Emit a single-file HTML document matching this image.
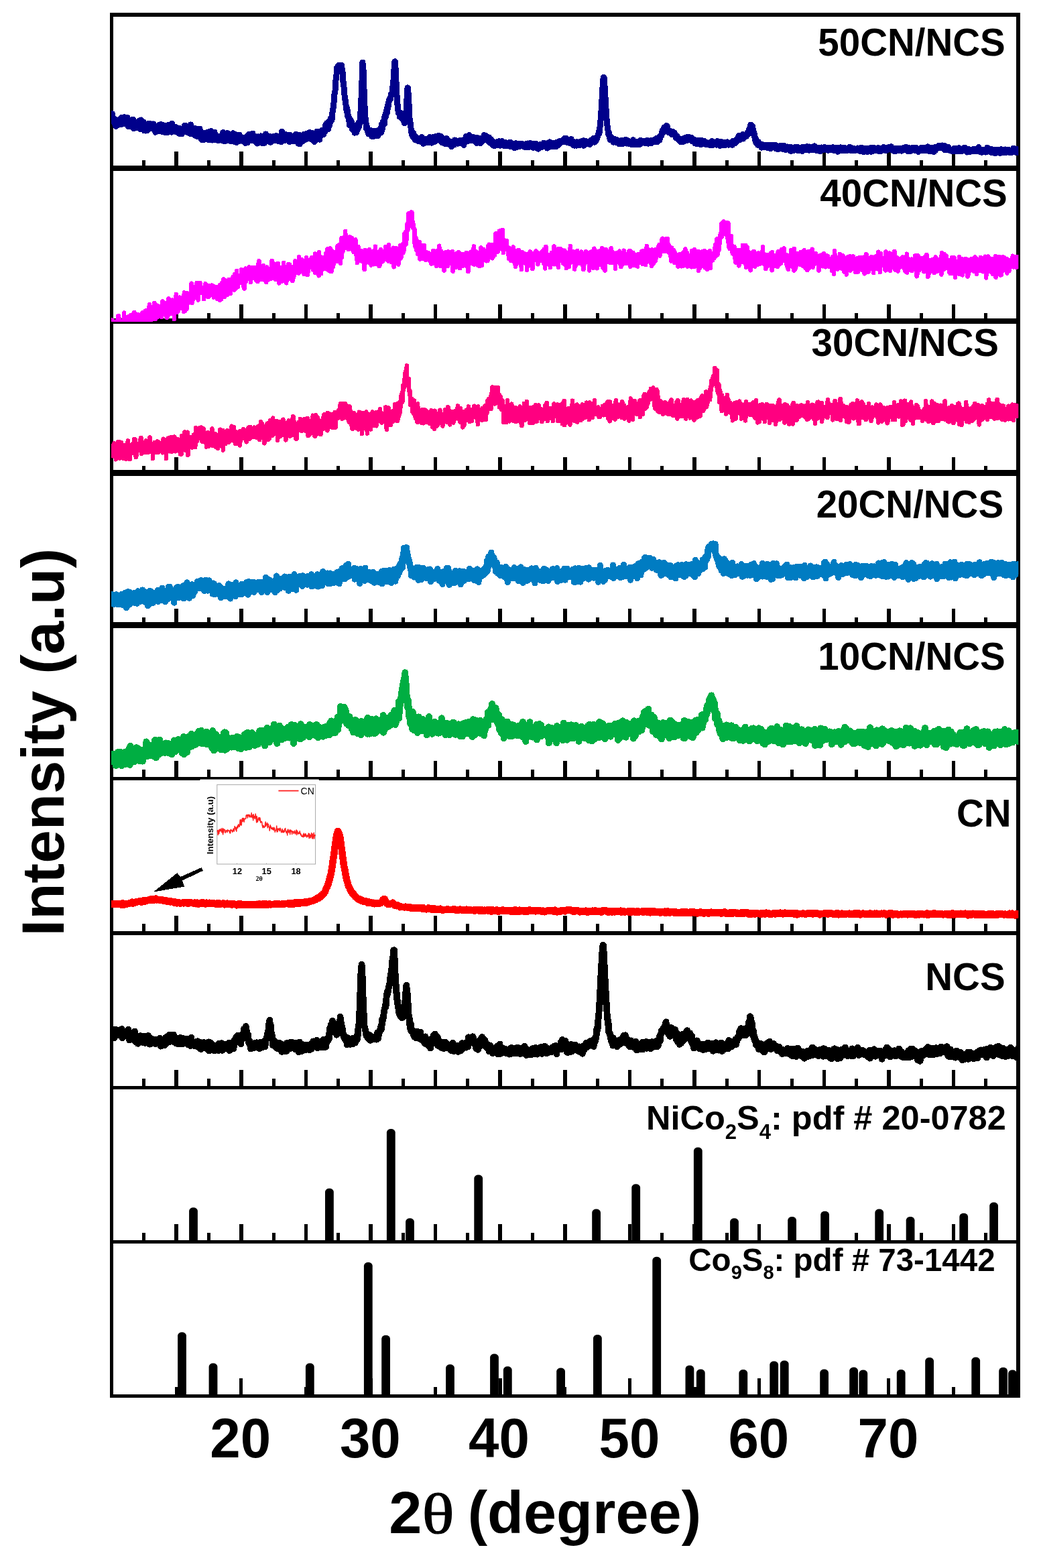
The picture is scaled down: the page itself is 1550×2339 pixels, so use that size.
<!DOCTYPE html>
<html lang="en"><head><meta charset="utf-8"><title>XRD patterns</title>
<style>
html,body{margin:0;padding:0;background:#fff;}
svg{display:block;}
text{font-family:"Liberation Sans",Arial,Helvetica,sans-serif;font-weight:bold;fill:#000;}
.c{fill:none;stroke-linejoin:round;stroke-linecap:butt;}
</style></head><body>
<svg width="1550" height="2339" viewBox="0 0 1550 2339">
<rect width="1550" height="2339" fill="#fff"/>
<defs>
<clipPath id="cp0"><rect x="166.0" y="22.0" width="1353.3" height="229.5"/></clipPath>
<clipPath id="cp1"><rect x="166.0" y="251.0" width="1353.3" height="229.0"/></clipPath>
<clipPath id="cp2"><rect x="166.0" y="479.0" width="1353.3" height="227.0"/></clipPath>
<clipPath id="cp3"><rect x="166.0" y="706.0" width="1353.3" height="227.0"/></clipPath>
<clipPath id="cp4"><rect x="166.0" y="933.0" width="1353.3" height="229.0"/></clipPath>
<clipPath id="cp5"><rect x="166.0" y="1162.0" width="1353.3" height="230.0"/></clipPath>
<clipPath id="cp6"><rect x="166.0" y="1392.0" width="1353.3" height="230.5"/></clipPath>
</defs>
<g fill="#000" shape-rendering="crispEdges">
<rect x="163.9" y="19.1" width="1357.9" height="5.7"/>
<rect x="163.9" y="247.0" width="1357.9" height="8.0"/>
<rect x="163.9" y="475.2" width="1357.9" height="7.6"/>
<rect x="163.9" y="701.2" width="1357.9" height="8.9"/>
<rect x="163.9" y="928.2" width="1357.9" height="8.9"/>
<rect x="163.9" y="1158.9" width="1357.9" height="5.1"/>
<rect x="163.9" y="1389.1" width="1357.9" height="5.7"/>
<rect x="163.9" y="1619.8" width="1357.9" height="5.1"/>
<rect x="163.9" y="1849.8" width="1357.9" height="5.2"/>
<rect x="163.9" y="2080.0" width="1357.9" height="5.2"/>
<rect x="163.9" y="19.1" width="5.2" height="2066.1"/>
<rect x="1516.1" y="19.1" width="5.7" height="2066.1"/>
<rect x="212.3" y="239.0" width="5.0" height="9.0"/>
<rect x="260.4" y="226.0" width="5.5" height="22.0"/>
<rect x="308.9" y="239.0" width="5.0" height="9.0"/>
<rect x="357.0" y="226.0" width="5.5" height="22.0"/>
<rect x="405.5" y="239.0" width="5.0" height="9.0"/>
<rect x="453.6" y="226.0" width="5.5" height="22.0"/>
<rect x="502.2" y="239.0" width="5.0" height="9.0"/>
<rect x="550.2" y="226.0" width="5.5" height="22.0"/>
<rect x="598.8" y="239.0" width="5.0" height="9.0"/>
<rect x="646.8" y="226.0" width="5.5" height="22.0"/>
<rect x="695.4" y="239.0" width="5.0" height="9.0"/>
<rect x="743.4" y="226.0" width="5.5" height="22.0"/>
<rect x="792.0" y="239.0" width="5.0" height="9.0"/>
<rect x="840.1" y="226.0" width="5.5" height="22.0"/>
<rect x="888.6" y="239.0" width="5.0" height="9.0"/>
<rect x="936.7" y="226.0" width="5.5" height="22.0"/>
<rect x="985.2" y="239.0" width="5.0" height="9.0"/>
<rect x="1033.3" y="226.0" width="5.5" height="22.0"/>
<rect x="1081.8" y="239.0" width="5.0" height="9.0"/>
<rect x="1129.9" y="226.0" width="5.5" height="22.0"/>
<rect x="1178.5" y="239.0" width="5.0" height="9.0"/>
<rect x="1226.5" y="226.0" width="5.5" height="22.0"/>
<rect x="1275.1" y="239.0" width="5.0" height="9.0"/>
<rect x="1323.1" y="226.0" width="5.5" height="22.0"/>
<rect x="1371.7" y="239.0" width="5.0" height="9.0"/>
<rect x="1419.7" y="226.0" width="5.5" height="22.0"/>
<rect x="1468.3" y="239.0" width="5.0" height="9.0"/>
<rect x="212.3" y="467.2" width="5.0" height="9.0"/>
<rect x="260.4" y="453.9" width="5.5" height="22.3"/>
<rect x="308.9" y="467.2" width="5.0" height="9.0"/>
<rect x="357.0" y="453.9" width="5.5" height="22.3"/>
<rect x="405.5" y="467.2" width="5.0" height="9.0"/>
<rect x="453.6" y="453.9" width="5.5" height="22.3"/>
<rect x="502.2" y="467.2" width="5.0" height="9.0"/>
<rect x="550.2" y="453.9" width="5.5" height="22.3"/>
<rect x="598.8" y="467.2" width="5.0" height="9.0"/>
<rect x="646.8" y="453.9" width="5.5" height="22.3"/>
<rect x="695.4" y="467.2" width="5.0" height="9.0"/>
<rect x="743.4" y="453.9" width="5.5" height="22.3"/>
<rect x="792.0" y="467.2" width="5.0" height="9.0"/>
<rect x="840.1" y="453.9" width="5.5" height="22.3"/>
<rect x="888.6" y="467.2" width="5.0" height="9.0"/>
<rect x="936.7" y="453.9" width="5.5" height="22.3"/>
<rect x="985.2" y="467.2" width="5.0" height="9.0"/>
<rect x="1033.3" y="453.9" width="5.5" height="22.3"/>
<rect x="1081.8" y="467.2" width="5.0" height="9.0"/>
<rect x="1129.9" y="453.9" width="5.5" height="22.3"/>
<rect x="1178.5" y="467.2" width="5.0" height="9.0"/>
<rect x="1226.5" y="453.9" width="5.5" height="22.3"/>
<rect x="1275.1" y="467.2" width="5.0" height="9.0"/>
<rect x="1323.1" y="453.9" width="5.5" height="22.3"/>
<rect x="1371.7" y="467.2" width="5.0" height="9.0"/>
<rect x="1419.7" y="453.9" width="5.5" height="22.3"/>
<rect x="1468.3" y="467.2" width="5.0" height="9.0"/>
<rect x="212.3" y="694.5" width="5.0" height="7.7"/>
<rect x="260.4" y="681.9" width="5.5" height="20.3"/>
<rect x="308.9" y="694.5" width="5.0" height="7.7"/>
<rect x="357.0" y="681.9" width="5.5" height="20.3"/>
<rect x="405.5" y="694.5" width="5.0" height="7.7"/>
<rect x="453.6" y="681.9" width="5.5" height="20.3"/>
<rect x="502.2" y="694.5" width="5.0" height="7.7"/>
<rect x="550.2" y="681.9" width="5.5" height="20.3"/>
<rect x="598.8" y="694.5" width="5.0" height="7.7"/>
<rect x="646.8" y="681.9" width="5.5" height="20.3"/>
<rect x="695.4" y="694.5" width="5.0" height="7.7"/>
<rect x="743.4" y="681.9" width="5.5" height="20.3"/>
<rect x="792.0" y="694.5" width="5.0" height="7.7"/>
<rect x="840.1" y="681.9" width="5.5" height="20.3"/>
<rect x="888.6" y="694.5" width="5.0" height="7.7"/>
<rect x="936.7" y="681.9" width="5.5" height="20.3"/>
<rect x="985.2" y="694.5" width="5.0" height="7.7"/>
<rect x="1033.3" y="681.9" width="5.5" height="20.3"/>
<rect x="1081.8" y="694.5" width="5.0" height="7.7"/>
<rect x="1129.9" y="681.9" width="5.5" height="20.3"/>
<rect x="1178.5" y="694.5" width="5.0" height="7.7"/>
<rect x="1226.5" y="681.9" width="5.5" height="20.3"/>
<rect x="1275.1" y="694.5" width="5.0" height="7.7"/>
<rect x="1323.1" y="681.9" width="5.5" height="20.3"/>
<rect x="1371.7" y="694.5" width="5.0" height="7.7"/>
<rect x="1419.7" y="681.9" width="5.5" height="20.3"/>
<rect x="1468.3" y="694.5" width="5.0" height="7.7"/>
<rect x="212.3" y="921.1" width="5.0" height="8.1"/>
<rect x="260.4" y="908.3" width="5.5" height="20.9"/>
<rect x="308.9" y="921.1" width="5.0" height="8.1"/>
<rect x="357.0" y="908.3" width="5.5" height="20.9"/>
<rect x="405.5" y="921.1" width="5.0" height="8.1"/>
<rect x="453.6" y="908.3" width="5.5" height="20.9"/>
<rect x="502.2" y="921.1" width="5.0" height="8.1"/>
<rect x="550.2" y="908.3" width="5.5" height="20.9"/>
<rect x="598.8" y="921.1" width="5.0" height="8.1"/>
<rect x="646.8" y="908.3" width="5.5" height="20.9"/>
<rect x="695.4" y="921.1" width="5.0" height="8.1"/>
<rect x="743.4" y="908.3" width="5.5" height="20.9"/>
<rect x="792.0" y="921.1" width="5.0" height="8.1"/>
<rect x="840.1" y="908.3" width="5.5" height="20.9"/>
<rect x="888.6" y="921.1" width="5.0" height="8.1"/>
<rect x="936.7" y="908.3" width="5.5" height="20.9"/>
<rect x="985.2" y="921.1" width="5.0" height="8.1"/>
<rect x="1033.3" y="908.3" width="5.5" height="20.9"/>
<rect x="1081.8" y="921.1" width="5.0" height="8.1"/>
<rect x="1129.9" y="908.3" width="5.5" height="20.9"/>
<rect x="1178.5" y="921.1" width="5.0" height="8.1"/>
<rect x="1226.5" y="908.3" width="5.5" height="20.9"/>
<rect x="1275.1" y="921.1" width="5.0" height="8.1"/>
<rect x="1323.1" y="908.3" width="5.5" height="20.9"/>
<rect x="1371.7" y="921.1" width="5.0" height="8.1"/>
<rect x="1419.7" y="908.3" width="5.5" height="20.9"/>
<rect x="1468.3" y="921.1" width="5.0" height="8.1"/>
<rect x="212.3" y="1148.0" width="5.0" height="11.9"/>
<rect x="260.4" y="1135.1" width="5.5" height="24.8"/>
<rect x="308.9" y="1148.0" width="5.0" height="11.9"/>
<rect x="357.0" y="1135.1" width="5.5" height="24.8"/>
<rect x="405.5" y="1148.0" width="5.0" height="11.9"/>
<rect x="453.6" y="1135.1" width="5.5" height="24.8"/>
<rect x="502.2" y="1148.0" width="5.0" height="11.9"/>
<rect x="550.2" y="1135.1" width="5.5" height="24.8"/>
<rect x="598.8" y="1148.0" width="5.0" height="11.9"/>
<rect x="646.8" y="1135.1" width="5.5" height="24.8"/>
<rect x="695.4" y="1148.0" width="5.0" height="11.9"/>
<rect x="743.4" y="1135.1" width="5.5" height="24.8"/>
<rect x="792.0" y="1148.0" width="5.0" height="11.9"/>
<rect x="840.1" y="1135.1" width="5.5" height="24.8"/>
<rect x="888.6" y="1148.0" width="5.0" height="11.9"/>
<rect x="936.7" y="1135.1" width="5.5" height="24.8"/>
<rect x="985.2" y="1148.0" width="5.0" height="11.9"/>
<rect x="1033.3" y="1135.1" width="5.5" height="24.8"/>
<rect x="1081.8" y="1148.0" width="5.0" height="11.9"/>
<rect x="1129.9" y="1135.1" width="5.5" height="24.8"/>
<rect x="1178.5" y="1148.0" width="5.0" height="11.9"/>
<rect x="1226.5" y="1135.1" width="5.5" height="24.8"/>
<rect x="1275.1" y="1148.0" width="5.0" height="11.9"/>
<rect x="1323.1" y="1135.1" width="5.5" height="24.8"/>
<rect x="1371.7" y="1148.0" width="5.0" height="11.9"/>
<rect x="1419.7" y="1135.1" width="5.5" height="24.8"/>
<rect x="1468.3" y="1148.0" width="5.0" height="11.9"/>
<rect x="212.3" y="1378.2" width="5.0" height="11.9"/>
<rect x="260.4" y="1366.0" width="5.5" height="24.1"/>
<rect x="308.9" y="1378.2" width="5.0" height="11.9"/>
<rect x="357.0" y="1366.0" width="5.5" height="24.1"/>
<rect x="405.5" y="1378.2" width="5.0" height="11.9"/>
<rect x="453.6" y="1366.0" width="5.5" height="24.1"/>
<rect x="502.2" y="1378.2" width="5.0" height="11.9"/>
<rect x="550.2" y="1366.0" width="5.5" height="24.1"/>
<rect x="598.8" y="1378.2" width="5.0" height="11.9"/>
<rect x="646.8" y="1366.0" width="5.5" height="24.1"/>
<rect x="695.4" y="1378.2" width="5.0" height="11.9"/>
<rect x="743.4" y="1366.0" width="5.5" height="24.1"/>
<rect x="792.0" y="1378.2" width="5.0" height="11.9"/>
<rect x="840.1" y="1366.0" width="5.5" height="24.1"/>
<rect x="888.6" y="1378.2" width="5.0" height="11.9"/>
<rect x="936.7" y="1366.0" width="5.5" height="24.1"/>
<rect x="985.2" y="1378.2" width="5.0" height="11.9"/>
<rect x="1033.3" y="1366.0" width="5.5" height="24.1"/>
<rect x="1081.8" y="1378.2" width="5.0" height="11.9"/>
<rect x="1129.9" y="1366.0" width="5.5" height="24.1"/>
<rect x="1178.5" y="1378.2" width="5.0" height="11.9"/>
<rect x="1226.5" y="1366.0" width="5.5" height="24.1"/>
<rect x="1275.1" y="1378.2" width="5.0" height="11.9"/>
<rect x="1323.1" y="1366.0" width="5.5" height="24.1"/>
<rect x="1371.7" y="1378.2" width="5.0" height="11.9"/>
<rect x="1419.7" y="1366.0" width="5.5" height="24.1"/>
<rect x="1468.3" y="1378.2" width="5.0" height="11.9"/>
<rect x="212.3" y="1609.2" width="5.0" height="11.6"/>
<rect x="260.4" y="1596.0" width="5.5" height="24.8"/>
<rect x="308.9" y="1609.2" width="5.0" height="11.6"/>
<rect x="357.0" y="1596.0" width="5.5" height="24.8"/>
<rect x="405.5" y="1609.2" width="5.0" height="11.6"/>
<rect x="453.6" y="1596.0" width="5.5" height="24.8"/>
<rect x="502.2" y="1609.2" width="5.0" height="11.6"/>
<rect x="550.2" y="1596.0" width="5.5" height="24.8"/>
<rect x="598.8" y="1609.2" width="5.0" height="11.6"/>
<rect x="646.8" y="1596.0" width="5.5" height="24.8"/>
<rect x="695.4" y="1609.2" width="5.0" height="11.6"/>
<rect x="743.4" y="1596.0" width="5.5" height="24.8"/>
<rect x="792.0" y="1609.2" width="5.0" height="11.6"/>
<rect x="840.1" y="1596.0" width="5.5" height="24.8"/>
<rect x="888.6" y="1609.2" width="5.0" height="11.6"/>
<rect x="936.7" y="1596.0" width="5.5" height="24.8"/>
<rect x="985.2" y="1609.2" width="5.0" height="11.6"/>
<rect x="1033.3" y="1596.0" width="5.5" height="24.8"/>
<rect x="1081.8" y="1609.2" width="5.0" height="11.6"/>
<rect x="1129.9" y="1596.0" width="5.5" height="24.8"/>
<rect x="1178.5" y="1609.2" width="5.0" height="11.6"/>
<rect x="1226.5" y="1596.0" width="5.5" height="24.8"/>
<rect x="1275.1" y="1609.2" width="5.0" height="11.6"/>
<rect x="1323.1" y="1596.0" width="5.5" height="24.8"/>
<rect x="1371.7" y="1609.2" width="5.0" height="11.6"/>
<rect x="1419.7" y="1596.0" width="5.5" height="24.8"/>
<rect x="1468.3" y="1609.2" width="5.0" height="11.6"/>
<rect x="212.3" y="1838.8" width="5.0" height="12.0"/>
<rect x="260.4" y="1826.0" width="5.5" height="24.8"/>
<rect x="308.9" y="1838.8" width="5.0" height="12.0"/>
<rect x="357.0" y="1826.0" width="5.5" height="24.8"/>
<rect x="405.5" y="1838.8" width="5.0" height="12.0"/>
<rect x="453.6" y="1826.0" width="5.5" height="24.8"/>
<rect x="502.2" y="1838.8" width="5.0" height="12.0"/>
<rect x="550.2" y="1826.0" width="5.5" height="24.8"/>
<rect x="598.8" y="1838.8" width="5.0" height="12.0"/>
<rect x="646.8" y="1826.0" width="5.5" height="24.8"/>
<rect x="695.4" y="1838.8" width="5.0" height="12.0"/>
<rect x="743.4" y="1826.0" width="5.5" height="24.8"/>
<rect x="792.0" y="1838.8" width="5.0" height="12.0"/>
<rect x="840.1" y="1826.0" width="5.5" height="24.8"/>
<rect x="888.6" y="1838.8" width="5.0" height="12.0"/>
<rect x="936.7" y="1826.0" width="5.5" height="24.8"/>
<rect x="985.2" y="1838.8" width="5.0" height="12.0"/>
<rect x="1033.3" y="1826.0" width="5.5" height="24.8"/>
<rect x="1081.8" y="1838.8" width="5.0" height="12.0"/>
<rect x="1129.9" y="1826.0" width="5.5" height="24.8"/>
<rect x="1178.5" y="1838.8" width="5.0" height="12.0"/>
<rect x="1226.5" y="1826.0" width="5.5" height="24.8"/>
<rect x="1275.1" y="1838.8" width="5.0" height="12.0"/>
<rect x="1323.1" y="1826.0" width="5.5" height="24.8"/>
<rect x="1371.7" y="1838.8" width="5.0" height="12.0"/>
<rect x="1419.7" y="1826.0" width="5.5" height="24.8"/>
<rect x="1468.3" y="1838.8" width="5.0" height="12.0"/>
<rect x="260.6" y="2068.8" width="5.0" height="12.2"/>
<rect x="357.2" y="2056.0" width="5.0" height="25.0"/>
<rect x="453.8" y="2068.8" width="5.0" height="12.2"/>
<rect x="550.5" y="2056.0" width="5.0" height="25.0"/>
<rect x="647.1" y="2068.8" width="5.0" height="12.2"/>
<rect x="743.7" y="2056.0" width="5.0" height="25.0"/>
<rect x="840.3" y="2068.8" width="5.0" height="12.2"/>
<rect x="936.9" y="2056.0" width="5.0" height="25.0"/>
<rect x="1033.5" y="2068.8" width="5.0" height="12.2"/>
<rect x="1130.2" y="2056.0" width="5.0" height="25.0"/>
<rect x="1226.8" y="2068.8" width="5.0" height="12.2"/>
<rect x="1323.4" y="2056.0" width="5.0" height="25.0"/>
<rect x="1420.0" y="2068.8" width="5.0" height="12.2"/>
</g>
<g fill="#000">
<path d="M282.1 1850.5V1806.3A6.4 5.1 0 0 1 294.9 1806.3V1850.5Z"/>
<path d="M485.0 1850.5V1777.8A6.4 5.1 0 0 1 497.8 1777.8V1850.5Z"/>
<path d="M576.9 1850.5V1689.2A6.4 5.1 0 0 1 589.7 1689.2V1850.5Z"/>
<path d="M605.1 1850.5V1822.4A6.4 5.1 0 0 1 617.9 1822.4V1850.5Z"/>
<path d="M707.3 1850.5V1757.6A6.4 5.1 0 0 1 720.1 1757.6V1850.5Z"/>
<path d="M883.2 1850.5V1808.7A6.4 5.1 0 0 1 896.0 1808.7V1850.5Z"/>
<path d="M942.3 1850.5V1771.3A6.4 5.1 0 0 1 955.1 1771.3V1850.5Z"/>
<path d="M1034.9 1850.5V1716.5A6.4 5.1 0 0 1 1047.7 1716.5V1850.5Z"/>
<path d="M1089.1 1850.5V1822.4A6.4 5.1 0 0 1 1101.9 1822.4V1850.5Z"/>
<path d="M1175.2 1850.5V1820.2A6.4 5.1 0 0 1 1188.0 1820.2V1850.5Z"/>
<path d="M1224.2 1850.5V1811.8A6.4 5.1 0 0 1 1237.0 1811.8V1850.5Z"/>
<path d="M1305.3 1850.5V1808.7A6.4 5.1 0 0 1 1318.1 1808.7V1850.5Z"/>
<path d="M1351.7 1850.5V1820.2A6.4 5.1 0 0 1 1364.5 1820.2V1850.5Z"/>
<path d="M1431.3 1850.5V1814.9A6.4 5.1 0 0 1 1444.1 1814.9V1850.5Z"/>
<path d="M1476.2 1850.5V1798.5A6.4 5.1 0 0 1 1489.0 1798.5V1850.5Z"/>
<path d="M265.1 2080.5V1992.3A6.4 5.1 0 0 1 277.9 1992.3V2080.5Z"/>
<path d="M311.6 2080.5V2038.7A6.4 5.1 0 0 1 324.4 2038.7V2080.5Z"/>
<path d="M455.9 2080.5V2038.7A6.4 5.1 0 0 1 468.7 2038.7V2080.5Z"/>
<path d="M542.9 2080.5V1888.2A6.4 5.1 0 0 1 555.7 1888.2V2080.5Z"/>
<path d="M569.2 2080.5V1996.9A6.4 5.1 0 0 1 582.0 1996.9V2080.5Z"/>
<path d="M665.1 2080.5V2040.3A6.4 5.1 0 0 1 677.9 2040.3V2080.5Z"/>
<path d="M731.1 2080.5V2024.5A6.4 5.1 0 0 1 743.9 2024.5V2080.5Z"/>
<path d="M750.9 2080.5V2043.4A6.4 5.1 0 0 1 763.7 2043.4V2080.5Z"/>
<path d="M830.2 2080.5V2045.6A6.4 5.1 0 0 1 843.0 2045.6V2080.5Z"/>
<path d="M885.0 2080.5V1996.0A6.4 5.1 0 0 1 897.8 1996.0V2080.5Z"/>
<path d="M973.3 2080.5V1879.9A6.4 5.1 0 0 1 986.1 1879.9V2080.5Z"/>
<path d="M1022.5 2080.5V2041.8A6.4 5.1 0 0 1 1035.3 2041.8V2080.5Z"/>
<path d="M1038.9 2080.5V2047.7A6.4 5.1 0 0 1 1051.7 2047.7V2080.5Z"/>
<path d="M1102.4 2080.5V2048.0A6.4 5.1 0 0 1 1115.2 2048.0V2080.5Z"/>
<path d="M1148.3 2080.5V2035.6A6.4 5.1 0 0 1 1161.1 2035.6V2080.5Z"/>
<path d="M1163.8 2080.5V2034.7A6.4 5.1 0 0 1 1176.6 2034.7V2080.5Z"/>
<path d="M1223.2 2080.5V2047.7A6.4 5.1 0 0 1 1236.0 2047.7V2080.5Z"/>
<path d="M1267.2 2080.5V2044.6A6.4 5.1 0 0 1 1280.0 2044.6V2080.5Z"/>
<path d="M1281.4 2080.5V2048.7A6.4 5.1 0 0 1 1294.2 2048.7V2080.5Z"/>
<path d="M1337.8 2080.5V2048.0A6.4 5.1 0 0 1 1350.6 2048.0V2080.5Z"/>
<path d="M1380.2 2080.5V2030.1A6.4 5.1 0 0 1 1393.0 2030.1V2080.5Z"/>
<path d="M1449.3 2080.5V2029.5A6.4 5.1 0 0 1 1462.1 2029.5V2080.5Z"/>
<path d="M1490.2 2080.5V2044.9A6.4 5.1 0 0 1 1503.0 2044.9V2080.5Z"/>
<path d="M1504.1 2080.5V2048.7A6.4 5.1 0 0 1 1516.9 2048.7V2080.5Z"/>
</g>
<g clip-path="url(#cp0)" shape-rendering="crispEdges"><path class="c" stroke="#00008B" stroke-width="9.0" d="M166 183.6L166.4 177.1L166.8 176.7L167.2 169.6L167.6 179.2L168 178.3L168.4 177.7L168.8 181.3L169.2 181.7L169.6 177L170 177.7L170.4 179L170.8 183.7L171.2 183.8L171.6 177.8L172 178.6L172.4 185.5L172.8 188.4L173.2 183L173.6 180L174 186.3L174.4 180.7L174.8 184.8L175.2 187L175.6 183.8L176 181.6L176.4 183.8L176.8 179.3L177.2 180.7L177.6 179.1L178 179.9L178.4 178.3L178.8 179.6L179.2 179.8L179.6 180.9L180 180.9L180.4 181.5L180.8 185.5L181.2 175.2L181.6 184.3L182 179L182.4 175.8L182.8 179.5L183.2 180.8L183.6 184.6L184 177.2L184.4 181.7L184.8 181.4L185.2 174.8L185.6 176.2L186 182.9L186.4 183.6L186.8 184.9L187.2 183.4L187.6 183L188 181.4L188.4 185.1L188.8 178L189.2 180.6L189.6 181.8L190 175.5L190.4 185.9L190.8 179L191.2 181.3L191.6 188.8L192 178.9L192.4 180.5L192.8 188.4L193.2 179.5L193.6 182.2L194 185.4L194.4 185.8L194.8 185.7L195.2 184.3L195.6 188.6L196 187.5L196.4 185.8L196.8 182.6L197.2 182.3L197.6 178.3L198 186.6L198.4 178.4L198.8 187.8L199.2 191.9L199.6 182.5L200 184.2L200.4 185.1L200.8 189.9L201.2 183.5L201.6 186L202 184.2L202.4 185.4L202.8 190.5L203.2 182.5L203.6 186L204 186.6L204.4 188.8L204.8 182L205.2 190.1L205.6 187.5L206 188.8L206.4 186.2L206.8 180.5L207.2 184.1L207.6 189.1L208 185.7L208.4 185L208.8 190.9L209.2 192.7L209.6 184.9L210 192.2L210.4 178.9L210.8 179.3L211.2 188.7L211.6 185.1L212 188.3L212.4 188.6L212.8 187.3L213.2 189.7L213.6 187.7L214 182.3L214.4 188.2L214.8 189.1L215.2 195L215.6 185.2L216 189L216.4 187.1L216.8 189L217.2 195.1L217.6 191.1L218 188L218.4 189.8L218.8 191.6L219.2 185.5L219.6 188L220 194.6L220.4 192.7L220.8 189.4L221.2 188.3L221.6 189.2L222 184L222.4 192L222.8 189.8L223.2 188.9L223.6 184.2L224 185.8L224.4 190.2L224.8 189L225.2 187L225.6 190.2L226 191.5L226.4 186.1L226.8 187.3L227.2 186.3L227.6 185L228 191.7L228.4 190.8L228.8 190.1L229.2 185L229.6 185.9L230 188.8L230.4 188L230.8 190L231.2 188.2L231.6 193.5L232 197.4L232.4 196.1L232.8 196.2L233.2 190.7L233.6 194.1L234 189.1L234.4 193L234.8 188.9L235.2 188.8L235.6 187.6L236 192.7L236.4 191.5L236.8 191.9L237.2 187.3L237.6 191.6L238 186.1L238.4 195.9L238.8 190.7L239.2 191.8L239.6 190.9L240 185.4L240.4 186.2L240.8 191L241.2 196.2L241.6 188.1L242 189.4L242.4 191.6L242.8 186.6L243.2 186.7L243.6 191.1L244 192.2L244.4 191.2L244.8 197.1L245.2 191.5L245.6 192.8L246 197.3L246.4 197.9L246.8 187.1L247.2 190.8L247.6 196L248 187.9L248.4 189.2L248.8 188.5L249.2 187.6L249.6 188.2L250 192.6L250.4 196L250.8 197.3L251.2 192.4L251.6 186.3L252 192.8L252.4 192.2L252.8 194.6L253.2 192.3L253.6 186.7L254 194.2L254.4 185.8L254.8 189.8L255.2 192.5L255.6 192.6L256 197.2L256.4 184.1L256.8 192.9L257.2 194.3L257.6 191.1L258 194.8L258.4 188.7L258.8 194.5L259.2 194L259.6 189.3L260 189.7L260.4 191L260.8 189.1L261.2 195L261.6 191.7L262 196.5L262.4 196.4L262.8 193.1L263.2 192.7L263.6 190.2L264 191.8L264.4 191.9L264.8 195.4L265.2 191L265.6 194.3L266 194.9L266.4 192.5L266.8 193.3L267.2 199.3L267.6 199.2L268 191.5L268.4 193.1L268.8 192.9L269.2 193.7L269.6 199.6L270 196.2L270.4 198.1L270.8 200L271.2 192.6L271.6 193.4L272 194.4L272.4 197.5L272.8 192.8L273.2 195.1L273.6 196.8L274 197.2L274.4 194.6L274.8 190.5L275.2 187.6L275.6 196.5L276 193.8L276.4 189.6L276.8 191.1L277.2 191.5L277.6 187.7L278 193.2L278.4 189.6L278.8 191.5L279.2 195.2L279.6 192.3L280 194.3L280.4 193.2L280.8 191.1L281.2 191.9L281.6 198.4L282 192L282.4 198.1L282.8 190.5L283.2 195.7L283.6 194.1L284 192L284.4 185.9L284.8 199.9L285.2 191L285.6 192.1L286 196L286.4 195.6L286.8 196.7L287.2 195.8L287.6 191.2L288 199.3L288.4 194L288.8 197.8L289.2 199.2L289.6 201.3L290 197L290.4 196.7L290.8 197.3L291.2 191.7L291.6 194.6L292 194.7L292.4 193.9L292.8 198.2L293.2 197.1L293.6 203.4L294 203.6L294.4 192.5L294.8 199.5L295.2 195.9L295.6 201.4L296 200.5L296.4 203.3L296.8 200.8L297.2 202.1L297.6 198.8L298 192.3L298.4 197.3L298.8 198.3L299.2 199.8L299.6 198L300 207.7L300.4 202.7L300.8 206.7L301.2 202.6L301.6 209L302 199.9L302.4 205.6L302.8 199.1L303.2 205.4L303.6 208.6L304 198.1L304.4 200.3L304.8 203.8L305.2 202.7L305.6 199L306 206.5L306.4 202.9L306.8 206.8L307.2 203.3L307.6 198.5L308 201.1L308.4 207.4L308.8 197.7L309.2 200.5L309.6 203.8L310 204.6L310.4 204.5L310.8 196.8L311.2 208.9L311.6 201.9L312 201.7L312.4 201.7L312.8 201.2L313.2 199.3L313.6 201.2L314 206.5L314.4 198.1L314.8 195.4L315.2 205.3L315.6 204.4L316 205.7L316.4 209.1L316.8 200.4L317.2 203.5L317.6 204.8L318 206.7L318.4 206.2L318.8 200.4L319.2 198.1L319.6 201.6L320 197.1L320.4 206.4L320.8 201.5L321.2 201.9L321.6 200.8L322 208.9L322.4 205.3L322.8 203.5L323.2 206.7L323.6 204.8L324 206.8L324.4 209.4L324.8 204.8L325.2 207.2L325.6 207.4L326 209.8L326.4 208.3L326.8 206.5L327.2 204.5L327.6 207L328 203L328.4 208.5L328.8 206.5L329.2 207.9L329.6 205.1L330 204.3L330.4 203.7L330.8 209.6L331.2 204.9L331.6 205.1L332 200.5L332.4 205.7L332.8 197.4L333.2 210.3L333.6 205.3L334 206.4L334.4 201.6L334.8 202.1L335.2 207.1L335.6 204.9L336 207.3L336.4 210.4L336.8 208.4L337.2 200.4L337.6 203.2L338 202.7L338.4 202.8L338.8 198.9L339.2 198.4L339.6 202.8L340 203.1L340.4 206.6L340.8 203.5L341.2 209.7L341.6 199.9L342 201.3L342.4 206.1L342.8 204.3L343.2 202.3L343.6 208.2L344 209.6L344.4 210.6L344.8 204.9L345.2 206L345.6 206.3L346 205.4L346.4 208.6L346.8 203.6L347.2 206.9L347.6 198.8L348 208.6L348.4 211.1L348.8 205.6L349.2 208.6L349.6 200.6L350 204.3L350.4 200.4L350.8 205.6L351.2 206.5L351.6 200.8L352 202.6L352.4 203.3L352.8 212.7L353.2 204.8L353.6 205.5L354 206.3L354.4 206.6L354.8 205.1L355.2 201.7L355.6 203.8L356 210.9L356.4 206.4L356.8 204.5L357.2 201.2L357.6 206.1L358 206.3L358.4 203.9L358.8 209.2L359.2 204.4L359.6 205.9L360 208.9L360.4 207L360.8 210.1L361.2 206L361.6 205.3L362 208.5L362.4 207.8L362.8 210.5L363.2 208.4L363.6 207.8L364 209.4L364.4 210.9L364.8 205.8L365.2 209L365.6 208.5L366 213.5L366.4 208L366.8 212.8L367.2 205.5L367.6 208.6L368 212.1L368.4 208.6L368.8 212.9L369.2 202.2L369.6 208.1L370 208.2L370.4 207.2L370.8 202.1L371.2 208.6L371.6 200.1L372 209.8L372.4 207.5L372.8 209.4L373.2 204.6L373.6 202L374 203.7L374.4 203.7L374.8 207L375.2 203.7L375.6 206.2L376 206.4L376.4 209.7L376.8 199.1L377.2 204.3L377.6 207.4L378 208.3L378.4 205.1L378.8 205.9L379.2 206.6L379.6 207.8L380 205.7L380.4 205.4L380.8 203.5L381.2 205.9L381.6 211.4L382 204.2L382.4 209.6L382.8 212.8L383.2 207.3L383.6 214.1L384 206.6L384.4 212.4L384.8 207.4L385.2 203.8L385.6 208.7L386 213.1L386.4 206.2L386.8 209.1L387.2 204.2L387.6 204.5L388 208.2L388.4 205.8L388.8 208.3L389.2 209.7L389.6 202.8L390 203.9L390.4 206.2L390.8 213.3L391.2 205.3L391.6 205.1L392 208.4L392.4 213.3L392.8 205.4L393.2 205.9L393.6 207.3L394 209.1L394.4 213.2L394.8 202.5L395.2 201.2L395.6 206.8L396 208.2L396.4 199.9L396.8 205.5L397.2 210.5L397.6 205.8L398 209.3L398.4 208.1L398.8 209.7L399.2 208.9L399.6 208L400 210.6L400.4 204.6L400.8 206.2L401.2 209.2L401.6 204.3L402 204.7L402.4 203.3L402.8 203.3L403.2 212.3L403.6 207.7L404 211.6L404.4 207.8L404.8 205.7L405.2 204.8L405.6 207L406 206.4L406.4 209.1L406.8 203.9L407.2 206.6L407.6 207.5L408 204.9L408.4 205.5L408.8 208.4L409.2 209.1L409.6 207.4L410 207.9L410.4 205.9L410.8 209.8L411.2 207.4L411.6 202.6L412 206.6L412.4 208.8L412.8 207.3L413.2 204L413.6 208.6L414 207.8L414.4 207.7L414.8 210.2L415.2 205.1L415.6 207.7L416 205.5L416.4 209.3L416.8 210L417.2 207.8L417.6 208.4L418 203.4L418.4 207.3L418.8 201.7L419.2 211.7L419.6 208L420 199.8L420.4 196.5L420.8 208.4L421.2 202.3L421.6 207.1L422 201.5L422.4 206.4L422.8 204.3L423.2 207.3L423.6 204.6L424 210L424.4 203L424.8 209.6L425.2 205.3L425.6 207.4L426 200.9L426.4 200.6L426.8 209L427.2 202.4L427.6 205.4L428 205.3L428.4 203.8L428.8 207.6L429.2 202.7L429.6 203.4L430 209.6L430.4 204.3L430.8 208.7L431.2 208.2L431.6 211.5L432 208.7L432.4 201.3L432.8 205.1L433.2 205.5L433.6 210.2L434 208L434.4 205.6L434.8 208.4L435.2 206L435.6 209L436 207.6L436.4 210.7L436.8 208.5L437.2 210.6L437.6 207.8L438 209.9L438.4 207.4L438.8 209.9L439.2 208.4L439.6 208L440 206.9L440.4 206.4L440.8 208.3L441.2 200.2L441.6 210.8L442 200.5L442.4 207L442.8 206.4L443.2 209.9L443.6 208.3L444 207.5L444.4 207.5L444.8 210.4L445.2 214.3L445.6 208.6L446 201.3L446.4 205.7L446.8 208.4L447.2 215L447.6 205.2L448 206.8L448.4 209.5L448.8 208.1L449.2 203.5L449.6 210.5L450 203.9L450.4 206.7L450.8 210.9L451.2 202.4L451.6 205.4L452 210.5L452.4 204.8L452.8 202.6L453.2 203.8L453.6 207.5L454 200L454.4 202.3L454.8 200.2L455.2 200.8L455.6 208.2L456 203.9L456.4 202.2L456.8 204.4L457.2 200.6L457.6 199.3L458 206L458.4 205.2L458.8 199.7L459.2 203.7L459.6 206.4L460 204L460.4 204.2L460.8 200.1L461.2 202.9L461.6 197.5L462 206.7L462.4 202.5L462.8 207.2L463.2 201.1L463.6 205.3L464 198.6L464.4 202L464.8 204.5L465.2 204.2L465.6 202.6L466 198.6L466.4 207.3L466.8 205.5L467.2 206.5L467.6 206.8L468 203L468.4 205.1L468.8 211.5L469.2 201.3L469.6 204.3L470 202.3L470.4 209.4L470.8 203.9L471.2 200.7L471.6 201.9L472 199.5L472.4 197.5L472.8 196.1L473.2 201.4L473.6 200L474 203.3L474.4 200.2L474.8 202.6L475.2 207.4L475.6 198.9L476 198.8L476.4 204.7L476.8 208.2L477.2 198.9L477.6 196.2L478 200.1L478.4 199.7L478.8 201.9L479.2 196.1L479.6 198.7L480 198.4L480.4 194.3L480.8 194.1L481.2 198.9L481.6 198.9L482 194.2L482.4 201L482.8 198.7L483.2 197.5L483.6 197.5L484 196.6L484.4 196.5L484.8 196.1L485.2 193.2L485.6 186.7L486 190.9L486.4 188.1L486.8 186.3L487.2 190.6L487.6 183.6L488 190.4L488.4 185.9L488.8 183.7L489.2 184.1L489.6 192.4L490 189.7L490.4 183.9L490.8 187.6L491.2 188.4L491.6 180.1L492 180.6L492.4 182.9L492.8 179.7L493.2 176.2L493.6 180.7L494 176.5L494.4 175.6L494.8 179L495.2 172.2L495.6 176.2L496 167.4L496.4 163.6L496.8 162.2L497.2 161.2L497.6 157.2L498 152.9L498.4 144L498.8 141.4L499.2 139.8L499.6 137.9L500 135.8L500.4 120.7L500.8 122.8L501.2 117.5L501.6 114.3L502 111.3L502.4 104.8L502.8 100.5L503.2 105.4L503.6 103.4L504 99.2L504.4 100.2L504.8 99L505.2 97.4L505.6 103.1L506 99.9L506.4 98.8L506.8 100.4L507.2 106.6L507.6 102.8L508 101.6L508.4 101L508.8 102.9L509.2 102.7L509.6 97.5L510 101.7L510.4 102.8L510.8 108.4L511.2 111.3L511.6 109.6L512 122.9L512.4 124.4L512.8 123.5L513.2 135.4L513.6 136.6L514 141.9L514.4 145.1L514.8 148.9L515.2 150.8L515.6 150.4L516 156.2L516.4 160.8L516.8 162.6L517.2 166.3L517.6 166.4L518 162.4L518.4 172.8L518.8 170.6L519.2 171L519.6 175.2L520 173.5L520.4 179.9L520.8 177.4L521.2 186.4L521.6 181.3L522 181.7L522.4 182.6L522.8 179L523.2 183.1L523.6 183.8L524 185.8L524.4 181.8L524.8 188.2L525.2 192.6L525.6 189.1L526 191L526.4 193L526.8 189.7L527.2 190.5L527.6 194.8L528 192.6L528.4 189L528.8 187.8L529.2 198.2L529.6 193L530 187.9L530.4 192.5L530.8 194.2L531.2 192.4L531.6 187.6L532 197.3L532.4 194.6L532.8 191.8L533.2 193.3L533.6 190.4L534 189.4L534.4 191.4L534.8 183L535.2 189.4L535.6 186.9L536 186.4L536.4 184.4L536.8 183.8L537.2 180L537.6 174.3L538 166.3L538.4 162.8L538.8 151.4L539.2 140.7L539.6 132.9L540 120.7L540.4 111L540.8 93.1L541.2 95.5L541.6 97L542 103.3L542.4 118.4L542.8 124.8L543.2 139.8L543.6 148.1L544 157.9L544.4 162.9L544.8 171.1L545.2 177.9L545.6 180.3L546 184.5L546.4 184.6L546.8 192.5L547.2 188.3L547.6 191.7L548 194.4L548.4 193.4L548.8 196.4L549.2 195.4L549.6 199.7L550 197L550.4 197.4L550.8 194.4L551.2 198L551.6 198.9L552 197.8L552.4 194.7L552.8 196.9L553.2 197.7L553.6 198.3L554 194.9L554.4 203.2L554.8 198.3L555.2 198.5L555.6 197.6L556 198.7L556.4 203.8L556.8 196.6L557.2 197.9L557.6 196.6L558 197.8L558.4 202.9L558.8 197.6L559.2 198.1L559.6 195.3L560 198.6L560.4 200.7L560.8 198.9L561.2 199.1L561.6 202.1L562 201L562.4 199.1L562.8 197.5L563.2 195.3L563.6 202.7L564 194.7L564.4 199.6L564.8 196.5L565.2 195.3L565.6 198.8L566 194L566.4 198.8L566.8 192.9L567.2 195.9L567.6 197.5L568 190.9L568.4 197.7L568.8 194L569.2 185.6L569.6 193.8L570 193.8L570.4 186.9L570.8 186.6L571.2 187.5L571.6 180.9L572 185.1L572.4 186L572.8 180.6L573.2 183.3L573.6 185L574 173.2L574.4 171.7L574.8 173.3L575.2 174.8L575.6 172.7L576 167.5L576.4 165.2L576.8 164.5L577.2 168.8L577.6 160.5L578 159.8L578.4 161.9L578.8 157.2L579.2 153.8L579.6 157.6L580 153.3L580.4 149.4L580.8 148.5L581.2 150.3L581.6 146.5L582 147.3L582.4 147.8L582.8 147.2L583.2 140.2L583.6 142.3L584 141.6L584.4 141.3L584.8 141.8L585.2 140.5L585.6 133.9L586 128.6L586.4 127.3L586.8 119.9L587.2 119.4L587.6 109.9L588 102.9L588.4 99.6L588.8 91.9L589.2 91.7L589.6 94.6L590 101.4L590.4 110.3L590.8 117.5L591.2 126.6L591.6 133L592 141.9L592.4 147L592.8 155.8L593.2 156.4L593.6 161.5L594 165.3L594.4 168.8L594.8 167.1L595.2 169.7L595.6 169.2L596 168.5L596.4 174.4L596.8 173.2L597.2 168.4L597.6 169.9L598 173.8L598.4 170.9L598.8 170.6L599.2 176.5L599.6 173.1L600 174.1L600.4 176.6L600.8 174.7L601.2 177.3L601.6 178.9L602 180.6L602.4 177.7L602.8 182.4L603.2 181.2L603.6 183.9L604 179.9L604.4 177.1L604.8 175.1L605.2 171.2L605.6 169.8L606 165.2L606.4 161L606.8 151.5L607.2 142L607.6 139L608 131L608.4 130.9L608.8 135.4L609.2 141.3L609.6 144.6L610 154.7L610.4 166.2L610.8 173.1L611.2 178.5L611.6 184.2L612 181.5L612.4 189.2L612.8 189.1L613.2 192.9L613.6 195.3L614 198.2L614.4 201.2L614.8 200.9L615.2 200.6L615.6 200.4L616 204.6L616.4 203L616.8 198.5L617.2 202.8L617.6 205.2L618 201.9L618.4 205.2L618.8 208.3L619.2 204.9L619.6 205.7L620 206L620.4 204.3L620.8 205.9L621.2 204.8L621.6 206.8L622 206.1L622.4 209.9L622.8 208L623.2 210.2L623.6 206.1L624 208.9L624.4 209.9L624.8 210.2L625.2 207L625.6 207.9L626 208.8L626.4 207.9L626.8 208.3L627.2 210.3L627.6 206.9L628 205.7L628.4 208.5L628.8 210.3L629.2 204.6L629.6 212.4L630 210.3L630.4 211.4L630.8 208.4L631.2 210.4L631.6 214.4L632 214.3L632.4 211.3L632.8 209.3L633.2 209.7L633.6 213.1L634 208.7L634.4 208.7L634.8 209.9L635.2 212L635.6 207.6L636 210.9L636.4 210.7L636.8 209.9L637.2 209.4L637.6 211.5L638 211.2L638.4 206.7L638.8 213L639.2 210.5L639.6 210L640 208.4L640.4 208.8L640.8 204.5L641.2 209.3L641.6 211.3L642 211.2L642.4 208.6L642.8 205.4L643.2 207.9L643.6 209.7L644 213.2L644.4 206.7L644.8 209.6L645.2 211L645.6 210.9L646 209.4L646.4 204.5L646.8 210.5L647.2 209.6L647.6 210.1L648 206.7L648.4 207.5L648.8 211.2L649.2 207.7L649.6 207.4L650 205.6L650.4 209.5L650.8 203.2L651.2 205.2L651.6 206.8L652 205.6L652.4 207.4L652.8 206.2L653.2 208.7L653.6 205.5L654 205.4L654.4 206.6L654.8 202.3L655.2 209.1L655.6 204.4L656 208.4L656.4 209.9L656.8 209L657.2 207.8L657.6 206.8L658 203.6L658.4 209.6L658.8 208.3L659.2 212.7L659.6 208.8L660 211L660.4 209.1L660.8 211L661.2 209.7L661.6 210.1L662 206.9L662.4 209.6L662.8 211.2L663.2 214L663.6 212L664 208.7L664.4 215L664.8 212.7L665.2 213.9L665.6 209.9L666 206.4L666.4 210.1L666.8 209.8L667.2 212.5L667.6 209.2L668 210.3L668.4 209.3L668.8 212.6L669.2 210.4L669.6 215.3L670 214L670.4 214.7L670.8 212.5L671.2 213.5L671.6 214.7L672 211.2L672.4 216L672.8 213.7L673.2 216.3L673.6 218.6L674 217.2L674.4 211.4L674.8 216.1L675.2 212.7L675.6 212.4L676 212.9L676.4 210.9L676.8 214.2L677.2 212.6L677.6 216.1L678 214.6L678.4 208.9L678.8 211.8L679.2 211.1L679.6 211.4L680 211.4L680.4 212.9L680.8 212.3L681.2 210.3L681.6 213.1L682 213.7L682.4 211.8L682.8 214.1L683.2 212.9L683.6 210.8L684 211.2L684.4 212.1L684.8 213.1L685.2 212L685.6 213.3L686 213.6L686.4 209.3L686.8 209.3L687.2 210.8L687.6 212.3L688 213.2L688.4 212.9L688.8 212.9L689.2 210L689.6 212.6L690 210L690.4 211.9L690.8 213.2L691.2 209.9L691.6 210.7L692 216.3L692.4 209.5L692.8 210L693.2 208.1L693.6 207.4L694 212.3L694.4 208.4L694.8 208.2L695.2 207.2L695.6 203.2L696 209.7L696.4 206.9L696.8 208.1L697.2 210.6L697.6 206.9L698 207.4L698.4 207.5L698.8 209.7L699.2 204.4L699.6 205.3L700 201.6L700.4 205.9L700.8 206.5L701.2 204.4L701.6 209L702 207.4L702.4 209.4L702.8 205.4L703.2 209L703.6 204.2L704 206.5L704.4 205.9L704.8 205.2L705.2 209.4L705.6 208.6L706 204.6L706.4 207.2L706.8 206.1L707.2 206L707.6 207L708 205L708.4 207L708.8 207.7L709.2 205.9L709.6 206.7L710 209.9L710.4 208.5L710.8 213.5L711.2 213.1L711.6 207.9L712 210.1L712.4 205.8L712.8 208.5L713.2 208.1L713.6 208.5L714 206L714.4 210.7L714.8 210.8L715.2 209.1L715.6 210.5L716 212.4L716.4 213.9L716.8 207.7L717.2 213.2L717.6 206.1L718 207.7L718.4 208.1L718.8 211.5L719.2 209.4L719.6 208.4L720 209.7L720.4 206.7L720.8 205.3L721.2 208.6L721.6 205L722 202.9L722.4 201.4L722.8 204.7L723.2 208.3L723.6 206L724 205.1L724.4 207.7L724.8 202.6L725.2 206.5L725.6 205L726 208.8L726.4 204.8L726.8 208.6L727.2 207.8L727.6 207.6L728 209.1L728.4 208L728.8 211.5L729.2 208.8L729.6 204.9L730 212L730.4 212L730.8 210.7L731.2 213.3L731.6 212.3L732 209.5L732.4 207.6L732.8 209.7L733.2 211.2L733.6 213.2L734 209.6L734.4 210.9L734.8 216L735.2 212.1L735.6 212.5L736 212.1L736.4 217.4L736.8 215.9L737.2 216.3L737.6 217.7L738 216L738.4 216.8L738.8 215.2L739.2 215.8L739.6 215.4L740 215.4L740.4 212L740.8 213.9L741.2 213.2L741.6 212.4L742 213.5L742.4 216.7L742.8 215.1L743.2 213.5L743.6 214.2L744 216.3L744.4 210.7L744.8 214.2L745.2 216.8L745.6 217.2L746 216L746.4 215.5L746.8 211.3L747.2 213.7L747.6 215L748 216.1L748.4 216L748.8 210.6L749.2 213.9L749.6 215.4L750 213.2L750.4 214.8L750.8 216.4L751.2 216.2L751.6 216L752 217.1L752.4 217.8L752.8 215.2L753.2 214.1L753.6 214.6L754 215.1L754.4 215.9L754.8 212.6L755.2 214L755.6 215L756 217.9L756.4 216.4L756.8 214.9L757.2 216.9L757.6 215.7L758 215.5L758.4 217.1L758.8 216.4L759.2 216L759.6 216.9L760 214.8L760.4 216L760.8 212L761.2 215.2L761.6 219L762 215.3L762.4 216L762.8 215L763.2 214.2L763.6 217L764 216.4L764.4 218.3L764.8 214.5L765.2 216.4L765.6 215.7L766 215.1L766.4 218.3L766.8 214.8L767.2 214.8L767.6 220.7L768 215.7L768.4 215.8L768.8 217.1L769.2 214.3L769.6 216.4L770 213.7L770.4 215L770.8 214.7L771.2 218.4L771.6 217L772 219.1L772.4 218.8L772.8 214L773.2 216.4L773.6 214.8L774 214.4L774.4 218.1L774.8 218.8L775.2 216.3L775.6 216.9L776 217L776.4 217L776.8 216.9L777.2 214.1L777.6 217.1L778 214.8L778.4 214.2L778.8 215.9L779.2 216.7L779.6 217.9L780 217.2L780.4 217.1L780.8 215.3L781.2 217.3L781.6 217.3L782 217.8L782.4 215.3L782.8 219.7L783.2 217.9L783.6 217.9L784 216.8L784.4 216.3L784.8 218.6L785.2 214.5L785.6 216.1L786 216.7L786.4 218.1L786.8 216.4L787.2 219.7L787.6 214L788 219.9L788.4 217.3L788.8 218.2L789.2 216L789.6 218.7L790 216.1L790.4 217.3L790.8 213.7L791.2 218L791.6 217.3L792 213.8L792.4 217L792.8 216.4L793.2 218.3L793.6 215.5L794 217.2L794.4 219.5L794.8 215.3L795.2 220.3L795.6 217.2L796 216.3L796.4 214.4L796.8 214L797.2 219.2L797.6 216.6L798 216.2L798.4 219.5L798.8 219L799.2 218L799.6 215.2L800 214.6L800.4 219.7L800.8 217.7L801.2 217.3L801.6 221.5L802 217.2L802.4 218.7L802.8 222.2L803.2 219.2L803.6 217.4L804 216.9L804.4 220.6L804.8 215.8L805.2 219.4L805.6 220.5L806 217.4L806.4 219.3L806.8 217.7L807.2 219.9L807.6 217.4L808 215.5L808.4 217.2L808.8 216.4L809.2 215.7L809.6 216.4L810 214.4L810.4 214.9L810.8 217.7L811.2 213L811.6 216.6L812 216.4L812.4 214.9L812.8 218.7L813.2 217.6L813.6 215.3L814 216.7L814.4 218.5L814.8 214.2L815.2 217.3L815.6 216.8L816 218L816.4 221.1L816.8 216L817.2 216.7L817.6 215.2L818 217.4L818.4 218L818.8 212.4L819.2 219.4L819.6 219.3L820 211.9L820.4 213.8L820.8 217.1L821.2 216.6L821.6 218.6L822 216L822.4 219L822.8 214.3L823.2 217L823.6 215.6L824 215.7L824.4 213.1L824.8 215.8L825.2 219L825.6 215.5L826 216.2L826.4 216.5L826.8 214.3L827.2 216.5L827.6 217L828 215.6L828.4 213L828.8 218.9L829.2 216.1L829.6 216L830 215.4L830.4 214.4L830.8 212.1L831.2 214.8L831.6 215.1L832 216.5L832.4 217L832.8 212.5L833.2 216.2L833.6 213L834 213.8L834.4 210.7L834.8 213L835.2 211L835.6 213.8L836 210.2L836.4 212.5L836.8 211.4L837.2 212.4L837.6 211.9L838 211.5L838.4 209.8L838.8 212L839.2 211.4L839.6 209.2L840 211.5L840.4 208.7L840.8 209.7L841.2 209.4L841.6 209.3L842 210.8L842.4 206.2L842.8 211.7L843.2 206.3L843.6 211.2L844 209.7L844.4 206.2L844.8 209.5L845.2 208.7L845.6 207.3L846 211.6L846.4 211.5L846.8 210.3L847.2 213L847.6 210.6L848 209.7L848.4 212.6L848.8 209.3L849.2 212.5L849.6 213.5L850 212L850.4 211.9L850.8 212.8L851.2 212.4L851.6 210.7L852 207.4L852.4 211.4L852.8 209.8L853.2 214.1L853.6 211.9L854 213L854.4 214.2L854.8 214.4L855.2 211.3L855.6 216.9L856 214.8L856.4 214.3L856.8 212.2L857.2 217.2L857.6 214.8L858 215L858.4 212.9L858.8 216.7L859.2 215.9L859.6 213.1L860 217.2L860.4 211.8L860.8 215.3L861.2 214.9L861.6 215.3L862 213L862.4 213.6L862.8 215.9L863.2 215.9L863.6 214.1L864 213.8L864.4 213.5L864.8 216.8L865.2 214.3L865.6 213.3L866 211.1L866.4 211.2L866.8 212.7L867.2 210.8L867.6 213.9L868 214.2L868.4 212.9L868.8 213.7L869.2 214.1L869.6 211.1L870 215.6L870.4 209.7L870.8 217.3L871.2 211.4L871.6 214L872 213.3L872.4 214.7L872.8 212.2L873.2 214.4L873.6 210.8L874 214.6L874.4 212.4L874.8 213.5L875.2 214.8L875.6 210.9L876 212L876.4 211.7L876.8 212.7L877.2 213.3L877.6 214.3L878 213.6L878.4 212.6L878.8 213.4L879.2 214L879.6 213.6L880 215.5L880.4 210.7L880.8 212L881.2 209.3L881.6 210.5L882 212.6L882.4 213.3L882.8 210.3L883.2 212.1L883.6 211.1L884 211.6L884.4 211.1L884.8 209.4L885.2 206.3L885.6 207.2L886 210.3L886.4 209L886.8 212.2L887.2 208.6L887.6 210L888 206.4L888.4 205.9L888.8 207.9L889.2 210.1L889.6 207.6L890 205.6L890.4 206.4L890.8 206L891.2 205.2L891.6 203.8L892 201.2L892.4 200.5L892.8 200.5L893.2 199.6L893.6 195.9L894 198.8L894.4 195L894.8 190.1L895.2 188.9L895.6 188L896 179.9L896.4 175.1L896.8 171L897.2 160.9L897.6 155.6L898 147.8L898.4 143.2L898.8 132.1L899.2 128.9L899.6 121.9L900 117.7L900.4 115.1L900.8 118.2L901.2 116.2L901.6 119.7L902 128.1L902.4 133.4L902.8 142.2L903.2 148.5L903.6 155.8L904 162.7L904.4 166.1L904.8 171.2L905.2 182.5L905.6 181.5L906 188.2L906.4 188.9L906.8 193.5L907.2 195.5L907.6 200.3L908 199L908.4 198L908.8 199.5L909.2 203.6L909.6 205.4L910 208L910.4 209L910.8 203.5L911.2 206.1L911.6 205.1L912 207.8L912.4 209.2L912.8 205.2L913.2 209.8L913.6 209.7L914 208.5L914.4 208.2L914.8 212.1L915.2 209.3L915.6 208L916 210.1L916.4 211.6L916.8 211.3L917.2 207.4L917.6 208.4L918 209.9L918.4 211.1L918.8 211.2L919.2 209.1L919.6 212.7L920 212.4L920.4 209L920.8 210.1L921.2 211.4L921.6 209L922 211.8L922.4 212.1L922.8 211.3L923.2 213L923.6 214.6L924 210.4L924.4 212.2L924.8 210.6L925.2 213.9L925.6 213.3L926 211.1L926.4 210L926.8 212.2L927.2 210.8L927.6 209.4L928 209.6L928.4 211L928.8 214.7L929.2 213L929.6 213.8L930 212.9L930.4 214L930.8 213.9L931.2 209.9L931.6 212.7L932 212.6L932.4 212.9L932.8 212.9L933.2 208.3L933.6 212.7L934 210.3L934.4 214.1L934.8 211.8L935.2 212.2L935.6 212.7L936 209.4L936.4 212.2L936.8 210.3L937.2 214L937.6 212L938 211L938.4 214.6L938.8 212.3L939.2 211L939.6 212.6L940 212.5L940.4 213L940.8 211.1L941.2 214.2L941.6 213.1L942 215.4L942.4 214L942.8 211.1L943.2 214.7L943.6 212.4L944 212.9L944.4 208.8L944.8 211.1L945.2 215.5L945.6 215.3L946 210.6L946.4 213.8L946.8 213.9L947.2 215.7L947.6 212L948 211L948.4 214.2L948.8 212.5L949.2 212.7L949.6 212.2L950 215.7L950.4 212.1L950.8 214.6L951.2 213.8L951.6 212L952 214.5L952.4 215.2L952.8 214L953.2 213.2L953.6 214.5L954 211.8L954.4 213.5L954.8 215.2L955.2 210.3L955.6 209.1L956 213L956.4 210.2L956.8 211L957.2 212L957.6 210.7L958 211.9L958.4 210.1L958.8 211L959.2 211.7L959.6 212.9L960 211.5L960.4 212.6L960.8 212.9L961.2 212.4L961.6 211.2L962 213.5L962.4 210.1L962.8 212.9L963.2 212.8L963.6 212.7L964 210.3L964.4 212.8L964.8 212.1L965.2 209.6L965.6 211L966 209.4L966.4 212.4L966.8 214.1L967.2 213.2L967.6 210.2L968 210.1L968.4 211.4L968.8 211.3L969.2 212.9L969.6 211.2L970 213.9L970.4 211.1L970.8 213.5L971.2 209.4L971.6 210.9L972 212.1L972.4 213.2L972.8 212.5L973.2 210.3L973.6 209.5L974 211.5L974.4 211.1L974.8 210.4L975.2 210.8L975.6 208.5L976 211.1L976.4 211.5L976.8 208.5L977.2 208.4L977.6 211.7L978 211.4L978.4 208.5L978.8 208.1L979.2 206.5L979.6 209.8L980 209.2L980.4 208.5L980.8 211.7L981.2 207.3L981.6 207.4L982 207.9L982.4 206.6L982.8 208.3L983.2 205.9L983.6 205.9L984 208.8L984.4 204L984.8 202.6L985.2 204.1L985.6 202.2L986 201.6L986.4 202.1L986.8 202.4L987.2 197.6L987.6 199.1L988 195.1L988.4 198.9L988.8 195.1L989.2 197L989.6 198L990 196.8L990.4 195L990.8 190.2L991.2 196L991.6 191.4L992 192.9L992.4 190.6L992.8 190.5L993.2 193.1L993.6 187.8L994 188.8L994.4 190.4L994.8 192.7L995.2 187.8L995.6 193.9L996 191.6L996.4 194L996.8 197.5L997.2 194.7L997.6 196.2L998 197.4L998.4 195L998.8 196.4L999.2 195.8L999.6 196.7L1000 196.2L1000.4 196.6L1000.8 196.7L1001.2 199L1001.6 196L1002 198.2L1002.4 200.6L1002.8 196.5L1003.2 196L1003.6 199.8L1004 197.2L1004.4 197.6L1004.8 200.2L1005.2 199.7L1005.6 198.6L1006 199.5L1006.4 198L1006.8 200.1L1007.2 201.5L1007.6 202.8L1008 203.6L1008.4 205.8L1008.8 203.3L1009.2 205.3L1009.6 204.6L1010 203L1010.4 205.7L1010.8 206.3L1011.2 207.2L1011.6 207.3L1012 207.3L1012.4 206.2L1012.8 207.6L1013.2 209L1013.6 209.7L1014 210.5L1014.4 209.6L1014.8 210.2L1015.2 211.7L1015.6 209.4L1016 208.6L1016.4 207.2L1016.8 209.5L1017.2 210.5L1017.6 208.9L1018 212L1018.4 208.5L1018.8 209.6L1019.2 209.8L1019.6 207.7L1020 211.1L1020.4 207.9L1020.8 207L1021.2 206L1021.6 210.2L1022 210.1L1022.4 206.3L1022.8 205.2L1023.2 206.7L1023.6 207.3L1024 206.1L1024.4 207.3L1024.8 204.6L1025.2 209.3L1025.6 206.4L1026 207.4L1026.4 205.3L1026.8 207.1L1027.2 208L1027.6 204.2L1028 205.7L1028.4 207.5L1028.8 206.7L1029.2 205.1L1029.6 206.2L1030 207.9L1030.4 207.7L1030.8 206.6L1031.2 208.4L1031.6 205.2L1032 209.3L1032.4 210.8L1032.8 210.9L1033.2 209.5L1033.6 210.8L1034 211.2L1034.4 210.8L1034.8 210L1035.2 209L1035.6 210.6L1036 209.8L1036.4 208.5L1036.8 213.8L1037.2 209.7L1037.6 211L1038 210.8L1038.4 209.1L1038.8 212.2L1039.2 209.1L1039.6 214.7L1040 209.9L1040.4 210.4L1040.8 211.2L1041.2 211.3L1041.6 211.3L1042 213L1042.4 213.4L1042.8 215L1043.2 209.8L1043.6 213.2L1044 212.9L1044.4 211.2L1044.8 209.9L1045.2 215.9L1045.6 213.8L1046 209.2L1046.4 214.4L1046.8 212.9L1047.2 212.3L1047.6 213.3L1048 211.4L1048.4 212.1L1048.8 213.8L1049.2 210.6L1049.6 210.1L1050 210L1050.4 214.3L1050.8 211.3L1051.2 212.7L1051.6 212.4L1052 214.4L1052.4 214L1052.8 212.1L1053.2 215.6L1053.6 214.1L1054 213.7L1054.4 212.7L1054.8 213.1L1055.2 213.2L1055.6 213.7L1056 214.5L1056.4 214.9L1056.8 213.6L1057.2 213.8L1057.6 215.3L1058 216.1L1058.4 216.3L1058.8 214.1L1059.2 212.1L1059.6 214.5L1060 214.4L1060.4 214L1060.8 214.7L1061.2 213.1L1061.6 214.1L1062 210.5L1062.4 216.9L1062.8 214.3L1063.2 213.7L1063.6 215L1064 213.9L1064.4 213.1L1064.8 215.2L1065.2 213.7L1065.6 212.4L1066 214.7L1066.4 214.4L1066.8 214.5L1067.2 213.1L1067.6 215.3L1068 212.4L1068.4 215.1L1068.8 216.1L1069.2 212.1L1069.6 213.7L1070 210.5L1070.4 213.6L1070.8 210.9L1071.2 211.3L1071.6 213.9L1072 215.2L1072.4 214L1072.8 212.7L1073.2 212L1073.6 213.6L1074 217.5L1074.4 216L1074.8 211.9L1075.2 212.7L1075.6 211.7L1076 215.1L1076.4 214L1076.8 211.8L1077.2 213.9L1077.6 213.6L1078 213.1L1078.4 214.3L1078.8 216.3L1079.2 213.2L1079.6 214.2L1080 212.4L1080.4 213.7L1080.8 216.4L1081.2 215.3L1081.6 213.6L1082 213.6L1082.4 216.3L1082.8 214.1L1083.2 213.5L1083.6 215.7L1084 213.4L1084.4 212.9L1084.8 214.5L1085.2 211.8L1085.6 213.2L1086 212.6L1086.4 213.9L1086.8 213.4L1087.2 216.2L1087.6 214.7L1088 213.9L1088.4 214.6L1088.8 213.4L1089.2 214.1L1089.6 214.8L1090 214.4L1090.4 215.8L1090.8 214.5L1091.2 212.3L1091.6 213.6L1092 211.5L1092.4 216.4L1092.8 210.5L1093.2 212.9L1093.6 213.5L1094 211.1L1094.4 211.8L1094.8 213.7L1095.2 210.2L1095.6 213.1L1096 211.1L1096.4 210.3L1096.8 213.7L1097.2 211.6L1097.6 210.7L1098 209.4L1098.4 209.3L1098.8 208.4L1099.2 210.8L1099.6 208.1L1100 206.6L1100.4 206.7L1100.8 207.8L1101.2 204.8L1101.6 205.1L1102 203.6L1102.4 202.5L1102.8 209.1L1103.2 204.5L1103.6 207.4L1104 205.1L1104.4 204.5L1104.8 202.3L1105.2 203.9L1105.6 203.7L1106 201.9L1106.4 204.3L1106.8 204.9L1107.2 204L1107.6 203.6L1108 200.7L1108.4 207.1L1108.8 204.3L1109.2 201.4L1109.6 201.2L1110 202.1L1110.4 201.7L1110.8 203.3L1111.2 201.9L1111.6 203.3L1112 202.9L1112.4 202.9L1112.8 201.3L1113.2 203.2L1113.6 203.2L1114 201.3L1114.4 199.6L1114.8 201.4L1115.2 198L1115.6 198.7L1116 199.4L1116.4 199.7L1116.8 196.5L1117.2 195.9L1117.6 196.1L1118 191.4L1118.4 191.2L1118.8 191.1L1119.2 191.4L1119.6 186.8L1120 186.2L1120.4 189.3L1120.8 189.4L1121.2 187L1121.6 189.1L1122 191.4L1122.4 190.4L1122.8 189L1123.2 194L1123.6 197.1L1124 195.2L1124.4 200.7L1124.8 200L1125.2 199.3L1125.6 203.9L1126 202.7L1126.4 208.4L1126.8 208.3L1127.2 211.6L1127.6 207.4L1128 211L1128.4 213.9L1128.8 214L1129.2 213.8L1129.6 213.8L1130 214.6L1130.4 215.2L1130.8 216.6L1131.2 211.4L1131.6 212.8L1132 213.5L1132.4 214.7L1132.8 215.4L1133.2 214.7L1133.6 215.5L1134 217L1134.4 217.7L1134.8 215L1135.2 216L1135.6 216.4L1136 220.1L1136.4 215.3L1136.8 217L1137.2 216.6L1137.6 215.9L1138 218.1L1138.4 216.9L1138.8 216.5L1139.2 217.7L1139.6 218L1140 216.9L1140.4 216.9L1140.8 219.9L1141.2 217.5L1141.6 219.7L1142 218.2L1142.4 217L1142.8 216.7L1143.2 216.1L1143.6 219.7L1144 219.9L1144.4 218.3L1144.8 217.3L1145.2 218.3L1145.6 219.1L1146 220.8L1146.4 217.9L1146.8 216.2L1147.2 219L1147.6 218.4L1148 217.8L1148.4 216.4L1148.8 220.2L1149.2 221.7L1149.6 217.8L1150 217L1150.4 218.3L1150.8 218.7L1151.2 219.9L1151.6 219.1L1152 216.3L1152.4 219.3L1152.8 219.3L1153.2 218.2L1153.6 219.3L1154 216.6L1154.4 218.3L1154.8 216.7L1155.2 219.1L1155.6 220.2L1156 216.3L1156.4 219.2L1156.8 220.1L1157.2 219.4L1157.6 221.6L1158 218.6L1158.4 222.1L1158.8 219.4L1159.2 217.6L1159.6 219.4L1160 218.8L1160.4 221.7L1160.8 222.3L1161.2 222.6L1161.6 221L1162 219.4L1162.4 218.9L1162.8 218.3L1163.2 220.8L1163.6 217.8L1164 219.1L1164.4 220.1L1164.8 220.3L1165.2 217.6L1165.6 217.7L1166 217.9L1166.4 221L1166.8 218.2L1167.2 218.5L1167.6 220.8L1168 221.1L1168.4 222.5L1168.8 219.7L1169.2 221.1L1169.6 217.1L1170 220.9L1170.4 221.3L1170.8 221.6L1171.2 219.8L1171.6 222.7L1172 223.5L1172.4 221.1L1172.8 221.3L1173.2 220.7L1173.6 220.7L1174 221.1L1174.4 219.3L1174.8 218.9L1175.2 220.6L1175.6 220.4L1176 222.8L1176.4 221.2L1176.8 220.2L1177.2 219.3L1177.6 221.2L1178 220.2L1178.4 219.1L1178.8 224.6L1179.2 219.2L1179.6 224.5L1180 225.7L1180.4 222.1L1180.8 220.9L1181.2 222.7L1181.6 220.3L1182 222L1182.4 223.2L1182.8 220L1183.2 224.2L1183.6 222.3L1184 222.6L1184.4 224.2L1184.8 219.9L1185.2 220.1L1185.6 222.3L1186 222.2L1186.4 221.4L1186.8 221.5L1187.2 221.1L1187.6 220L1188 219.7L1188.4 220.5L1188.8 221.7L1189.2 222.2L1189.6 219.6L1190 224.2L1190.4 224.9L1190.8 221.8L1191.2 219.9L1191.6 221L1192 222.5L1192.4 221.1L1192.8 224.2L1193.2 220.7L1193.6 222.9L1194 222.1L1194.4 224.9L1194.8 222.5L1195.2 222.7L1195.6 220.8L1196 221.7L1196.4 219.8L1196.8 225.5L1197.2 221.7L1197.6 221.4L1198 221.6L1198.4 222.2L1198.8 222.4L1199.2 219.1L1199.6 223.6L1200 221.8L1200.4 221.2L1200.8 224L1201.2 221.8L1201.6 220.1L1202 220L1202.4 222.1L1202.8 221.1L1203.2 221L1203.6 218.5L1204 220.8L1204.4 219.6L1204.8 219.8L1205.2 223.2L1205.6 221.5L1206 220.9L1206.4 222.7L1206.8 224.2L1207.2 218.9L1207.6 222.6L1208 221.6L1208.4 221L1208.8 223.3L1209.2 222.5L1209.6 220.8L1210 223.4L1210.4 221.1L1210.8 221.6L1211.2 219.6L1211.6 221.6L1212 222.6L1212.4 221.3L1212.8 221.6L1213.2 223.6L1213.6 221L1214 220.3L1214.4 224L1214.8 220.2L1215.2 217.8L1215.6 219.3L1216 221L1216.4 219.6L1216.8 219.7L1217.2 220.8L1217.6 221.4L1218 221.3L1218.4 221.4L1218.8 222.8L1219.2 225L1219.6 223.1L1220 222.5L1220.4 220.4L1220.8 221.7L1221.2 220L1221.6 221.8L1222 220.1L1222.4 223.7L1222.8 225L1223.2 223.2L1223.6 225.7L1224 220.3L1224.4 223.4L1224.8 221.7L1225.2 222.2L1225.6 220L1226 221.5L1226.4 221.4L1226.8 220.6L1227.2 223.3L1227.6 222.8L1228 223.7L1228.4 220.6L1228.8 220.3L1229.2 219.7L1229.6 222.4L1230 222.6L1230.4 220.9L1230.8 219.9L1231.2 221.2L1231.6 222.2L1232 222.4L1232.4 221.1L1232.8 223.3L1233.2 223.5L1233.6 220.3L1234 222L1234.4 222L1234.8 220.1L1235.2 221.3L1235.6 222.5L1236 224.3L1236.4 221.4L1236.8 221.6L1237.2 222.3L1237.6 222L1238 220.2L1238.4 223.8L1238.8 222L1239.2 222.9L1239.6 223.3L1240 221.3L1240.4 220.3L1240.8 220.5L1241.2 221L1241.6 220.4L1242 221.3L1242.4 219.7L1242.8 221.3L1243.2 221.2L1243.6 222.5L1244 222.6L1244.4 224.8L1244.8 223.7L1245.2 223.3L1245.6 222.2L1246 222.3L1246.4 222.8L1246.8 221.8L1247.2 222L1247.6 220.7L1248 222.6L1248.4 220.6L1248.8 221.4L1249.2 221.5L1249.6 226.2L1250 222.7L1250.4 223.9L1250.8 220.6L1251.2 223L1251.6 221.7L1252 223.2L1252.4 221.2L1252.8 220.1L1253.2 223.2L1253.6 222.1L1254 219.8L1254.4 221.9L1254.8 220.5L1255.2 223.2L1255.6 222.6L1256 223.2L1256.4 221.2L1256.8 224.7L1257.2 221.9L1257.6 223.2L1258 222.4L1258.4 223L1258.8 220.8L1259.2 222.7L1259.6 223L1260 220.7L1260.4 224.3L1260.8 221.6L1261.2 222.4L1261.6 222.5L1262 224.8L1262.4 222.3L1262.8 222.6L1263.2 223.5L1263.6 223.1L1264 224.3L1264.4 221.9L1264.8 221.6L1265.2 221.2L1265.6 221.4L1266 223.5L1266.4 223.2L1266.8 222L1267.2 222.3L1267.6 219.2L1268 224.1L1268.4 223.7L1268.8 219.9L1269.2 221.9L1269.6 222.4L1270 224.7L1270.4 223L1270.8 224.6L1271.2 225L1271.6 223.8L1272 221.4L1272.4 221L1272.8 222.7L1273.2 224.4L1273.6 224.1L1274 221.7L1274.4 224.7L1274.8 222.5L1275.2 223.2L1275.6 224.9L1276 223.7L1276.4 222.6L1276.8 222.2L1277.2 223.2L1277.6 223.1L1278 222.6L1278.4 221.6L1278.8 223.7L1279.2 224L1279.6 221L1280 223.9L1280.4 222L1280.8 222.6L1281.2 224.2L1281.6 221.1L1282 222.7L1282.4 225.4L1282.8 224.9L1283.2 222L1283.6 220.8L1284 224.5L1284.4 223.1L1284.8 223.1L1285.2 220.5L1285.6 222.8L1286 220.6L1286.4 223L1286.8 226.1L1287.2 225.3L1287.6 225.6L1288 223.3L1288.4 224.1L1288.8 222.9L1289.2 226.5L1289.6 222.6L1290 221.2L1290.4 222.4L1290.8 224.7L1291.2 222.3L1291.6 223.5L1292 221.3L1292.4 222.8L1292.8 221.9L1293.2 222.1L1293.6 223.4L1294 224.6L1294.4 226.5L1294.8 224.2L1295.2 221.7L1295.6 221.8L1296 221.1L1296.4 223L1296.8 221.6L1297.2 222.5L1297.6 220.9L1298 224.9L1298.4 222.1L1298.8 223.5L1299.2 222.4L1299.6 226.3L1300 220.8L1300.4 223.6L1300.8 224.5L1301.2 222.2L1301.6 223.7L1302 222.2L1302.4 224.1L1302.8 222.3L1303.2 225.1L1303.6 220.1L1304 223.7L1304.4 221.8L1304.8 221.9L1305.2 223.4L1305.6 221.6L1306 221.5L1306.4 223.3L1306.8 221.1L1307.2 222.6L1307.6 224.8L1308 221.8L1308.4 224.7L1308.8 221L1309.2 222.9L1309.6 222.9L1310 220.7L1310.4 224.2L1310.8 220.8L1311.2 225.4L1311.6 225.8L1312 222.7L1312.4 223.6L1312.8 223.3L1313.2 221.2L1313.6 221.9L1314 223.3L1314.4 223.4L1314.8 225.3L1315.2 222.6L1315.6 222.1L1316 223.7L1316.4 223.8L1316.8 222.1L1317.2 222.9L1317.6 222.1L1318 222.7L1318.4 219.5L1318.8 219.9L1319.2 223.8L1319.6 221.4L1320 220.3L1320.4 222.5L1320.8 224.6L1321.2 223L1321.6 221.8L1322 221.2L1322.4 224.3L1322.8 224L1323.2 221.5L1323.6 220.7L1324 221.5L1324.4 222.3L1324.8 221.3L1325.2 220.6L1325.6 220.4L1326 219.2L1326.4 220.4L1326.8 221.5L1327.2 219.1L1327.6 219.9L1328 222.7L1328.4 220L1328.8 222L1329.2 220L1329.6 218.8L1330 222.5L1330.4 222.8L1330.8 222.5L1331.2 222.3L1331.6 224.5L1332 222.2L1332.4 221.6L1332.8 223.4L1333.2 224.5L1333.6 223.4L1334 224.8L1334.4 225.6L1334.8 222.3L1335.2 223.5L1335.6 223.3L1336 224.6L1336.4 221.3L1336.8 225.1L1337.2 221.6L1337.6 224.3L1338 222.9L1338.4 222.8L1338.8 224.2L1339.2 221.5L1339.6 224.2L1340 222.7L1340.4 221.2L1340.8 224.5L1341.2 221.2L1341.6 223.7L1342 222.2L1342.4 222.3L1342.8 224.7L1343.2 223.3L1343.6 222.3L1344 224L1344.4 222.1L1344.8 225.2L1345.2 221.8L1345.6 223.6L1346 221.8L1346.4 223.6L1346.8 221.2L1347.2 222.3L1347.6 223.7L1348 220.7L1348.4 222.1L1348.8 223.1L1349.2 221.9L1349.6 222.3L1350 223.4L1350.4 224L1350.8 220.3L1351.2 221.7L1351.6 219.3L1352 223.1L1352.4 224.1L1352.8 221.7L1353.2 220.9L1353.6 223.3L1354 222L1354.4 225.9L1354.8 225.2L1355.2 220.2L1355.6 224L1356 224L1356.4 224.3L1356.8 223L1357.2 220.8L1357.6 223.2L1358 222L1358.4 225.4L1358.8 223.7L1359.2 224.7L1359.6 221.4L1360 222.6L1360.4 222.1L1360.8 221L1361.2 221.6L1361.6 220.3L1362 223.1L1362.4 221.5L1362.8 223.1L1363.2 223.2L1363.6 222.2L1364 221.7L1364.4 224.3L1364.8 224.4L1365.2 222.3L1365.6 224.9L1366 220L1366.4 223.9L1366.8 224.5L1367.2 223.9L1367.6 221.3L1368 223.8L1368.4 225.1L1368.8 223.9L1369.2 221.9L1369.6 224L1370 226.6L1370.4 225.7L1370.8 225.9L1371.2 223.6L1371.6 224.5L1372 223.4L1372.4 223.4L1372.8 221.8L1373.2 223.2L1373.6 224.5L1374 223L1374.4 220.2L1374.8 223.8L1375.2 221.2L1375.6 223.6L1376 221.4L1376.4 225L1376.8 222.5L1377.2 224.3L1377.6 221L1378 222.8L1378.4 223.2L1378.8 220.7L1379.2 221.9L1379.6 222L1380 223L1380.4 222.9L1380.8 220.5L1381.2 224.4L1381.6 223.8L1382 222.1L1382.4 224.4L1382.8 222.9L1383.2 221.8L1383.6 220.7L1384 218.9L1384.4 223.1L1384.8 224.3L1385.2 223.8L1385.6 223.6L1386 225.6L1386.4 220.5L1386.8 223.6L1387.2 225.6L1387.6 222.5L1388 225.4L1388.4 222L1388.8 221.6L1389.2 220L1389.6 223.8L1390 224.4L1390.4 224L1390.8 223.1L1391.2 223.8L1391.6 222.3L1392 220.4L1392.4 223.4L1392.8 223.6L1393.2 226.5L1393.6 221.9L1394 222.5L1394.4 219.6L1394.8 219.4L1395.2 220.2L1395.6 224.1L1396 221.8L1396.4 221.6L1396.8 220.5L1397.2 221.3L1397.6 222L1398 221.2L1398.4 219.9L1398.8 220.1L1399.2 220.2L1399.6 220.9L1400 220.3L1400.4 219L1400.8 217L1401.2 219.3L1401.6 218.8L1402 218.5L1402.4 218.1L1402.8 217.2L1403.2 220.4L1403.6 217.7L1404 218.6L1404.4 218.2L1404.8 217.2L1405.2 220.2L1405.6 217L1406 219.4L1406.4 219.1L1406.8 220.1L1407.2 218.8L1407.6 222L1408 222.3L1408.4 221.5L1408.8 219.9L1409.2 218.9L1409.6 224L1410 217.9L1410.4 219.2L1410.8 221.9L1411.2 222.4L1411.6 220L1412 222.4L1412.4 219.7L1412.8 223L1413.2 222.5L1413.6 222.1L1414 223.8L1414.4 223.2L1414.8 219.5L1415.2 224L1415.6 223.2L1416 224.2L1416.4 222.4L1416.8 224.2L1417.2 222.4L1417.6 223.9L1418 224.8L1418.4 222.9L1418.8 223L1419.2 224.3L1419.6 225.4L1420 224.4L1420.4 223.9L1420.8 224.8L1421.2 224.5L1421.6 222.5L1422 225.8L1422.4 225.7L1422.8 225.5L1423.2 221.1L1423.6 225.5L1424 222.1L1424.4 223.6L1424.8 223.1L1425.2 225.8L1425.6 224.7L1426 223.3L1426.4 224.1L1426.8 222.1L1427.2 221.2L1427.6 223.8L1428 223.9L1428.4 222.8L1428.8 225.1L1429.2 225.8L1429.6 222.6L1430 223.4L1430.4 223.9L1430.8 220.7L1431.2 225.1L1431.6 225L1432 224.1L1432.4 223.4L1432.8 222.8L1433.2 225.6L1433.6 222.8L1434 224.3L1434.4 223.6L1434.8 225.5L1435.2 225.7L1435.6 223.8L1436 223.8L1436.4 222L1436.8 221.9L1437.2 224L1437.6 224.6L1438 224.1L1438.4 222.2L1438.8 222.7L1439.2 220L1439.6 223.8L1440 220.4L1440.4 221.2L1440.8 222.7L1441.2 225.4L1441.6 222.4L1442 225.1L1442.4 227.1L1442.8 225.8L1443.2 225.6L1443.6 223.1L1444 224.4L1444.4 222.4L1444.8 225.8L1445.2 225.6L1445.6 226.9L1446 224.9L1446.4 225.3L1446.8 223.4L1447.2 225.3L1447.6 226.4L1448 225.4L1448.4 225.3L1448.8 224.2L1449.2 224.9L1449.6 224.2L1450 223.2L1450.4 224.1L1450.8 225.2L1451.2 224.8L1451.6 223.6L1452 222.7L1452.4 224.7L1452.8 223.1L1453.2 223.5L1453.6 224.8L1454 225.4L1454.4 223L1454.8 223.2L1455.2 224.4L1455.6 222.7L1456 226L1456.4 225L1456.8 223.7L1457.2 222L1457.6 224.8L1458 223.8L1458.4 221.4L1458.8 221.8L1459.2 222.9L1459.6 223.9L1460 219.7L1460.4 222.7L1460.8 223.1L1461.2 226.3L1461.6 223.6L1462 223.9L1462.4 223.4L1462.8 224.2L1463.2 224.8L1463.6 223.7L1464 225.2L1464.4 227.2L1464.8 224L1465.2 225.2L1465.6 227L1466 223.3L1466.4 224.4L1466.8 223.5L1467.2 225.4L1467.6 226.1L1468 225L1468.4 224.5L1468.8 224.6L1469.2 224.8L1469.6 226.1L1470 225.1L1470.4 226.6L1470.8 227.1L1471.2 223.8L1471.6 226.5L1472 226L1472.4 223.8L1472.8 220.3L1473.2 222.3L1473.6 224.6L1474 220.8L1474.4 225.7L1474.8 222.4L1475.2 224L1475.6 222.6L1476 223.3L1476.4 224.1L1476.8 222.2L1477.2 223.8L1477.6 223.5L1478 225.5L1478.4 223L1478.8 227.6L1479.2 227.2L1479.6 222.8L1480 222.9L1480.4 223.8L1480.8 225.2L1481.2 225.5L1481.6 225.7L1482 226.1L1482.4 225.1L1482.8 223.4L1483.2 223.7L1483.6 224.5L1484 224.2L1484.4 228.8L1484.8 224.7L1485.2 227.2L1485.6 226.6L1486 224.1L1486.4 223.1L1486.8 224.5L1487.2 225.1L1487.6 223.8L1488 226L1488.4 223.3L1488.8 223.4L1489.2 225L1489.6 227.5L1490 225.9L1490.4 227.6L1490.8 224.1L1491.2 226.3L1491.6 225.5L1492 228.6L1492.4 224L1492.8 224.8L1493.2 223.2L1493.6 222.7L1494 225.5L1494.4 225.4L1494.8 223.4L1495.2 226.3L1495.6 224.7L1496 225.2L1496.4 228L1496.8 226.1L1497.2 226.9L1497.6 227.7L1498 226.1L1498.4 225.1L1498.8 227.8L1499.2 227.9L1499.6 223L1500 223.8L1500.4 224.2L1500.8 224.1L1501.2 227.6L1501.6 225.1L1502 225.4L1502.4 226.1L1502.8 226.7L1503.2 225.6L1503.6 225.9L1504 223.2L1504.4 225.5L1504.8 224L1505.2 225.1L1505.6 227.3L1506 225.6L1506.4 224.8L1506.8 226.7L1507.2 227.7L1507.6 225.9L1508 224.1L1508.4 227.7L1508.8 225.6L1509.2 223.8L1509.6 225.8L1510 223.9L1510.4 224.2L1510.8 223.1L1511.2 223.4L1511.6 225.7L1512 221L1512.4 225.8L1512.8 226.3L1513.2 226.2L1513.6 225.1L1514 223.6L1514.4 225.4L1514.8 226.3L1515.2 227.2L1515.6 225.2L1516 222.1L1516.4 224L1516.8 223.6L1517.2 226.1L1517.6 225.8L1518 225.7L1518.4 225.2L1518.8 223.1L1519.2 225.4L1519.6 227.7L1520 224.7"/></g>
<g clip-path="url(#cp1)" shape-rendering="crispEdges"><path class="c" stroke="#FF00FF" stroke-width="6.5" d="M166 493L166.4 484.9L166.8 491.3L167.2 477.6L167.6 494.7L168 478.6L168.4 489.3L168.8 488.4L169.2 483.5L169.6 507.2L170 484.7L170.4 492.1L170.8 496.4L171.2 480.1L171.6 497.9L172 487.5L172.4 495.4L172.8 481.8L173.2 480.8L173.6 496.4L174 491.4L174.4 488.7L174.8 492.1L175.2 491.2L175.6 479.3L176 471.8L176.4 475.4L176.8 474.6L177.2 471.4L177.6 482.3L178 483L178.4 486.4L178.8 488L179.2 483.7L179.6 484.5L180 486.7L180.4 479.1L180.8 481L181.2 486.1L181.6 481L182 481.7L182.4 484.8L182.8 494.8L183.2 487.6L183.6 482.9L184 481L184.4 484.2L184.8 500.6L185.2 466.6L185.6 488.4L186 486.2L186.4 490.5L186.8 476.3L187.2 499L187.6 491.1L188 483.7L188.4 485L188.8 478.8L189.2 484L189.6 482.6L190 490.1L190.4 485.9L190.8 482.7L191.2 487.9L191.6 486.9L192 484.5L192.4 472.1L192.8 489.9L193.2 474.4L193.6 475.4L194 481.6L194.4 485.9L194.8 492L195.2 470.2L195.6 492.2L196 493.3L196.4 478.5L196.8 480.2L197.2 477.5L197.6 477.1L198 471.9L198.4 469.3L198.8 479.6L199.2 482.7L199.6 493.5L200 473.6L200.4 465.8L200.8 481.4L201.2 476.9L201.6 482.5L202 477.1L202.4 471L202.8 474.8L203.2 485.1L203.6 481.2L204 472.4L204.4 485.1L204.8 468.8L205.2 475L205.6 480L206 468.9L206.4 469.9L206.8 478.3L207.2 477.5L207.6 476.1L208 473.8L208.4 469.9L208.8 471.9L209.2 495.5L209.6 472.7L210 487.5L210.4 472.7L210.8 486.2L211.2 485.2L211.6 479.5L212 471.8L212.4 466.5L212.8 482.7L213.2 466.8L213.6 466.7L214 486.2L214.4 485.6L214.8 475.5L215.2 473.3L215.6 470.3L216 477.2L216.4 471.2L216.8 463.9L217.2 469L217.6 475.9L218 462.9L218.4 467L218.8 474.6L219.2 485.4L219.6 474.7L220 473.5L220.4 486.7L220.8 465.6L221.2 467.7L221.6 478.6L222 480.1L222.4 475.6L222.8 454.1L223.2 477.3L223.6 476.6L224 472.1L224.4 476.3L224.8 481.4L225.2 471.7L225.6 464.7L226 458.2L226.4 471.4L226.8 465.8L227.2 466.7L227.6 462.6L228 472.3L228.4 475.3L228.8 473.1L229.2 462.1L229.6 476L230 471.8L230.4 452L230.8 473.5L231.2 454.9L231.6 461L232 476.3L232.4 473.3L232.8 464.1L233.2 462.2L233.6 470.7L234 455.5L234.4 470.8L234.8 465.8L235.2 472.8L235.6 466.6L236 459.7L236.4 468.6L236.8 464.5L237.2 456.9L237.6 458.5L238 459.4L238.4 466.6L238.8 471.4L239.2 465.7L239.6 457.3L240 462.9L240.4 469.3L240.8 472.7L241.2 458.4L241.6 466.7L242 461.8L242.4 449.3L242.8 455.1L243.2 460L243.6 460.1L244 460.8L244.4 459.2L244.8 465.8L245.2 456.3L245.6 451.7L246 466.2L246.4 458.2L246.8 467.9L247.2 456.3L247.6 471.2L248 453.2L248.4 453.3L248.8 466.4L249.2 473.8L249.6 455.7L250 472.1L250.4 471.6L250.8 466.4L251.2 459.2L251.6 445.3L252 449.5L252.4 454.7L252.8 463.7L253.2 458.7L253.6 455.3L254 460.4L254.4 448.1L254.8 462.2L255.2 452.8L255.6 468.2L256 460.3L256.4 453.7L256.8 455.2L257.2 447.6L257.6 459.9L258 451.5L258.4 457.7L258.8 466.3L259.2 460.6L259.6 461.4L260 476.2L260.4 462.7L260.8 465.5L261.2 455.8L261.6 449.1L262 458.9L262.4 449.1L262.8 438.9L263.2 461.1L263.6 459.2L264 449.2L264.4 465.6L264.8 455.9L265.2 453L265.6 449.5L266 464.2L266.4 452.9L266.8 452.3L267.2 452.4L267.6 450.1L268 443.6L268.4 450.2L268.8 449L269.2 460L269.6 445.8L270 459.6L270.4 451.1L270.8 448.9L271.2 453.3L271.6 454.6L272 455L272.4 458.1L272.8 455.4L273.2 442.9L273.6 448.7L274 464.7L274.4 452.3L274.8 436.4L275.2 453.8L275.6 464.2L276 460.2L276.4 452.1L276.8 452.9L277.2 455.5L277.6 449.5L278 446.8L278.4 461.3L278.8 446.6L279.2 456L279.6 437.5L280 442.5L280.4 439.5L280.8 449.9L281.2 442.1L281.6 441.5L282 439L282.4 446L282.8 451.3L283.2 439.8L283.6 447.7L284 442.8L284.4 438.1L284.8 444.3L285.2 450.8L285.6 422.7L286 445.2L286.4 452.2L286.8 438.1L287.2 444.2L287.6 445.2L288 441.4L288.4 439L288.8 445.9L289.2 444.1L289.6 437.1L290 439.9L290.4 428.4L290.8 433.1L291.2 434.6L291.6 432.9L292 428.1L292.4 441.1L292.8 434.3L293.2 436.6L293.6 422L294 427.2L294.4 425.6L294.8 428.9L295.2 441.8L295.6 447.5L296 431L296.4 432.1L296.8 428L297.2 425.5L297.6 435.4L298 426.3L298.4 421.9L298.8 433.7L299.2 428.2L299.6 431.7L300 431.7L300.4 436.5L300.8 434.2L301.2 436.4L301.6 429.5L302 429.6L302.4 433.2L302.8 432.4L303.2 434.3L303.6 433.5L304 446.3L304.4 429.9L304.8 434.8L305.2 432.5L305.6 441.1L306 426.5L306.4 423.3L306.8 440.5L307.2 437.5L307.6 433.7L308 427.2L308.4 441.5L308.8 435.8L309.2 428.8L309.6 429.6L310 428.6L310.4 443.1L310.8 432.2L311.2 426.4L311.6 429.6L312 441.6L312.4 438.2L312.8 429.1L313.2 426.1L313.6 430.3L314 436.4L314.4 431.8L314.8 430.8L315.2 435.1L315.6 431L316 427.5L316.4 425.5L316.8 428.9L317.2 430.5L317.6 437.5L318 436.3L318.4 430L318.8 443.6L319.2 427.4L319.6 442.7L320 427.8L320.4 433.6L320.8 441.7L321.2 442L321.6 429.9L322 436.3L322.4 427.8L322.8 434.1L323.2 438.4L323.6 431.5L324 445.5L324.4 438.5L324.8 439.6L325.2 430.7L325.6 433.5L326 436.3L326.4 440.1L326.8 438.7L327.2 430.7L327.6 427.5L328 424.9L328.4 447.9L328.8 440.7L329.2 442.7L329.6 431.3L330 446.3L330.4 435.5L330.8 433.4L331.2 427.8L331.6 421.4L332 435.9L332.4 431.4L332.8 430.7L333.2 421.1L333.6 416.3L334 422.3L334.4 436.1L334.8 443.1L335.2 425L335.6 427.1L336 418.2L336.4 421.9L336.8 431.1L337.2 423.3L337.6 429.2L338 437L338.4 426.9L338.8 419.9L339.2 439.5L339.6 431.9L340 429L340.4 429.6L340.8 425.7L341.2 431.9L341.6 417.1L342 426.5L342.4 418.2L342.8 425.9L343.2 430.7L343.6 424.8L344 438.2L344.4 425.5L344.8 420.7L345.2 427.6L345.6 426.9L346 427.4L346.4 425.3L346.8 424.1L347.2 431.2L347.6 413L348 429.5L348.4 420.1L348.8 423.2L349.2 417.6L349.6 432.5L350 409L350.4 414.6L350.8 420.1L351.2 427.6L351.6 413.4L352 426.1L352.4 429.8L352.8 415.6L353.2 403.8L353.6 426.7L354 420L354.4 420.3L354.8 428.2L355.2 425.7L355.6 416.1L356 420.8L356.4 413.3L356.8 422.3L357.2 418.3L357.6 422L358 413.6L358.4 419.3L358.8 419.8L359.2 421.1L359.6 417.3L360 402.2L360.4 419.6L360.8 407.4L361.2 422.5L361.6 414.9L362 414.6L362.4 409.7L362.8 426.2L363.2 408.1L363.6 423L364 424.4L364.4 430.7L364.8 421.9L365.2 411.3L365.6 405.1L366 406.1L366.4 400.6L366.8 420.3L367.2 412.7L367.6 402.3L368 415L368.4 410.1L368.8 416.3L369.2 411.3L369.6 400.8L370 409.3L370.4 414.3L370.8 408.4L371.2 408.1L371.6 398.4L372 402.5L372.4 407.2L372.8 412.2L373.2 402.4L373.6 403.7L374 421.2L374.4 399.3L374.8 404.4L375.2 399.2L375.6 405.9L376 411.6L376.4 411.7L376.8 408.8L377.2 414.8L377.6 405.9L378 410.7L378.4 399.1L378.8 413.4L379.2 401.9L379.6 415.4L380 399.1L380.4 408.7L380.8 408.6L381.2 408.7L381.6 405.6L382 417.7L382.4 409.6L382.8 398.8L383.2 403.3L383.6 415.7L384 400.8L384.4 420L384.8 404.7L385.2 394.5L385.6 413.7L386 401.1L386.4 389.2L386.8 407.7L387.2 398.5L387.6 409L388 412.6L388.4 413.4L388.8 406.2L389.2 396.7L389.6 417L390 408.6L390.4 408.4L390.8 397.2L391.2 403.1L391.6 409.1L392 406.6L392.4 409.2L392.8 401.1L393.2 396.1L393.6 410.4L394 407L394.4 415.7L394.8 417.6L395.2 407L395.6 405.5L396 417.1L396.4 414.4L396.8 401.8L397.2 421.1L397.6 409.9L398 406.8L398.4 398.6L398.8 405.3L399.2 411.8L399.6 410.4L400 417.7L400.4 414.6L400.8 400.8L401.2 406.1L401.6 405.1L402 402.4L402.4 402.4L402.8 400.8L403.2 400.7L403.6 406.7L404 409.7L404.4 415.8L404.8 401.2L405.2 403.3L405.6 389L406 405.8L406.4 408.3L406.8 403.1L407.2 407.2L407.6 401.1L408 401.4L408.4 396.7L408.8 399L409.2 393.6L409.6 414.9L410 412.5L410.4 407.1L410.8 405.7L411.2 417.2L411.6 410.4L412 401.8L412.4 407.2L412.8 409.1L413.2 408.8L413.6 409L414 395.1L414.4 401.3L414.8 392.8L415.2 409.1L415.6 404.1L416 398L416.4 422.4L416.8 416.1L417.2 403.6L417.6 412.9L418 402.9L418.4 413.9L418.8 412.9L419.2 403.8L419.6 411.6L420 420.1L420.4 414.7L420.8 399.5L421.2 410.8L421.6 413.4L422 409.7L422.4 416L422.8 403.5L423.2 391.9L423.6 419.2L424 400.6L424.4 407.7L424.8 397.7L425.2 414.4L425.6 401.2L426 409.6L426.4 408.7L426.8 419.1L427.2 422.3L427.6 414.3L428 416.1L428.4 410.6L428.8 410.3L429.2 402.6L429.6 412.4L430 394.2L430.4 414.3L430.8 408.9L431.2 407.8L431.6 415.9L432 394.5L432.4 400.7L432.8 411.1L433.2 404.6L433.6 410.9L434 404.8L434.4 398.1L434.8 409L435.2 407.1L435.6 409.2L436 408.8L436.4 419.1L436.8 397.8L437.2 400L437.6 414.1L438 397.7L438.4 404.1L438.8 410.9L439.2 405.5L439.6 405.9L440 401.7L440.4 389.2L440.8 406.7L441.2 407.3L441.6 404L442 397.7L442.4 401.9L442.8 405.2L443.2 397.2L443.6 396L444 391.6L444.4 402.1L444.8 389.9L445.2 394.9L445.6 407.5L446 383.4L446.4 391.9L446.8 403.6L447.2 395L447.6 405L448 388.1L448.4 389.7L448.8 404L449.2 388.8L449.6 395.9L450 393.7L450.4 405L450.8 387.5L451.2 395.8L451.6 401.3L452 404.2L452.4 396.2L452.8 400.8L453.2 390.7L453.6 408.9L454 398.8L454.4 401.1L454.8 408.3L455.2 397.7L455.6 396L456 401L456.4 405.4L456.8 385.9L457.2 383.8L457.6 400.3L458 394.5L458.4 396.1L458.8 410.1L459.2 394.5L459.6 395.2L460 404.6L460.4 390.1L460.8 397L461.2 394.4L461.6 397.1L462 397.5L462.4 387.4L462.8 392.5L463.2 391.5L463.6 386.3L464 398.6L464.4 391.1L464.8 387.4L465.2 384.3L465.6 392.1L466 387.3L466.4 398.3L466.8 402.3L467.2 392.2L467.6 390.4L468 392.5L468.4 400.4L468.8 390.4L469.2 399.5L469.6 391L470 378.6L470.4 406.9L470.8 401.3L471.2 393.8L471.6 396.3L472 396.5L472.4 406.9L472.8 392.8L473.2 397L473.6 393.2L474 390.6L474.4 398.1L474.8 398L475.2 390.9L475.6 411.3L476 375.9L476.4 404.6L476.8 386L477.2 388.5L477.6 398.3L478 400.4L478.4 403.3L478.8 383.5L479.2 408.2L479.6 386.3L480 395.7L480.4 402.5L480.8 393.6L481.2 392.5L481.6 398.9L482 392.9L482.4 384.6L482.8 400.4L483.2 400.4L483.6 396.8L484 395.2L484.4 400.4L484.8 399.3L485.2 400.7L485.6 394.9L486 378.2L486.4 396.7L486.8 396.3L487.2 397.7L487.6 401.8L488 381.2L488.4 371.3L488.8 397.6L489.2 395.4L489.6 390.4L490 381.3L490.4 402.2L490.8 387L491.2 404.3L491.6 391.6L492 397L492.4 370.3L492.8 392.6L493.2 383L493.6 378.6L494 385.4L494.4 405L494.8 383.1L495.2 374.5L495.6 395.1L496 380.3L496.4 385.8L496.8 398.1L497.2 393.6L497.6 390.8L498 393.6L498.4 384.9L498.8 376.2L499.2 383.9L499.6 381.2L500 384.1L500.4 383.2L500.8 387L501.2 390L501.6 378.7L502 380.4L502.4 384.2L502.8 390.2L503.2 378.8L503.6 366.7L504 387.2L504.4 370.5L504.8 376.5L505.2 375.4L505.6 382.6L506 364.9L506.4 386.8L506.8 373.9L507.2 384.7L507.6 373.6L508 392.7L508.4 375.6L508.8 371.7L509.2 368.3L509.6 355.1L510 383.9L510.4 360.9L510.8 372L511.2 375.8L511.6 374.2L512 367.9L512.4 362.4L512.8 371.1L513.2 365.3L513.6 353.9L514 357.5L514.4 368.4L514.8 369.7L515.2 345L515.6 364.1L516 359.6L516.4 367.5L516.8 361.1L517.2 358.4L517.6 366.5L518 367.5L518.4 367.8L518.8 359.4L519.2 363L519.6 372.1L520 358.7L520.4 354.4L520.8 363.1L521.2 353.5L521.6 367.3L522 355L522.4 359.2L522.8 370.1L523.2 356L523.6 360.7L524 366.6L524.4 366.9L524.8 354.7L525.2 372.3L525.6 365.1L526 368L526.4 372.7L526.8 374.1L527.2 370.8L527.6 376L528 372.1L528.4 361.8L528.8 362.3L529.2 365.7L529.6 365.5L530 370.7L530.4 357.5L530.8 374.8L531.2 379.9L531.6 380.6L532 375.9L532.4 368.3L532.8 392L533.2 371.9L533.6 374.3L534 378.5L534.4 367.8L534.8 369.3L535.2 379.5L535.6 387.4L536 377.2L536.4 383.5L536.8 384.6L537.2 382.9L537.6 374.9L538 389L538.4 380.4L538.8 374.9L539.2 374.5L539.6 389.6L540 383.5L540.4 378.1L540.8 390.4L541.2 388.7L541.6 383.6L542 375L542.4 382.9L542.8 386L543.2 377L543.6 402L544 383.4L544.4 376.7L544.8 373L545.2 392.1L545.6 383.6L546 384.4L546.4 379.5L546.8 389.5L547.2 387.1L547.6 377L548 381.5L548.4 375.5L548.8 387.9L549.2 384.6L549.6 391.4L550 388.9L550.4 390.7L550.8 372.2L551.2 379.8L551.6 376.8L552 374.6L552.4 379L552.8 392.3L553.2 390.7L553.6 395.5L554 388.9L554.4 388.7L554.8 382.7L555.2 382.7L555.6 382.4L556 379L556.4 375.5L556.8 385.7L557.2 394.3L557.6 377.5L558 376.1L558.4 392L558.8 383.7L559.2 372.8L559.6 383.2L560 367.7L560.4 386.4L560.8 381.5L561.2 375.4L561.6 385.6L562 380.9L562.4 394.3L562.8 379.5L563.2 387.7L563.6 377.4L564 387L564.4 389.3L564.8 390.2L565.2 391.1L565.6 375.5L566 397.2L566.4 396.1L566.8 383.7L567.2 385.9L567.6 390.8L568 372.1L568.4 382.4L568.8 386.9L569.2 387.4L569.6 387.2L570 375.4L570.4 390.3L570.8 390.1L571.2 386.6L571.6 379L572 375.8L572.4 381.9L572.8 385.8L573.2 375.1L573.6 379.5L574 386.4L574.4 385.6L574.8 376.3L575.2 368.2L575.6 380.3L576 369.6L576.4 371.2L576.8 386.9L577.2 384L577.6 373.4L578 380L578.4 381.3L578.8 384.6L579.2 389.4L579.6 384.4L580 365.2L580.4 383.8L580.8 379L581.2 380.1L581.6 380.7L582 379.3L582.4 377.9L582.8 388L583.2 388.4L583.6 390.9L584 387.3L584.4 386.5L584.8 383.7L585.2 371.9L585.6 388L586 378.4L586.4 379.6L586.8 369.7L587.2 376.5L587.6 398.4L588 377.5L588.4 385.7L588.8 388.2L589.2 383.5L589.6 376.2L590 378.8L590.4 383L590.8 376.9L591.2 370.3L591.6 372.1L592 390.4L592.4 384.3L592.8 384.1L593.2 385.6L593.6 380.9L594 371.9L594.4 394.5L594.8 375.9L595.2 380.3L595.6 379.3L596 386.8L596.4 376.2L596.8 366.8L597.2 366.2L597.6 369.6L598 382.1L598.4 384.8L598.8 373.8L599.2 371.6L599.6 378.8L600 374.1L600.4 367.7L600.8 364.2L601.2 371.6L601.6 377L602 376.2L602.4 372.6L602.8 362.1L603.2 372.9L603.6 348.4L604 362.5L604.4 364.5L604.8 351.1L605.2 345.8L605.6 364.2L606 349.2L606.4 347.2L606.8 356.7L607.2 348.1L607.6 333.7L608 340.5L608.4 336.4L608.8 342L609.2 342.1L609.6 318.4L610 322.9L610.4 337.3L610.8 325L611.2 323.6L611.6 318.1L612 325.9L612.4 318L612.8 323.2L613.2 323.7L613.6 320.2L614 316.5L614.4 317.1L614.8 324.8L615.2 327.6L615.6 337.3L616 337L616.4 340.1L616.8 334.8L617.2 340.6L617.6 341.8L618 340.7L618.4 342L618.8 366.6L619.2 356.3L619.6 364.5L620 360.4L620.4 354.6L620.8 372.5L621.2 368L621.6 365.5L622 359.3L622.4 368.8L622.8 375.3L623.2 378.8L623.6 373.3L624 371.1L624.4 370.9L624.8 377.3L625.2 368.6L625.6 375.6L626 361L626.4 386.7L626.8 383.2L627.2 375.7L627.6 373.5L628 382.3L628.4 376.9L628.8 374.3L629.2 375.5L629.6 376.2L630 371.2L630.4 385.9L630.8 366.4L631.2 380.2L631.6 378.6L632 367.7L632.4 383.8L632.8 366.2L633.2 375.4L633.6 374.3L634 378.2L634.4 377.6L634.8 387.8L635.2 380.4L635.6 380L636 381L636.4 383.1L636.8 376.6L637.2 386.1L637.6 382.8L638 384.4L638.4 381.7L638.8 381.7L639.2 382L639.6 377.4L640 383.5L640.4 388.6L640.8 378.7L641.2 382.3L641.6 387.2L642 381L642.4 380.2L642.8 383.8L643.2 384.3L643.6 393.5L644 383.9L644.4 389.5L644.8 382.7L645.2 390.5L645.6 392.2L646 392.5L646.4 374.1L646.8 383.3L647.2 375.5L647.6 384L648 383.4L648.4 376.2L648.8 375.2L649.2 378.3L649.6 382.8L650 385.9L650.4 392.7L650.8 396.7L651.2 376.9L651.6 385.2L652 382.1L652.4 382.6L652.8 373.8L653.2 387.3L653.6 386L654 378.8L654.4 384.6L654.8 377.3L655.2 366.7L655.6 377.7L656 381L656.4 375.9L656.8 384.2L657.2 397.2L657.6 384.5L658 382.5L658.4 375L658.8 383.3L659.2 383.4L659.6 391.9L660 380.5L660.4 378.8L660.8 379.5L661.2 395.1L661.6 393.3L662 381.2L662.4 403.7L662.8 378.1L663.2 379L663.6 390L664 382.1L664.4 378L664.8 376L665.2 384L665.6 383.5L666 383.6L666.4 376.5L666.8 392L667.2 378.3L667.6 389.5L668 397.1L668.4 375.5L668.8 381.2L669.2 384.5L669.6 387.5L670 383.7L670.4 376.5L670.8 387.7L671.2 383L671.6 392.8L672 380.8L672.4 377.1L672.8 378.4L673.2 380.9L673.6 387.2L674 390.5L674.4 376.3L674.8 387.5L675.2 375.4L675.6 404.8L676 386.8L676.4 385.3L676.8 381.6L677.2 392L677.6 396.2L678 383.6L678.4 386.7L678.8 386.4L679.2 389.8L679.6 380.7L680 388.9L680.4 384.8L680.8 398.5L681.2 378.3L681.6 386.1L682 389.5L682.4 394.1L682.8 391L683.2 384.9L683.6 388.2L684 393.3L684.4 376.2L684.8 393.6L685.2 382.6L685.6 394.2L686 400.3L686.4 383.1L686.8 384.7L687.2 388.4L687.6 385.6L688 396.2L688.4 395.5L688.8 379.7L689.2 378.9L689.6 386.6L690 382.8L690.4 392.7L690.8 396.6L691.2 385.9L691.6 379.3L692 382.7L692.4 389.4L692.8 387.9L693.2 386L693.6 384.1L694 393L694.4 386.8L694.8 390.2L695.2 396.4L695.6 376.9L696 388.7L696.4 384.4L696.8 383.2L697.2 388.9L697.6 381.1L698 380.8L698.4 405.1L698.8 399.5L699.2 393.7L699.6 379.5L700 382.4L700.4 379.8L700.8 384.1L701.2 387.2L701.6 390.3L702 376.4L702.4 392.8L702.8 387.1L703.2 392.7L703.6 384.9L704 390.5L704.4 374.9L704.8 389.6L705.2 380L705.6 380.4L706 385.2L706.4 383.2L706.8 367.4L707.2 394.6L707.6 380.6L708 383.6L708.4 383.2L708.8 380.3L709.2 382.9L709.6 385.2L710 381.9L710.4 375.4L710.8 379.5L711.2 392.6L711.6 384.9L712 381.8L712.4 393.1L712.8 379.5L713.2 396.3L713.6 387.2L714 382.5L714.4 377.3L714.8 378.1L715.2 377.8L715.6 391.8L716 397L716.4 389.7L716.8 380.9L717.2 385.2L717.6 369.3L718 375.4L718.4 380.2L718.8 395.9L719.2 385.1L719.6 390L720 387.2L720.4 376.5L720.8 382.7L721.2 377.1L721.6 372.1L722 383.5L722.4 383.3L722.8 384.9L723.2 385.9L723.6 375.4L724 373.8L724.4 379.2L724.8 379.5L725.2 389.3L725.6 381.9L726 375.5L726.4 383.8L726.8 382.5L727.2 374.6L727.6 388.9L728 367.3L728.4 379.1L728.8 385.5L729.2 377.7L729.6 380.4L730 364.7L730.4 378.2L730.8 380.8L731.2 371.3L731.6 378.6L732 375.1L732.4 376.4L732.8 379.1L733.2 375.2L733.6 379.5L734 373L734.4 385.3L734.8 377.1L735.2 365.1L735.6 367.7L736 377.4L736.4 382.3L736.8 367.8L737.2 371.7L737.6 364.8L738 380.4L738.4 371L738.8 366L739.2 376.2L739.6 348.4L740 368L740.4 355.1L740.8 365.3L741.2 358.6L741.6 354L742 359.9L742.4 357L742.8 375.5L743.2 356.6L743.6 372.2L744 364L744.4 354.9L744.8 344.6L745.2 360.4L745.6 357.7L746 343.9L746.4 370.1L746.8 356.9L747.2 354.1L747.6 363.5L748 361.8L748.4 358.7L748.8 356.8L749.2 359.2L749.6 342.8L750 353.4L750.4 355.5L750.8 377L751.2 363.3L751.6 359.5L752 363.1L752.4 358.7L752.8 367.4L753.2 361.3L753.6 367.7L754 368.3L754.4 365.4L754.8 364.7L755.2 362.4L755.6 359L756 367.6L756.4 367.2L756.8 368.6L757.2 370.9L757.6 374.2L758 373.2L758.4 372.6L758.8 383L759.2 386L759.6 370.5L760 377.7L760.4 378.4L760.8 370.3L761.2 381.2L761.6 374.9L762 389.1L762.4 371.9L762.8 381.8L763.2 371.9L763.6 370.8L764 384.1L764.4 380.3L764.8 388.5L765.2 386.3L765.6 368.4L766 389.8L766.4 372.4L766.8 378.7L767.2 375.1L767.6 384.1L768 383L768.4 381.7L768.8 397.8L769.2 377.9L769.6 378.9L770 374.7L770.4 394.6L770.8 375.7L771.2 382.3L771.6 379.8L772 381.1L772.4 384.1L772.8 373.3L773.2 379.6L773.6 387.7L774 373.1L774.4 388L774.8 378.3L775.2 389.6L775.6 382.1L776 377.9L776.4 375.9L776.8 396.5L777.2 389.3L777.6 378.1L778 402.2L778.4 378.3L778.8 376.1L779.2 392.4L779.6 381.4L780 392.2L780.4 379.6L780.8 390.5L781.2 385.6L781.6 386.1L782 389.2L782.4 378.1L782.8 379.7L783.2 383.5L783.6 381.9L784 384.2L784.4 388.2L784.8 380.7L785.2 379.4L785.6 390.8L786 402.7L786.4 389.5L786.8 390L787.2 381.4L787.6 379L788 389.6L788.4 396.8L788.8 384.4L789.2 389.9L789.6 382.3L790 377.1L790.4 380.2L790.8 375.4L791.2 385.9L791.6 381L792 396.2L792.4 394.4L792.8 383.4L793.2 387.3L793.6 382.9L794 394.1L794.4 401.2L794.8 386.4L795.2 378.9L795.6 378.3L796 383.2L796.4 386.2L796.8 384L797.2 382.6L797.6 385.2L798 386.1L798.4 383.1L798.8 376.3L799.2 382.2L799.6 374.4L800 383L800.4 381.8L800.8 388.6L801.2 384.6L801.6 376.9L802 378L802.4 394.3L802.8 377.4L803.2 388L803.6 384.4L804 384.5L804.4 389.2L804.8 381.3L805.2 387.3L805.6 382.7L806 388.9L806.4 383.1L806.8 378.6L807.2 385.7L807.6 385L808 382.7L808.4 375.6L808.8 389.4L809.2 374.8L809.6 383.8L810 381.4L810.4 390.8L810.8 388.7L811.2 393L811.6 371.9L812 384.3L812.4 375.1L812.8 388.6L813.2 400.4L813.6 380.3L814 390.5L814.4 367.9L814.8 382.8L815.2 391.2L815.6 380.9L816 382.8L816.4 383.1L816.8 390.1L817.2 382.6L817.6 381.8L818 379.8L818.4 386.9L818.8 389.5L819.2 381.4L819.6 388.3L820 385.9L820.4 390.7L820.8 399.2L821.2 388.7L821.6 387L822 383L822.4 379.7L822.8 376.8L823.2 384L823.6 381.4L824 389.8L824.4 383.6L824.8 393.3L825.2 386.8L825.6 380.9L826 381.7L826.4 367.3L826.8 394.3L827.2 382.6L827.6 373L828 385.8L828.4 376.6L828.8 377.1L829.2 381.8L829.6 376.9L830 388.9L830.4 380.3L830.8 376.5L831.2 386.2L831.6 377.4L832 380.5L832.4 391.1L832.8 398.7L833.2 371.2L833.6 373.7L834 378.5L834.4 389.2L834.8 379.5L835.2 388L835.6 376.7L836 385L836.4 377.2L836.8 371.5L837.2 377.7L837.6 387.1L838 383.6L838.4 388.2L838.8 383.9L839.2 373.3L839.6 383.6L840 385.5L840.4 393.3L840.8 391.2L841.2 386.2L841.6 381.1L842 392L842.4 373.7L842.8 377.4L843.2 375.6L843.6 382.9L844 390.9L844.4 377.1L844.8 400.1L845.2 378.4L845.6 397.3L846 380.4L846.4 388.8L846.8 376.8L847.2 384L847.6 380L848 393.3L848.4 377.3L848.8 390.1L849.2 397.5L849.6 384.1L850 381.7L850.4 388.5L850.8 367L851.2 384.5L851.6 387.4L852 384.3L852.4 376.1L852.8 386.1L853.2 389.7L853.6 390.5L854 381.5L854.4 383.1L854.8 381.7L855.2 375.4L855.6 379.2L856 377.5L856.4 383.6L856.8 385.4L857.2 401.6L857.6 390.5L858 388.2L858.4 380.9L858.8 396.9L859.2 395.8L859.6 384.1L860 381L860.4 383.6L860.8 383.7L861.2 373.8L861.6 383.5L862 382L862.4 391L862.8 386.3L863.2 382.7L863.6 392.7L864 389.2L864.4 385L864.8 380.5L865.2 378.2L865.6 389.4L866 387.3L866.4 383.4L866.8 387.2L867.2 375.6L867.6 393L868 387.8L868.4 394.8L868.8 378L869.2 386.7L869.6 380.7L870 393.5L870.4 402.1L870.8 384.9L871.2 387.6L871.6 394.7L872 377.6L872.4 385.5L872.8 382.1L873.2 385.4L873.6 376.9L874 374.8L874.4 376L874.8 386.5L875.2 385.8L875.6 390.5L876 388.7L876.4 391.1L876.8 387.8L877.2 386.2L877.6 389L878 383.2L878.4 387.2L878.8 385.9L879.2 403.4L879.6 376.7L880 392L880.4 390.6L880.8 387.9L881.2 385.9L881.6 382.3L882 375.7L882.4 383.6L882.8 384.7L883.2 377.9L883.6 388.9L884 375L884.4 392.5L884.8 399.9L885.2 382.2L885.6 385.2L886 399L886.4 370.7L886.8 380.3L887.2 376.2L887.6 380.4L888 393.5L888.4 392.4L888.8 381.9L889.2 393.1L889.6 374.7L890 380.9L890.4 394.5L890.8 400.3L891.2 394.2L891.6 391.9L892 385.1L892.4 394L892.8 384.2L893.2 395.4L893.6 386.2L894 390.2L894.4 374.5L894.8 383.8L895.2 389.6L895.6 375.7L896 387.1L896.4 388.9L896.8 382.9L897.2 380.2L897.6 382.1L898 369.9L898.4 379.2L898.8 398.6L899.2 376.9L899.6 383.9L900 373.8L900.4 400.1L900.8 381L901.2 385L901.6 389.1L902 383.2L902.4 403.7L902.8 389.9L903.2 384.7L903.6 371.8L904 387.9L904.4 379.7L904.8 391.5L905.2 383.2L905.6 377.9L906 390.8L906.4 385.9L906.8 383.5L907.2 381.6L907.6 382.9L908 379.9L908.4 389.7L908.8 374.7L909.2 384.6L909.6 379L910 390.8L910.4 385.6L910.8 392.1L911.2 376.8L911.6 370.2L912 389.8L912.4 383L912.8 374.7L913.2 387.5L913.6 392.2L914 380.9L914.4 385.2L914.8 377L915.2 379.7L915.6 386L916 384.2L916.4 383.3L916.8 380.4L917.2 390.9L917.6 388L918 401.1L918.4 381.5L918.8 380.8L919.2 385.3L919.6 379.1L920 377L920.4 378.3L920.8 381.7L921.2 383L921.6 380.5L922 389.4L922.4 391L922.8 389.3L923.2 386.4L923.6 379.9L924 381.8L924.4 374.6L924.8 392.1L925.2 393.3L925.6 395.2L926 377.3L926.4 398.2L926.8 386.9L927.2 388.2L927.6 395.7L928 387.5L928.4 381.8L928.8 387.4L929.2 381.3L929.6 383L930 392.7L930.4 375.6L930.8 373.8L931.2 389.7L931.6 386.9L932 385.7L932.4 389.8L932.8 380.2L933.2 392.1L933.6 379.8L934 380.1L934.4 392.9L934.8 385.1L935.2 385L935.6 379.6L936 393.3L936.4 392.6L936.8 379.4L937.2 387.6L937.6 387.1L938 384.6L938.4 374.4L938.8 392.8L939.2 389.5L939.6 373.8L940 378.6L940.4 397.8L940.8 390.3L941.2 375L941.6 381.9L942 384.3L942.4 382.1L942.8 381.9L943.2 380.7L943.6 383.1L944 391.3L944.4 376.8L944.8 394.8L945.2 388.6L945.6 384.7L946 395.8L946.4 392.9L946.8 388.5L947.2 390.1L947.6 385.6L948 389.3L948.4 394.1L948.8 392.1L949.2 380L949.6 382.6L950 387.5L950.4 382.2L950.8 380.1L951.2 397.6L951.6 380.3L952 387.2L952.4 379.1L952.8 387.9L953.2 391.7L953.6 383.1L954 383.8L954.4 387.9L954.8 384.7L955.2 382.4L955.6 388L956 387.8L956.4 381.6L956.8 390.5L957.2 375.4L957.6 378L958 390.6L958.4 393.8L958.8 383L959.2 374.2L959.6 380.5L960 388.4L960.4 390.1L960.8 388.4L961.2 389.9L961.6 375.1L962 380.2L962.4 380.3L962.8 382.2L963.2 395.1L963.6 388.9L964 378.5L964.4 382.5L964.8 366.9L965.2 389.2L965.6 379.8L966 385.7L966.4 386.1L966.8 371.5L967.2 387L967.6 380.2L968 381.1L968.4 375.6L968.8 382.7L969.2 388.4L969.6 389.9L970 385.8L970.4 384.1L970.8 392.6L971.2 381.6L971.6 384.8L972 396.6L972.4 372.3L972.8 373.9L973.2 375.7L973.6 379.7L974 379.3L974.4 382.6L974.8 393.6L975.2 390.2L975.6 376.8L976 386.1L976.4 382.5L976.8 378L977.2 386.8L977.6 389.7L978 372.2L978.4 386.3L978.8 372.4L979.2 375.1L979.6 379.3L980 371.6L980.4 374.5L980.8 375.8L981.2 378.5L981.6 372.8L982 372.3L982.4 368L982.8 375.5L983.2 376.3L983.6 364.9L984 374.2L984.4 381.6L984.8 373.9L985.2 376.8L985.6 372.4L986 367.9L986.4 364.6L986.8 365.2L987.2 365.6L987.6 356.8L988 358.5L988.4 375.1L988.8 355.6L989.2 357.1L989.6 356L990 366.3L990.4 362.9L990.8 368.3L991.2 357.3L991.6 373.3L992 362.6L992.4 359.5L992.8 373.3L993.2 373.8L993.6 375L994 356L994.4 366.4L994.8 369L995.2 366L995.6 356L996 373.7L996.4 372.8L996.8 371.3L997.2 364.6L997.6 366.2L998 377L998.4 369.2L998.8 373.6L999.2 374.6L999.6 373.6L1000 381.2L1000.4 374.6L1000.8 383.7L1001.2 389.4L1001.6 379.7L1002 369.6L1002.4 375.2L1002.8 383.9L1003.2 385.7L1003.6 372.8L1004 379.2L1004.4 378.4L1004.8 373.1L1005.2 382.1L1005.6 380.4L1006 391.5L1006.4 375.6L1006.8 387.5L1007.2 382L1007.6 386.5L1008 380.1L1008.4 379.2L1008.8 390.2L1009.2 392L1009.6 380.9L1010 389.7L1010.4 381.7L1010.8 384.7L1011.2 397.5L1011.6 391.4L1012 387.3L1012.4 389.7L1012.8 382.8L1013.2 385.2L1013.6 389.2L1014 379.5L1014.4 383.7L1014.8 396.9L1015.2 384L1015.6 385.3L1016 394.2L1016.4 397.3L1016.8 384.9L1017.2 393L1017.6 378.7L1018 378L1018.4 385L1018.8 397L1019.2 381.9L1019.6 388.2L1020 389.5L1020.4 375.8L1020.8 382L1021.2 393.5L1021.6 392L1022 386.5L1022.4 371.5L1022.8 388.6L1023.2 391.9L1023.6 375.6L1024 389.1L1024.4 382.8L1024.8 376.6L1025.2 393.9L1025.6 397.7L1026 382L1026.4 392.8L1026.8 385.3L1027.2 385.6L1027.6 382.3L1028 383.2L1028.4 382.4L1028.8 390.5L1029.2 383.1L1029.6 392.9L1030 384.8L1030.4 381.3L1030.8 387.9L1031.2 398.3L1031.6 391.7L1032 397L1032.4 374.1L1032.8 381.3L1033.2 379.6L1033.6 386.2L1034 386.5L1034.4 374.7L1034.8 382.6L1035.2 387.5L1035.6 392.4L1036 372.1L1036.4 397.8L1036.8 383.4L1037.2 391.9L1037.6 377.8L1038 387.4L1038.4 393.9L1038.8 394.8L1039.2 386.2L1039.6 375.5L1040 393.5L1040.4 384.5L1040.8 386.5L1041.2 395.7L1041.6 374.9L1042 403.6L1042.4 377.3L1042.8 393.6L1043.2 399.2L1043.6 386.7L1044 400L1044.4 379.1L1044.8 392.7L1045.2 388.9L1045.6 382.1L1046 390.5L1046.4 378.7L1046.8 376.4L1047.2 397.1L1047.6 393.3L1048 379.4L1048.4 375.3L1048.8 382.6L1049.2 381.4L1049.6 395.3L1050 383.2L1050.4 391.5L1050.8 382.5L1051.2 374.2L1051.6 399.3L1052 386.8L1052.4 376.6L1052.8 385.2L1053.2 393.2L1053.6 378.2L1054 376.2L1054.4 377.7L1054.8 392.6L1055.2 401.8L1055.6 378.5L1056 381.6L1056.4 383.1L1056.8 385.2L1057.2 395.5L1057.6 388.5L1058 383.4L1058.4 391.4L1058.8 385.6L1059.2 374.4L1059.6 382.1L1060 399.6L1060.4 386.4L1060.8 381.5L1061.2 386.8L1061.6 378.4L1062 381.2L1062.4 378.3L1062.8 380.1L1063.2 388.3L1063.6 381.7L1064 381.7L1064.4 382.9L1064.8 378.8L1065.2 382.5L1065.6 385.1L1066 378.2L1066.4 369.7L1066.8 381.9L1067.2 364.8L1067.6 382L1068 377.7L1068.4 367.7L1068.8 369.4L1069.2 370.8L1069.6 356.5L1070 378.2L1070.4 380.3L1070.8 368L1071.2 369.8L1071.6 364.5L1072 368.8L1072.4 373.6L1072.8 369.7L1073.2 354.9L1073.6 357.4L1074 363.2L1074.4 351.3L1074.8 348.6L1075.2 350.4L1075.6 354.2L1076 353.7L1076.4 333.5L1076.8 343.7L1077.2 352.3L1077.6 338.8L1078 342.6L1078.4 342.5L1078.8 341.6L1079.2 339.5L1079.6 330.3L1080 346.2L1080.4 341.6L1080.8 337.1L1081.2 343.8L1081.6 335.3L1082 332L1082.4 332.8L1082.8 341.5L1083.2 349.8L1083.6 347.7L1084 339.9L1084.4 331.9L1084.8 339.8L1085.2 339.7L1085.6 354.3L1086 361L1086.4 333.1L1086.8 347.3L1087.2 355.7L1087.6 368.9L1088 359.7L1088.4 361L1088.8 371.2L1089.2 359.6L1089.6 360.7L1090 357.3L1090.4 367.5L1090.8 352.2L1091.2 366L1091.6 364.7L1092 368.4L1092.4 372L1092.8 378.2L1093.2 376.4L1093.6 370.7L1094 378.8L1094.4 371.6L1094.8 370L1095.2 374.6L1095.6 368.2L1096 384.5L1096.4 381L1096.8 379.1L1097.2 387.5L1097.6 391.7L1098 373.7L1098.4 377.9L1098.8 384.1L1099.2 373.9L1099.6 383.4L1100 375.8L1100.4 380.8L1100.8 387L1101.2 386.1L1101.6 373.1L1102 383.4L1102.4 396.4L1102.8 381.8L1103.2 380.8L1103.6 384.8L1104 385.9L1104.4 373L1104.8 389.9L1105.2 385L1105.6 384.5L1106 376.3L1106.4 380.5L1106.8 373.7L1107.2 390.7L1107.6 384.1L1108 365.8L1108.4 374.6L1108.8 379.1L1109.2 382L1109.6 374.4L1110 384.8L1110.4 384.1L1110.8 385.3L1111.2 381L1111.6 393.2L1112 374.6L1112.4 366L1112.8 379L1113.2 399L1113.6 398.6L1114 377.1L1114.4 373.2L1114.8 390.7L1115.2 369.2L1115.6 390.1L1116 379.2L1116.4 381.4L1116.8 379.7L1117.2 382.2L1117.6 385.3L1118 383.3L1118.4 382.4L1118.8 384.8L1119.2 383.8L1119.6 403.3L1120 396.3L1120.4 379.9L1120.8 387.5L1121.2 397.1L1121.6 376.8L1122 387L1122.4 381.1L1122.8 381.5L1123.2 393.2L1123.6 389.3L1124 375.1L1124.4 390.3L1124.8 375.1L1125.2 387.4L1125.6 394L1126 383L1126.4 397.6L1126.8 382.9L1127.2 378.1L1127.6 383.9L1128 384.3L1128.4 394.5L1128.8 382.4L1129.2 395.1L1129.6 386.4L1130 382.8L1130.4 385.3L1130.8 387.4L1131.2 385.1L1131.6 377.5L1132 385.9L1132.4 393.6L1132.8 385.3L1133.2 393.9L1133.6 379L1134 388L1134.4 386.7L1134.8 388.9L1135.2 380.8L1135.6 389.7L1136 387.1L1136.4 387.6L1136.8 383.1L1137.2 375.5L1137.6 382L1138 368.4L1138.4 393.3L1138.8 386.2L1139.2 390.8L1139.6 379L1140 391.6L1140.4 387.7L1140.8 390.9L1141.2 381.3L1141.6 394.6L1142 391.9L1142.4 401.2L1142.8 395.9L1143.2 382.3L1143.6 385.5L1144 398.1L1144.4 386.8L1144.8 379.8L1145.2 388.5L1145.6 388.9L1146 390.7L1146.4 392.7L1146.8 381.6L1147.2 384.5L1147.6 387.3L1148 395.9L1148.4 392.4L1148.8 385.5L1149.2 395.2L1149.6 378.1L1150 385.6L1150.4 383.6L1150.8 395.2L1151.2 378.2L1151.6 403.3L1152 376.3L1152.4 396.1L1152.8 385.2L1153.2 384.5L1153.6 390.1L1154 385.7L1154.4 393.9L1154.8 397.4L1155.2 394.7L1155.6 381.5L1156 390.3L1156.4 391.1L1156.8 387.4L1157.2 395.2L1157.6 389.1L1158 393.3L1158.4 396.4L1158.8 397.3L1159.2 383.6L1159.6 383.9L1160 397.7L1160.4 377L1160.8 377.1L1161.2 375L1161.6 395.2L1162 389.8L1162.4 378.1L1162.8 391L1163.2 379.2L1163.6 389.9L1164 386.7L1164.4 386L1164.8 393.1L1165.2 389.3L1165.6 381.9L1166 372.5L1166.4 380.4L1166.8 382.4L1167.2 382.1L1167.6 380.7L1168 387.6L1168.4 388.8L1168.8 378.9L1169.2 388.3L1169.6 370.3L1170 374.9L1170.4 386.7L1170.8 382.9L1171.2 383.3L1171.6 385L1172 383.4L1172.4 386.6L1172.8 387.9L1173.2 393.8L1173.6 382.8L1174 380.5L1174.4 388.1L1174.8 399.8L1175.2 390.8L1175.6 381L1176 401.7L1176.4 381.9L1176.8 386.1L1177.2 397.5L1177.6 386.5L1178 391.1L1178.4 389.8L1178.8 384.7L1179.2 391.7L1179.6 390.7L1180 387.2L1180.4 373L1180.8 392.6L1181.2 388.5L1181.6 376.8L1182 383L1182.4 382.3L1182.8 398L1183.2 387.6L1183.6 390.1L1184 396.5L1184.4 403.6L1184.8 370.9L1185.2 391.7L1185.6 402L1186 392.6L1186.4 385.9L1186.8 400.1L1187.2 390.8L1187.6 386L1188 386.8L1188.4 392.5L1188.8 395.9L1189.2 389.9L1189.6 377.8L1190 387.3L1190.4 384.9L1190.8 382.7L1191.2 389.5L1191.6 387.8L1192 384.2L1192.4 390.4L1192.8 383.5L1193.2 394.6L1193.6 382.5L1194 383.7L1194.4 376.3L1194.8 384.2L1195.2 382.6L1195.6 392L1196 390.2L1196.4 394.9L1196.8 394.8L1197.2 384.8L1197.6 383.2L1198 385.2L1198.4 397.1L1198.8 375.4L1199.2 394.4L1199.6 373.2L1200 388.6L1200.4 377.9L1200.8 393.7L1201.2 391.1L1201.6 400L1202 397.4L1202.4 389.4L1202.8 399L1203.2 376.4L1203.6 383.4L1204 380.3L1204.4 403L1204.8 384.7L1205.2 380.6L1205.6 375.5L1206 387.8L1206.4 394.8L1206.8 400.5L1207.2 375.5L1207.6 379.2L1208 397.6L1208.4 383.1L1208.8 395.2L1209.2 392.3L1209.6 386.7L1210 386.1L1210.4 387L1210.8 396.5L1211.2 394.8L1211.6 371.7L1212 396.6L1212.4 394.2L1212.8 398.9L1213.2 396L1213.6 391.3L1214 389.9L1214.4 384.1L1214.8 394.3L1215.2 383.3L1215.6 393.2L1216 393.6L1216.4 390L1216.8 391.3L1217.2 378L1217.6 386.2L1218 384.6L1218.4 388.8L1218.8 386.5L1219.2 381.9L1219.6 382.3L1220 387.9L1220.4 382.1L1220.8 392.3L1221.2 393.2L1221.6 403.6L1222 397.1L1222.4 395.9L1222.8 383.4L1223.2 388.9L1223.6 380.8L1224 394.1L1224.4 390.5L1224.8 394.7L1225.2 396.9L1225.6 386.4L1226 391.2L1226.4 380L1226.8 385.3L1227.2 397.3L1227.6 387.8L1228 396.6L1228.4 395.2L1228.8 378.3L1229.2 391.7L1229.6 384.8L1230 389.4L1230.4 385.7L1230.8 389.3L1231.2 391.4L1231.6 398.4L1232 393.8L1232.4 387.6L1232.8 392.8L1233.2 381.1L1233.6 383.3L1234 394.8L1234.4 396.8L1234.8 381.9L1235.2 395.1L1235.6 387.4L1236 385.3L1236.4 387.2L1236.8 389.7L1237.2 392.2L1237.6 398.1L1238 388L1238.4 394.5L1238.8 385.8L1239.2 391.8L1239.6 391.7L1240 387L1240.4 391L1240.8 395.1L1241.2 403.8L1241.6 390.7L1242 383.1L1242.4 383.5L1242.8 388.3L1243.2 396.3L1243.6 383.1L1244 408.9L1244.4 387.8L1244.8 397.5L1245.2 374.4L1245.6 399.1L1246 388.3L1246.4 385.5L1246.8 390.2L1247.2 399.4L1247.6 390.3L1248 400.5L1248.4 395.5L1248.8 396.4L1249.2 391.9L1249.6 401.6L1250 399.2L1250.4 396.4L1250.8 392.3L1251.2 397.3L1251.6 396.9L1252 388.9L1252.4 400L1252.8 379L1253.2 391.5L1253.6 396.2L1254 395.2L1254.4 390.4L1254.8 390.3L1255.2 390.1L1255.6 400.8L1256 397.2L1256.4 383.8L1256.8 398.5L1257.2 396.5L1257.6 381.4L1258 393.7L1258.4 392L1258.8 397.5L1259.2 404.9L1259.6 395.8L1260 405.6L1260.4 388.4L1260.8 388.6L1261.2 394.4L1261.6 391.4L1262 386.8L1262.4 401.4L1262.8 409.5L1263.2 385.2L1263.6 393.6L1264 397.6L1264.4 393.7L1264.8 383.2L1265.2 397.5L1265.6 387.7L1266 389.8L1266.4 391.8L1266.8 401.8L1267.2 383.4L1267.6 385.6L1268 382.1L1268.4 393.9L1268.8 403.6L1269.2 401.6L1269.6 388.4L1270 390.7L1270.4 393.4L1270.8 393.3L1271.2 395.2L1271.6 401.3L1272 382.9L1272.4 387.1L1272.8 382.4L1273.2 397.5L1273.6 392.9L1274 389.1L1274.4 397.6L1274.8 387.7L1275.2 393.5L1275.6 388.9L1276 406.1L1276.4 397L1276.8 401.4L1277.2 390.5L1277.6 387.7L1278 388.8L1278.4 396.5L1278.8 385.2L1279.2 389.1L1279.6 397.9L1280 405.5L1280.4 393.5L1280.8 391.2L1281.2 388.4L1281.6 384.5L1282 392.5L1282.4 391L1282.8 390.7L1283.2 384L1283.6 396L1284 395.9L1284.4 389.5L1284.8 394.6L1285.2 384.2L1285.6 402.8L1286 394.2L1286.4 388.3L1286.8 384.4L1287.2 396.3L1287.6 386.4L1288 398.4L1288.4 388.8L1288.8 384.1L1289.2 387.2L1289.6 408.3L1290 399.2L1290.4 386.8L1290.8 396.9L1291.2 382.5L1291.6 393.6L1292 386L1292.4 379.2L1292.8 388.8L1293.2 380.1L1293.6 391.6L1294 386.8L1294.4 391.3L1294.8 391.5L1295.2 405.7L1295.6 391.7L1296 405.1L1296.4 390L1296.8 389.5L1297.2 392L1297.6 400.2L1298 394L1298.4 398.5L1298.8 395.8L1299.2 384.6L1299.6 396.8L1300 383L1300.4 396.5L1300.8 387.9L1301.2 401.5L1301.6 386.2L1302 392.9L1302.4 396.5L1302.8 388.6L1303.2 407.2L1303.6 390.2L1304 386.7L1304.4 393.8L1304.8 390.8L1305.2 401.4L1305.6 382.7L1306 393L1306.4 388.5L1306.8 388L1307.2 396.1L1307.6 386.8L1308 381.7L1308.4 399.9L1308.8 399.9L1309.2 384.6L1309.6 389.3L1310 401.4L1310.4 375.7L1310.8 400.9L1311.2 393.6L1311.6 398.9L1312 392.8L1312.4 395.7L1312.8 406.2L1313.2 397.1L1313.6 392.3L1314 378L1314.4 393.3L1314.8 393.9L1315.2 395.6L1315.6 386.5L1316 393L1316.4 393.2L1316.8 389.2L1317.2 392.6L1317.6 389.5L1318 393.7L1318.4 387.8L1318.8 385.2L1319.2 391.1L1319.6 397.3L1320 402.1L1320.4 388.3L1320.8 401.6L1321.2 403.4L1321.6 375.3L1322 388.2L1322.4 401L1322.8 386.7L1323.2 402.3L1323.6 396L1324 385.2L1324.4 395.2L1324.8 399.9L1325.2 393.2L1325.6 395.2L1326 402L1326.4 390.9L1326.8 399.3L1327.2 377.6L1327.6 379.8L1328 404L1328.4 391.1L1328.8 385.1L1329.2 400L1329.6 397L1330 391.6L1330.4 397.2L1330.8 393.9L1331.2 378.8L1331.6 395.1L1332 394.4L1332.4 393.3L1332.8 389.5L1333.2 392.8L1333.6 395L1334 395.7L1334.4 375.1L1334.8 393L1335.2 386.2L1335.6 402.6L1336 388.2L1336.4 391.8L1336.8 395.5L1337.2 392L1337.6 390.2L1338 383.9L1338.4 397.2L1338.8 388.6L1339.2 393.6L1339.6 404.5L1340 399.8L1340.4 401.9L1340.8 390.6L1341.2 389.2L1341.6 398.1L1342 386.3L1342.4 395.8L1342.8 391.5L1343.2 390L1343.6 393.1L1344 388.9L1344.4 394.7L1344.8 386.9L1345.2 388.2L1345.6 387.1L1346 398L1346.4 383.3L1346.8 392L1347.2 396.4L1347.6 390.8L1348 396.4L1348.4 396.6L1348.8 387.5L1349.2 401.4L1349.6 393.7L1350 403.7L1350.4 402.1L1350.8 400.6L1351.2 395.1L1351.6 387.1L1352 406L1352.4 394.3L1352.8 378.7L1353.2 406.5L1353.6 402.5L1354 392.6L1354.4 386.8L1354.8 387L1355.2 386.1L1355.6 389.8L1356 391.5L1356.4 392.5L1356.8 391.7L1357.2 394.7L1357.6 388.3L1358 390.2L1358.4 399.8L1358.8 396.4L1359.2 390.3L1359.6 390.6L1360 386.7L1360.4 404.1L1360.8 398.1L1361.2 392L1361.6 388.2L1362 398.9L1362.4 396.7L1362.8 396.2L1363.2 400.6L1363.6 393.7L1364 391.7L1364.4 386.4L1364.8 391L1365.2 381.5L1365.6 398.5L1366 391L1366.4 400.8L1366.8 380.8L1367.2 393L1367.6 412.4L1368 392.5L1368.4 395.1L1368.8 399.8L1369.2 407.1L1369.6 381.6L1370 387.3L1370.4 391L1370.8 390.3L1371.2 391.6L1371.6 402.8L1372 386.1L1372.4 388.3L1372.8 394L1373.2 390.4L1373.6 389.1L1374 385.1L1374.4 394.1L1374.8 400.7L1375.2 389.2L1375.6 392L1376 388L1376.4 386.4L1376.8 390.7L1377.2 399.2L1377.6 388.6L1378 386.1L1378.4 405.3L1378.8 391.4L1379.2 395.6L1379.6 383.4L1380 391.7L1380.4 403.9L1380.8 395.7L1381.2 383L1381.6 384.3L1382 396L1382.4 379.9L1382.8 389.3L1383.2 394.2L1383.6 393.5L1384 399.6L1384.4 412.9L1384.8 393.2L1385.2 393.1L1385.6 388.1L1386 397.2L1386.4 407.6L1386.8 397.5L1387.2 396.8L1387.6 394.4L1388 396.2L1388.4 399.6L1388.8 396.4L1389.2 397.1L1389.6 401.6L1390 398.1L1390.4 388.1L1390.8 387.5L1391.2 399.2L1391.6 397L1392 392.6L1392.4 403.4L1392.8 405.6L1393.2 397L1393.6 407.1L1394 388.8L1394.4 387.2L1394.8 389.6L1395.2 393L1395.6 383.6L1396 396.4L1396.4 394L1396.8 393L1397.2 397.1L1397.6 391.4L1398 396.8L1398.4 400.1L1398.8 404.6L1399.2 387.2L1399.6 399.3L1400 398L1400.4 390.7L1400.8 390.7L1401.2 400.6L1401.6 401.2L1402 399.6L1402.4 397.7L1402.8 397.9L1403.2 393.2L1403.6 390L1404 395.5L1404.4 409.5L1404.8 377.2L1405.2 381.9L1405.6 390.6L1406 401.2L1406.4 396.5L1406.8 384.9L1407.2 399.7L1407.6 393.9L1408 400.6L1408.4 378.8L1408.8 401.4L1409.2 397.4L1409.6 385.2L1410 387.3L1410.4 396.1L1410.8 397L1411.2 395.6L1411.6 381.6L1412 398.2L1412.4 399.3L1412.8 395.5L1413.2 395.5L1413.6 395.7L1414 394.7L1414.4 392.8L1414.8 392.3L1415.2 391.1L1415.6 390.3L1416 405.4L1416.4 401.4L1416.8 396.7L1417.2 387.7L1417.6 408.2L1418 396.7L1418.4 406.2L1418.8 389.4L1419.2 394.1L1419.6 407.4L1420 384.3L1420.4 395.1L1420.8 400.5L1421.2 406.2L1421.6 394.8L1422 406.9L1422.4 396L1422.8 408.4L1423.2 400.2L1423.6 384.5L1424 405.4L1424.4 402.2L1424.8 400.3L1425.2 413.9L1425.6 395.2L1426 395.1L1426.4 393L1426.8 391.5L1427.2 390.7L1427.6 407.6L1428 396L1428.4 396.3L1428.8 389.7L1429.2 399.7L1429.6 397.2L1430 406.8L1430.4 408.6L1430.8 403.6L1431.2 383.4L1431.6 398L1432 400.7L1432.4 408.2L1432.8 404L1433.2 390L1433.6 385.9L1434 392.3L1434.4 389.7L1434.8 403.5L1435.2 386.2L1435.6 410.4L1436 391.9L1436.4 400.6L1436.8 406.6L1437.2 401.2L1437.6 399.7L1438 395.2L1438.4 405L1438.8 388.6L1439.2 399.5L1439.6 386.2L1440 398.7L1440.4 399.5L1440.8 397.3L1441.2 404.1L1441.6 389.9L1442 402.9L1442.4 391.5L1442.8 386.7L1443.2 396L1443.6 412.6L1444 391.4L1444.4 393.1L1444.8 391.7L1445.2 408.7L1445.6 397L1446 402.6L1446.4 392.4L1446.8 391.5L1447.2 395.8L1447.6 396.3L1448 402.7L1448.4 393.4L1448.8 396.7L1449.2 386.4L1449.6 386.9L1450 390L1450.4 395.8L1450.8 395.2L1451.2 395.3L1451.6 395.4L1452 393.7L1452.4 402.1L1452.8 404.6L1453.2 395.7L1453.6 398.8L1454 399.1L1454.4 383.3L1454.8 393.4L1455.2 394.1L1455.6 402.4L1456 393.7L1456.4 386.2L1456.8 408.7L1457.2 396.4L1457.6 388.4L1458 393.4L1458.4 395.8L1458.8 386.7L1459.2 403.4L1459.6 395.2L1460 391L1460.4 398.5L1460.8 396.3L1461.2 403.2L1461.6 403.7L1462 399.6L1462.4 397.5L1462.8 383.9L1463.2 398.4L1463.6 390.2L1464 392.3L1464.4 390.6L1464.8 404.2L1465.2 395.7L1465.6 401.6L1466 401.7L1466.4 401.9L1466.8 405.3L1467.2 401.3L1467.6 391.6L1468 384.7L1468.4 395.6L1468.8 384.6L1469.2 398.9L1469.6 394.2L1470 382.7L1470.4 406.5L1470.8 395.9L1471.2 414.4L1471.6 398.7L1472 392.2L1472.4 396.3L1472.8 397.9L1473.2 397.7L1473.6 397.9L1474 398.8L1474.4 382.6L1474.8 387.5L1475.2 393.9L1475.6 401.9L1476 389L1476.4 394.9L1476.8 400.1L1477.2 391.7L1477.6 405.3L1478 393.5L1478.4 391.1L1478.8 398.3L1479.2 394.1L1479.6 395.5L1480 393L1480.4 385.8L1480.8 408.9L1481.2 399.6L1481.6 395.4L1482 404.7L1482.4 394.8L1482.8 389L1483.2 408.3L1483.6 396.4L1484 398.8L1484.4 402.9L1484.8 396.8L1485.2 382.4L1485.6 413.8L1486 409.1L1486.4 396.3L1486.8 406.8L1487.2 402.5L1487.6 395.7L1488 393.9L1488.4 391.3L1488.8 389.8L1489.2 396.9L1489.6 387.4L1490 397.8L1490.4 382.9L1490.8 406.6L1491.2 398.6L1491.6 390.9L1492 401.5L1492.4 410.6L1492.8 397.4L1493.2 399.7L1493.6 392L1494 410.3L1494.4 404.4L1494.8 383.6L1495.2 393.8L1495.6 398.9L1496 403L1496.4 384L1496.8 394L1497.2 383.6L1497.6 395.3L1498 397.7L1498.4 385.1L1498.8 395.5L1499.2 396.7L1499.6 395L1500 401.5L1500.4 395L1500.8 403.9L1501.2 398.1L1501.6 391.6L1502 405.8L1502.4 407.7L1502.8 386.4L1503.2 388.7L1503.6 397.5L1504 392.3L1504.4 393L1504.8 396.7L1505.2 396.3L1505.6 403.9L1506 398.4L1506.4 396.5L1506.8 394.8L1507.2 398.5L1507.6 396.3L1508 388L1508.4 389L1508.8 391.6L1509.2 393.7L1509.6 397.8L1510 394.1L1510.4 387.2L1510.8 381.7L1511.2 392.1L1511.6 385.5L1512 388.5L1512.4 398.5L1512.8 395.6L1513.2 395.1L1513.6 394.7L1514 398.1L1514.4 389.1L1514.8 388.1L1515.2 383.4L1515.6 394.1L1516 396.4L1516.4 398.9L1516.8 398.3L1517.2 390.5L1517.6 397.8L1518 382.8L1518.4 397.3L1518.8 385.5L1519.2 394.8L1519.6 389.6L1520 391.9"/></g>
<g clip-path="url(#cp2)" shape-rendering="crispEdges"><path class="c" stroke="#FF0080" stroke-width="6.5" d="M166 665L166.4 675.3L166.8 669.7L167.2 673.2L167.6 679.5L168 673.8L168.4 679.5L168.8 676.1L169.2 680.4L169.6 662.8L170 664.6L170.4 661.3L170.8 674.1L171.2 668.5L171.6 676.6L172 672.4L172.4 671.1L172.8 685.3L173.2 674.5L173.6 670.1L174 663.4L174.4 678.6L174.8 677L175.2 662.7L175.6 669.3L176 672L176.4 658.9L176.8 668.4L177.2 680.2L177.6 659.1L178 673.9L178.4 683.7L178.8 666.1L179.2 667.3L179.6 672L180 674.1L180.4 673.3L180.8 660L181.2 665.2L181.6 671.3L182 668.4L182.4 678.6L182.8 668.4L183.2 668.1L183.6 683.6L184 670.1L184.4 663.8L184.8 670.7L185.2 669.1L185.6 675.7L186 673.9L186.4 668.4L186.8 668.1L187.2 667.1L187.6 680.3L188 684.9L188.4 670.4L188.8 674.8L189.2 673.4L189.6 667.3L190 667.2L190.4 667.5L190.8 657.4L191.2 665.5L191.6 674L192 677.2L192.4 669.3L192.8 668.1L193.2 675.2L193.6 685.1L194 664.2L194.4 665.2L194.8 667.6L195.2 674.4L195.6 664.6L196 673.8L196.4 665.4L196.8 674.4L197.2 668.2L197.6 667.3L198 676L198.4 662L198.8 664.9L199.2 675.3L199.6 675.5L200 671.6L200.4 654.8L200.8 675.1L201.2 672.4L201.6 667.6L202 656.3L202.4 675.7L202.8 682.1L203.2 673.3L203.6 679.1L204 665.1L204.4 671L204.8 665.1L205.2 661.8L205.6 667.1L206 663.2L206.4 664.3L206.8 664.1L207.2 666.5L207.6 667.3L208 670.2L208.4 660.6L208.8 671.5L209.2 656.5L209.6 669.6L210 669.7L210.4 652.9L210.8 666.7L211.2 676.7L211.6 672.1L212 665.5L212.4 665.1L212.8 670.9L213.2 669.9L213.6 674.5L214 669.8L214.4 675.1L214.8 671.5L215.2 663.3L215.6 661.5L216 664.9L216.4 671.4L216.8 662.4L217.2 674.7L217.6 657.6L218 666.5L218.4 661.8L218.8 670.5L219.2 669.2L219.6 667.2L220 659.5L220.4 662L220.8 663.5L221.2 675L221.6 663.5L222 671.5L222.4 674.4L222.8 662L223.2 664.3L223.6 652.4L224 665L224.4 672.8L224.8 661.1L225.2 670.2L225.6 673.2L226 670.2L226.4 664.6L226.8 669.2L227.2 662.9L227.6 664.6L228 684.2L228.4 663.9L228.8 662.7L229.2 668.5L229.6 669.4L230 672.7L230.4 662L230.8 659.9L231.2 660.4L231.6 672.5L232 674.8L232.4 661.9L232.8 663.6L233.2 667L233.6 660.4L234 663.6L234.4 673.6L234.8 658.5L235.2 669.6L235.6 675.2L236 659.4L236.4 674.6L236.8 666.9L237.2 663.1L237.6 672.9L238 667.3L238.4 665.1L238.8 662.7L239.2 660.8L239.6 662.8L240 664.9L240.4 671.9L240.8 664.8L241.2 668.6L241.6 663.8L242 669.8L242.4 665.9L242.8 675.3L243.2 668.2L243.6 654.7L244 665.5L244.4 663.2L244.8 672.9L245.2 666.4L245.6 672.2L246 671.4L246.4 661.5L246.8 664L247.2 666.4L247.6 658.6L248 684.2L248.4 669.7L248.8 657L249.2 656L249.6 666.8L250 663.2L250.4 655L250.8 653.8L251.2 665.9L251.6 662.5L252 668.5L252.4 664.9L252.8 673.4L253.2 652.8L253.6 669.8L254 659.9L254.4 659L254.8 672.3L255.2 652L255.6 664.8L256 662.9L256.4 673.8L256.8 655.1L257.2 667.8L257.6 668.6L258 665.1L258.4 666L258.8 664.1L259.2 654.9L259.6 661.4L260 651.6L260.4 671.6L260.8 671.6L261.2 655.1L261.6 673.3L262 663.6L262.4 654.1L262.8 659.6L263.2 668.7L263.6 663.9L264 657L264.4 669L264.8 662.8L265.2 660.7L265.6 655.4L266 667.6L266.4 669.9L266.8 656.6L267.2 661.7L267.6 661.8L268 664.7L268.4 655.9L268.8 677.4L269.2 665.3L269.6 669.5L270 660.9L270.4 677.8L270.8 666.2L271.2 650.3L271.6 669.9L272 662.5L272.4 655.3L272.8 662.2L273.2 656.2L273.6 667.4L274 666.6L274.4 652.5L274.8 666.8L275.2 669.4L275.6 644.5L276 671.1L276.4 666.5L276.8 667.5L277.2 671.6L277.6 661.2L278 655.4L278.4 663.9L278.8 660.1L279.2 664.3L279.6 644.7L280 658L280.4 678.9L280.8 663.2L281.2 667.4L281.6 662.7L282 657.7L282.4 665.8L282.8 664.9L283.2 657L283.6 657.8L284 663.6L284.4 653L284.8 652.3L285.2 666.1L285.6 665.5L286 655.7L286.4 667.6L286.8 662.1L287.2 658.5L287.6 651.6L288 660L288.4 650.3L288.8 653L289.2 648.5L289.6 660.8L290 652.6L290.4 651.2L290.8 655.2L291.2 667.2L291.6 656.6L292 637.9L292.4 648.2L292.8 648.4L293.2 643.2L293.6 640L294 658.3L294.4 651.4L294.8 652.3L295.2 648.3L295.6 651.4L296 648.9L296.4 646.6L296.8 644.1L297.2 638.6L297.6 640.6L298 645.4L298.4 639.7L298.8 648.6L299.2 640.3L299.6 652.4L300 637.6L300.4 650.1L300.8 657.2L301.2 654.8L301.6 645.6L302 659L302.4 650.6L302.8 653.3L303.2 651L303.6 639.6L304 656.2L304.4 655.7L304.8 658.4L305.2 646.7L305.6 659.5L306 649.7L306.4 646.4L306.8 647.7L307.2 656.7L307.6 652.7L308 666.5L308.4 661.6L308.8 664.2L309.2 655.3L309.6 649.1L310 645.5L310.4 655.3L310.8 665.9L311.2 665.9L311.6 645.7L312 659.2L312.4 662.3L312.8 650.6L313.2 657.6L313.6 652.5L314 658.7L314.4 659L314.8 655.3L315.2 656.8L315.6 652.9L316 658.4L316.4 639.4L316.8 661L317.2 664.9L317.6 648.3L318 656.2L318.4 661.6L318.8 652.5L319.2 652.6L319.6 656.9L320 662.5L320.4 647.6L320.8 658.9L321.2 660.9L321.6 647.6L322 658.2L322.4 667.2L322.8 657L323.2 655.9L323.6 667L324 652.8L324.4 655.7L324.8 666.1L325.2 669.1L325.6 649.2L326 655.3L326.4 660L326.8 665.5L327.2 659.7L327.6 652.3L328 662L328.4 640.7L328.8 657.3L329.2 661.4L329.6 664L330 659.3L330.4 646.1L330.8 662.6L331.2 652.3L331.6 652.7L332 664L332.4 642L332.8 671.5L333.2 662.1L333.6 661.9L334 654.6L334.4 660.5L334.8 659.9L335.2 657.2L335.6 644.9L336 658.5L336.4 657.1L336.8 661.9L337.2 658.2L337.6 657.1L338 656.3L338.4 644.7L338.8 642.1L339.2 654.2L339.6 650L340 658.1L340.4 646.3L340.8 650.8L341.2 659.6L341.6 654.6L342 648.4L342.4 658.4L342.8 656.3L343.2 647.1L343.6 649.8L344 655.6L344.4 652.7L344.8 652.2L345.2 650.2L345.6 635.7L346 657.2L346.4 655.9L346.8 652.7L347.2 641L347.6 650.6L348 653.2L348.4 651.7L348.8 652.5L349.2 637.5L349.6 657.2L350 656.8L350.4 657.3L350.8 661.7L351.2 654.1L351.6 661.9L352 643.9L352.4 657L352.8 650.6L353.2 662L353.6 648.7L354 648.3L354.4 647.4L354.8 655.2L355.2 646.2L355.6 657.6L356 656.6L356.4 651.8L356.8 652.3L357.2 646.9L357.6 664.4L358 656.8L358.4 643L358.8 657.9L359.2 643.2L359.6 652.8L360 654.9L360.4 648.2L360.8 646.3L361.2 652.7L361.6 654L362 651.5L362.4 652.6L362.8 640.2L363.2 649.4L363.6 642.7L364 650.2L364.4 642.1L364.8 643.7L365.2 642.6L365.6 646L366 646.7L366.4 647.7L366.8 652.5L367.2 641.7L367.6 659.3L368 645.5L368.4 642.5L368.8 649.8L369.2 644.7L369.6 644.2L370 648.7L370.4 638.5L370.8 654.2L371.2 637.5L371.6 642.2L372 654.4L372.4 654.6L372.8 649.2L373.2 636.8L373.6 643.9L374 642.3L374.4 641.9L374.8 644L375.2 648.8L375.6 652.1L376 647.7L376.4 639.9L376.8 646.1L377.2 647.5L377.6 651.8L378 641.4L378.4 642.3L378.8 641L379.2 637.6L379.6 648L380 641.4L380.4 651.5L380.8 651L381.2 645.2L381.6 646.6L382 642.2L382.4 646.3L382.8 645.6L383.2 652.8L383.6 641.5L384 652.1L384.4 649.2L384.8 647L385.2 636.4L385.6 637.5L386 644.2L386.4 645.1L386.8 635.5L387.2 656.1L387.6 645.2L388 643.1L388.4 647.6L388.8 638.5L389.2 629.3L389.6 642.8L390 638.6L390.4 643.7L390.8 644.7L391.2 632.4L391.6 637.9L392 649.5L392.4 653.3L392.8 642.7L393.2 644L393.6 645.5L394 645.1L394.4 661.3L394.8 654.8L395.2 638.6L395.6 640.8L396 650.9L396.4 646.8L396.8 649.3L397.2 647.3L397.6 636.6L398 633.8L398.4 632.1L398.8 637.4L399.2 645.1L399.6 638.4L400 656.1L400.4 630.7L400.8 639.9L401.2 649L401.6 654.7L402 634.8L402.4 643.4L402.8 646.1L403.2 627.4L403.6 646.6L404 642.1L404.4 638L404.8 647.5L405.2 641.2L405.6 635.3L406 649.9L406.4 636L406.8 649.3L407.2 623.6L407.6 646.5L408 638L408.4 642.1L408.8 641.3L409.2 647.1L409.6 634L410 638.6L410.4 637.6L410.8 643.2L411.2 639.7L411.6 641.7L412 642.3L412.4 627.9L412.8 638L413.2 640.3L413.6 641.1L414 656.8L414.4 645.1L414.8 648.6L415.2 636.4L415.6 645.2L416 652.1L416.4 636.3L416.8 635.1L417.2 628.8L417.6 630.2L418 651L418.4 628.9L418.8 638.5L419.2 644.6L419.6 640.4L420 640.9L420.4 638.5L420.8 646.1L421.2 629.1L421.6 636.4L422 638.5L422.4 625.7L422.8 633.7L423.2 637.4L423.6 649.3L424 634.3L424.4 646.9L424.8 633.6L425.2 650.2L425.6 635.6L426 645.8L426.4 656.4L426.8 645.3L427.2 648.6L427.6 630.9L428 642.3L428.4 643.4L428.8 636.9L429.2 640.1L429.6 630.4L430 634.7L430.4 629.3L430.8 627.3L431.2 643L431.6 632.1L432 640L432.4 650.7L432.8 645.4L433.2 633.3L433.6 635.8L434 633L434.4 637.6L434.8 649.5L435.2 648.9L435.6 633.8L436 627.8L436.4 644.8L436.8 621.3L437.2 641.3L437.6 621.3L438 640.1L438.4 638.7L438.8 634.1L439.2 629.2L439.6 640.8L440 640.1L440.4 638L440.8 653.4L441.2 635.2L441.6 633.2L442 646.9L442.4 654.9L442.8 632.5L443.2 635.5L443.6 633.5L444 638.8L444.4 642.4L444.8 631.6L445.2 635L445.6 630L446 638L446.4 634.7L446.8 639.3L447.2 634.8L447.6 637.5L448 624.8L448.4 632L448.8 633.3L449.2 637.5L449.6 628.7L450 632.4L450.4 642.9L450.8 639.1L451.2 631.4L451.6 635.8L452 633.5L452.4 637.5L452.8 633.7L453.2 629.1L453.6 636.5L454 624.9L454.4 640.2L454.8 642.4L455.2 641.6L455.6 625.8L456 634.4L456.4 641.3L456.8 636.9L457.2 637.5L457.6 636.3L458 640.8L458.4 634.1L458.8 623.8L459.2 637.1L459.6 650.2L460 640.1L460.4 639.3L460.8 648.7L461.2 629.6L461.6 627.9L462 631.9L462.4 638L462.8 647.3L463.2 642.3L463.6 634.3L464 644.8L464.4 636.8L464.8 636.7L465.2 633.3L465.6 628L466 632.8L466.4 627.4L466.8 619.7L467.2 628.3L467.6 643.4L468 632.1L468.4 624L468.8 634.8L469.2 650.4L469.6 633L470 651L470.4 637.6L470.8 619.2L471.2 635.9L471.6 648.5L472 637L472.4 625.2L472.8 636.2L473.2 642.7L473.6 622.4L474 634.2L474.4 635.6L474.8 640.7L475.2 630.4L475.6 626.9L476 637.4L476.4 635.2L476.8 632.4L477.2 629.4L477.6 638.6L478 629.1L478.4 648L478.8 630L479.2 641.4L479.6 639.8L480 635.3L480.4 631.1L480.8 639.9L481.2 632.8L481.6 625.6L482 632.5L482.4 634.7L482.8 619.4L483.2 639.3L483.6 618.2L484 633L484.4 630.6L484.8 619L485.2 629.3L485.6 623.5L486 633.4L486.4 626.1L486.8 632.2L487.2 633.1L487.6 638.3L488 624.3L488.4 642.3L488.8 615.8L489.2 622.2L489.6 626.7L490 618L490.4 617.3L490.8 631.8L491.2 617.1L491.6 623.7L492 634.9L492.4 637.2L492.8 626.4L493.2 633.9L493.6 634.2L494 632.4L494.4 626.5L494.8 621.5L495.2 618.1L495.6 637.8L496 631.4L496.4 626.5L496.8 626.8L497.2 632.6L497.6 633.3L498 626.1L498.4 618.7L498.8 631.5L499.2 622.9L499.6 614.9L500 634.6L500.4 637.9L500.8 626.9L501.2 623.8L501.6 622.9L502 620.9L502.4 619.7L502.8 616.6L503.2 616.1L503.6 617.6L504 620L504.4 621.3L504.8 623.3L505.2 612.3L505.6 623.3L506 611.8L506.4 611L506.8 620.8L507.2 604.8L507.6 615.8L508 602.2L508.4 612.1L508.8 619.8L509.2 620.6L509.6 606.8L510 606.8L510.4 624.8L510.8 616.5L511.2 623.3L511.6 602.3L512 623.2L512.4 615.6L512.8 604.3L513.2 613.5L513.6 623.4L514 617.3L514.4 604.9L514.8 602.3L515.2 622L515.6 611.8L516 608.5L516.4 611L516.8 609.7L517.2 605L517.6 614L518 618L518.4 606.1L518.8 624.3L519.2 611.6L519.6 619.9L520 624.2L520.4 624.9L520.8 629.7L521.2 607.5L521.6 606.1L522 609.4L522.4 616.7L522.8 624.4L523.2 613.5L523.6 614.5L524 618.8L524.4 618.4L524.8 638.3L525.2 616.2L525.6 636.3L526 640.2L526.4 623.6L526.8 623.4L527.2 624.1L527.6 620.6L528 621.3L528.4 616.5L528.8 628.6L529.2 632.5L529.6 620.7L530 632.3L530.4 623.3L530.8 621.8L531.2 627.7L531.6 624.8L532 639.1L532.4 637.2L532.8 637.1L533.2 633.5L533.6 618.6L534 624L534.4 627.3L534.8 640.6L535.2 622.6L535.6 636.9L536 614.7L536.4 625.2L536.8 626L537.2 636.3L537.6 635.7L538 629.7L538.4 632L538.8 619.4L539.2 616.2L539.6 636.7L540 647.2L540.4 636.4L540.8 625.9L541.2 632.8L541.6 616.1L542 627.7L542.4 626.7L542.8 638.4L543.2 631.1L543.6 636L544 619.4L544.4 627.1L544.8 623.3L545.2 634.8L545.6 630.9L546 630L546.4 614.5L546.8 641.2L547.2 626.3L547.6 628.8L548 646.5L548.4 639.4L548.8 629.9L549.2 633.5L549.6 619.3L550 623L550.4 633.7L550.8 624.6L551.2 626.3L551.6 618L552 623.3L552.4 623.4L552.8 624.3L553.2 640.4L553.6 627L554 628.4L554.4 635.7L554.8 625.6L555.2 632.6L555.6 614.6L556 625.1L556.4 631.3L556.8 622.3L557.2 630.9L557.6 624.9L558 631.5L558.4 634.8L558.8 625.5L559.2 619L559.6 619.9L560 627.5L560.4 626.5L560.8 615.3L561.2 633.7L561.6 635.3L562 626.6L562.4 628.7L562.8 628.6L563.2 619.8L563.6 626.1L564 628.5L564.4 625L564.8 616.8L565.2 615.5L565.6 621.1L566 620.7L566.4 620.2L566.8 610.2L567.2 623L567.6 621.2L568 623.9L568.4 615.4L568.8 628.5L569.2 624.7L569.6 630.7L570 619.1L570.4 629.6L570.8 626.3L571.2 621.3L571.6 625.1L572 618.1L572.4 623.2L572.8 623.6L573.2 623.2L573.6 625.5L574 628.5L574.4 615.9L574.8 626.5L575.2 607.5L575.6 615.8L576 638.1L576.4 628.3L576.8 623L577.2 640.9L577.6 616.2L578 621.4L578.4 614.7L578.8 625.5L579.2 617L579.6 608.4L580 612.3L580.4 617.2L580.8 626.5L581.2 624.7L581.6 626.9L582 623.8L582.4 616.9L582.8 634L583.2 616.5L583.6 624L584 616.2L584.4 617.6L584.8 618.4L585.2 613.6L585.6 626.1L586 619.4L586.4 626.5L586.8 628.5L587.2 623.9L587.6 620.3L588 622.4L588.4 614.2L588.8 620.9L589.2 603L589.6 610.9L590 622.1L590.4 605.2L590.8 618L591.2 620.8L591.6 615.1L592 608.4L592.4 620.7L592.8 628.1L593.2 622.9L593.6 601.8L594 624.4L594.4 606.8L594.8 621.1L595.2 609.5L595.6 613L596 617.7L596.4 599.6L596.8 615L597.2 604.4L597.6 607.8L598 600.7L598.4 598.1L598.8 588.4L599.2 594.4L599.6 600.1L600 585.6L600.4 599.3L600.8 591.9L601.2 574.6L601.6 581.8L602 582.2L602.4 575.4L602.8 576.2L603.2 577.5L603.6 565.3L604 568.7L604.4 561.8L604.8 554.4L605.2 563.2L605.6 555.4L606 556.9L606.4 564.4L606.8 545.4L607.2 565.1L607.6 565.5L608 566.1L608.4 571.4L608.8 572.4L609.2 576.1L609.6 564.8L610 575.5L610.4 583L610.8 582.9L611.2 587.5L611.6 583.1L612 603.7L612.4 593.8L612.8 600.5L613.2 603.6L613.6 595.5L614 597L614.4 594.6L614.8 606.5L615.2 614.1L615.6 610.7L616 597.1L616.4 615.2L616.8 616.8L617.2 611.6L617.6 598.9L618 597.4L618.4 606.8L618.8 601.5L619.2 615.3L619.6 622.4L620 623.8L620.4 621.1L620.8 622.2L621.2 623.1L621.6 617L622 610.3L622.4 629.8L622.8 630L623.2 602.5L623.6 626.5L624 619.8L624.4 614L624.8 629.1L625.2 612.6L625.6 617.2L626 619.1L626.4 628.2L626.8 615.1L627.2 621.2L627.6 616.1L628 622.5L628.4 630.5L628.8 629L629.2 621.1L629.6 621.3L630 611.1L630.4 630.3L630.8 622.7L631.2 631.3L631.6 623.7L632 622.4L632.4 621.2L632.8 610.8L633.2 627.8L633.6 627.6L634 617.5L634.4 625.5L634.8 623.1L635.2 618.2L635.6 616.5L636 612.6L636.4 615.3L636.8 630L637.2 628.2L637.6 622.9L638 630L638.4 623.6L638.8 619.5L639.2 626.1L639.6 621L640 620.6L640.4 626L640.8 614.8L641.2 631.8L641.6 625.5L642 618.5L642.4 627.6L642.8 614.3L643.2 612.3L643.6 620.2L644 624.7L644.4 618.1L644.8 614.4L645.2 637.1L645.6 625.2L646 615.6L646.4 620.6L646.8 629.3L647.2 622.4L647.6 614.3L648 639.8L648.4 634.1L648.8 612.7L649.2 628.7L649.6 627.8L650 617.4L650.4 621L650.8 618.4L651.2 626.5L651.6 635.7L652 624.4L652.4 620.8L652.8 634.2L653.2 622.9L653.6 617.3L654 618.7L654.4 620L654.8 627.7L655.2 629.7L655.6 630.6L656 629.8L656.4 611.7L656.8 627.3L657.2 614.8L657.6 625L658 624.2L658.4 618.4L658.8 619.8L659.2 620L659.6 625.4L660 624.7L660.4 635.6L660.8 625.2L661.2 627.1L661.6 626L662 622.3L662.4 629.7L662.8 617.9L663.2 625L663.6 618.4L664 621.4L664.4 610.8L664.8 613.1L665.2 628.5L665.6 624.7L666 627.5L666.4 621.1L666.8 616.7L667.2 626.9L667.6 630.2L668 615.9L668.4 607.2L668.8 618.9L669.2 621.9L669.6 611.1L670 613.2L670.4 626L670.8 631L671.2 633.5L671.6 619.9L672 625.5L672.4 621.4L672.8 615.3L673.2 618.5L673.6 627L674 614.8L674.4 617.5L674.8 621.6L675.2 617L675.6 614L676 619.4L676.4 630.6L676.8 623.9L677.2 615.5L677.6 623.9L678 618.4L678.4 625.1L678.8 621.7L679.2 612.9L679.6 617.2L680 623L680.4 623.1L680.8 618.8L681.2 624L681.6 614.5L682 617.3L682.4 618.7L682.8 605.4L683.2 624.3L683.6 615.7L684 620.3L684.4 613.5L684.8 625.9L685.2 618.9L685.6 616.8L686 628.5L686.4 616.6L686.8 608.9L687.2 629.8L687.6 617.1L688 613.3L688.4 618L688.8 629.2L689.2 623.3L689.6 614.2L690 620.8L690.4 637.4L690.8 626.3L691.2 628.7L691.6 617.1L692 619L692.4 634.6L692.8 617.6L693.2 623.3L693.6 626L694 625.4L694.4 618.8L694.8 626.5L695.2 616.9L695.6 612.1L696 622.8L696.4 620.1L696.8 616L697.2 619.3L697.6 610.6L698 622.1L698.4 627.2L698.8 606.4L699.2 612.6L699.6 614.9L700 610.6L700.4 620.6L700.8 629L701.2 619.7L701.6 628.3L702 619.7L702.4 621.7L702.8 615.6L703.2 621L703.6 612L704 627.9L704.4 611L704.8 611.8L705.2 620L705.6 612.5L706 622.1L706.4 621.9L706.8 619.1L707.2 605.7L707.6 617L708 618.8L708.4 617.5L708.8 616.6L709.2 612.6L709.6 614.3L710 620.3L710.4 620.1L710.8 613.2L711.2 621.1L711.6 624.7L712 625.3L712.4 616.4L712.8 633L713.2 606.5L713.6 621.1L714 618L714.4 616.4L714.8 616.2L715.2 612.5L715.6 617.8L716 614.9L716.4 613.8L716.8 614.4L717.2 613.3L717.6 621L718 625L718.4 615.2L718.8 618.2L719.2 626.9L719.6 608.9L720 619.7L720.4 612.2L720.8 617.9L721.2 619.6L721.6 624.8L722 609.9L722.4 619.9L722.8 612.2L723.2 621.5L723.6 605.2L724 620.6L724.4 624.4L724.8 626.1L725.2 619.9L725.6 611.4L726 606.2L726.4 616.3L726.8 613L727.2 597.6L727.6 599.6L728 611.3L728.4 606.1L728.8 595.2L729.2 597.6L729.6 599.7L730 608.3L730.4 607.7L730.8 605.9L731.2 600.7L731.6 600.1L732 597.6L732.4 610.1L732.8 587.5L733.2 601.2L733.6 601.6L734 596.4L734.4 577.5L734.8 591.9L735.2 591L735.6 584.8L736 585.7L736.4 586.9L736.8 592.6L737.2 584L737.6 591.3L738 580.9L738.4 602.4L738.8 578.1L739.2 588.2L739.6 581.7L740 582.4L740.4 593.2L740.8 600.3L741.2 586.9L741.6 595.8L742 590.4L742.4 600.5L742.8 577.9L743.2 600.6L743.6 595.2L744 597.2L744.4 597L744.8 589.1L745.2 607.5L745.6 605.1L746 597.2L746.4 601.1L746.8 602.2L747.2 592L747.6 606.3L748 611.1L748.4 607.9L748.8 607.6L749.2 597.4L749.6 604.5L750 598.6L750.4 605.7L750.8 612.2L751.2 629.9L751.6 610.2L752 611.9L752.4 609L752.8 610.2L753.2 620.1L753.6 609.2L754 613.5L754.4 618.1L754.8 607.5L755.2 630.1L755.6 611.1L756 615.9L756.4 624.3L756.8 611.9L757.2 597L757.6 616.6L758 620.6L758.4 615.8L758.8 622.4L759.2 616.7L759.6 628.4L760 628.3L760.4 617.6L760.8 625.2L761.2 613.6L761.6 620.6L762 623.4L762.4 609.3L762.8 618.8L763.2 602.6L763.6 608.6L764 607L764.4 622.2L764.8 610L765.2 627.6L765.6 610L766 612.4L766.4 607.6L766.8 617.2L767.2 613.2L767.6 615.6L768 619.8L768.4 616.4L768.8 611.6L769.2 608.2L769.6 617.5L770 629.2L770.4 625.5L770.8 617.9L771.2 612.8L771.6 623.4L772 618.7L772.4 613L772.8 613.9L773.2 612.6L773.6 609.7L774 615.9L774.4 613.3L774.8 618L775.2 614.2L775.6 606.6L776 618.6L776.4 629.8L776.8 608.3L777.2 619.6L777.6 611.5L778 618.9L778.4 635.1L778.8 625.2L779.2 613.2L779.6 612L780 613.5L780.4 621L780.8 614.6L781.2 609.6L781.6 619.2L782 601.8L782.4 612.2L782.8 626.9L783.2 614.1L783.6 615.9L784 609.8L784.4 610.4L784.8 607.8L785.2 609.9L785.6 606.8L786 598.8L786.4 615.9L786.8 609.6L787.2 623.7L787.6 621.2L788 621.4L788.4 625.2L788.8 626L789.2 614.1L789.6 626.3L790 630.8L790.4 621.5L790.8 608.3L791.2 615.3L791.6 617.7L792 612.4L792.4 610.6L792.8 627.3L793.2 615.7L793.6 615.2L794 621.9L794.4 611.2L794.8 631.2L795.2 618.4L795.6 619.6L796 607.3L796.4 613L796.8 623.1L797.2 617.9L797.6 616.2L798 615.1L798.4 620L798.8 604.2L799.2 628.4L799.6 624.2L800 624.2L800.4 604.7L800.8 619.4L801.2 628.4L801.6 615.3L802 611L802.4 605.1L802.8 612.6L803.2 621L803.6 604.3L804 607.8L804.4 622.3L804.8 608.7L805.2 616.9L805.6 616.5L806 622.8L806.4 610.8L806.8 616.7L807.2 610.4L807.6 626.2L808 614.6L808.4 629.1L808.8 611.6L809.2 616L809.6 626.8L810 619.5L810.4 621.4L810.8 614.6L811.2 616L811.6 613.2L812 617.6L812.4 623.5L812.8 625.2L813.2 621.4L813.6 604.4L814 624.1L814.4 622.6L814.8 615.8L815.2 615.1L815.6 600.9L816 610.1L816.4 622.3L816.8 628L817.2 617L817.6 610.4L818 615.1L818.4 618.8L818.8 608.7L819.2 616.4L819.6 619.8L820 623.8L820.4 613.1L820.8 608.8L821.2 616.2L821.6 613.2L822 614.6L822.4 612.5L822.8 616.8L823.2 612L823.6 620.2L824 615.1L824.4 611.7L824.8 628.1L825.2 620.1L825.6 616.9L826 612.6L826.4 602.4L826.8 620L827.2 621.1L827.6 611.4L828 618.4L828.4 611.7L828.8 617.2L829.2 618.1L829.6 611.3L830 612.7L830.4 620.5L830.8 611.5L831.2 605.2L831.6 603.4L832 615L832.4 628.2L832.8 617.4L833.2 620.5L833.6 622.8L834 617L834.4 626.5L834.8 603.8L835.2 615.9L835.6 626.2L836 618.7L836.4 624.8L836.8 625.7L837.2 617.4L837.6 606L838 610.1L838.4 619.1L838.8 632.2L839.2 618.5L839.6 601.3L840 615.6L840.4 616.1L840.8 617L841.2 620.2L841.6 597.9L842 634.3L842.4 623.7L842.8 621.7L843.2 619.5L843.6 609.4L844 615.1L844.4 630.8L844.8 621.6L845.2 621.6L845.6 616.6L846 615L846.4 618.1L846.8 625.2L847.2 625.3L847.6 623.9L848 608.9L848.4 614.8L848.8 616.1L849.2 610L849.6 621.5L850 610.4L850.4 633.6L850.8 619.1L851.2 616.8L851.6 610.1L852 614.7L852.4 626.8L852.8 604.6L853.2 612.7L853.6 624.3L854 597.7L854.4 615.7L854.8 608.8L855.2 622.5L855.6 608.2L856 604.9L856.4 613.7L856.8 627.6L857.2 612.6L857.6 616.7L858 617.3L858.4 609.8L858.8 613.7L859.2 614.7L859.6 619.5L860 615.7L860.4 614.1L860.8 603.6L861.2 629.6L861.6 614.6L862 614.2L862.4 621.2L862.8 627.2L863.2 616.9L863.6 618.3L864 608.4L864.4 616.6L864.8 618.4L865.2 611.1L865.6 619.9L866 607.1L866.4 627L866.8 605.6L867.2 622.3L867.6 609.1L868 619.4L868.4 625.2L868.8 603.5L869.2 614.5L869.6 615.3L870 606L870.4 610.9L870.8 623.5L871.2 606.5L871.6 611.9L872 604.3L872.4 606.6L872.8 617.4L873.2 622.6L873.6 605L874 618.9L874.4 618.2L874.8 600.6L875.2 617L875.6 605.4L876 604.9L876.4 605.2L876.8 607L877.2 612.9L877.6 617.6L878 621.3L878.4 603.7L878.8 626L879.2 607.3L879.6 600.4L880 617.7L880.4 617.4L880.8 621.5L881.2 620.1L881.6 621.8L882 607.7L882.4 611.1L882.8 609.4L883.2 615.9L883.6 609.6L884 623.3L884.4 617.1L884.8 618.3L885.2 610.4L885.6 610.1L886 610.9L886.4 613.5L886.8 597.2L887.2 605.9L887.6 617.9L888 614.5L888.4 617.4L888.8 612L889.2 608.5L889.6 613.7L890 609.2L890.4 617.3L890.8 612.8L891.2 614.7L891.6 616.6L892 607.8L892.4 607.6L892.8 608.9L893.2 611.4L893.6 622.1L894 610.1L894.4 609.8L894.8 619.1L895.2 622.1L895.6 615.7L896 620.1L896.4 612.8L896.8 613.7L897.2 612.9L897.6 618.6L898 613.2L898.4 612.8L898.8 605.9L899.2 605.9L899.6 612.1L900 610.4L900.4 619.3L900.8 609.8L901.2 616.2L901.6 611.3L902 604.7L902.4 603.7L902.8 609.5L903.2 612.8L903.6 603.4L904 619.2L904.4 616.5L904.8 617.9L905.2 612.8L905.6 616.7L906 615.3L906.4 599.3L906.8 607.1L907.2 624.1L907.6 606.6L908 615.2L908.4 616.5L908.8 613.4L909.2 615.4L909.6 628.4L910 599.5L910.4 602.9L910.8 623.7L911.2 619.3L911.6 608L912 623.9L912.4 606L912.8 606L913.2 611.6L913.6 608.3L914 611.6L914.4 606.4L914.8 605.1L915.2 608.8L915.6 617.5L916 605L916.4 604.5L916.8 615.9L917.2 609.3L917.6 625.7L918 625.2L918.4 606.4L918.8 597.1L919.2 603.1L919.6 613.5L920 606.4L920.4 618.7L920.8 602.9L921.2 607.5L921.6 612.2L922 621.7L922.4 604.4L922.8 614.7L923.2 611.6L923.6 613L924 608.5L924.4 609L924.8 611.7L925.2 612.6L925.6 603.3L926 611.1L926.4 612.6L926.8 618.1L927.2 608.6L927.6 623L928 598.9L928.4 600.2L928.8 605.8L929.2 610.9L929.6 620.3L930 614.9L930.4 615L930.8 612.4L931.2 604.6L931.6 624.6L932 618L932.4 607.1L932.8 611L933.2 611.7L933.6 617.9L934 617.6L934.4 617.6L934.8 609.9L935.2 617L935.6 613.7L936 608.1L936.4 613.5L936.8 610.3L937.2 610.9L937.6 615.2L938 606.7L938.4 627.6L938.8 616.7L939.2 614.4L939.6 619.2L940 611.4L940.4 621.2L940.8 594.5L941.2 613.3L941.6 607.5L942 600.5L942.4 619.9L942.8 619.4L943.2 609.1L943.6 621.2L944 626L944.4 608.2L944.8 615.3L945.2 614.1L945.6 604.2L946 604.5L946.4 615.6L946.8 597.8L947.2 606.9L947.6 612.3L948 613L948.4 605.8L948.8 609.9L949.2 616.3L949.6 613.4L950 617.7L950.4 616.1L950.8 614.2L951.2 603.5L951.6 608.3L952 608.3L952.4 614.8L952.8 605.7L953.2 600.9L953.6 606.9L954 598L954.4 606.9L954.8 622L955.2 597L955.6 619.4L956 598.7L956.4 602.9L956.8 607.3L957.2 606.3L957.6 606.3L958 610.8L958.4 614.7L958.8 618.1L959.2 602.5L959.6 597.5L960 591.8L960.4 603.1L960.8 597.6L961.2 602L961.6 588L962 610.1L962.4 610L962.8 604.5L963.2 605.9L963.6 590.6L964 602.6L964.4 601L964.8 592.9L965.2 606.8L965.6 591.3L966 594.3L966.4 602.6L966.8 593.6L967.2 600.5L967.6 593.3L968 585.9L968.4 589L968.8 584.5L969.2 587.4L969.6 589.6L970 593.5L970.4 595.9L970.8 580L971.2 587.3L971.6 587.6L972 594.8L972.4 592.5L972.8 588.5L973.2 581.5L973.6 587.4L974 580.2L974.4 578.3L974.8 592.5L975.2 584.6L975.6 582.9L976 595.6L976.4 590.3L976.8 608.8L977.2 603.8L977.6 598.9L978 592L978.4 589.5L978.8 610.2L979.2 593.6L979.6 581.2L980 595.8L980.4 597.8L980.8 600.7L981.2 584.8L981.6 613.8L982 601.2L982.4 604.6L982.8 606.6L983.2 604.3L983.6 609.5L984 604.6L984.4 614.8L984.8 600.4L985.2 597.9L985.6 599.3L986 610.3L986.4 611.1L986.8 600.3L987.2 600L987.6 604.9L988 607.8L988.4 604.7L988.8 617.9L989.2 603.4L989.6 607.1L990 603.4L990.4 608.3L990.8 610.3L991.2 607.3L991.6 608.3L992 600.4L992.4 613.9L992.8 606.5L993.2 607.3L993.6 606.3L994 615.1L994.4 616.5L994.8 612.6L995.2 604.6L995.6 614L996 605.1L996.4 607.9L996.8 602L997.2 605.4L997.6 617.9L998 609.1L998.4 605.9L998.8 618.2L999.2 608.7L999.6 612.7L1000 599.6L1000.4 598.5L1000.8 597.4L1001.2 610.1L1001.6 596.6L1002 613.2L1002.4 618.5L1002.8 610.4L1003.2 608L1003.6 613.8L1004 604.6L1004.4 620L1004.8 611.6L1005.2 614.9L1005.6 608.1L1006 620.1L1006.4 617.6L1006.8 608.9L1007.2 616.6L1007.6 612.3L1008 608.7L1008.4 603.5L1008.8 610.1L1009.2 600L1009.6 620L1010 605.5L1010.4 624.5L1010.8 598.8L1011.2 597L1011.6 597.8L1012 618.4L1012.4 601.7L1012.8 617.6L1013.2 609.4L1013.6 605.8L1014 610.9L1014.4 614.9L1014.8 618.1L1015.2 620.6L1015.6 606.2L1016 618.7L1016.4 613.3L1016.8 614.9L1017.2 620.9L1017.6 612L1018 616L1018.4 621L1018.8 599.9L1019.2 606.2L1019.6 601.9L1020 596.2L1020.4 610L1020.8 619.7L1021.2 614.4L1021.6 608.2L1022 620.3L1022.4 619.7L1022.8 624.2L1023.2 624.7L1023.6 612.9L1024 609.1L1024.4 610.7L1024.8 618.1L1025.2 595.8L1025.6 608.7L1026 617.3L1026.4 608.1L1026.8 607.6L1027.2 610.5L1027.6 607.4L1028 601.8L1028.4 609.5L1028.8 613.2L1029.2 620.8L1029.6 623.4L1030 612.7L1030.4 608L1030.8 597.6L1031.2 621L1031.6 611.5L1032 614.9L1032.4 616.5L1032.8 614L1033.2 610.9L1033.6 611.6L1034 617.4L1034.4 600.5L1034.8 613.1L1035.2 613.7L1035.6 626.5L1036 607.8L1036.4 606.5L1036.8 611.2L1037.2 615.9L1037.6 602.6L1038 617.1L1038.4 614.9L1038.8 599L1039.2 598.7L1039.6 619.2L1040 610.9L1040.4 622.4L1040.8 608.6L1041.2 597.2L1041.6 607.4L1042 604.6L1042.4 614.4L1042.8 608L1043.2 597L1043.6 597.9L1044 608L1044.4 620.7L1044.8 610.1L1045.2 616.7L1045.6 594L1046 610.6L1046.4 609.8L1046.8 613.2L1047.2 607.3L1047.6 590.4L1048 604L1048.4 605.9L1048.8 612.9L1049.2 607.3L1049.6 610.3L1050 602.4L1050.4 610.1L1050.8 607.3L1051.2 607.3L1051.6 603L1052 605.5L1052.4 606.8L1052.8 605.2L1053.2 584.5L1053.6 600.3L1054 607.1L1054.4 605.3L1054.8 594.5L1055.2 602L1055.6 593.9L1056 599.8L1056.4 589.9L1056.8 595.5L1057.2 585.5L1057.6 590.9L1058 590.7L1058.4 589.5L1058.8 588.9L1059.2 596.2L1059.6 580L1060 584.9L1060.4 576.7L1060.8 582.2L1061.2 578.3L1061.6 567.4L1062 575.6L1062.4 571.3L1062.8 565.7L1063.2 564L1063.6 572.7L1064 563L1064.4 560.4L1064.8 565.1L1065.2 561.9L1065.6 563.1L1066 564.3L1066.4 549.1L1066.8 560.9L1067.2 568.1L1067.6 564.5L1068 568.9L1068.4 569L1068.8 576.9L1069.2 567.7L1069.6 569L1070 552.5L1070.4 579.3L1070.8 585L1071.2 575.9L1071.6 577.2L1072 587.8L1072.4 573.8L1072.8 580.4L1073.2 576.6L1073.6 600.4L1074 593.2L1074.4 583.7L1074.8 597.8L1075.2 594.4L1075.6 597.5L1076 611L1076.4 593L1076.8 613.2L1077.2 589.7L1077.6 597.7L1078 601.1L1078.4 596.4L1078.8 598.1L1079.2 610.5L1079.6 600.4L1080 606.9L1080.4 603.6L1080.8 607.6L1081.2 606L1081.6 600L1082 607.9L1082.4 611.4L1082.8 608.4L1083.2 617.6L1083.6 615.4L1084 595.8L1084.4 597.6L1084.8 588.9L1085.2 598.4L1085.6 608.2L1086 598.1L1086.4 595.6L1086.8 601.1L1087.2 614.6L1087.6 602.9L1088 606.7L1088.4 614.4L1088.8 602.2L1089.2 601.6L1089.6 601L1090 615.8L1090.4 613.9L1090.8 612.2L1091.2 605.4L1091.6 613.2L1092 610.7L1092.4 603.2L1092.8 627.3L1093.2 611.7L1093.6 612L1094 615.7L1094.4 613.7L1094.8 618.6L1095.2 606.5L1095.6 614.1L1096 601.2L1096.4 611L1096.8 623.9L1097.2 616.1L1097.6 624.6L1098 606.5L1098.4 604.9L1098.8 613L1099.2 600.4L1099.6 613L1100 615.9L1100.4 609.4L1100.8 613.1L1101.2 606L1101.6 613.2L1102 612L1102.4 614.5L1102.8 601.7L1103.2 598.6L1103.6 600.6L1104 609.4L1104.4 610L1104.8 617.8L1105.2 609.6L1105.6 608.2L1106 624.5L1106.4 603.2L1106.8 608.5L1107.2 613.3L1107.6 615.4L1108 617.2L1108.4 614.5L1108.8 610.4L1109.2 606.7L1109.6 622.3L1110 610.6L1110.4 619L1110.8 603.4L1111.2 606.5L1111.6 611.2L1112 627.4L1112.4 621.7L1112.8 619.3L1113.2 599.4L1113.6 619.7L1114 612.3L1114.4 614.7L1114.8 618.2L1115.2 605.3L1115.6 612.5L1116 609.5L1116.4 604.7L1116.8 610.7L1117.2 613.6L1117.6 603L1118 608.2L1118.4 618.5L1118.8 610.6L1119.2 616.6L1119.6 616.3L1120 613.8L1120.4 614.6L1120.8 614.5L1121.2 612.1L1121.6 618.6L1122 613.8L1122.4 604.9L1122.8 609L1123.2 600.6L1123.6 611.5L1124 606.8L1124.4 615.4L1124.8 601.3L1125.2 620.5L1125.6 609.7L1126 599.6L1126.4 623.6L1126.8 611.3L1127.2 607.3L1127.6 612.5L1128 597.1L1128.4 609.6L1128.8 607.6L1129.2 608.7L1129.6 622.7L1130 623.6L1130.4 630.4L1130.8 610.3L1131.2 611.7L1131.6 608.9L1132 614.4L1132.4 617.1L1132.8 608.3L1133.2 628.6L1133.6 613.2L1134 616L1134.4 604.1L1134.8 616.7L1135.2 616.8L1135.6 608.4L1136 623.9L1136.4 613L1136.8 603.1L1137.2 604.1L1137.6 614.5L1138 615.7L1138.4 613.7L1138.8 621.6L1139.2 620.3L1139.6 624.7L1140 608.1L1140.4 610.8L1140.8 629.2L1141.2 615.3L1141.6 608.4L1142 613.5L1142.4 623.5L1142.8 608.8L1143.2 618.9L1143.6 603L1144 613.5L1144.4 608.6L1144.8 612.1L1145.2 610L1145.6 614.8L1146 605.9L1146.4 614.3L1146.8 611.9L1147.2 617.5L1147.6 622.7L1148 631L1148.4 608.4L1148.8 612.7L1149.2 605.1L1149.6 613.3L1150 612.3L1150.4 606.7L1150.8 617.8L1151.2 619L1151.6 606L1152 618.4L1152.4 627.1L1152.8 613.4L1153.2 605L1153.6 605.9L1154 618L1154.4 621.7L1154.8 616.5L1155.2 616.5L1155.6 616.5L1156 617.2L1156.4 608.6L1156.8 624.7L1157.2 632.8L1157.6 620.7L1158 612L1158.4 618.7L1158.8 609.6L1159.2 614.2L1159.6 622.5L1160 616.4L1160.4 618.8L1160.8 600.5L1161.2 605.2L1161.6 621.5L1162 615.5L1162.4 596.3L1162.8 626.1L1163.2 614.7L1163.6 610.5L1164 625.1L1164.4 622.9L1164.8 608.3L1165.2 605.5L1165.6 624.1L1166 619.8L1166.4 621.2L1166.8 614.7L1167.2 609.5L1167.6 604.8L1168 609.2L1168.4 621.9L1168.8 623.8L1169.2 613.6L1169.6 606.9L1170 605.5L1170.4 630.7L1170.8 615.5L1171.2 603.3L1171.6 617L1172 623L1172.4 609.7L1172.8 607.6L1173.2 614.8L1173.6 624.2L1174 616L1174.4 604.6L1174.8 615.2L1175.2 611.2L1175.6 614.3L1176 615.8L1176.4 621.9L1176.8 622.8L1177.2 632.5L1177.6 615.7L1178 616.9L1178.4 617.8L1178.8 614.1L1179.2 630.3L1179.6 624.1L1180 607.7L1180.4 619.8L1180.8 613.2L1181.2 625L1181.6 617.3L1182 604.3L1182.4 619.7L1182.8 632.4L1183.2 613.4L1183.6 600.9L1184 626.6L1184.4 609.3L1184.8 622.3L1185.2 614L1185.6 608.2L1186 612.6L1186.4 606.3L1186.8 612.5L1187.2 617.4L1187.6 606.5L1188 623L1188.4 626.8L1188.8 605.1L1189.2 622.1L1189.6 613.7L1190 605.5L1190.4 613.1L1190.8 615.4L1191.2 607.8L1191.6 611.7L1192 612.8L1192.4 621.8L1192.8 612.6L1193.2 616.1L1193.6 617.9L1194 618.5L1194.4 609.9L1194.8 604.7L1195.2 614.6L1195.6 609.5L1196 616.5L1196.4 604.6L1196.8 612.9L1197.2 612.2L1197.6 619.7L1198 615.7L1198.4 614.9L1198.8 620.4L1199.2 611.9L1199.6 612.1L1200 614.7L1200.4 621L1200.8 620.8L1201.2 617.7L1201.6 613.2L1202 623.1L1202.4 605L1202.8 604.7L1203.2 612.3L1203.6 624.8L1204 625.8L1204.4 614.8L1204.8 600.1L1205.2 612L1205.6 617.9L1206 603.7L1206.4 607.6L1206.8 624.5L1207.2 610.2L1207.6 620.1L1208 606.2L1208.4 608.1L1208.8 611.8L1209.2 618.3L1209.6 612.6L1210 611.9L1210.4 608.3L1210.8 620.1L1211.2 604L1211.6 615.7L1212 603.7L1212.4 622.1L1212.8 603.9L1213.2 610.8L1213.6 604.5L1214 616.4L1214.4 625.2L1214.8 611.3L1215.2 623.2L1215.6 610.3L1216 631.8L1216.4 616.5L1216.8 614.7L1217.2 613.7L1217.6 616.9L1218 625L1218.4 619.9L1218.8 609.3L1219.2 605.6L1219.6 599.9L1220 618.5L1220.4 608.1L1220.8 599.6L1221.2 610.6L1221.6 623.4L1222 606.1L1222.4 611.7L1222.8 603.8L1223.2 620.3L1223.6 612L1224 616.7L1224.4 607.8L1224.8 608.7L1225.2 614.3L1225.6 601.1L1226 628.9L1226.4 626.2L1226.8 616.4L1227.2 610L1227.6 618.5L1228 620.7L1228.4 607.8L1228.8 607.7L1229.2 612.3L1229.6 612.5L1230 607.8L1230.4 615.5L1230.8 619.6L1231.2 621.2L1231.6 616.8L1232 620.8L1232.4 609.1L1232.8 609.4L1233.2 613.7L1233.6 606.1L1234 600.1L1234.4 623.1L1234.8 605.7L1235.2 596.2L1235.6 610.8L1236 612.9L1236.4 610.4L1236.8 608.3L1237.2 610.5L1237.6 612.7L1238 616.3L1238.4 613.3L1238.8 611L1239.2 614.9L1239.6 610L1240 606.6L1240.4 615.8L1240.8 604.5L1241.2 610.9L1241.6 605.2L1242 610.6L1242.4 626.4L1242.8 609.5L1243.2 614L1243.6 619.8L1244 609.1L1244.4 620.3L1244.8 610.3L1245.2 613.6L1245.6 597.9L1246 614.8L1246.4 612.8L1246.8 618.2L1247.2 606.4L1247.6 605.6L1248 616.5L1248.4 625.1L1248.8 606.2L1249.2 609.5L1249.6 624.4L1250 611.5L1250.4 612.8L1250.8 618.5L1251.2 615.2L1251.6 615.5L1252 602.1L1252.4 615L1252.8 613.8L1253.2 605L1253.6 594.8L1254 627L1254.4 618.9L1254.8 600.8L1255.2 610.9L1255.6 613L1256 607.2L1256.4 609.6L1256.8 620.8L1257.2 612.7L1257.6 605.5L1258 605.2L1258.4 612L1258.8 620L1259.2 615.5L1259.6 615.1L1260 607.2L1260.4 611.5L1260.8 620.4L1261.2 615.4L1261.6 622.3L1262 618.7L1262.4 613.5L1262.8 614.2L1263.2 629.1L1263.6 607.6L1264 624.8L1264.4 612.7L1264.8 615.6L1265.2 614.8L1265.6 619.1L1266 614.3L1266.4 629.8L1266.8 614.2L1267.2 613.6L1267.6 613.1L1268 610.5L1268.4 613.8L1268.8 619L1269.2 617.6L1269.6 603.7L1270 615.5L1270.4 619.9L1270.8 606.2L1271.2 613L1271.6 610.5L1272 602.2L1272.4 602.3L1272.8 623.4L1273.2 619.8L1273.6 624.3L1274 605.7L1274.4 614.8L1274.8 613.4L1275.2 607.4L1275.6 607.5L1276 623.1L1276.4 605.9L1276.8 611.1L1277.2 611.5L1277.6 609.6L1278 621.7L1278.4 614.7L1278.8 597.4L1279.2 622.4L1279.6 611.3L1280 601.5L1280.4 607.2L1280.8 632.1L1281.2 613L1281.6 601L1282 632.1L1282.4 608.8L1282.8 603.7L1283.2 606L1283.6 612.3L1284 621.7L1284.4 615.9L1284.8 606.5L1285.2 602.7L1285.6 599.4L1286 611.8L1286.4 622.7L1286.8 617.2L1287.2 622.7L1287.6 613.3L1288 602.9L1288.4 609.9L1288.8 612.3L1289.2 608.7L1289.6 615.8L1290 614.8L1290.4 613.7L1290.8 607.3L1291.2 614L1291.6 626L1292 612.4L1292.4 610L1292.8 622.1L1293.2 607.3L1293.6 615.6L1294 611.4L1294.4 617L1294.8 611.7L1295.2 610.2L1295.6 613.2L1296 602.2L1296.4 622.6L1296.8 613L1297.2 623.6L1297.6 611L1298 612.4L1298.4 621.5L1298.8 620L1299.2 617.9L1299.6 627.9L1300 614L1300.4 618.6L1300.8 613.6L1301.2 607.6L1301.6 621.8L1302 613.3L1302.4 619.5L1302.8 614.6L1303.2 618.7L1303.6 614.9L1304 617.2L1304.4 614.9L1304.8 614.8L1305.2 619.8L1305.6 612.1L1306 617.4L1306.4 610.1L1306.8 612.8L1307.2 603.6L1307.6 610.3L1308 609.3L1308.4 614.8L1308.8 622.5L1309.2 622.5L1309.6 619.6L1310 617.5L1310.4 630.4L1310.8 615.1L1311.2 611.9L1311.6 617.8L1312 611.7L1312.4 620.4L1312.8 609.1L1313.2 603.6L1313.6 622.4L1314 605.4L1314.4 605.9L1314.8 622.2L1315.2 614.8L1315.6 628.5L1316 616.4L1316.4 612.5L1316.8 611.3L1317.2 610.2L1317.6 626.1L1318 616.8L1318.4 615.4L1318.8 616.9L1319.2 608.6L1319.6 613.1L1320 622.1L1320.4 624.6L1320.8 618.5L1321.2 621.4L1321.6 626.2L1322 611.3L1322.4 609.7L1322.8 610.2L1323.2 611.2L1323.6 631.3L1324 615.3L1324.4 608.3L1324.8 612.2L1325.2 627.7L1325.6 610.2L1326 616.7L1326.4 614.8L1326.8 612.2L1327.2 619.7L1327.6 620.9L1328 619L1328.4 616.5L1328.8 606.8L1329.2 611.4L1329.6 616.3L1330 611.4L1330.4 611.9L1330.8 613L1331.2 608.7L1331.6 618.9L1332 626.2L1332.4 625.2L1332.8 617.9L1333.2 619.2L1333.6 612.2L1334 600.2L1334.4 618.4L1334.8 620.1L1335.2 626.2L1335.6 613.6L1336 617.1L1336.4 618.5L1336.8 615L1337.2 611.6L1337.6 619.4L1338 607L1338.4 612.5L1338.8 612.8L1339.2 608.9L1339.6 604.2L1340 608.6L1340.4 605.8L1340.8 619.6L1341.2 621.4L1341.6 618.5L1342 615.9L1342.4 604.5L1342.8 604.8L1343.2 615.2L1343.6 611.9L1344 598.6L1344.4 618L1344.8 604L1345.2 604L1345.6 600.2L1346 634L1346.4 609.1L1346.8 620.3L1347.2 605.6L1347.6 632.9L1348 619.4L1348.4 621.9L1348.8 619.8L1349.2 616.1L1349.6 612L1350 597.7L1350.4 618.2L1350.8 628.2L1351.2 612.6L1351.6 605.4L1352 610.4L1352.4 615.6L1352.8 614.1L1353.2 608.1L1353.6 614.6L1354 620.9L1354.4 603.5L1354.8 614.6L1355.2 608.3L1355.6 612.9L1356 619.7L1356.4 622.9L1356.8 603.4L1357.2 617.9L1357.6 611.5L1358 616.8L1358.4 626.5L1358.8 601.7L1359.2 599.5L1359.6 619.1L1360 611.2L1360.4 613.5L1360.8 619.1L1361.2 613.3L1361.6 610.2L1362 632L1362.4 610.7L1362.8 610.8L1363.2 615.3L1363.6 613.9L1364 609.5L1364.4 623.8L1364.8 621.3L1365.2 618.1L1365.6 607.9L1366 614.6L1366.4 611.8L1366.8 604.3L1367.2 612.2L1367.6 623.2L1368 616.7L1368.4 606L1368.8 605.7L1369.2 621.3L1369.6 608.5L1370 615.9L1370.4 612.5L1370.8 622.8L1371.2 622.2L1371.6 617.9L1372 619L1372.4 613.3L1372.8 616.1L1373.2 618.8L1373.6 616.5L1374 622.8L1374.4 620.2L1374.8 615.8L1375.2 617L1375.6 623L1376 628.1L1376.4 614.9L1376.8 620.6L1377.2 613.7L1377.6 612.4L1378 616.7L1378.4 612.4L1378.8 610.3L1379.2 615.9L1379.6 618.3L1380 619.3L1380.4 618L1380.8 609.4L1381.2 598.1L1381.6 619.7L1382 625.8L1382.4 614.5L1382.8 615.5L1383.2 624L1383.6 610.8L1384 615.9L1384.4 623L1384.8 628.9L1385.2 613.6L1385.6 607.1L1386 621.2L1386.4 627.6L1386.8 621L1387.2 613.6L1387.6 621.3L1388 608.4L1388.4 613.3L1388.8 627.9L1389.2 614.5L1389.6 621.9L1390 626.3L1390.4 598.6L1390.8 613.5L1391.2 605.2L1391.6 616.6L1392 613.3L1392.4 631L1392.8 616.1L1393.2 620.8L1393.6 610.3L1394 602.1L1394.4 610.8L1394.8 623.2L1395.2 609.1L1395.6 614.2L1396 627.7L1396.4 619.2L1396.8 617.3L1397.2 606.9L1397.6 614.5L1398 604.2L1398.4 621.7L1398.8 620.2L1399.2 613.1L1399.6 628L1400 613.8L1400.4 612.4L1400.8 614.6L1401.2 620L1401.6 620.8L1402 617.4L1402.4 607.1L1402.8 611.8L1403.2 608.4L1403.6 604.7L1404 616.2L1404.4 620L1404.8 623L1405.2 614.5L1405.6 625L1406 605.5L1406.4 620.1L1406.8 619.7L1407.2 618.5L1407.6 622.6L1408 612.6L1408.4 604.4L1408.8 622L1409.2 620L1409.6 598.2L1410 625.6L1410.4 624.6L1410.8 620.1L1411.2 621.2L1411.6 616.3L1412 618.5L1412.4 617.5L1412.8 625.7L1413.2 621.3L1413.6 627.9L1414 613L1414.4 616.5L1414.8 621.6L1415.2 612.4L1415.6 629.4L1416 607.9L1416.4 617.9L1416.8 613.4L1417.2 611.8L1417.6 612L1418 613.3L1418.4 607.8L1418.8 617.6L1419.2 626.3L1419.6 623.1L1420 605.4L1420.4 610.1L1420.8 616.6L1421.2 623.3L1421.6 621L1422 615.1L1422.4 631.1L1422.8 624.7L1423.2 621.6L1423.6 619.6L1424 618.1L1424.4 618.3L1424.8 607.1L1425.2 617.1L1425.6 614L1426 611.4L1426.4 616.5L1426.8 616.9L1427.2 624.5L1427.6 626.4L1428 610.9L1428.4 612L1428.8 602.9L1429.2 616.5L1429.6 615.3L1430 607.8L1430.4 601.6L1430.8 632.7L1431.2 620.6L1431.6 620.1L1432 606.7L1432.4 609.7L1432.8 612L1433.2 619.5L1433.6 621.2L1434 611.7L1434.4 634.2L1434.8 627.9L1435.2 609.8L1435.6 622.5L1436 612.2L1436.4 619.4L1436.8 614L1437.2 615.1L1437.6 620.8L1438 614.2L1438.4 616.5L1438.8 614.8L1439.2 624.8L1439.6 624.2L1440 610.3L1440.4 617.2L1440.8 617.2L1441.2 599.8L1441.6 616.5L1442 628.5L1442.4 614.2L1442.8 613.1L1443.2 619.1L1443.6 622.9L1444 617.6L1444.4 609.7L1444.8 612.2L1445.2 609.7L1445.6 629.8L1446 613.4L1446.4 610.1L1446.8 613.5L1447.2 627.3L1447.6 613.5L1448 612.9L1448.4 616.8L1448.8 618.5L1449.2 612.3L1449.6 612.4L1450 608.7L1450.4 611.1L1450.8 627.5L1451.2 607.7L1451.6 612.3L1452 621.7L1452.4 605.3L1452.8 615L1453.2 620.7L1453.6 624.5L1454 623.8L1454.4 601.9L1454.8 619.4L1455.2 609.8L1455.6 620.9L1456 607.5L1456.4 609.7L1456.8 609.1L1457.2 612.7L1457.6 609.9L1458 608.1L1458.4 620.5L1458.8 621.1L1459.2 604.3L1459.6 612.1L1460 618.3L1460.4 621.5L1460.8 633.4L1461.2 628.4L1461.6 615.5L1462 613.9L1462.4 621L1462.8 620.7L1463.2 606.6L1463.6 619.9L1464 626.4L1464.4 616.4L1464.8 609.5L1465.2 605.3L1465.6 612.9L1466 624.9L1466.4 610.8L1466.8 610.5L1467.2 617.6L1467.6 621.4L1468 609.3L1468.4 607.7L1468.8 608L1469.2 607.4L1469.6 613.5L1470 607.1L1470.4 620.7L1470.8 606.9L1471.2 612L1471.6 610.3L1472 613.3L1472.4 624L1472.8 602.6L1473.2 625.8L1473.6 606.8L1474 623L1474.4 601.4L1474.8 619.9L1475.2 596.5L1475.6 609.1L1476 614.1L1476.4 607.9L1476.8 608.2L1477.2 622.1L1477.6 615.2L1478 609.4L1478.4 610.8L1478.8 612.6L1479.2 610.2L1479.6 614.6L1480 602.4L1480.4 605.5L1480.8 619.6L1481.2 607.8L1481.6 610.7L1482 605L1482.4 602.1L1482.8 623.1L1483.2 613.6L1483.6 615.2L1484 624.5L1484.4 609L1484.8 609L1485.2 607.7L1485.6 619.8L1486 617L1486.4 605.2L1486.8 610.4L1487.2 618.8L1487.6 596L1488 609.3L1488.4 623.8L1488.8 619.4L1489.2 616L1489.6 607.8L1490 615.9L1490.4 613.6L1490.8 603.6L1491.2 616.5L1491.6 616.1L1492 615.5L1492.4 612.1L1492.8 623.6L1493.2 616L1493.6 611.1L1494 610.1L1494.4 622.4L1494.8 605.6L1495.2 625.9L1495.6 612L1496 618.6L1496.4 616.8L1496.8 607.5L1497.2 605.6L1497.6 613.9L1498 618L1498.4 625.2L1498.8 616.1L1499.2 612.2L1499.6 626.7L1500 615L1500.4 615.6L1500.8 619.4L1501.2 621.6L1501.6 619L1502 613L1502.4 616.8L1502.8 613.6L1503.2 611.8L1503.6 614.5L1504 610.6L1504.4 605.7L1504.8 625.3L1505.2 617L1505.6 614.1L1506 619.8L1506.4 614L1506.8 606.6L1507.2 611.1L1507.6 624.6L1508 617.8L1508.4 608.4L1508.8 611.8L1509.2 605L1509.6 613.3L1510 611.7L1510.4 603.6L1510.8 607.5L1511.2 614L1511.6 611.8L1512 627.1L1512.4 604.5L1512.8 617.1L1513.2 615.7L1513.6 604.1L1514 610.8L1514.4 611L1514.8 605.2L1515.2 619.4L1515.6 612.6L1516 614.5L1516.4 619.8L1516.8 610.6L1517.2 621L1517.6 605.6L1518 611.7L1518.4 613.5L1518.8 606.4L1519.2 606.2L1519.6 614L1520 604.0"/></g>
<g clip-path="url(#cp3)" shape-rendering="crispEdges"><path class="c" stroke="#007CC2" stroke-width="9.0" d="M166 903.8L166.4 896.8L166.8 897.2L167.2 896L167.6 886.7L168 897L168.4 889L168.8 897.2L169.2 893.5L169.6 901.4L170 895.2L170.4 896.2L170.8 890.9L171.2 899.1L171.6 895.1L172 898.9L172.4 899.8L172.8 899.6L173.2 894.7L173.6 886.7L174 890.1L174.4 899.7L174.8 900.5L175.2 901.9L175.6 893L176 890.9L176.4 899.9L176.8 899.7L177.2 895.6L177.6 895.4L178 888.9L178.4 894.4L178.8 901.7L179.2 890.9L179.6 893L180 894.5L180.4 893.6L180.8 886.5L181.2 892.7L181.6 892.4L182 893.5L182.4 893.1L182.8 895L183.2 890.1L183.6 903L184 893.3L184.4 901.9L184.8 901.8L185.2 895.4L185.6 889.1L186 884.3L186.4 887.3L186.8 893.2L187.2 895.3L187.6 890.8L188 892L188.4 906.9L188.8 895.7L189.2 888.6L189.6 897.2L190 889.6L190.4 882.6L190.8 894.9L191.2 890.3L191.6 894.3L192 902.6L192.4 894.4L192.8 889.8L193.2 901.7L193.6 883.6L194 888.1L194.4 900.4L194.8 901L195.2 892.3L195.6 890.1L196 895L196.4 894.9L196.8 894.1L197.2 891L197.6 887L198 889.7L198.4 891.1L198.8 891.1L199.2 889.8L199.6 892.3L200 884.3L200.4 897.2L200.8 899.5L201.2 890L201.6 886.2L202 894.5L202.4 895.4L202.8 892.2L203.2 897.6L203.6 890.3L204 887.6L204.4 900.2L204.8 890.6L205.2 890.8L205.6 881.8L206 891L206.4 889.8L206.8 892.6L207.2 896L207.6 893.6L208 887.1L208.4 897.7L208.8 894.4L209.2 895.2L209.6 892.2L210 892.9L210.4 885.8L210.8 885L211.2 889.1L211.6 888.9L212 893.2L212.4 879.9L212.8 889.3L213.2 887.9L213.6 897.2L214 889.1L214.4 889.2L214.8 892L215.2 893.8L215.6 882.1L216 885.5L216.4 894.5L216.8 892.9L217.2 891.4L217.6 898.6L218 883.7L218.4 891.6L218.8 888.7L219.2 892.5L219.6 887.6L220 892.4L220.4 903.5L220.8 894.1L221.2 892.2L221.6 898.9L222 894.4L222.4 901.7L222.8 887.1L223.2 886L223.6 881.3L224 886.6L224.4 881.8L224.8 898.4L225.2 891.6L225.6 893.6L226 891.8L226.4 890.9L226.8 889.7L227.2 883.6L227.6 898.1L228 888.9L228.4 899.3L228.8 893.9L229.2 884L229.6 888.5L230 888.4L230.4 887.4L230.8 887.2L231.2 889.6L231.6 886.8L232 886.1L232.4 890.1L232.8 889.7L233.2 887L233.6 891.5L234 887.2L234.4 891.3L234.8 889.2L235.2 894.7L235.6 880.4L236 897.4L236.4 886.9L236.8 894.8L237.2 886L237.6 887.9L238 890.9L238.4 886.6L238.8 886L239.2 887.4L239.6 895.6L240 879.8L240.4 887.9L240.8 895L241.2 886.7L241.6 895.6L242 877.1L242.4 881.3L242.8 885.3L243.2 883.6L243.6 884.1L244 890.5L244.4 882L244.8 888.9L245.2 888.6L245.6 886.4L246 897.7L246.4 885.5L246.8 897.5L247.2 884.1L247.6 889.7L248 888.8L248.4 883.3L248.8 890.7L249.2 893.3L249.6 890.5L250 887.4L250.4 893.8L250.8 890.7L251.2 888.9L251.6 875.3L252 885.8L252.4 890.9L252.8 880.8L253.2 875.1L253.6 881.9L254 885.1L254.4 877.7L254.8 883.6L255.2 887.3L255.6 881L256 882.7L256.4 892.3L256.8 885L257.2 880.1L257.6 887.7L258 888.6L258.4 886L258.8 885.2L259.2 881.9L259.6 899.2L260 881L260.4 886.3L260.8 888.4L261.2 891.1L261.6 884L262 887.2L262.4 882.9L262.8 887.5L263.2 876.6L263.6 891.7L264 887.1L264.4 889L264.8 884.4L265.2 875.1L265.6 880.2L266 883.3L266.4 891.7L266.8 884.1L267.2 889.7L267.6 884.8L268 880.5L268.4 882.2L268.8 886.6L269.2 887.3L269.6 879.9L270 884.3L270.4 884.4L270.8 887.2L271.2 889.8L271.6 877L272 879.3L272.4 874L272.8 891.8L273.2 883.5L273.6 875.3L274 893L274.4 881.5L274.8 882.9L275.2 883.7L275.6 885.8L276 872.6L276.4 881.1L276.8 885.6L277.2 883.5L277.6 880.9L278 878.5L278.4 873.7L278.8 868.9L279.2 872L279.6 882.8L280 881.6L280.4 877.6L280.8 881.1L281.2 889.4L281.6 880.3L282 878L282.4 892.4L282.8 880.8L283.2 876.8L283.6 886.4L284 876.2L284.4 879.8L284.8 880.9L285.2 886.5L285.6 875.8L286 882.8L286.4 871.8L286.8 878.1L287.2 879.1L287.6 880.1L288 888.4L288.4 877.3L288.8 877L289.2 875.9L289.6 875.8L290 879.6L290.4 878L290.8 882.5L291.2 874.5L291.6 880L292 878.8L292.4 876.8L292.8 878L293.2 876.9L293.6 874.6L294 874.5L294.4 867.4L294.8 869.2L295.2 873.6L295.6 876.4L296 876.2L296.4 872.4L296.8 869.5L297.2 874.4L297.6 872.7L298 867.8L298.4 876.3L298.8 877.9L299.2 872.5L299.6 865.5L300 872.4L300.4 873L300.8 866.1L301.2 875L301.6 872.8L302 877L302.4 869.9L302.8 872.4L303.2 872.8L303.6 877.6L304 868.2L304.4 873.2L304.8 881.7L305.2 872.3L305.6 867.9L306 879.1L306.4 877.2L306.8 865L307.2 873.5L307.6 866.1L308 872.8L308.4 877.8L308.8 877.1L309.2 867.8L309.6 869.1L310 881.2L310.4 876.1L310.8 872.8L311.2 875L311.6 869.2L312 865.9L312.4 867.3L312.8 876.6L313.2 870.3L313.6 878.1L314 879.5L314.4 876.6L314.8 871.6L315.2 873L315.6 872.1L316 876.7L316.4 882.1L316.8 877.6L317.2 886.1L317.6 878.8L318 874.4L318.4 870L318.8 873L319.2 870.5L319.6 879.8L320 877.3L320.4 887L320.8 881.5L321.2 882L321.6 874.2L322 875.5L322.4 881.3L322.8 879.6L323.2 875.2L323.6 876.8L324 880.4L324.4 882.9L324.8 881.5L325.2 878.3L325.6 878.7L326 883.2L326.4 880.6L326.8 873.5L327.2 876.5L327.6 883.4L328 888.1L328.4 885.1L328.8 877.6L329.2 875.9L329.6 891.7L330 882.9L330.4 879.6L330.8 882.2L331.2 884.1L331.6 881.3L332 882.2L332.4 889.1L332.8 879.3L333.2 880L333.6 883.9L334 882.5L334.4 881.5L334.8 883.4L335.2 878.3L335.6 882.7L336 879.8L336.4 889.5L336.8 879.5L337.2 882.7L337.6 887.3L338 880.1L338.4 884L338.8 878.7L339.2 879.4L339.6 879.5L340 879.8L340.4 881.9L340.8 870.8L341.2 883L341.6 882.3L342 878.8L342.4 877.4L342.8 882L343.2 880.7L343.6 893.1L344 887.8L344.4 882.3L344.8 879.7L345.2 883.5L345.6 874.9L346 875.9L346.4 884.4L346.8 872.2L347.2 879.6L347.6 877.1L348 881.2L348.4 882.9L348.8 879.6L349.2 885.6L349.6 881L350 886.8L350.4 882.3L350.8 889.5L351.2 889.9L351.6 881.9L352 868.9L352.4 877.3L352.8 879.9L353.2 873.6L353.6 876.9L354 885.9L354.4 877L354.8 879.5L355.2 886.6L355.6 874.2L356 874.8L356.4 880.7L356.8 873.9L357.2 880.6L357.6 883.5L358 882.6L358.4 878.1L358.8 876.7L359.2 881L359.6 879L360 880.3L360.4 887L360.8 871.1L361.2 884.3L361.6 876L362 883L362.4 878.6L362.8 877.9L363.2 878L363.6 884.8L364 881.5L364.4 884.6L364.8 872.5L365.2 875.6L365.6 874.6L366 876.5L366.4 882.8L366.8 883L367.2 875.8L367.6 868.6L368 875.9L368.4 871.4L368.8 874L369.2 879.7L369.6 880L370 887.1L370.4 872.5L370.8 869.7L371.2 867.6L371.6 884.2L372 870.3L372.4 877.2L372.8 883.4L373.2 871.4L373.6 878.9L374 870.7L374.4 880.7L374.8 868.7L375.2 873.1L375.6 873.1L376 874.6L376.4 880.6L376.8 881.2L377.2 882.1L377.6 882.1L378 868L378.4 876.1L378.8 883.7L379.2 883.2L379.6 881L380 874.7L380.4 880.3L380.8 874.8L381.2 871.6L381.6 880L382 875.5L382.4 875.2L382.8 878.1L383.2 878.7L383.6 872.8L384 868.9L384.4 872.9L384.8 871.5L385.2 874.8L385.6 877.7L386 873.8L386.4 873.4L386.8 868.5L387.2 876.3L387.6 873.6L388 877.9L388.4 880.1L388.8 877.2L389.2 873.2L389.6 877.9L390 883.5L390.4 868.2L390.8 876.9L391.2 876.9L391.6 876.3L392 874.7L392.4 869.7L392.8 871.6L393.2 878.3L393.6 868.8L394 870.9L394.4 869.1L394.8 877.2L395.2 879.4L395.6 868.2L396 870.1L396.4 861.1L396.8 878.1L397.2 879.7L397.6 876.6L398 868.1L398.4 875.9L398.8 883.6L399.2 867.9L399.6 870L400 879.3L400.4 870.6L400.8 877.7L401.2 869.8L401.6 871.8L402 864.8L402.4 870L402.8 874.3L403.2 873.9L403.6 879L404 876.9L404.4 871.8L404.8 879L405.2 879.4L405.6 872.7L406 875L406.4 876.6L406.8 874L407.2 870.2L407.6 874.7L408 874.4L408.4 867.4L408.8 873.2L409.2 875.5L409.6 871.4L410 865.3L410.4 883.6L410.8 880.5L411.2 880.5L411.6 876.4L412 871.2L412.4 859L412.8 878.3L413.2 881.1L413.6 866.5L414 873.8L414.4 871.5L414.8 879.3L415.2 864.9L415.6 878.9L416 873.6L416.4 864.2L416.8 863.3L417.2 873.7L417.6 878L418 867L418.4 869L418.8 868.5L419.2 874.8L419.6 870L420 867.2L420.4 866L420.8 865.4L421.2 872.3L421.6 874.1L422 867.8L422.4 869.5L422.8 862L423.2 872.1L423.6 868.7L424 875.2L424.4 860L424.8 876.3L425.2 869.2L425.6 870L426 871.1L426.4 865.9L426.8 871.9L427.2 871.5L427.6 867.5L428 873.8L428.4 870.5L428.8 865.9L429.2 867.9L429.6 867.6L430 871.8L430.4 881.4L430.8 868.6L431.2 875.6L431.6 860.3L432 862.4L432.4 863.9L432.8 867.9L433.2 867.3L433.6 874.6L434 867.8L434.4 867.9L434.8 872.9L435.2 863.1L435.6 868.4L436 873.6L436.4 866.6L436.8 878.5L437.2 872.4L437.6 869.2L438 870.5L438.4 872.7L438.8 856.7L439.2 871.7L439.6 864.1L440 876.7L440.4 861.2L440.8 869.1L441.2 875.3L441.6 880.2L442 870.2L442.4 871L442.8 870.7L443.2 865.9L443.6 865.4L444 863.6L444.4 869.3L444.8 872.2L445.2 865.2L445.6 869.9L446 868.2L446.4 859.7L446.8 870.4L447.2 862.9L447.6 870.9L448 870.4L448.4 868.1L448.8 868.9L449.2 865.1L449.6 860.8L450 871.7L450.4 864.1L450.8 874.5L451.2 872.2L451.6 858.6L452 859L452.4 868.7L452.8 864.8L453.2 862.3L453.6 861.4L454 864.1L454.4 864.7L454.8 860.3L455.2 864.3L455.6 862.1L456 865.4L456.4 861.4L456.8 871.4L457.2 866.4L457.6 861L458 860.6L458.4 870L458.8 872.2L459.2 868.2L459.6 859.1L460 864.1L460.4 866.2L460.8 862L461.2 867.9L461.6 868.7L462 867.6L462.4 871.4L462.8 865.8L463.2 863.8L463.6 860.2L464 869.2L464.4 856.8L464.8 875L465.2 871.2L465.6 869.1L466 861.9L466.4 865.5L466.8 860.3L467.2 862L467.6 866.4L468 862.1L468.4 860.5L468.8 864.8L469.2 862.1L469.6 864L470 866.1L470.4 861.5L470.8 865.6L471.2 871.8L471.6 874L472 865.5L472.4 868.8L472.8 864.1L473.2 867.9L473.6 856.7L474 866.4L474.4 875.1L474.8 861.7L475.2 868.4L475.6 863L476 872.3L476.4 862L476.8 874.1L477.2 866.7L477.6 858.7L478 865.5L478.4 860.3L478.8 862L479.2 863L479.6 871.8L480 867.1L480.4 873.5L480.8 865.6L481.2 866.6L481.6 852.7L482 860.6L482.4 863.4L482.8 860.6L483.2 867.4L483.6 855.6L484 863.1L484.4 862.3L484.8 858.3L485.2 860.9L485.6 861.6L486 867L486.4 866.2L486.8 868.7L487.2 866.3L487.6 857.1L488 860L488.4 854.9L488.8 864.8L489.2 870.6L489.6 862.9L490 864.2L490.4 864.5L490.8 859.2L491.2 867.3L491.6 859.7L492 863.9L492.4 855L492.8 870.3L493.2 865.8L493.6 861.3L494 862L494.4 867.1L494.8 856.2L495.2 864.3L495.6 866.8L496 862L496.4 866.1L496.8 862.5L497.2 860.4L497.6 869.5L498 862.2L498.4 866.2L498.8 862.2L499.2 859.9L499.6 863.5L500 856.5L500.4 857.1L500.8 860.1L501.2 863.4L501.6 863.5L502 868.6L502.4 853.7L502.8 857.9L503.2 867.3L503.6 856.3L504 865.5L504.4 860.6L504.8 856.1L505.2 861.3L505.6 852.6L506 870.8L506.4 861L506.8 857.3L507.2 852.7L507.6 857.5L508 861.9L508.4 855.6L508.8 864.4L509.2 854.3L509.6 854.8L510 850.5L510.4 847.7L510.8 863.8L511.2 853.5L511.6 850L512 863.1L512.4 848.4L512.8 857.5L513.2 858.8L513.6 861.6L514 859.3L514.4 853.4L514.8 863.4L515.2 849.9L515.6 847.8L516 843.5L516.4 857.3L516.8 856.6L517.2 859L517.6 849.6L518 844.6L518.4 849.1L518.8 859.4L519.2 860.5L519.6 841.4L520 859.6L520.4 858.2L520.8 854L521.2 852.4L521.6 850.8L522 849.7L522.4 850.7L522.8 849.5L523.2 858.5L523.6 855.8L524 852.4L524.4 856L524.8 856.4L525.2 858L525.6 851.2L526 855.3L526.4 854.7L526.8 851.2L527.2 858.7L527.6 848.7L528 859L528.4 847.5L528.8 858.1L529.2 864.2L529.6 860L530 856.6L530.4 855.3L530.8 860.3L531.2 848.1L531.6 853.9L532 854.5L532.4 853.7L532.8 854.5L533.2 857L533.6 858.9L534 853.2L534.4 860.3L534.8 856.7L535.2 862.4L535.6 858.8L536 853.6L536.4 853.2L536.8 870.5L537.2 858.9L537.6 848.5L538 848.8L538.4 859.9L538.8 853.7L539.2 860L539.6 853.5L540 860.1L540.4 859.7L540.8 852.5L541.2 857.2L541.6 857.7L542 864.6L542.4 850.3L542.8 855.8L543.2 854.2L543.6 858.7L544 866.4L544.4 860.3L544.8 847.2L545.2 859.8L545.6 861L546 853.7L546.4 852.9L546.8 862.6L547.2 855.5L547.6 856.9L548 859.4L548.4 853L548.8 863.9L549.2 858.1L549.6 861.5L550 856.3L550.4 864.5L550.8 862.8L551.2 862.9L551.6 863.4L552 853.9L552.4 857.5L552.8 856L553.2 866.2L553.6 860.4L554 858.7L554.4 859.6L554.8 863.1L555.2 859.8L555.6 861.1L556 862L556.4 853.5L556.8 856.7L557.2 860.7L557.6 854.4L558 863.8L558.4 869.4L558.8 858.6L559.2 860.5L559.6 858.1L560 861.6L560.4 863.3L560.8 862.7L561.2 862.5L561.6 858.2L562 864.1L562.4 863.2L562.8 865L563.2 864.7L563.6 856.2L564 858.6L564.4 860.8L564.8 866L565.2 857.8L565.6 869L566 863L566.4 863.3L566.8 869.2L567.2 860.1L567.6 859.9L568 862.4L568.4 860.3L568.8 857.9L569.2 859L569.6 852.3L570 870.9L570.4 856.6L570.8 854L571.2 858.2L571.6 859.3L572 855.4L572.4 856L572.8 851.2L573.2 860L573.6 866L574 864.2L574.4 863.4L574.8 857.5L575.2 860.3L575.6 865.1L576 867.8L576.4 857.2L576.8 861.5L577.2 867.7L577.6 860L578 856.6L578.4 858.6L578.8 857.6L579.2 851L579.6 857.6L580 853.5L580.4 854.7L580.8 850.6L581.2 852.3L581.6 853.9L582 855.5L582.4 852.8L582.8 865L583.2 862L583.6 869.4L584 858.4L584.4 864.3L584.8 859.4L585.2 853.9L585.6 853.7L586 858.6L586.4 852.2L586.8 857.4L587.2 849.5L587.6 862.1L588 850L588.4 859L588.8 860.4L589.2 856.6L589.6 859.3L590 867.2L590.4 851.3L590.8 848.7L591.2 860.8L591.6 858.2L592 855.8L592.4 859.6L592.8 854.1L593.2 859.5L593.6 852L594 847.6L594.4 845.7L594.8 854.9L595.2 852.5L595.6 854.9L596 845.4L596.4 852.4L596.8 840.7L597.2 849.5L597.6 850L598 841.5L598.4 848.4L598.8 844L599.2 841.3L599.6 836.1L600 832.1L600.4 847L600.8 833.7L601.2 826.8L601.6 833.1L602 823.5L602.4 817.2L602.8 823.6L603.2 826.2L603.6 824.8L604 825L604.4 823.8L604.8 828L605.2 825.9L605.6 816.5L606 827.2L606.4 821.9L606.8 817.1L607.2 824.3L607.6 825.3L608 837.2L608.4 832.3L608.8 828.9L609.2 837.1L609.6 833.1L610 834.3L610.4 840.7L610.8 839.8L611.2 845.3L611.6 840.3L612 846.2L612.4 850.2L612.8 846.2L613.2 850.5L613.6 858.6L614 850.1L614.4 846.8L614.8 847.2L615.2 857.3L615.6 854.6L616 853.6L616.4 848.1L616.8 859.2L617.2 853.4L617.6 861.1L618 853.6L618.4 849L618.8 859.4L619.2 852.3L619.6 851.5L620 851.9L620.4 847.8L620.8 849.3L621.2 846.4L621.6 859.3L622 852.3L622.4 857.8L622.8 859.1L623.2 861.8L623.6 854.9L624 865.6L624.4 846.6L624.8 854.3L625.2 857.7L625.6 851.1L626 864.1L626.4 858.6L626.8 849.7L627.2 851.2L627.6 859.5L628 857.9L628.4 864.9L628.8 854.7L629.2 847L629.6 861.8L630 857.7L630.4 857.3L630.8 854.2L631.2 861.1L631.6 847.7L632 856.5L632.4 858.1L632.8 853L633.2 860.2L633.6 861.3L634 859.8L634.4 858.5L634.8 857.4L635.2 860.8L635.6 860.5L636 862.3L636.4 856L636.8 862.9L637.2 855.6L637.6 861.2L638 858.9L638.4 858.2L638.8 856.3L639.2 856.6L639.6 849.1L640 851.6L640.4 854.4L640.8 858.8L641.2 849.1L641.6 849L642 849.3L642.4 867.7L642.8 855.6L643.2 858.6L643.6 861.4L644 863L644.4 857.7L644.8 863.1L645.2 858.2L645.6 857.4L646 856L646.4 857.8L646.8 858.8L647.2 854.8L647.6 860.1L648 857.5L648.4 863.4L648.8 859.3L649.2 853L649.6 861.3L650 856.7L650.4 861.5L650.8 860.5L651.2 855.2L651.6 855L652 861.1L652.4 863L652.8 848.4L653.2 861L653.6 859.6L654 853L654.4 857.6L654.8 866L655.2 861.4L655.6 864L656 866.6L656.4 857.7L656.8 859.7L657.2 858.9L657.6 853.1L658 867.7L658.4 853.7L658.8 858L659.2 861.7L659.6 860.1L660 871.5L660.4 855.5L660.8 858L661.2 860.7L661.6 852.6L662 863.8L662.4 859.2L662.8 858.4L663.2 856.3L663.6 863.4L664 865.9L664.4 856.2L664.8 853.8L665.2 855.1L665.6 860L666 856.5L666.4 847.4L666.8 854L667.2 847.5L667.6 860.6L668 861L668.4 858L668.8 847.5L669.2 850.9L669.6 867.7L670 872.5L670.4 863.9L670.8 863.4L671.2 857.5L671.6 859L672 864.4L672.4 859.3L672.8 862.3L673.2 855.4L673.6 861.8L674 855.2L674.4 869.3L674.8 858.1L675.2 858.4L675.6 861.4L676 860.7L676.4 865.8L676.8 854.6L677.2 869.6L677.6 863.7L678 861.8L678.4 860.9L678.8 860.4L679.2 851.3L679.6 857.8L680 868.6L680.4 864L680.8 866.6L681.2 857.5L681.6 861L682 860.4L682.4 859.5L682.8 858.9L683.2 864.4L683.6 852.8L684 866.7L684.4 857.3L684.8 863.3L685.2 851.8L685.6 863L686 864.7L686.4 864.1L686.8 863.9L687.2 872L687.6 860.4L688 853.1L688.4 862L688.8 856.4L689.2 865.9L689.6 862.6L690 861.5L690.4 855.8L690.8 860.6L691.2 863.9L691.6 852.4L692 861.4L692.4 866.4L692.8 853L693.2 858.7L693.6 863.9L694 861.9L694.4 856.6L694.8 860.1L695.2 861.5L695.6 860.7L696 859L696.4 856.3L696.8 859.4L697.2 858.7L697.6 855.8L698 857.7L698.4 856.2L698.8 857.8L699.2 863.9L699.6 861.3L700 850.1L700.4 848.4L700.8 860.2L701.2 862.5L701.6 854.1L702 854.2L702.4 853.4L702.8 852.7L703.2 859.9L703.6 853.7L704 861L704.4 857.6L704.8 854.9L705.2 861.6L705.6 858.2L706 864.2L706.4 856.7L706.8 851.7L707.2 865.9L707.6 855.9L708 858.5L708.4 864.3L708.8 861.1L709.2 857.6L709.6 862L710 866.1L710.4 862.7L710.8 856L711.2 856.5L711.6 854.5L712 848.8L712.4 849.1L712.8 849.6L713.2 858.2L713.6 851.2L714 868.6L714.4 854.5L714.8 860.5L715.2 856.9L715.6 859.5L716 851.6L716.4 857.4L716.8 855.5L717.2 857.6L717.6 860.1L718 859.7L718.4 854.8L718.8 859.6L719.2 859.4L719.6 857L720 853.7L720.4 857.3L720.8 855.9L721.2 854.6L721.6 854.5L722 857L722.4 857.3L722.8 847.7L723.2 847.1L723.6 851.8L724 851.9L724.4 846.2L724.8 851.1L725.2 854.2L725.6 843.6L726 850.6L726.4 836.2L726.8 844.9L727.2 851.8L727.6 839.3L728 834.6L728.4 840.9L728.8 830.1L729.2 844.7L729.6 835.2L730 838L730.4 839.3L730.8 833.3L731.2 836.4L731.6 832.4L732 833.1L732.4 831.3L732.8 824.1L733.2 834.3L733.6 829.3L734 827.5L734.4 833.9L734.8 832L735.2 834.1L735.6 834.1L736 833.3L736.4 833.3L736.8 831.4L737.2 833.6L737.6 841.2L738 837.5L738.4 843L738.8 844.4L739.2 850.6L739.6 853.1L740 846.7L740.4 843.7L740.8 842.5L741.2 839.2L741.6 845.9L742 843.9L742.4 855.3L742.8 849.5L743.2 844.9L743.6 850.3L744 851.2L744.4 850.2L744.8 850.1L745.2 851.2L745.6 853.5L746 858.5L746.4 850.9L746.8 847.1L747.2 855.3L747.6 855.4L748 846.4L748.4 856.3L748.8 857.6L749.2 856.3L749.6 853.8L750 856.8L750.4 849L750.8 854.5L751.2 859.9L751.6 847.9L752 860.5L752.4 850.7L752.8 853.6L753.2 858L753.6 851.4L754 852.5L754.4 845.4L754.8 860.7L755.2 856.8L755.6 855.3L756 852.3L756.4 855.5L756.8 865.1L757.2 868.5L757.6 848.9L758 852L758.4 856.9L758.8 863.7L759.2 862.6L759.6 850.3L760 850.7L760.4 851.9L760.8 856.7L761.2 852.4L761.6 856.2L762 858.5L762.4 850.4L762.8 855.2L763.2 862.9L763.6 853L764 853.6L764.4 857.4L764.8 861.1L765.2 849.5L765.6 860.7L766 853.4L766.4 861.1L766.8 846.6L767.2 862.7L767.6 857L768 851.7L768.4 861.1L768.8 851.6L769.2 854.3L769.6 855.8L770 857.3L770.4 857.5L770.8 852.3L771.2 851.7L771.6 848.5L772 857.2L772.4 858.8L772.8 857.7L773.2 859.5L773.6 866.9L774 859.5L774.4 853.5L774.8 858.6L775.2 860.2L775.6 859.5L776 861.9L776.4 863L776.8 848.6L777.2 845.9L777.6 855.4L778 850.2L778.4 863.3L778.8 853.2L779.2 860.4L779.6 859.3L780 869.6L780.4 850.7L780.8 866.3L781.2 851.4L781.6 849.1L782 857.6L782.4 858.1L782.8 859.3L783.2 860.7L783.6 859.7L784 855.2L784.4 855.4L784.8 861.7L785.2 857.8L785.6 860.7L786 866.5L786.4 852.4L786.8 856L787.2 857.8L787.6 850.3L788 857.3L788.4 862.2L788.8 855L789.2 864.5L789.6 856.8L790 857.3L790.4 855.2L790.8 858.8L791.2 861.6L791.6 857.9L792 859.4L792.4 859.9L792.8 847.8L793.2 852.5L793.6 851L794 854.8L794.4 859.3L794.8 851.6L795.2 855.9L795.6 859.1L796 853.4L796.4 852.7L796.8 855.8L797.2 866.2L797.6 851.8L798 870L798.4 853.6L798.8 854.4L799.2 847.1L799.6 850.9L800 862.9L800.4 857.7L800.8 861.6L801.2 858.2L801.6 851.7L802 855.6L802.4 856.8L802.8 854.8L803.2 856.4L803.6 861.4L804 863.6L804.4 862.4L804.8 864L805.2 860.8L805.6 854.2L806 855.2L806.4 852.8L806.8 861.9L807.2 866.1L807.6 858.3L808 854.4L808.4 856.8L808.8 865.8L809.2 860.1L809.6 863.4L810 866.8L810.4 863.3L810.8 857.3L811.2 855.1L811.6 848.3L812 864.8L812.4 856.3L812.8 865.4L813.2 865.5L813.6 864L814 861.6L814.4 852.9L814.8 863L815.2 849.9L815.6 861.3L816 854.9L816.4 852.5L816.8 856.6L817.2 851.6L817.6 866.4L818 855.3L818.4 861.1L818.8 860.9L819.2 852.7L819.6 854.2L820 853.8L820.4 855L820.8 857.9L821.2 854.3L821.6 859.6L822 862.2L822.4 851.3L822.8 855.1L823.2 857.6L823.6 859.3L824 858.2L824.4 848.6L824.8 858.4L825.2 852.8L825.6 857.5L826 858L826.4 851.1L826.8 859.9L827.2 853L827.6 861.6L828 857.7L828.4 855.6L828.8 861.7L829.2 856.8L829.6 862L830 852.9L830.4 860.3L830.8 847.6L831.2 860.6L831.6 867.5L832 859.3L832.4 862.4L832.8 859.3L833.2 858.4L833.6 856.5L834 854.5L834.4 852.7L834.8 853.4L835.2 859.6L835.6 861.4L836 856.6L836.4 863.7L836.8 852.9L837.2 864.1L837.6 865.2L838 856.4L838.4 853.1L838.8 857.8L839.2 856L839.6 863.9L840 853L840.4 851.7L840.8 855.3L841.2 850.8L841.6 848.4L842 855.2L842.4 855L842.8 848.5L843.2 865.2L843.6 850.8L844 853.6L844.4 855.9L844.8 858.9L845.2 852L845.6 856.6L846 848.1L846.4 857.7L846.8 861.2L847.2 858.3L847.6 853.4L848 852.2L848.4 853.7L848.8 853.4L849.2 853.1L849.6 860.2L850 851.1L850.4 858.9L850.8 860.4L851.2 859.3L851.6 854L852 858L852.4 852.5L852.8 857.2L853.2 852.5L853.6 861.1L854 849.7L854.4 852.6L854.8 861.5L855.2 859L855.6 854.9L856 850.8L856.4 868.4L856.8 868.4L857.2 865.1L857.6 859.5L858 847.8L858.4 856.6L858.8 859.8L859.2 868.2L859.6 850.8L860 851.5L860.4 861.5L860.8 865.2L861.2 864.5L861.6 861.1L862 862L862.4 852.7L862.8 859.7L863.2 860L863.6 847.4L864 858.6L864.4 855.9L864.8 856.7L865.2 856.7L865.6 857L866 868.1L866.4 860.6L866.8 860L867.2 859.3L867.6 863.5L868 853.3L868.4 856.4L868.8 852.4L869.2 848.1L869.6 853.1L870 863L870.4 850.8L870.8 857.2L871.2 859L871.6 853.2L872 858L872.4 857.1L872.8 860.9L873.2 860.3L873.6 847.6L874 852.2L874.4 857.8L874.8 859L875.2 848.1L875.6 862.3L876 860.8L876.4 851.9L876.8 861.1L877.2 860.7L877.6 853.3L878 864.1L878.4 846.7L878.8 851.3L879.2 849.4L879.6 852.5L880 849.9L880.4 856.9L880.8 861.9L881.2 853.3L881.6 851.3L882 857.8L882.4 850.1L882.8 850.1L883.2 854.3L883.6 859.2L884 859.9L884.4 852.3L884.8 853.7L885.2 860.5L885.6 850.1L886 862.2L886.4 851L886.8 857.3L887.2 860.6L887.6 859.5L888 854.2L888.4 858.2L888.8 858.8L889.2 860.7L889.6 850.6L890 854.5L890.4 857L890.8 851.2L891.2 855.5L891.6 852.6L892 857.4L892.4 868.2L892.8 858.5L893.2 860.6L893.6 854.7L894 854.6L894.4 852.6L894.8 853.6L895.2 843.1L895.6 846.9L896 856.1L896.4 855.1L896.8 850.3L897.2 859.3L897.6 854L898 858.9L898.4 857.6L898.8 855.3L899.2 863L899.6 856.3L900 867.4L900.4 854.1L900.8 854L901.2 860.6L901.6 855L902 853.7L902.4 865.1L902.8 851.4L903.2 851.6L903.6 854L904 854.4L904.4 856.4L904.8 855.1L905.2 856.8L905.6 853.9L906 850.6L906.4 858.1L906.8 856.4L907.2 850.5L907.6 859L908 854.5L908.4 858.4L908.8 859.5L909.2 856.9L909.6 857.7L910 857.5L910.4 856.4L910.8 852.1L911.2 854.1L911.6 855.5L912 860.3L912.4 857.6L912.8 851.3L913.2 850.6L913.6 855.2L914 853.8L914.4 842.9L914.8 854.8L915.2 862.5L915.6 850L916 851.8L916.4 859.7L916.8 855.7L917.2 856.6L917.6 856.2L918 853.8L918.4 852.5L918.8 857.6L919.2 853.6L919.6 850.8L920 855.2L920.4 856.8L920.8 852.6L921.2 857.6L921.6 849.3L922 852.2L922.4 859.5L922.8 856.9L923.2 852.4L923.6 856L924 849.3L924.4 847.1L924.8 859.7L925.2 861.7L925.6 852.5L926 853.1L926.4 853.5L926.8 851.8L927.2 853L927.6 853.6L928 851.6L928.4 855.5L928.8 852.9L929.2 860.3L929.6 849L930 857.2L930.4 842.3L930.8 852.1L931.2 847.6L931.6 854L932 854.2L932.4 854.6L932.8 851.8L933.2 853L933.6 848L934 848.9L934.4 854.7L934.8 853.9L935.2 857.1L935.6 858.4L936 850.4L936.4 860.1L936.8 850.8L937.2 852.8L937.6 853.5L938 855L938.4 855.5L938.8 851.9L939.2 852.2L939.6 861.7L940 846.1L940.4 865.3L940.8 852.8L941.2 852.5L941.6 861.6L942 854.6L942.4 852.6L942.8 850L943.2 856.8L943.6 850.6L944 857.8L944.4 853.1L944.8 854.6L945.2 857.9L945.6 851.1L946 851.4L946.4 857.3L946.8 850L947.2 844.8L947.6 857.6L948 854.2L948.4 854.7L948.8 844.6L949.2 846.1L949.6 854.4L950 849.7L950.4 859.6L950.8 862.8L951.2 849L951.6 849.5L952 854.7L952.4 840.6L952.8 849.7L953.2 842.4L953.6 844L954 849.7L954.4 844.4L954.8 844.5L955.2 851.5L955.6 846.7L956 857.9L956.4 846.6L956.8 844.5L957.2 846.7L957.6 838.3L958 851.4L958.4 850.1L958.8 846.2L959.2 840.6L959.6 842.1L960 846.9L960.4 838.3L960.8 849.2L961.2 832.5L961.6 839.7L962 831.3L962.4 846.6L962.8 841.9L963.2 835.9L963.6 836.4L964 847L964.4 835.9L964.8 839.5L965.2 838.3L965.6 843.7L966 832.2L966.4 842.3L966.8 841L967.2 837.3L967.6 836.5L968 842.3L968.4 833.6L968.8 838.6L969.2 832L969.6 841.3L970 839.7L970.4 836L970.8 836.9L971.2 837.8L971.6 838.4L972 841.8L972.4 847.3L972.8 844.2L973.2 837.7L973.6 838.7L974 842.2L974.4 834.8L974.8 834.1L975.2 836.5L975.6 842.5L976 839.1L976.4 843.9L976.8 840.6L977.2 839.5L977.6 845.8L978 844.9L978.4 849.1L978.8 849.8L979.2 849.9L979.6 842.1L980 847.3L980.4 850.7L980.8 843.9L981.2 848.2L981.6 845.5L982 847.1L982.4 849.2L982.8 846.3L983.2 845L983.6 838.7L984 850.6L984.4 852.2L984.8 844.2L985.2 850.4L985.6 851.2L986 858.6L986.4 847.1L986.8 845.2L987.2 858.1L987.6 852.5L988 855.1L988.4 847L988.8 851.2L989.2 845.3L989.6 855.2L990 841.9L990.4 839.2L990.8 847.9L991.2 850L991.6 845.8L992 855.3L992.4 848.2L992.8 849.1L993.2 852.5L993.6 847.2L994 850.6L994.4 842.7L994.8 852.8L995.2 844.8L995.6 850.8L996 847.3L996.4 854.7L996.8 848.1L997.2 855.4L997.6 858L998 851.1L998.4 855.3L998.8 850.7L999.2 848.6L999.6 849.6L1000 843.4L1000.4 856.8L1000.8 861L1001.2 847.9L1001.6 856.8L1002 856.7L1002.4 849L1002.8 849.7L1003.2 847.6L1003.6 847.4L1004 856.5L1004.4 851.4L1004.8 852.5L1005.2 853L1005.6 855.4L1006 849.8L1006.4 852.9L1006.8 858.5L1007.2 853L1007.6 857.6L1008 862.9L1008.4 844.1L1008.8 852.4L1009.2 855.3L1009.6 852.9L1010 849.5L1010.4 853L1010.8 842.9L1011.2 846.1L1011.6 842.8L1012 845.7L1012.4 844.8L1012.8 855.3L1013.2 848.1L1013.6 847.4L1014 853.5L1014.4 850.6L1014.8 847.8L1015.2 851.5L1015.6 857.7L1016 854.3L1016.4 851.1L1016.8 851.2L1017.2 842.6L1017.6 858.4L1018 850.6L1018.4 856.8L1018.8 853.9L1019.2 845.9L1019.6 852.5L1020 846.5L1020.4 848.5L1020.8 860.7L1021.2 853.3L1021.6 845.6L1022 853L1022.4 843.9L1022.8 859.2L1023.2 841.7L1023.6 853.6L1024 850L1024.4 845.8L1024.8 849.8L1025.2 856.3L1025.6 848L1026 842.2L1026.4 853.1L1026.8 853.4L1027.2 847.2L1027.6 846.1L1028 845.5L1028.4 849.7L1028.8 850.8L1029.2 849.7L1029.6 844.8L1030 851.3L1030.4 843L1030.8 850.5L1031.2 849.9L1031.6 841.8L1032 847L1032.4 845.8L1032.8 851.8L1033.2 846.4L1033.6 858.2L1034 850.7L1034.4 843.3L1034.8 847.7L1035.2 851.1L1035.6 856.1L1036 847L1036.4 860.5L1036.8 850.7L1037.2 835.4L1037.6 845.3L1038 844.2L1038.4 840L1038.8 850.5L1039.2 851.4L1039.6 849.3L1040 840.8L1040.4 850.2L1040.8 839.4L1041.2 845.5L1041.6 855.4L1042 847L1042.4 852L1042.8 847L1043.2 851L1043.6 844.9L1044 851L1044.4 849.7L1044.8 848.7L1045.2 841.1L1045.6 843.5L1046 839.9L1046.4 839.7L1046.8 842.1L1047.2 844.5L1047.6 837.9L1048 848.9L1048.4 834.6L1048.8 848.4L1049.2 839.3L1049.6 843.4L1050 844.6L1050.4 837.9L1050.8 833.4L1051.2 841.3L1051.6 846.3L1052 830.7L1052.4 833L1052.8 837.3L1053.2 836.3L1053.6 835L1054 831.3L1054.4 829.4L1054.8 834L1055.2 830.3L1055.6 824.1L1056 819.7L1056.4 830.3L1056.8 815.7L1057.2 820.9L1057.6 814.9L1058 816.3L1058.4 817.2L1058.8 820.4L1059.2 818.8L1059.6 816.9L1060 817.6L1060.4 818.7L1060.8 811.6L1061.2 818.8L1061.6 818.2L1062 817.1L1062.4 813.7L1062.8 812.4L1063.2 814.5L1063.6 819.6L1064 810.8L1064.4 812.8L1064.8 818.3L1065.2 812.9L1065.6 818.8L1066 822.6L1066.4 813.7L1066.8 825.4L1067.2 811.8L1067.6 822.4L1068 829.6L1068.4 827L1068.8 831.6L1069.2 829L1069.6 834.3L1070 832L1070.4 830.6L1070.8 834L1071.2 837.1L1071.6 840L1072 833L1072.4 831.8L1072.8 845.2L1073.2 836L1073.6 837.1L1074 845.1L1074.4 844.1L1074.8 837.5L1075.2 845.5L1075.6 845.1L1076 851.2L1076.4 845.5L1076.8 839L1077.2 838.1L1077.6 844.3L1078 839.5L1078.4 845.3L1078.8 841.7L1079.2 855.5L1079.6 848.4L1080 848.3L1080.4 833.7L1080.8 846.4L1081.2 844.7L1081.6 840.8L1082 836.4L1082.4 850.8L1082.8 851.9L1083.2 842.1L1083.6 844.8L1084 842.2L1084.4 839L1084.8 841.9L1085.2 851.4L1085.6 850.7L1086 845.7L1086.4 843.4L1086.8 856.1L1087.2 843L1087.6 844L1088 844.6L1088.4 856.2L1088.8 848L1089.2 851.9L1089.6 849.6L1090 848.8L1090.4 850.2L1090.8 854.8L1091.2 858.8L1091.6 848.1L1092 854.2L1092.4 839.1L1092.8 852.7L1093.2 848.8L1093.6 843.2L1094 848.3L1094.4 857.8L1094.8 846.9L1095.2 851.3L1095.6 850.2L1096 850.5L1096.4 858L1096.8 852L1097.2 850.3L1097.6 854.6L1098 847.4L1098.4 849L1098.8 855.9L1099.2 846.8L1099.6 847.5L1100 844.8L1100.4 845.7L1100.8 854.1L1101.2 853.7L1101.6 853.8L1102 849L1102.4 850.4L1102.8 845.3L1103.2 845.1L1103.6 855.5L1104 852.8L1104.4 853L1104.8 845L1105.2 850.2L1105.6 843L1106 841.6L1106.4 844.9L1106.8 846.5L1107.2 860.3L1107.6 852L1108 853.6L1108.4 849.6L1108.8 853.6L1109.2 856.1L1109.6 853L1110 851L1110.4 858.7L1110.8 849.4L1111.2 851.6L1111.6 850.2L1112 848.6L1112.4 844.2L1112.8 856L1113.2 848.4L1113.6 850.3L1114 848.2L1114.4 854.4L1114.8 844.5L1115.2 858.2L1115.6 844.4L1116 849.7L1116.4 849.1L1116.8 853L1117.2 856.7L1117.6 847.8L1118 855.5L1118.4 848.9L1118.8 858.6L1119.2 852.6L1119.6 853.1L1120 844L1120.4 842.4L1120.8 851L1121.2 850.1L1121.6 847.4L1122 846.5L1122.4 855.2L1122.8 847.1L1123.2 858L1123.6 849.6L1124 852.4L1124.4 840.6L1124.8 851.8L1125.2 850L1125.6 852.5L1126 847.3L1126.4 851.7L1126.8 846.4L1127.2 857L1127.6 845.4L1128 847.4L1128.4 863.8L1128.8 861.7L1129.2 854.3L1129.6 848.5L1130 850L1130.4 851.4L1130.8 851.8L1131.2 849.4L1131.6 854.1L1132 860.3L1132.4 848.7L1132.8 852.9L1133.2 857.2L1133.6 856.6L1134 855.5L1134.4 849.8L1134.8 846.2L1135.2 853.2L1135.6 849.3L1136 856.4L1136.4 846.9L1136.8 847L1137.2 860.1L1137.6 840.4L1138 858.8L1138.4 852.2L1138.8 855.1L1139.2 849.8L1139.6 842.7L1140 854.7L1140.4 847.2L1140.8 853.2L1141.2 859.7L1141.6 853.4L1142 848.5L1142.4 848.6L1142.8 845.3L1143.2 851.4L1143.6 860.5L1144 858.5L1144.4 841.4L1144.8 847.6L1145.2 852.3L1145.6 855.4L1146 847.1L1146.4 852.9L1146.8 851.7L1147.2 846.1L1147.6 851.8L1148 843.2L1148.4 850.1L1148.8 850L1149.2 848.9L1149.6 858.1L1150 864.4L1150.4 850.9L1150.8 847.4L1151.2 842L1151.6 851L1152 851.2L1152.4 863.7L1152.8 848.7L1153.2 840.2L1153.6 856.2L1154 853.7L1154.4 841.3L1154.8 858.4L1155.2 851.9L1155.6 856.1L1156 846.1L1156.4 848.7L1156.8 847.4L1157.2 854.5L1157.6 854.5L1158 853.8L1158.4 840.8L1158.8 856.9L1159.2 848.3L1159.6 850.6L1160 849.2L1160.4 852.8L1160.8 853.8L1161.2 859L1161.6 858.2L1162 850.5L1162.4 847.8L1162.8 851L1163.2 850.4L1163.6 858.8L1164 850.4L1164.4 850.4L1164.8 850.1L1165.2 850.4L1165.6 854.7L1166 851.5L1166.4 857.5L1166.8 852.4L1167.2 853.4L1167.6 854.6L1168 856L1168.4 855.6L1168.8 847.8L1169.2 849.3L1169.6 855.4L1170 853.3L1170.4 850.4L1170.8 844.5L1171.2 846.9L1171.6 854.8L1172 848.2L1172.4 853.4L1172.8 851.2L1173.2 847.1L1173.6 847.3L1174 842L1174.4 847.2L1174.8 847.2L1175.2 855.5L1175.6 861.8L1176 846.7L1176.4 850.5L1176.8 853.5L1177.2 861.7L1177.6 846.1L1178 860.7L1178.4 851L1178.8 859L1179.2 848.5L1179.6 852.4L1180 861.3L1180.4 853.9L1180.8 858.2L1181.2 858.9L1181.6 850.8L1182 857.2L1182.4 849.8L1182.8 851.8L1183.2 856.7L1183.6 848.1L1184 857.1L1184.4 846.1L1184.8 855L1185.2 849.6L1185.6 852.6L1186 848.3L1186.4 856.3L1186.8 861.9L1187.2 846.2L1187.6 849.8L1188 845.2L1188.4 849.7L1188.8 846.4L1189.2 856.8L1189.6 848.7L1190 852L1190.4 847.4L1190.8 850.4L1191.2 853.1L1191.6 854.8L1192 853.3L1192.4 845.5L1192.8 856.5L1193.2 858.1L1193.6 857L1194 852.4L1194.4 853.5L1194.8 851.7L1195.2 858L1195.6 848.7L1196 845.9L1196.4 850.8L1196.8 851.8L1197.2 857.7L1197.6 857.1L1198 860L1198.4 850.5L1198.8 846.5L1199.2 862.6L1199.6 853.1L1200 843.3L1200.4 851.3L1200.8 853.3L1201.2 853.5L1201.6 850.7L1202 858.4L1202.4 848.8L1202.8 852.8L1203.2 851.8L1203.6 860.8L1204 856.7L1204.4 849.7L1204.8 853.4L1205.2 853.2L1205.6 859L1206 854.1L1206.4 851.6L1206.8 849.9L1207.2 858.8L1207.6 849.6L1208 847.8L1208.4 850.4L1208.8 855.9L1209.2 843.9L1209.6 853.6L1210 854.9L1210.4 849.2L1210.8 847.2L1211.2 854.1L1211.6 851.4L1212 848.8L1212.4 856.2L1212.8 860.9L1213.2 851.5L1213.6 847L1214 852.1L1214.4 846.7L1214.8 853L1215.2 851L1215.6 853L1216 850.7L1216.4 857.4L1216.8 858.4L1217.2 849.2L1217.6 852.8L1218 847.6L1218.4 845.9L1218.8 856.5L1219.2 859.4L1219.6 853.5L1220 854.4L1220.4 850.2L1220.8 851.5L1221.2 850.8L1221.6 846.9L1222 853.2L1222.4 851L1222.8 848.7L1223.2 851.3L1223.6 853.4L1224 855.7L1224.4 851.1L1224.8 856.3L1225.2 849.8L1225.6 851.7L1226 847.4L1226.4 852.5L1226.8 847.6L1227.2 849.3L1227.6 849.5L1228 853.7L1228.4 847.7L1228.8 853.9L1229.2 858.4L1229.6 839.2L1230 852.4L1230.4 854.3L1230.8 857.9L1231.2 838L1231.6 855.5L1232 863L1232.4 845.4L1232.8 844.7L1233.2 847.6L1233.6 841.3L1234 846.6L1234.4 849.1L1234.8 852.4L1235.2 848.9L1235.6 849.9L1236 853.9L1236.4 857L1236.8 855.6L1237.2 847.4L1237.6 853.4L1238 849.1L1238.4 852.9L1238.8 848L1239.2 849.6L1239.6 849.3L1240 855.1L1240.4 851L1240.8 852.7L1241.2 848.1L1241.6 844.5L1242 851.2L1242.4 845.2L1242.8 850.8L1243.2 845.6L1243.6 846.3L1244 838.3L1244.4 848.9L1244.8 845.3L1245.2 848.5L1245.6 848.6L1246 852.9L1246.4 854.3L1246.8 843.8L1247.2 852.7L1247.6 855.3L1248 854.6L1248.4 855.6L1248.8 845L1249.2 851.4L1249.6 846.9L1250 859L1250.4 854.7L1250.8 861.7L1251.2 846L1251.6 855L1252 851.4L1252.4 848.1L1252.8 856.4L1253.2 847.1L1253.6 846.5L1254 845.8L1254.4 852.7L1254.8 853L1255.2 843.5L1255.6 847.8L1256 849.1L1256.4 852.2L1256.8 856.9L1257.2 856.6L1257.6 851.8L1258 851.7L1258.4 856L1258.8 847.8L1259.2 847L1259.6 854.5L1260 854.3L1260.4 851.3L1260.8 849.5L1261.2 852.4L1261.6 854.1L1262 847.8L1262.4 842.3L1262.8 849.1L1263.2 853.1L1263.6 843.1L1264 854.5L1264.4 848L1264.8 853.3L1265.2 848.7L1265.6 853.7L1266 844.9L1266.4 845.7L1266.8 851.9L1267.2 848.7L1267.6 841.5L1268 854L1268.4 853.1L1268.8 852.2L1269.2 846.8L1269.6 854L1270 853.1L1270.4 851.5L1270.8 850.4L1271.2 849.6L1271.6 857.3L1272 845.8L1272.4 857L1272.8 848.3L1273.2 850.2L1273.6 854.1L1274 855L1274.4 855.5L1274.8 850L1275.2 845.4L1275.6 842.7L1276 859L1276.4 849L1276.8 842.6L1277.2 856L1277.6 851.3L1278 846.2L1278.4 846.6L1278.8 856L1279.2 851.9L1279.6 855.7L1280 843.7L1280.4 854.6L1280.8 845.9L1281.2 851.6L1281.6 849.8L1282 851.9L1282.4 849.9L1282.8 849L1283.2 845.9L1283.6 854.9L1284 847.9L1284.4 861.6L1284.8 851.7L1285.2 846.9L1285.6 857.6L1286 851.6L1286.4 844.1L1286.8 858.4L1287.2 847.5L1287.6 856.8L1288 852.6L1288.4 853.7L1288.8 844.2L1289.2 846.5L1289.6 851.7L1290 852.1L1290.4 848.6L1290.8 852.5L1291.2 852.3L1291.6 854.8L1292 856.8L1292.4 844.1L1292.8 851.5L1293.2 852.7L1293.6 850.5L1294 847.2L1294.4 847.1L1294.8 853.5L1295.2 858.4L1295.6 854.1L1296 855.1L1296.4 851.5L1296.8 856.5L1297.2 845.1L1297.6 848.2L1298 852.2L1298.4 859.9L1298.8 845.5L1299.2 848.9L1299.6 844.6L1300 853L1300.4 856.1L1300.8 851.2L1301.2 851.2L1301.6 853.3L1302 847.2L1302.4 851.3L1302.8 848.8L1303.2 853.3L1303.6 856.9L1304 844.9L1304.4 847L1304.8 855.4L1305.2 848.9L1305.6 852.3L1306 853.6L1306.4 858.4L1306.8 855.8L1307.2 845.5L1307.6 845.5L1308 850.1L1308.4 852.5L1308.8 855.1L1309.2 851.4L1309.6 848L1310 852.5L1310.4 840L1310.8 846.9L1311.2 851.9L1311.6 852.4L1312 857.7L1312.4 849.9L1312.8 852L1313.2 851L1313.6 843.5L1314 842.5L1314.4 857.8L1314.8 846.9L1315.2 853.4L1315.6 859.3L1316 839.6L1316.4 854.5L1316.8 859.7L1317.2 847.2L1317.6 859.6L1318 856.4L1318.4 856.7L1318.8 838.7L1319.2 849.6L1319.6 846.9L1320 850.2L1320.4 848.5L1320.8 857.1L1321.2 842.3L1321.6 851.4L1322 860.5L1322.4 856.4L1322.8 851.4L1323.2 848.9L1323.6 848.2L1324 842.3L1324.4 844.1L1324.8 851.2L1325.2 860.1L1325.6 849.9L1326 853.7L1326.4 851.1L1326.8 851.7L1327.2 842.3L1327.6 856.4L1328 849.3L1328.4 854L1328.8 850.1L1329.2 843.6L1329.6 852.9L1330 841.3L1330.4 851.5L1330.8 854.3L1331.2 856.9L1331.6 858.9L1332 857.5L1332.4 852.4L1332.8 853L1333.2 843L1333.6 860.4L1334 861.4L1334.4 858.5L1334.8 848.5L1335.2 854.4L1335.6 842.6L1336 857.1L1336.4 859L1336.8 851.7L1337.2 853.9L1337.6 855L1338 854.8L1338.4 855.8L1338.8 851.2L1339.2 851.4L1339.6 848.4L1340 856.2L1340.4 853.2L1340.8 858.4L1341.2 852.4L1341.6 851.6L1342 851.8L1342.4 847.9L1342.8 848.2L1343.2 847.7L1343.6 852.8L1344 854L1344.4 851.9L1344.8 847L1345.2 855.2L1345.6 854.3L1346 854.5L1346.4 860.9L1346.8 845.9L1347.2 859.3L1347.6 847.2L1348 851.2L1348.4 845.7L1348.8 852.6L1349.2 851.5L1349.6 857.8L1350 851.6L1350.4 853.1L1350.8 845.3L1351.2 850.3L1351.6 856L1352 839.6L1352.4 852.5L1352.8 854.6L1353.2 846.1L1353.6 856.8L1354 857L1354.4 850.7L1354.8 864.4L1355.2 862.5L1355.6 851.1L1356 857.1L1356.4 853.3L1356.8 850L1357.2 851.2L1357.6 850.1L1358 849L1358.4 852L1358.8 853L1359.2 846.7L1359.6 858.9L1360 839.5L1360.4 847.7L1360.8 856.6L1361.2 855.7L1361.6 853.8L1362 847.4L1362.4 847.7L1362.8 841.4L1363.2 863.5L1363.6 850.3L1364 851.8L1364.4 858L1364.8 849L1365.2 858.2L1365.6 849L1366 852.1L1366.4 862.2L1366.8 849.5L1367.2 858.4L1367.6 855.8L1368 853.8L1368.4 851.6L1368.8 859L1369.2 846.4L1369.6 847.4L1370 857.2L1370.4 848.7L1370.8 858.3L1371.2 859.4L1371.6 854.1L1372 851.2L1372.4 845.1L1372.8 859.1L1373.2 849.2L1373.6 855.6L1374 849.8L1374.4 851.6L1374.8 851.8L1375.2 850.4L1375.6 855.9L1376 855L1376.4 858.5L1376.8 847.3L1377.2 857.8L1377.6 847.5L1378 860.9L1378.4 852.6L1378.8 845.5L1379.2 842L1379.6 853.9L1380 859.3L1380.4 846.5L1380.8 853.2L1381.2 839.6L1381.6 844.5L1382 853.6L1382.4 839.9L1382.8 852.2L1383.2 857.4L1383.6 845.7L1384 852.3L1384.4 848.3L1384.8 847.3L1385.2 847.2L1385.6 850.4L1386 851.7L1386.4 847.9L1386.8 845.5L1387.2 851.4L1387.6 846.8L1388 860.2L1388.4 853.7L1388.8 852.8L1389.2 842.6L1389.6 854.7L1390 850.3L1390.4 840.8L1390.8 851L1391.2 858.5L1391.6 848.4L1392 849.9L1392.4 854L1392.8 854.5L1393.2 858.3L1393.6 851.4L1394 849.1L1394.4 858L1394.8 850.5L1395.2 854.4L1395.6 842L1396 854.1L1396.4 845.3L1396.8 847.7L1397.2 841.4L1397.6 863.6L1398 850.2L1398.4 848.5L1398.8 851.3L1399.2 857.6L1399.6 851.2L1400 853.7L1400.4 855.5L1400.8 853.5L1401.2 849.8L1401.6 847.1L1402 851.3L1402.4 850.9L1402.8 848.3L1403.2 849.6L1403.6 857.6L1404 859.4L1404.4 851.1L1404.8 845.4L1405.2 851.4L1405.6 849.8L1406 848.1L1406.4 847.9L1406.8 854.7L1407.2 847.8L1407.6 859.6L1408 851.6L1408.4 844.6L1408.8 850.2L1409.2 850.2L1409.6 858.5L1410 841.1L1410.4 851.1L1410.8 849.6L1411.2 850.4L1411.6 852.2L1412 853.7L1412.4 857.9L1412.8 851.1L1413.2 845.9L1413.6 852.8L1414 854.7L1414.4 850.9L1414.8 859.2L1415.2 861.9L1415.6 847.3L1416 851.1L1416.4 850L1416.8 845L1417.2 841.6L1417.6 838.7L1418 852.7L1418.4 858.1L1418.8 852.5L1419.2 861.1L1419.6 854.7L1420 851.2L1420.4 857.7L1420.8 847.6L1421.2 842.4L1421.6 851.9L1422 855.3L1422.4 849.1L1422.8 849.8L1423.2 849.2L1423.6 850.8L1424 838.1L1424.4 849.3L1424.8 856.5L1425.2 863L1425.6 841.4L1426 857.5L1426.4 859.1L1426.8 848.8L1427.2 852.6L1427.6 851.8L1428 850L1428.4 848.1L1428.8 848.6L1429.2 851.3L1429.6 844.3L1430 847.4L1430.4 844.6L1430.8 850.7L1431.2 849.5L1431.6 857.9L1432 853L1432.4 851.5L1432.8 849.2L1433.2 855.3L1433.6 842.7L1434 849.5L1434.4 848.1L1434.8 842.4L1435.2 848.1L1435.6 852.6L1436 849.3L1436.4 849.6L1436.8 854.3L1437.2 855.9L1437.6 848L1438 852.8L1438.4 851.5L1438.8 848.3L1439.2 858.1L1439.6 847.3L1440 847.5L1440.4 857.9L1440.8 849.2L1441.2 853.6L1441.6 845L1442 858.8L1442.4 841.4L1442.8 854L1443.2 853.9L1443.6 855.3L1444 852.4L1444.4 856.6L1444.8 849L1445.2 845.8L1445.6 845.8L1446 849.4L1446.4 844.7L1446.8 841.7L1447.2 847.2L1447.6 847.7L1448 848.9L1448.4 844.1L1448.8 845.1L1449.2 850.6L1449.6 844.1L1450 856L1450.4 847.2L1450.8 852.2L1451.2 844.9L1451.6 847.2L1452 852.4L1452.4 853.8L1452.8 851.6L1453.2 847L1453.6 857.7L1454 856.1L1454.4 842.1L1454.8 847.6L1455.2 853.1L1455.6 845.2L1456 842L1456.4 849.1L1456.8 842.3L1457.2 855.3L1457.6 855L1458 855L1458.4 855.7L1458.8 849.1L1459.2 843.3L1459.6 855.2L1460 852.2L1460.4 853.4L1460.8 847.6L1461.2 838.7L1461.6 844.8L1462 843.8L1462.4 853.2L1462.8 852.3L1463.2 846.1L1463.6 843L1464 858.8L1464.4 843.1L1464.8 850.5L1465.2 845.6L1465.6 842.7L1466 842.7L1466.4 856.7L1466.8 841.8L1467.2 856.8L1467.6 855.3L1468 841.2L1468.4 855.8L1468.8 845L1469.2 848.6L1469.6 845.1L1470 851.8L1470.4 852.3L1470.8 849.5L1471.2 850.5L1471.6 840.7L1472 844.4L1472.4 848.4L1472.8 846.5L1473.2 840.4L1473.6 854.4L1474 844.3L1474.4 843.9L1474.8 854.4L1475.2 848.9L1475.6 847.7L1476 848.4L1476.4 849L1476.8 848.1L1477.2 849.4L1477.6 851.8L1478 849L1478.4 850L1478.8 840.7L1479.2 838L1479.6 852.4L1480 855.3L1480.4 849.4L1480.8 854.4L1481.2 846.5L1481.6 857.8L1482 844.3L1482.4 849.2L1482.8 861.8L1483.2 860.1L1483.6 839.8L1484 845.3L1484.4 849.2L1484.8 847.6L1485.2 856.8L1485.6 847.4L1486 843.4L1486.4 849.1L1486.8 853.2L1487.2 855.7L1487.6 844.8L1488 853.5L1488.4 850.1L1488.8 849.9L1489.2 839.5L1489.6 851.7L1490 845.3L1490.4 849.7L1490.8 853.2L1491.2 844.5L1491.6 849.7L1492 844.5L1492.4 856L1492.8 843.5L1493.2 850.6L1493.6 853.6L1494 839.2L1494.4 847.9L1494.8 843.4L1495.2 844.1L1495.6 843.8L1496 856.8L1496.4 841.6L1496.8 846.9L1497.2 857.8L1497.6 854.2L1498 852.1L1498.4 847.4L1498.8 855.6L1499.2 850.4L1499.6 841.2L1500 846.4L1500.4 859L1500.8 851.7L1501.2 849.2L1501.6 848L1502 844.8L1502.4 844.8L1502.8 844.1L1503.2 850.9L1503.6 849.3L1504 850.7L1504.4 848.2L1504.8 842.2L1505.2 852.4L1505.6 848.3L1506 854.4L1506.4 853.1L1506.8 846.9L1507.2 844.3L1507.6 858.5L1508 853.6L1508.4 849.9L1508.8 846.8L1509.2 854L1509.6 851.3L1510 846.3L1510.4 841.7L1510.8 850.8L1511.2 861L1511.6 851.4L1512 848.4L1512.4 854.7L1512.8 850.4L1513.2 843.8L1513.6 841.5L1514 854.5L1514.4 846.9L1514.8 857.4L1515.2 854.1L1515.6 850L1516 849L1516.4 847L1516.8 846L1517.2 846.9L1517.6 843.4L1518 846.8L1518.4 852.6L1518.8 850.9L1519.2 849.2L1519.6 841.2L1520 845.6"/></g>
<g clip-path="url(#cp4)" shape-rendering="crispEdges"><path class="c" stroke="#00AE42" stroke-width="10.0" d="M166 1132.9L166.4 1136.5L166.8 1133.7L167.2 1131.7L167.6 1135.8L168 1124.5L168.4 1128.1L168.8 1128.1L169.2 1132.4L169.6 1131.3L170 1132.8L170.4 1135.8L170.8 1137.5L171.2 1135.9L171.6 1130.3L172 1136.7L172.4 1132.3L172.8 1142.1L173.2 1136.8L173.6 1133L174 1132.3L174.4 1127.2L174.8 1133.2L175.2 1126.1L175.6 1134.3L176 1121.8L176.4 1125.6L176.8 1140L177.2 1140.2L177.6 1139L178 1121.5L178.4 1123.1L178.8 1123.3L179.2 1121.8L179.6 1132.5L180 1128.3L180.4 1131L180.8 1128.1L181.2 1126.3L181.6 1142.1L182 1133.9L182.4 1124.8L182.8 1137.1L183.2 1126.4L183.6 1128.5L184 1137.9L184.4 1125.5L184.8 1128.3L185.2 1127.9L185.6 1139.2L186 1140.5L186.4 1130.5L186.8 1139.8L187.2 1121.4L187.6 1127.9L188 1136L188.4 1127.3L188.8 1130.5L189.2 1129.7L189.6 1132.2L190 1129.7L190.4 1119.9L190.8 1125.9L191.2 1123.9L191.6 1131.1L192 1118L192.4 1123L192.8 1134.2L193.2 1129.4L193.6 1141L194 1127L194.4 1112.6L194.8 1132.6L195.2 1128L195.6 1124.8L196 1119.2L196.4 1125.6L196.8 1129.9L197.2 1128.3L197.6 1126.8L198 1129.6L198.4 1127L198.8 1120.2L199.2 1127.5L199.6 1128.6L200 1136.5L200.4 1125.8L200.8 1119.6L201.2 1131.9L201.6 1129.4L202 1122L202.4 1118.3L202.8 1133.6L203.2 1115.3L203.6 1121.2L204 1126.3L204.4 1118.7L204.8 1123.4L205.2 1127.1L205.6 1122L206 1116.9L206.4 1120.6L206.8 1123.3L207.2 1130.2L207.6 1117.9L208 1132.1L208.4 1118.6L208.8 1131.2L209.2 1135.5L209.6 1130.5L210 1122L210.4 1132.3L210.8 1129.4L211.2 1125.5L211.6 1121.7L212 1120.4L212.4 1121.7L212.8 1135.6L213.2 1125.2L213.6 1124.6L214 1119.4L214.4 1123.8L214.8 1120.3L215.2 1117.7L215.6 1122.2L216 1118.9L216.4 1122.2L216.8 1120.8L217.2 1117.3L217.6 1124.1L218 1124.3L218.4 1106.4L218.8 1119.5L219.2 1119.8L219.6 1119.3L220 1127.8L220.4 1121L220.8 1118.2L221.2 1116.1L221.6 1123.9L222 1111.1L222.4 1118.4L222.8 1116.7L223.2 1117.8L223.6 1118.2L224 1113.3L224.4 1113.2L224.8 1119.4L225.2 1114.9L225.6 1127.5L226 1121.4L226.4 1113.2L226.8 1122.2L227.2 1118L227.6 1120.5L228 1127.7L228.4 1124.2L228.8 1113.8L229.2 1121.7L229.6 1116.4L230 1124.5L230.4 1118.5L230.8 1109.7L231.2 1103.9L231.6 1114.6L232 1113.7L232.4 1113.9L232.8 1130.4L233.2 1118.8L233.6 1122.9L234 1112.6L234.4 1121.6L234.8 1114.7L235.2 1108.9L235.6 1115.8L236 1117.3L236.4 1111.4L236.8 1125.4L237.2 1117.6L237.6 1108.6L238 1103.5L238.4 1121.4L238.8 1121.5L239.2 1120.6L239.6 1111.7L240 1111.8L240.4 1120L240.8 1114.4L241.2 1116.6L241.6 1120.3L242 1122.7L242.4 1112.1L242.8 1115.5L243.2 1117.7L243.6 1112.8L244 1121.6L244.4 1110.2L244.8 1118.6L245.2 1113.5L245.6 1123L246 1116.5L246.4 1112.1L246.8 1114.1L247.2 1108.5L247.6 1119.5L248 1114.6L248.4 1114.1L248.8 1117.8L249.2 1118.3L249.6 1113L250 1108.7L250.4 1121.5L250.8 1117.4L251.2 1115.8L251.6 1119.7L252 1113.3L252.4 1123.6L252.8 1113.6L253.2 1113.3L253.6 1115.4L254 1112.6L254.4 1113.6L254.8 1115.2L255.2 1110.5L255.6 1116.7L256 1114.5L256.4 1125L256.8 1112.3L257.2 1109.8L257.6 1109L258 1116.2L258.4 1115.4L258.8 1108.5L259.2 1118.4L259.6 1104.5L260 1108.3L260.4 1110.8L260.8 1113L261.2 1108.4L261.6 1120.9L262 1119.5L262.4 1113.9L262.8 1113.7L263.2 1112.8L263.6 1113.2L264 1117.1L264.4 1117.5L264.8 1115.4L265.2 1110.6L265.6 1104.2L266 1103L266.4 1113.6L266.8 1104.3L267.2 1109.1L267.6 1118.4L268 1114.1L268.4 1112.5L268.8 1112.7L269.2 1115.6L269.6 1115.5L270 1106.5L270.4 1105.1L270.8 1106.8L271.2 1110.9L271.6 1123.6L272 1112.3L272.4 1111.6L272.8 1117L273.2 1116.2L273.6 1106.9L274 1098.9L274.4 1125.3L274.8 1108.4L275.2 1107.4L275.6 1117.1L276 1104.4L276.4 1108.1L276.8 1101.6L277.2 1115.1L277.6 1105.4L278 1109.9L278.4 1113.7L278.8 1108L279.2 1121.9L279.6 1108L280 1099.4L280.4 1112.8L280.8 1113L281.2 1113.1L281.6 1103.6L282 1104.5L282.4 1106.7L282.8 1112.1L283.2 1106L283.6 1114L284 1110.9L284.4 1109.7L284.8 1101.4L285.2 1095L285.6 1106.3L286 1113.2L286.4 1110.3L286.8 1100L287.2 1109.1L287.6 1105L288 1107.5L288.4 1097.6L288.8 1098.5L289.2 1102.8L289.6 1110.5L290 1101.7L290.4 1104.1L290.8 1110.9L291.2 1100.4L291.6 1100.4L292 1099.2L292.4 1109.6L292.8 1099.9L293.2 1094.8L293.6 1098.7L294 1103.6L294.4 1103L294.8 1105.2L295.2 1108.6L295.6 1103.2L296 1098.7L296.4 1090.6L296.8 1102.4L297.2 1105.3L297.6 1103.6L298 1103.9L298.4 1096.8L298.8 1103.7L299.2 1090.3L299.6 1091.9L300 1089.8L300.4 1104.6L300.8 1103.7L301.2 1103.6L301.6 1109.5L302 1092.9L302.4 1101.3L302.8 1097.5L303.2 1095.8L303.6 1104.2L304 1097.6L304.4 1093.8L304.8 1104L305.2 1097.2L305.6 1099.3L306 1104.8L306.4 1098.5L306.8 1098.3L307.2 1102.6L307.6 1109.7L308 1091.7L308.4 1110.3L308.8 1106.7L309.2 1103.8L309.6 1104.8L310 1094.8L310.4 1104L310.8 1108L311.2 1102.8L311.6 1093.5L312 1100.6L312.4 1094.6L312.8 1095.6L313.2 1096.6L313.6 1107.5L314 1111.7L314.4 1102.2L314.8 1109.5L315.2 1100.2L315.6 1101.3L316 1110.7L316.4 1116.1L316.8 1111.1L317.2 1090.1L317.6 1101.9L318 1105.5L318.4 1105.6L318.8 1099.2L319.2 1119.5L319.6 1093.9L320 1104.7L320.4 1099.7L320.8 1103.1L321.2 1105.1L321.6 1101.3L322 1106.2L322.4 1096L322.8 1099.9L323.2 1107.5L323.6 1098.2L324 1108L324.4 1102.4L324.8 1099.1L325.2 1106.1L325.6 1101.9L326 1116L326.4 1106.9L326.8 1115.7L327.2 1101.3L327.6 1112.7L328 1106.5L328.4 1110.6L328.8 1103.6L329.2 1113.2L329.6 1118.4L330 1102.3L330.4 1101.6L330.8 1118.4L331.2 1100.1L331.6 1105.5L332 1102.8L332.4 1097.6L332.8 1103.9L333.2 1105.6L333.6 1093.8L334 1112.7L334.4 1107.1L334.8 1092.3L335.2 1106.6L335.6 1118.8L336 1101L336.4 1107L336.8 1116.2L337.2 1093.2L337.6 1113.8L338 1117.4L338.4 1115.3L338.8 1099.6L339.2 1111.1L339.6 1105.7L340 1115.4L340.4 1113.3L340.8 1104.4L341.2 1106.5L341.6 1101.6L342 1104.6L342.4 1105.1L342.8 1106.9L343.2 1105.3L343.6 1102.3L344 1107.2L344.4 1104.1L344.8 1106.5L345.2 1102.2L345.6 1114.6L346 1113.8L346.4 1113.5L346.8 1100.8L347.2 1108.1L347.6 1104.9L348 1107.1L348.4 1109.7L348.8 1111.6L349.2 1102.1L349.6 1113.9L350 1114.2L350.4 1113.6L350.8 1103.3L351.2 1108.2L351.6 1107.1L352 1102.8L352.4 1102.2L352.8 1106.6L353.2 1101L353.6 1099L354 1105.4L354.4 1106.4L354.8 1111.7L355.2 1115.9L355.6 1099.6L356 1108.2L356.4 1110.2L356.8 1100.9L357.2 1104.3L357.6 1106.9L358 1104.9L358.4 1110.5L358.8 1115.7L359.2 1117.3L359.6 1105.3L360 1104L360.4 1111.8L360.8 1104.9L361.2 1105.7L361.6 1110.3L362 1101.1L362.4 1114.4L362.8 1104L363.2 1107.8L363.6 1102.3L364 1107.5L364.4 1101L364.8 1095.4L365.2 1102L365.6 1108.2L366 1096.6L366.4 1108.5L366.8 1114.9L367.2 1103.7L367.6 1109.7L368 1103.6L368.4 1110.7L368.8 1103.9L369.2 1092.7L369.6 1102.2L370 1112.1L370.4 1104.1L370.8 1100.6L371.2 1106.4L371.6 1096.5L372 1114.2L372.4 1099L372.8 1107.4L373.2 1106.1L373.6 1102.3L374 1097L374.4 1104.5L374.8 1103.7L375.2 1103.5L375.6 1093.1L376 1103.7L376.4 1102.7L376.8 1103.2L377.2 1103L377.6 1099.3L378 1095.4L378.4 1104.6L378.8 1096.2L379.2 1097.3L379.6 1102.4L380 1111.8L380.4 1105.3L380.8 1108L381.2 1100.2L381.6 1100.3L382 1104.3L382.4 1103.2L382.8 1102.8L383.2 1103.7L383.6 1099.4L384 1100.9L384.4 1100.9L384.8 1110L385.2 1100.2L385.6 1101L386 1104.9L386.4 1104.8L386.8 1104.5L387.2 1090.3L387.6 1099.2L388 1098.3L388.4 1098.6L388.8 1101.1L389.2 1104.1L389.6 1101.1L390 1096.1L390.4 1097.3L390.8 1089.7L391.2 1093.4L391.6 1106L392 1098.6L392.4 1089.8L392.8 1096.5L393.2 1099.5L393.6 1100.1L394 1091L394.4 1095.2L394.8 1105.5L395.2 1112.4L395.6 1097.8L396 1090.6L396.4 1093.3L396.8 1093.1L397.2 1095.9L397.6 1102.8L398 1107.4L398.4 1085.9L398.8 1096.3L399.2 1098.9L399.6 1095.5L400 1095.4L400.4 1095.2L400.8 1105.1L401.2 1099.2L401.6 1093L402 1107L402.4 1101.6L402.8 1089L403.2 1089.7L403.6 1096.7L404 1098.7L404.4 1089.2L404.8 1103.1L405.2 1098.5L405.6 1101L406 1088L406.4 1086.3L406.8 1097.6L407.2 1095L407.6 1100.5L408 1090.8L408.4 1097.4L408.8 1080.6L409.2 1089.4L409.6 1097.6L410 1085.7L410.4 1088.8L410.8 1092.9L411.2 1097.9L411.6 1101.6L412 1089.4L412.4 1089.2L412.8 1104.7L413.2 1108.9L413.6 1092.6L414 1092.1L414.4 1098.7L414.8 1099.7L415.2 1087.3L415.6 1102.7L416 1085.7L416.4 1091.9L416.8 1082.7L417.2 1100.6L417.6 1098.3L418 1098.7L418.4 1088.9L418.8 1096.6L419.2 1086.4L419.6 1095.3L420 1103.2L420.4 1097.7L420.8 1089.6L421.2 1102.5L421.6 1091.3L422 1093.3L422.4 1100.2L422.8 1087.7L423.2 1096.6L423.6 1095L424 1088L424.4 1094.5L424.8 1095.6L425.2 1096.7L425.6 1095.7L426 1100.7L426.4 1097.5L426.8 1092.8L427.2 1094.1L427.6 1098.3L428 1088.6L428.4 1097.7L428.8 1092L429.2 1094.3L429.6 1085L430 1099.7L430.4 1086.6L430.8 1094.5L431.2 1093L431.6 1100.6L432 1094.7L432.4 1099.9L432.8 1093.4L433.2 1091.3L433.6 1099.6L434 1089.6L434.4 1083.7L434.8 1080.9L435.2 1099.7L435.6 1097L436 1091.4L436.4 1099.5L436.8 1102.5L437.2 1095.1L437.6 1090.7L438 1108.8L438.4 1090.3L438.8 1096.8L439.2 1090.4L439.6 1082L440 1092.7L440.4 1091.5L440.8 1097.8L441.2 1093.5L441.6 1091L442 1101.2L442.4 1090.6L442.8 1086.2L443.2 1087.8L443.6 1086L444 1085.9L444.4 1096.1L444.8 1090.5L445.2 1095.6L445.6 1094.5L446 1083.7L446.4 1090.7L446.8 1087.6L447.2 1088.8L447.6 1100.7L448 1102.3L448.4 1097.6L448.8 1080.2L449.2 1098L449.6 1097.3L450 1100.3L450.4 1089.3L450.8 1083L451.2 1084.9L451.6 1098.1L452 1099.9L452.4 1098L452.8 1088.1L453.2 1094.5L453.6 1096.6L454 1088.1L454.4 1096.7L454.8 1090L455.2 1091.2L455.6 1086.6L456 1096.9L456.4 1086.2L456.8 1093.9L457.2 1086.4L457.6 1084.8L458 1088.7L458.4 1095.9L458.8 1090.5L459.2 1091.3L459.6 1093.3L460 1094.9L460.4 1092.2L460.8 1091.7L461.2 1088.3L461.6 1099.3L462 1080.9L462.4 1082.1L462.8 1091.3L463.2 1091.2L463.6 1087.2L464 1095.2L464.4 1083.8L464.8 1085.5L465.2 1096L465.6 1083L466 1095.5L466.4 1090.4L466.8 1092.4L467.2 1089.7L467.6 1092.8L468 1095L468.4 1082.5L468.8 1082.4L469.2 1095.2L469.6 1088.9L470 1084L470.4 1097L470.8 1085.6L471.2 1092.2L471.6 1086.9L472 1091.8L472.4 1081L472.8 1081.8L473.2 1095.7L473.6 1082.8L474 1097.7L474.4 1100.1L474.8 1086.5L475.2 1090.5L475.6 1093.5L476 1087.2L476.4 1094.3L476.8 1084.9L477.2 1085.2L477.6 1098.5L478 1095.4L478.4 1086.4L478.8 1085.6L479.2 1090.8L479.6 1093.7L480 1092.5L480.4 1093.8L480.8 1086.6L481.2 1089.2L481.6 1088.9L482 1098.6L482.4 1094.9L482.8 1085.1L483.2 1089.3L483.6 1092.5L484 1089.8L484.4 1088L484.8 1092.1L485.2 1088.2L485.6 1087.5L486 1097L486.4 1083.7L486.8 1091.9L487.2 1088.4L487.6 1087.2L488 1086L488.4 1090.7L488.8 1094L489.2 1085.4L489.6 1088.2L490 1090.4L490.4 1085.5L490.8 1082.5L491.2 1086.6L491.6 1096.2L492 1078.7L492.4 1084.4L492.8 1082.2L493.2 1086.7L493.6 1079.2L494 1088.3L494.4 1075.5L494.8 1093.6L495.2 1083.8L495.6 1092.8L496 1081.1L496.4 1082.3L496.8 1086L497.2 1086.2L497.6 1082.2L498 1090.9L498.4 1082.2L498.8 1081.7L499.2 1081.4L499.6 1079L500 1092.8L500.4 1083L500.8 1085L501.2 1075.8L501.6 1075.6L502 1077.8L502.4 1074.2L502.8 1081.7L503.2 1081.4L503.6 1083L504 1069.5L504.4 1088.1L504.8 1078.9L505.2 1077.4L505.6 1078L506 1074.9L506.4 1072.6L506.8 1070.5L507.2 1076.2L507.6 1061.9L508 1054L508.4 1059.3L508.8 1060.7L509.2 1063L509.6 1069.7L510 1061.8L510.4 1058.4L510.8 1073.6L511.2 1068L511.6 1066.8L512 1059.5L512.4 1066.1L512.8 1069.2L513.2 1054.9L513.6 1058.4L514 1056.2L514.4 1068.4L514.8 1061.8L515.2 1062.7L515.6 1059.4L516 1070.1L516.4 1069.1L516.8 1073L517.2 1079.7L517.6 1074.5L518 1076L518.4 1070.4L518.8 1070.2L519.2 1072.5L519.6 1072.7L520 1082L520.4 1077.8L520.8 1074.7L521.2 1069.1L521.6 1082.2L522 1071.5L522.4 1082.7L522.8 1083.4L523.2 1074.3L523.6 1074.6L524 1080.3L524.4 1086.8L524.8 1076.7L525.2 1078.1L525.6 1079.2L526 1086.1L526.4 1090L526.8 1091L527.2 1092.4L527.6 1076.2L528 1078.3L528.4 1087.6L528.8 1090.5L529.2 1085.9L529.6 1077.8L530 1078L530.4 1074.1L530.8 1089L531.2 1084.4L531.6 1086.3L532 1085.2L532.4 1082.8L532.8 1085.3L533.2 1094L533.6 1094.2L534 1085.7L534.4 1087.1L534.8 1084.5L535.2 1087.4L535.6 1081.6L536 1091.2L536.4 1086.5L536.8 1089.3L537.2 1076.8L537.6 1080.2L538 1086.3L538.4 1096.4L538.8 1075.9L539.2 1082.1L539.6 1084.4L540 1079.3L540.4 1086.5L540.8 1082.8L541.2 1086.1L541.6 1085.5L542 1077L542.4 1086.8L542.8 1077.5L543.2 1091.1L543.6 1082.4L544 1088.1L544.4 1090.8L544.8 1090.9L545.2 1079.6L545.6 1078.3L546 1085.4L546.4 1082.5L546.8 1086L547.2 1086.3L547.6 1083.8L548 1094.7L548.4 1070.8L548.8 1079.6L549.2 1089.4L549.6 1079.4L550 1089.5L550.4 1077.8L550.8 1088.4L551.2 1094.7L551.6 1082.5L552 1090.9L552.4 1076.5L552.8 1085L553.2 1080.3L553.6 1091.6L554 1085.1L554.4 1084.4L554.8 1072.7L555.2 1088L555.6 1089.1L556 1089.2L556.4 1086.5L556.8 1086.7L557.2 1084.2L557.6 1093.9L558 1083.2L558.4 1086.5L558.8 1081L559.2 1093.8L559.6 1087.7L560 1084.3L560.4 1075.7L560.8 1072.4L561.2 1085.1L561.6 1082.1L562 1091.3L562.4 1077L562.8 1078L563.2 1085.3L563.6 1080.4L564 1081.2L564.4 1075.1L564.8 1075.6L565.2 1088.2L565.6 1086.7L566 1087.9L566.4 1075.9L566.8 1079.6L567.2 1084.3L567.6 1080.8L568 1076.7L568.4 1081.8L568.8 1083.2L569.2 1079.9L569.6 1087.4L570 1087.7L570.4 1086.2L570.8 1083.3L571.2 1076.5L571.6 1067.1L572 1092.7L572.4 1080.5L572.8 1085.8L573.2 1085.2L573.6 1088.8L574 1083.1L574.4 1079.5L574.8 1077.5L575.2 1070.7L575.6 1074.9L576 1078L576.4 1070.8L576.8 1082.6L577.2 1079.4L577.6 1079.3L578 1072.8L578.4 1076.4L578.8 1079.7L579.2 1076.9L579.6 1083.7L580 1072.3L580.4 1072.1L580.8 1080.4L581.2 1081.3L581.6 1080.6L582 1075.8L582.4 1077.8L582.8 1081.6L583.2 1079.7L583.6 1066.7L584 1074.2L584.4 1078.5L584.8 1070.6L585.2 1071.6L585.6 1073.3L586 1078L586.4 1069.9L586.8 1076.7L587.2 1071.2L587.6 1061.3L588 1064.1L588.4 1059.9L588.8 1074.2L589.2 1061.5L589.6 1080.9L590 1072.4L590.4 1065.1L590.8 1067.5L591.2 1072.3L591.6 1075.4L592 1060.5L592.4 1064.9L592.8 1067.1L593.2 1068.5L593.6 1062.5L594 1059.3L594.4 1067.9L594.8 1046.3L595.2 1071.6L595.6 1063.5L596 1062L596.4 1050L596.8 1046.6L597.2 1051.6L597.6 1047.6L598 1041.1L598.4 1042.2L598.8 1045.2L599.2 1032.5L599.6 1031.2L600 1031.9L600.4 1025.4L600.8 1024.7L601.2 1027.2L601.6 1016.8L602 1019.7L602.4 1023.4L602.8 1012.9L603.2 1011.7L603.6 1015.1L604 1027.4L604.4 1003.3L604.8 1021.5L605.2 1012.1L605.6 1021L606 1023.8L606.4 1036.1L606.8 1037.2L607.2 1044.2L607.6 1043.4L608 1055.1L608.4 1055.6L608.8 1044.4L609.2 1048.3L609.6 1054.4L610 1063.6L610.4 1069.6L610.8 1059.5L611.2 1069L611.6 1071.7L612 1078.8L612.4 1066.3L612.8 1080.1L613.2 1072.5L613.6 1073.4L614 1071.9L614.4 1073.3L614.8 1072.6L615.2 1087.8L615.6 1061.8L616 1070.8L616.4 1072.1L616.8 1082.8L617.2 1071.7L617.6 1089.1L618 1079.5L618.4 1087.3L618.8 1085.5L619.2 1077.5L619.6 1078L620 1078.9L620.4 1079.4L620.8 1085.7L621.2 1083.3L621.6 1077.8L622 1070.5L622.4 1081.4L622.8 1093L623.2 1078L623.6 1081.4L624 1073.5L624.4 1069.4L624.8 1083.7L625.2 1073.5L625.6 1087.7L626 1082.7L626.4 1076L626.8 1083.7L627.2 1084.1L627.6 1086.1L628 1074.7L628.4 1084.2L628.8 1079.5L629.2 1084.6L629.6 1090.1L630 1072.6L630.4 1083L630.8 1075.5L631.2 1078.7L631.6 1090.4L632 1081L632.4 1080.1L632.8 1086.1L633.2 1080L633.6 1079.5L634 1077.8L634.4 1075.5L634.8 1082.3L635.2 1078.4L635.6 1076.7L636 1083.4L636.4 1078.8L636.8 1096.4L637.2 1074.1L637.6 1083.8L638 1087L638.4 1082.6L638.8 1088.5L639.2 1081.1L639.6 1078.7L640 1069.2L640.4 1088.4L640.8 1084L641.2 1083.8L641.6 1081.1L642 1088.6L642.4 1086.2L642.8 1089.9L643.2 1083.8L643.6 1093.3L644 1083.3L644.4 1092.3L644.8 1094.8L645.2 1080.8L645.6 1081.9L646 1084.1L646.4 1087.2L646.8 1089.8L647.2 1084.4L647.6 1083.2L648 1087.6L648.4 1077.1L648.8 1080.6L649.2 1083.4L649.6 1086L650 1090.7L650.4 1085.3L650.8 1084.6L651.2 1088.2L651.6 1081.4L652 1091.5L652.4 1081.9L652.8 1085.9L653.2 1093.4L653.6 1082.4L654 1093.7L654.4 1086.1L654.8 1082.6L655.2 1085.6L655.6 1083.7L656 1088.6L656.4 1085.3L656.8 1087L657.2 1087.6L657.6 1085.8L658 1076.6L658.4 1089.2L658.8 1071.3L659.2 1091.3L659.6 1091L660 1089.6L660.4 1089.5L660.8 1086.7L661.2 1092.6L661.6 1083.2L662 1078.8L662.4 1086.6L662.8 1085.5L663.2 1089L663.6 1082.7L664 1092.6L664.4 1096.1L664.8 1081.7L665.2 1091.9L665.6 1095L666 1078.7L666.4 1079.7L666.8 1091.5L667.2 1086.7L667.6 1083.5L668 1082.2L668.4 1093.4L668.8 1083.5L669.2 1086.6L669.6 1079.9L670 1083.2L670.4 1096L670.8 1089.2L671.2 1086.4L671.6 1084.2L672 1085L672.4 1087.5L672.8 1088.2L673.2 1084.7L673.6 1091.5L674 1086.7L674.4 1092.2L674.8 1083.1L675.2 1092.1L675.6 1077.6L676 1079.6L676.4 1090L676.8 1081.1L677.2 1078.3L677.6 1084.1L678 1088.8L678.4 1085.4L678.8 1082.7L679.2 1093L679.6 1095.7L680 1083.9L680.4 1086.6L680.8 1085.9L681.2 1093.6L681.6 1081L682 1089.3L682.4 1083.5L682.8 1088.7L683.2 1086.7L683.6 1081.5L684 1080.4L684.4 1085.4L684.8 1089.6L685.2 1094.2L685.6 1090.2L686 1087.8L686.4 1098L686.8 1090.8L687.2 1097.1L687.6 1089.4L688 1090.3L688.4 1081.4L688.8 1086.2L689.2 1090.2L689.6 1089.1L690 1098.3L690.4 1097L690.8 1088.1L691.2 1086.3L691.6 1079.1L692 1094L692.4 1086.2L692.8 1089.4L693.2 1083.2L693.6 1089.1L694 1090.8L694.4 1090.7L694.8 1089.8L695.2 1077.9L695.6 1088.7L696 1087.5L696.4 1094L696.8 1090.2L697.2 1091.5L697.6 1091.1L698 1092.3L698.4 1089.8L698.8 1083L699.2 1076.9L699.6 1087L700 1092.5L700.4 1090L700.8 1086.8L701.2 1084.8L701.6 1092.8L702 1089.2L702.4 1080.3L702.8 1087.6L703.2 1090.3L703.6 1091.8L704 1098.1L704.4 1088.1L704.8 1098.8L705.2 1088L705.6 1073.3L706 1081.4L706.4 1083L706.8 1073.5L707.2 1093.7L707.6 1089.1L708 1089.7L708.4 1084.9L708.8 1096L709.2 1093.5L709.6 1084.6L710 1088L710.4 1074.8L710.8 1088.5L711.2 1093.8L711.6 1087L712 1087L712.4 1084.2L712.8 1086.7L713.2 1076.1L713.6 1083.1L714 1083.2L714.4 1083.9L714.8 1086.5L715.2 1081.9L715.6 1082.1L716 1093.6L716.4 1075L716.8 1093L717.2 1086L717.6 1082L718 1080L718.4 1083.6L718.8 1091.9L719.2 1079.2L719.6 1087L720 1083.6L720.4 1080L720.8 1084.7L721.2 1089.3L721.6 1091.1L722 1097.1L722.4 1082.5L722.8 1090.6L723.2 1085.6L723.6 1089.6L724 1084.8L724.4 1081.3L724.8 1080.9L725.2 1082.6L725.6 1073L726 1081.6L726.4 1072L726.8 1076.7L727.2 1074.3L727.6 1073L728 1062.5L728.4 1081.9L728.8 1063.4L729.2 1070.3L729.6 1067.4L730 1074.5L730.4 1073L730.8 1063.9L731.2 1063.7L731.6 1058.4L732 1060.6L732.4 1066.9L732.8 1059L733.2 1065.8L733.6 1060.1L734 1050.1L734.4 1060.3L734.8 1067.4L735.2 1061.9L735.6 1056.8L736 1066.3L736.4 1073L736.8 1066.3L737.2 1061.6L737.6 1069.8L738 1062.9L738.4 1060.2L738.8 1065.5L739.2 1057.7L739.6 1056.3L740 1061.5L740.4 1068L740.8 1062.2L741.2 1068L741.6 1076.7L742 1073L742.4 1079.5L742.8 1067.7L743.2 1074.8L743.6 1081.2L744 1066.5L744.4 1081.7L744.8 1087.1L745.2 1070.8L745.6 1081.4L746 1089.8L746.4 1085.7L746.8 1082.5L747.2 1079.2L747.6 1093.1L748 1084.2L748.4 1080.9L748.8 1073.8L749.2 1094.8L749.6 1091.7L750 1086.3L750.4 1091.1L750.8 1086.6L751.2 1084.9L751.6 1101.2L752 1079.5L752.4 1083.4L752.8 1086.7L753.2 1082.1L753.6 1083.6L754 1087.1L754.4 1087.1L754.8 1089.2L755.2 1090.2L755.6 1083.7L756 1084.3L756.4 1082.2L756.8 1076.5L757.2 1082.2L757.6 1080.1L758 1090.7L758.4 1088.4L758.8 1090.7L759.2 1093.3L759.6 1080.8L760 1092.7L760.4 1085.4L760.8 1098.2L761.2 1085.8L761.6 1089.1L762 1089.2L762.4 1080.6L762.8 1092.6L763.2 1096.8L763.6 1098.3L764 1092.2L764.4 1090.5L764.8 1091.6L765.2 1089L765.6 1081.5L766 1086.7L766.4 1084.4L766.8 1086L767.2 1091L767.6 1088.9L768 1090.6L768.4 1090.4L768.8 1090.6L769.2 1087.5L769.6 1096.1L770 1093.9L770.4 1093.2L770.8 1095.9L771.2 1089.8L771.6 1091.8L772 1097.4L772.4 1094.9L772.8 1095.8L773.2 1089.6L773.6 1087.8L774 1094.5L774.4 1082.5L774.8 1082.4L775.2 1087.6L775.6 1092.9L776 1086.6L776.4 1090.5L776.8 1084.8L777.2 1090.1L777.6 1095.5L778 1084.8L778.4 1085L778.8 1092.5L779.2 1082.6L779.6 1099.6L780 1076.9L780.4 1087.1L780.8 1097.3L781.2 1093.6L781.6 1082.3L782 1093.3L782.4 1089.1L782.8 1088.9L783.2 1090.6L783.6 1099L784 1086.7L784.4 1105.9L784.8 1083.5L785.2 1090.7L785.6 1100.2L786 1091.1L786.4 1096.5L786.8 1086.1L787.2 1084.6L787.6 1089.6L788 1087.7L788.4 1095.1L788.8 1083.2L789.2 1098.4L789.6 1090.5L790 1083.2L790.4 1077.3L790.8 1097.8L791.2 1086.9L791.6 1096.6L792 1097L792.4 1087.4L792.8 1094.7L793.2 1086.5L793.6 1097.9L794 1088.1L794.4 1099.6L794.8 1094.7L795.2 1092L795.6 1095.8L796 1092.8L796.4 1086L796.8 1089.7L797.2 1094.3L797.6 1088.4L798 1089.7L798.4 1097.7L798.8 1089.5L799.2 1099.4L799.6 1084.6L800 1094.9L800.4 1080.9L800.8 1103.5L801.2 1085.8L801.6 1098.2L802 1092.2L802.4 1090.4L802.8 1087.6L803.2 1092.1L803.6 1084.7L804 1098.3L804.4 1091.3L804.8 1079.9L805.2 1095.2L805.6 1094.8L806 1089.6L806.4 1094.4L806.8 1091.5L807.2 1081.3L807.6 1098.1L808 1096.7L808.4 1093.9L808.8 1088.2L809.2 1092L809.6 1091.6L810 1095.6L810.4 1093.3L810.8 1089.1L811.2 1088.2L811.6 1087.9L812 1091.7L812.4 1092.9L812.8 1088.9L813.2 1088.1L813.6 1094.5L814 1089.6L814.4 1092.9L814.8 1091.9L815.2 1096.2L815.6 1097.2L816 1086.9L816.4 1094.5L816.8 1098.9L817.2 1092.6L817.6 1090.3L818 1085.8L818.4 1084.5L818.8 1108.3L819.2 1091.3L819.6 1090.8L820 1097.1L820.4 1087.4L820.8 1088.5L821.2 1089.7L821.6 1097L822 1099.3L822.4 1085.9L822.8 1095.2L823.2 1094.2L823.6 1093.4L824 1096.9L824.4 1095.4L824.8 1097.8L825.2 1086.8L825.6 1094.4L826 1102.3L826.4 1098.2L826.8 1095.7L827.2 1088L827.6 1094.7L828 1087.3L828.4 1087.4L828.8 1102.7L829.2 1094.6L829.6 1104.3L830 1108.1L830.4 1100.8L830.8 1083.2L831.2 1086.7L831.6 1095.7L832 1093.3L832.4 1088L832.8 1093L833.2 1089.9L833.6 1088.9L834 1100.5L834.4 1085L834.8 1092L835.2 1094.1L835.6 1093L836 1094.9L836.4 1100.8L836.8 1089.2L837.2 1091L837.6 1098.5L838 1085.4L838.4 1094L838.8 1092.8L839.2 1094.5L839.6 1104.2L840 1092L840.4 1095.3L840.8 1078.7L841.2 1087.3L841.6 1089.9L842 1092.7L842.4 1102.6L842.8 1091.3L843.2 1092L843.6 1090.9L844 1085.8L844.4 1095.4L844.8 1093.5L845.2 1091.9L845.6 1094.8L846 1103.6L846.4 1089.8L846.8 1082.1L847.2 1096.3L847.6 1091.3L848 1084.9L848.4 1091.4L848.8 1087.2L849.2 1101.2L849.6 1092.6L850 1088.7L850.4 1088.2L850.8 1095.4L851.2 1098.6L851.6 1092.6L852 1081.3L852.4 1088.4L852.8 1095.3L853.2 1101.1L853.6 1095L854 1091.4L854.4 1086.3L854.8 1091.5L855.2 1091.8L855.6 1101L856 1089.9L856.4 1092L856.8 1094L857.2 1089.2L857.6 1095.7L858 1085.5L858.4 1091.7L858.8 1082.1L859.2 1096.6L859.6 1089.4L860 1094.8L860.4 1091L860.8 1095.9L861.2 1095.7L861.6 1090.4L862 1091.2L862.4 1099.7L862.8 1088.8L863.2 1089.9L863.6 1105.8L864 1094.5L864.4 1091.1L864.8 1089.6L865.2 1089.9L865.6 1086.1L866 1088.6L866.4 1097.3L866.8 1094.5L867.2 1084.4L867.6 1083.8L868 1094L868.4 1086.7L868.8 1087L869.2 1095.4L869.6 1098.3L870 1092.3L870.4 1089.8L870.8 1095.1L871.2 1094.2L871.6 1089.3L872 1099.3L872.4 1101.3L872.8 1088L873.2 1087.3L873.6 1093L874 1097.3L874.4 1095.2L874.8 1089.9L875.2 1098.6L875.6 1087L876 1088.8L876.4 1102.2L876.8 1083.2L877.2 1088.4L877.6 1086.3L878 1086.5L878.4 1095.1L878.8 1104.4L879.2 1080.7L879.6 1092.7L880 1098.7L880.4 1089L880.8 1097.7L881.2 1091L881.6 1098.6L882 1090.8L882.4 1093.3L882.8 1105.5L883.2 1096.7L883.6 1083.2L884 1090.8L884.4 1089.5L884.8 1086.7L885.2 1080.7L885.6 1091L886 1091.1L886.4 1098.3L886.8 1102.8L887.2 1092.8L887.6 1094.5L888 1092.1L888.4 1091.7L888.8 1094.3L889.2 1095.7L889.6 1092.7L890 1091.5L890.4 1096.5L890.8 1093.5L891.2 1089.5L891.6 1093.8L892 1094.8L892.4 1095.7L892.8 1100.3L893.2 1094.5L893.6 1087.8L894 1077.1L894.4 1085.9L894.8 1090.5L895.2 1093.2L895.6 1093.2L896 1093.2L896.4 1081.8L896.8 1091.9L897.2 1092.7L897.6 1090.8L898 1086.2L898.4 1098.7L898.8 1080.6L899.2 1079.4L899.6 1096.4L900 1090.9L900.4 1091.2L900.8 1098.8L901.2 1089.7L901.6 1093.5L902 1095.5L902.4 1102.4L902.8 1083.5L903.2 1093.5L903.6 1090.2L904 1089.6L904.4 1095L904.8 1086.4L905.2 1091.6L905.6 1098.8L906 1092.7L906.4 1094.3L906.8 1092L907.2 1089.3L907.6 1089.7L908 1088.6L908.4 1092.6L908.8 1082.8L909.2 1090.5L909.6 1085.5L910 1087.3L910.4 1097.3L910.8 1098.6L911.2 1083L911.6 1089.1L912 1089.3L912.4 1083.4L912.8 1095.2L913.2 1088.2L913.6 1091.1L914 1089.4L914.4 1092.5L914.8 1091.6L915.2 1093.5L915.6 1085.2L916 1089.7L916.4 1092.4L916.8 1091.7L917.2 1094.9L917.6 1079.6L918 1085.4L918.4 1093L918.8 1086.6L919.2 1087.3L919.6 1089.3L920 1086.7L920.4 1089.7L920.8 1091.8L921.2 1089.3L921.6 1084.2L922 1103.9L922.4 1078.7L922.8 1091.1L923.2 1084.4L923.6 1094.1L924 1078.4L924.4 1090.1L924.8 1084.1L925.2 1100.4L925.6 1098.5L926 1082L926.4 1096.2L926.8 1095.3L927.2 1091.3L927.6 1092.4L928 1090L928.4 1093.7L928.8 1075.3L929.2 1085.9L929.6 1092.9L930 1089.5L930.4 1097.7L930.8 1080.9L931.2 1093.2L931.6 1083.9L932 1093.7L932.4 1093.6L932.8 1085.8L933.2 1087.5L933.6 1099.7L934 1077.7L934.4 1095.3L934.8 1096.5L935.2 1093.4L935.6 1083.3L936 1091.2L936.4 1088.4L936.8 1090.1L937.2 1092.8L937.6 1084.2L938 1092.9L938.4 1086.5L938.8 1093.8L939.2 1082.9L939.6 1088.2L940 1081L940.4 1083.5L940.8 1079.7L941.2 1093L941.6 1094.8L942 1087.5L942.4 1093.2L942.8 1089.3L943.2 1092.2L943.6 1091.7L944 1089.4L944.4 1090.1L944.8 1101.6L945.2 1095L945.6 1089.1L946 1075.3L946.4 1089.8L946.8 1093.5L947.2 1092.9L947.6 1098L948 1076.4L948.4 1091.5L948.8 1087.3L949.2 1082L949.6 1090.6L950 1089.7L950.4 1081.9L950.8 1076.6L951.2 1089.3L951.6 1078.6L952 1076L952.4 1079.4L952.8 1091.6L953.2 1087.9L953.6 1084.7L954 1081.1L954.4 1086.5L954.8 1087.8L955.2 1088.6L955.6 1081.9L956 1084.6L956.4 1089L956.8 1087.4L957.2 1089.5L957.6 1080.7L958 1085.3L958.4 1070.7L958.8 1081L959.2 1068.1L959.6 1078.4L960 1071.2L960.4 1081.2L960.8 1062.4L961.2 1063.1L961.6 1068.5L962 1068.6L962.4 1065.3L962.8 1060.9L963.2 1069.7L963.6 1068.1L964 1074.8L964.4 1065.5L964.8 1060.3L965.2 1065.1L965.6 1072.5L966 1063L966.4 1068L966.8 1066.7L967.2 1057.7L967.6 1073L968 1076.3L968.4 1067.4L968.8 1082.1L969.2 1066.1L969.6 1074.2L970 1070.1L970.4 1076.5L970.8 1076.9L971.2 1073.1L971.6 1066.4L972 1076.4L972.4 1076.5L972.8 1069.2L973.2 1082.7L973.6 1080.2L974 1091L974.4 1087.2L974.8 1080.8L975.2 1088.6L975.6 1069.8L976 1083.3L976.4 1087.6L976.8 1084.2L977.2 1090.5L977.6 1084.7L978 1078.4L978.4 1078.7L978.8 1096L979.2 1094L979.6 1079.7L980 1095.2L980.4 1083.7L980.8 1084.2L981.2 1091.1L981.6 1078.4L982 1084.2L982.4 1082.5L982.8 1091.8L983.2 1098L983.6 1081.7L984 1092.8L984.4 1089.7L984.8 1080L985.2 1093.6L985.6 1083.1L986 1082.5L986.4 1093.9L986.8 1102.3L987.2 1093.2L987.6 1092.1L988 1092L988.4 1078.7L988.8 1083.8L989.2 1078.1L989.6 1089L990 1084.7L990.4 1085L990.8 1086L991.2 1083.4L991.6 1086.8L992 1089.9L992.4 1091.9L992.8 1089.6L993.2 1078.9L993.6 1093.9L994 1084L994.4 1096.2L994.8 1088.2L995.2 1089.5L995.6 1091.2L996 1097.6L996.4 1097.5L996.8 1082.3L997.2 1091.7L997.6 1087.7L998 1088.6L998.4 1101.1L998.8 1087L999.2 1078.2L999.6 1074.6L1000 1090.2L1000.4 1086.4L1000.8 1088.5L1001.2 1082L1001.6 1088L1002 1085.1L1002.4 1089.8L1002.8 1076.9L1003.2 1093.5L1003.6 1088.9L1004 1098.5L1004.4 1090.3L1004.8 1079.4L1005.2 1099.2L1005.6 1095.6L1006 1083.5L1006.4 1080.5L1006.8 1099.2L1007.2 1082.1L1007.6 1096.7L1008 1093.1L1008.4 1096.3L1008.8 1093.7L1009.2 1088.7L1009.6 1087.8L1010 1081.9L1010.4 1086L1010.8 1083.4L1011.2 1089.5L1011.6 1097.3L1012 1093.6L1012.4 1084.3L1012.8 1091.5L1013.2 1090L1013.6 1092.5L1014 1090.3L1014.4 1085.8L1014.8 1090.3L1015.2 1085.6L1015.6 1081.4L1016 1086.6L1016.4 1094.2L1016.8 1087.1L1017.2 1087.1L1017.6 1083.8L1018 1087.9L1018.4 1087.7L1018.8 1089.1L1019.2 1083L1019.6 1101L1020 1090.8L1020.4 1081.6L1020.8 1074.9L1021.2 1084.4L1021.6 1100.9L1022 1099.6L1022.4 1080.4L1022.8 1083.4L1023.2 1088.8L1023.6 1078.5L1024 1091.4L1024.4 1087.8L1024.8 1078.2L1025.2 1076.5L1025.6 1090.3L1026 1096.2L1026.4 1081.7L1026.8 1083.5L1027.2 1084L1027.6 1086.4L1028 1078.2L1028.4 1077.5L1028.8 1080.1L1029.2 1096.6L1029.6 1091.6L1030 1090L1030.4 1098.8L1030.8 1082L1031.2 1081L1031.6 1092.4L1032 1077.6L1032.4 1091.3L1032.8 1086.6L1033.2 1087.5L1033.6 1100.5L1034 1083.7L1034.4 1087.7L1034.8 1078.2L1035.2 1085.7L1035.6 1085.6L1036 1090.9L1036.4 1087.6L1036.8 1090.3L1037.2 1081.2L1037.6 1086.1L1038 1074.6L1038.4 1090.4L1038.8 1092.8L1039.2 1084.6L1039.6 1084.9L1040 1083.1L1040.4 1074L1040.8 1084.5L1041.2 1089.2L1041.6 1076.6L1042 1087.4L1042.4 1082.6L1042.8 1086.4L1043.2 1078.9L1043.6 1077.4L1044 1078.4L1044.4 1082.4L1044.8 1077.5L1045.2 1079.9L1045.6 1074.1L1046 1084.9L1046.4 1078.3L1046.8 1066.3L1047.2 1075.4L1047.6 1085.6L1048 1070.7L1048.4 1070.2L1048.8 1070.5L1049.2 1078.5L1049.6 1065.9L1050 1073.1L1050.4 1073.2L1050.8 1073.2L1051.2 1068.5L1051.6 1071.6L1052 1073.5L1052.4 1068L1052.8 1064.1L1053.2 1067L1053.6 1067.3L1054 1057.6L1054.4 1064.7L1054.8 1060.4L1055.2 1052.3L1055.6 1061.8L1056 1054.6L1056.4 1058L1056.8 1054.9L1057.2 1056.9L1057.6 1053L1058 1044.2L1058.4 1050.2L1058.8 1052.3L1059.2 1041.3L1059.6 1045.8L1060 1044.8L1060.4 1043.5L1060.8 1042.4L1061.2 1037.4L1061.6 1039.4L1062 1045.5L1062.4 1045.1L1062.8 1041.6L1063.2 1047.1L1063.6 1049.8L1064 1044L1064.4 1050.5L1064.8 1056.5L1065.2 1050L1065.6 1061.2L1066 1048.8L1066.4 1061.5L1066.8 1058L1067.2 1072.3L1067.6 1068.9L1068 1070.7L1068.4 1071.8L1068.8 1072L1069.2 1070.2L1069.6 1064.1L1070 1071.5L1070.4 1081.5L1070.8 1079.6L1071.2 1077.7L1071.6 1081.8L1072 1081.2L1072.4 1074.6L1072.8 1079.4L1073.2 1089.9L1073.6 1078.3L1074 1091.9L1074.4 1083.7L1074.8 1089.9L1075.2 1095.1L1075.6 1093.9L1076 1087.1L1076.4 1093.2L1076.8 1087.8L1077.2 1094.1L1077.6 1089.2L1078 1088.4L1078.4 1102.5L1078.8 1084.7L1079.2 1089.8L1079.6 1093.1L1080 1089L1080.4 1089.6L1080.8 1091.2L1081.2 1082.7L1081.6 1085.5L1082 1090.3L1082.4 1091.1L1082.8 1083.2L1083.2 1100.2L1083.6 1081.4L1084 1089.5L1084.4 1094.7L1084.8 1091.7L1085.2 1088.2L1085.6 1097.2L1086 1087.4L1086.4 1099.3L1086.8 1088.4L1087.2 1092.5L1087.6 1094.5L1088 1088.4L1088.4 1089.3L1088.8 1090.4L1089.2 1092.6L1089.6 1090.4L1090 1093.7L1090.4 1096.3L1090.8 1084.7L1091.2 1082.3L1091.6 1101L1092 1092.8L1092.4 1090.3L1092.8 1100.8L1093.2 1094.6L1093.6 1092.4L1094 1095L1094.4 1101.1L1094.8 1093.7L1095.2 1089.6L1095.6 1090.1L1096 1096L1096.4 1084.6L1096.8 1100.1L1097.2 1084.8L1097.6 1094.9L1098 1098.8L1098.4 1098.4L1098.8 1091.8L1099.2 1089.8L1099.6 1092.4L1100 1099.4L1100.4 1089.1L1100.8 1101L1101.2 1088.7L1101.6 1091L1102 1093L1102.4 1089.8L1102.8 1095.8L1103.2 1090L1103.6 1104.2L1104 1099L1104.4 1090.5L1104.8 1096.8L1105.2 1092.6L1105.6 1095.5L1106 1099.7L1106.4 1096.6L1106.8 1091.5L1107.2 1091L1107.6 1097.5L1108 1097.1L1108.4 1097.5L1108.8 1104.8L1109.2 1090.8L1109.6 1096.1L1110 1094.5L1110.4 1087.5L1110.8 1097.7L1111.2 1090.5L1111.6 1084.6L1112 1101.3L1112.4 1093.5L1112.8 1091.7L1113.2 1091.7L1113.6 1096.5L1114 1098.5L1114.4 1098.4L1114.8 1094.7L1115.2 1092.6L1115.6 1098.4L1116 1098L1116.4 1092.6L1116.8 1094.2L1117.2 1095.2L1117.6 1099.7L1118 1105.3L1118.4 1098.7L1118.8 1096.4L1119.2 1095.3L1119.6 1090L1120 1096.6L1120.4 1088.9L1120.8 1097.4L1121.2 1087.2L1121.6 1093.2L1122 1090.1L1122.4 1100.4L1122.8 1086.9L1123.2 1092.4L1123.6 1099.3L1124 1086.3L1124.4 1098.6L1124.8 1102.4L1125.2 1092.1L1125.6 1095.9L1126 1089.4L1126.4 1094L1126.8 1088.2L1127.2 1098.5L1127.6 1098.2L1128 1101.1L1128.4 1098.6L1128.8 1100.1L1129.2 1093.2L1129.6 1105L1130 1089.2L1130.4 1098.3L1130.8 1092.8L1131.2 1093.3L1131.6 1096.3L1132 1086.4L1132.4 1093.4L1132.8 1089.2L1133.2 1098L1133.6 1093.2L1134 1098.3L1134.4 1099.1L1134.8 1101.8L1135.2 1097.9L1135.6 1088.1L1136 1094.7L1136.4 1102.3L1136.8 1093.4L1137.2 1104.5L1137.6 1107.7L1138 1097.6L1138.4 1094.7L1138.8 1108.8L1139.2 1094.9L1139.6 1106L1140 1097.4L1140.4 1095.4L1140.8 1110.4L1141.2 1101.2L1141.6 1097L1142 1093L1142.4 1104.5L1142.8 1095.4L1143.2 1094.9L1143.6 1097.5L1144 1105.2L1144.4 1100.1L1144.8 1106.6L1145.2 1097.5L1145.6 1103.9L1146 1095.4L1146.4 1096.1L1146.8 1105.4L1147.2 1105.3L1147.6 1093.4L1148 1101.3L1148.4 1102.4L1148.8 1088L1149.2 1096.9L1149.6 1096L1150 1099.2L1150.4 1092.3L1150.8 1086.7L1151.2 1095.6L1151.6 1087.6L1152 1088.6L1152.4 1099L1152.8 1104.6L1153.2 1096.6L1153.6 1102.5L1154 1098.7L1154.4 1095.9L1154.8 1099.5L1155.2 1095.2L1155.6 1099.4L1156 1105.1L1156.4 1102L1156.8 1100.1L1157.2 1093.3L1157.6 1102.6L1158 1090.1L1158.4 1100.4L1158.8 1103.8L1159.2 1084.1L1159.6 1100.6L1160 1100.7L1160.4 1101.5L1160.8 1092.9L1161.2 1107.9L1161.6 1104.4L1162 1104.8L1162.4 1097.1L1162.8 1098.9L1163.2 1094.3L1163.6 1089.3L1164 1092.3L1164.4 1106.7L1164.8 1101.2L1165.2 1095.6L1165.6 1089.3L1166 1099.9L1166.4 1107.2L1166.8 1095.4L1167.2 1100.3L1167.6 1099.6L1168 1110.4L1168.4 1096.7L1168.8 1099.8L1169.2 1096.1L1169.6 1098.3L1170 1101L1170.4 1106.8L1170.8 1099.4L1171.2 1103.8L1171.6 1092L1172 1101L1172.4 1105.7L1172.8 1082.7L1173.2 1088.4L1173.6 1098.3L1174 1093.7L1174.4 1105.8L1174.8 1098.1L1175.2 1105.4L1175.6 1106.2L1176 1104.5L1176.4 1104.1L1176.8 1105.9L1177.2 1083.6L1177.6 1101.7L1178 1090.7L1178.4 1101.5L1178.8 1088.7L1179.2 1097.4L1179.6 1106.4L1180 1105.2L1180.4 1093.2L1180.8 1097L1181.2 1096.4L1181.6 1087.6L1182 1105.1L1182.4 1091.3L1182.8 1086.3L1183.2 1095L1183.6 1093.4L1184 1094.5L1184.4 1096.8L1184.8 1089.3L1185.2 1096.7L1185.6 1098L1186 1105.1L1186.4 1100.1L1186.8 1093.4L1187.2 1101.1L1187.6 1101.5L1188 1097.5L1188.4 1083.1L1188.8 1094.1L1189.2 1087.5L1189.6 1101L1190 1086.9L1190.4 1094.3L1190.8 1098.1L1191.2 1094.8L1191.6 1098.2L1192 1100L1192.4 1107.9L1192.8 1096L1193.2 1088.7L1193.6 1106.4L1194 1093.1L1194.4 1091.6L1194.8 1100.5L1195.2 1097.2L1195.6 1097.9L1196 1088.3L1196.4 1095.3L1196.8 1102.1L1197.2 1100.6L1197.6 1093.3L1198 1091.6L1198.4 1095.9L1198.8 1102.4L1199.2 1099.9L1199.6 1103.6L1200 1101.2L1200.4 1102.8L1200.8 1097.2L1201.2 1100.2L1201.6 1108.9L1202 1091L1202.4 1096.2L1202.8 1096.7L1203.2 1093.6L1203.6 1094.2L1204 1091.7L1204.4 1100.5L1204.8 1102.2L1205.2 1094.7L1205.6 1088.4L1206 1099.3L1206.4 1095L1206.8 1097.6L1207.2 1091.7L1207.6 1101.5L1208 1097.5L1208.4 1096.2L1208.8 1103.2L1209.2 1097.6L1209.6 1092.7L1210 1089.9L1210.4 1095.6L1210.8 1099.3L1211.2 1095.1L1211.6 1094.8L1212 1092.1L1212.4 1099.5L1212.8 1104.9L1213.2 1095.9L1213.6 1104.6L1214 1099L1214.4 1098.1L1214.8 1103.9L1215.2 1098.7L1215.6 1087.9L1216 1112.1L1216.4 1094.3L1216.8 1100.7L1217.2 1099L1217.6 1104.5L1218 1100.3L1218.4 1095.4L1218.8 1096.6L1219.2 1096.6L1219.6 1097.9L1220 1109.9L1220.4 1103.5L1220.8 1093.5L1221.2 1096.7L1221.6 1107.9L1222 1097.4L1222.4 1096.9L1222.8 1089.4L1223.2 1111.6L1223.6 1102.1L1224 1091.8L1224.4 1086.5L1224.8 1104.9L1225.2 1106.5L1225.6 1092.6L1226 1098.3L1226.4 1100.8L1226.8 1096.2L1227.2 1094.9L1227.6 1103L1228 1092.8L1228.4 1104.1L1228.8 1094.6L1229.2 1095.4L1229.6 1089.8L1230 1087.6L1230.4 1099L1230.8 1089.7L1231.2 1099L1231.6 1098.4L1232 1103.4L1232.4 1096.4L1232.8 1095.8L1233.2 1101.4L1233.6 1101.4L1234 1101L1234.4 1094.3L1234.8 1100.9L1235.2 1101.9L1235.6 1097.4L1236 1102L1236.4 1092.2L1236.8 1094.4L1237.2 1099.2L1237.6 1091.4L1238 1091.8L1238.4 1098.7L1238.8 1098.6L1239.2 1098.9L1239.6 1100.8L1240 1098.6L1240.4 1093.1L1240.8 1110.4L1241.2 1093.9L1241.6 1108.4L1242 1092.9L1242.4 1098.5L1242.8 1100.7L1243.2 1102L1243.6 1101.5L1244 1102.4L1244.4 1104.7L1244.8 1092.4L1245.2 1098L1245.6 1098.1L1246 1097.8L1246.4 1101.7L1246.8 1101.8L1247.2 1103.7L1247.6 1099.1L1248 1095L1248.4 1092.6L1248.8 1103.2L1249.2 1106.5L1249.6 1097.4L1250 1094.2L1250.4 1091.4L1250.8 1091.1L1251.2 1097.5L1251.6 1095.7L1252 1098.2L1252.4 1097.2L1252.8 1093.5L1253.2 1100.1L1253.6 1098.1L1254 1094.7L1254.4 1095.3L1254.8 1110.8L1255.2 1094.7L1255.6 1101.5L1256 1107.7L1256.4 1093.4L1256.8 1095.4L1257.2 1099.6L1257.6 1092.9L1258 1101.7L1258.4 1094.5L1258.8 1088.1L1259.2 1095.9L1259.6 1096.7L1260 1106.3L1260.4 1084.5L1260.8 1101.6L1261.2 1091.9L1261.6 1095L1262 1093.7L1262.4 1087.5L1262.8 1093.3L1263.2 1101.9L1263.6 1098.9L1264 1092.5L1264.4 1095.3L1264.8 1104L1265.2 1098.3L1265.6 1094L1266 1091.5L1266.4 1100.6L1266.8 1093.3L1267.2 1090.9L1267.6 1098.7L1268 1103.5L1268.4 1090.5L1268.8 1102.6L1269.2 1095.4L1269.6 1093.7L1270 1094.7L1270.4 1097.7L1270.8 1105.5L1271.2 1097.9L1271.6 1107.6L1272 1108.9L1272.4 1105.3L1272.8 1106.4L1273.2 1097L1273.6 1099.4L1274 1093.6L1274.4 1098.6L1274.8 1099.6L1275.2 1108.8L1275.6 1101.3L1276 1093.7L1276.4 1105L1276.8 1104.3L1277.2 1103.9L1277.6 1098.9L1278 1102.3L1278.4 1097.5L1278.8 1107.5L1279.2 1100.8L1279.6 1106.8L1280 1101L1280.4 1099.2L1280.8 1103.8L1281.2 1091.6L1281.6 1095L1282 1092.8L1282.4 1093.7L1282.8 1108L1283.2 1105.4L1283.6 1093.3L1284 1099.6L1284.4 1100.2L1284.8 1107.5L1285.2 1105.6L1285.6 1103.9L1286 1098.3L1286.4 1098.6L1286.8 1091.5L1287.2 1102.5L1287.6 1097.1L1288 1095.3L1288.4 1100.1L1288.8 1095.6L1289.2 1104.8L1289.6 1111.9L1290 1099.4L1290.4 1109.5L1290.8 1104.6L1291.2 1101.8L1291.6 1102.4L1292 1103.3L1292.4 1092.2L1292.8 1098.8L1293.2 1102.6L1293.6 1092.7L1294 1095.7L1294.4 1099.6L1294.8 1113.9L1295.2 1108.3L1295.6 1110.7L1296 1111.5L1296.4 1094.8L1296.8 1090.9L1297.2 1108.7L1297.6 1102.6L1298 1085.3L1298.4 1105L1298.8 1106.5L1299.2 1108.8L1299.6 1095.6L1300 1093.9L1300.4 1103L1300.8 1100.5L1301.2 1106.6L1301.6 1108.8L1302 1097.5L1302.4 1098.4L1302.8 1106.2L1303.2 1090.6L1303.6 1101.8L1304 1105.4L1304.4 1107.1L1304.8 1097.5L1305.2 1093.1L1305.6 1104.8L1306 1095.9L1306.4 1097.2L1306.8 1112.2L1307.2 1103L1307.6 1100.6L1308 1089.3L1308.4 1097.2L1308.8 1100.2L1309.2 1092.1L1309.6 1108.1L1310 1102.1L1310.4 1093.3L1310.8 1099.4L1311.2 1105.9L1311.6 1101.5L1312 1102L1312.4 1094.1L1312.8 1091.6L1313.2 1107.6L1313.6 1104.4L1314 1102.2L1314.4 1099.3L1314.8 1097.1L1315.2 1102.3L1315.6 1109.9L1316 1087.3L1316.4 1095.1L1316.8 1099.9L1317.2 1093L1317.6 1107.8L1318 1099.8L1318.4 1100.9L1318.8 1089.7L1319.2 1101.4L1319.6 1104L1320 1100.3L1320.4 1104.3L1320.8 1104.4L1321.2 1104.1L1321.6 1091.7L1322 1096.8L1322.4 1096L1322.8 1091.6L1323.2 1096.4L1323.6 1104.1L1324 1104.4L1324.4 1096.8L1324.8 1100.3L1325.2 1101.6L1325.6 1103L1326 1103.8L1326.4 1097.3L1326.8 1092.1L1327.2 1105.4L1327.6 1095.4L1328 1098.7L1328.4 1096.3L1328.8 1097L1329.2 1102.3L1329.6 1099.7L1330 1090L1330.4 1091.1L1330.8 1098L1331.2 1105.1L1331.6 1107.8L1332 1098.5L1332.4 1105.7L1332.8 1108.2L1333.2 1099.5L1333.6 1092.2L1334 1100.3L1334.4 1098.4L1334.8 1102.2L1335.2 1091.9L1335.6 1102.8L1336 1099.4L1336.4 1113.1L1336.8 1107.8L1337.2 1106.7L1337.6 1096.3L1338 1097.5L1338.4 1112.2L1338.8 1107L1339.2 1091.8L1339.6 1100.5L1340 1101.4L1340.4 1100.1L1340.8 1100.5L1341.2 1101L1341.6 1098L1342 1090.3L1342.4 1108.1L1342.8 1096.5L1343.2 1110.1L1343.6 1093L1344 1106.8L1344.4 1095.8L1344.8 1104.3L1345.2 1110L1345.6 1097.6L1346 1097.7L1346.4 1102.2L1346.8 1101.2L1347.2 1100.4L1347.6 1111.3L1348 1103.9L1348.4 1097.5L1348.8 1101.4L1349.2 1101.3L1349.6 1103.3L1350 1100.4L1350.4 1096.7L1350.8 1104.7L1351.2 1093.2L1351.6 1085.9L1352 1098.4L1352.4 1102.9L1352.8 1108L1353.2 1093.9L1353.6 1100.3L1354 1088.8L1354.4 1100.8L1354.8 1103.2L1355.2 1097.6L1355.6 1103.6L1356 1099.4L1356.4 1096L1356.8 1108.6L1357.2 1094.1L1357.6 1096.7L1358 1086.3L1358.4 1102.1L1358.8 1096.2L1359.2 1095.4L1359.6 1103.5L1360 1095.6L1360.4 1099.8L1360.8 1100.4L1361.2 1104.4L1361.6 1093.6L1362 1092.7L1362.4 1094.6L1362.8 1099.6L1363.2 1094L1363.6 1108.5L1364 1108.8L1364.4 1112.7L1364.8 1091.2L1365.2 1092.1L1365.6 1102L1366 1093.8L1366.4 1099.4L1366.8 1100.3L1367.2 1103L1367.6 1101.7L1368 1101L1368.4 1100.4L1368.8 1092.9L1369.2 1108.6L1369.6 1095.1L1370 1105.6L1370.4 1105.8L1370.8 1110.9L1371.2 1103.3L1371.6 1100.6L1372 1100.5L1372.4 1101.7L1372.8 1111.6L1373.2 1099L1373.6 1108.3L1374 1095.6L1374.4 1103.6L1374.8 1098.1L1375.2 1094.5L1375.6 1102L1376 1105.3L1376.4 1097.5L1376.8 1096.4L1377.2 1108.9L1377.6 1092.3L1378 1101.2L1378.4 1107.4L1378.8 1106L1379.2 1096.7L1379.6 1096.9L1380 1085.9L1380.4 1103.3L1380.8 1100.8L1381.2 1101.7L1381.6 1107.3L1382 1100.4L1382.4 1111.5L1382.8 1097.4L1383.2 1097.3L1383.6 1102.5L1384 1093.6L1384.4 1103.1L1384.8 1100.9L1385.2 1099.3L1385.6 1098.7L1386 1104L1386.4 1104.9L1386.8 1099.1L1387.2 1095.3L1387.6 1103.7L1388 1106.1L1388.4 1096.2L1388.8 1103L1389.2 1093.8L1389.6 1095.6L1390 1096.4L1390.4 1101.7L1390.8 1103.8L1391.2 1104.5L1391.6 1105.2L1392 1103.6L1392.4 1099.1L1392.8 1099.3L1393.2 1100.4L1393.6 1090.9L1394 1099L1394.4 1110.3L1394.8 1107.8L1395.2 1102.2L1395.6 1098.6L1396 1090.3L1396.4 1100.7L1396.8 1097.1L1397.2 1110.5L1397.6 1093.1L1398 1106L1398.4 1097.3L1398.8 1101.5L1399.2 1100.5L1399.6 1090.2L1400 1107.1L1400.4 1088L1400.8 1102L1401.2 1092.5L1401.6 1091.4L1402 1103.2L1402.4 1107L1402.8 1097.5L1403.2 1091.4L1403.6 1107.4L1404 1101.8L1404.4 1105.5L1404.8 1098.3L1405.2 1102.4L1405.6 1094.4L1406 1095.8L1406.4 1093.1L1406.8 1100.7L1407.2 1090.8L1407.6 1113.7L1408 1102.6L1408.4 1091.4L1408.8 1104L1409.2 1104.6L1409.6 1093.9L1410 1101.8L1410.4 1103.7L1410.8 1097.3L1411.2 1101.7L1411.6 1115.3L1412 1103.8L1412.4 1100L1412.8 1099.9L1413.2 1104.7L1413.6 1107.3L1414 1107.7L1414.4 1105.9L1414.8 1088.6L1415.2 1090.6L1415.6 1093.3L1416 1097.4L1416.4 1099.6L1416.8 1099.7L1417.2 1092L1417.6 1095.9L1418 1093.2L1418.4 1109.6L1418.8 1091.7L1419.2 1098.6L1419.6 1101.8L1420 1105.2L1420.4 1101.5L1420.8 1105.1L1421.2 1104.2L1421.6 1099.8L1422 1096L1422.4 1105L1422.8 1101.2L1423.2 1105.8L1423.6 1109L1424 1101.5L1424.4 1101.3L1424.8 1101.6L1425.2 1102L1425.6 1100.5L1426 1107.6L1426.4 1100.5L1426.8 1098.5L1427.2 1101.4L1427.6 1110.1L1428 1101.9L1428.4 1108L1428.8 1102.2L1429.2 1106.7L1429.6 1102.5L1430 1101.1L1430.4 1105L1430.8 1101.3L1431.2 1096L1431.6 1108.2L1432 1095.1L1432.4 1092.6L1432.8 1101.4L1433.2 1107.8L1433.6 1108.8L1434 1092.9L1434.4 1097.7L1434.8 1096.8L1435.2 1100.4L1435.6 1105.2L1436 1102.1L1436.4 1111.7L1436.8 1103.1L1437.2 1101.2L1437.6 1096.1L1438 1095.2L1438.4 1106.6L1438.8 1111.6L1439.2 1109.8L1439.6 1100.9L1440 1098.8L1440.4 1101L1440.8 1103.2L1441.2 1098.6L1441.6 1096.7L1442 1104.7L1442.4 1087.2L1442.8 1105.4L1443.2 1100.7L1443.6 1100.1L1444 1098L1444.4 1104.4L1444.8 1100.8L1445.2 1100.5L1445.6 1104.8L1446 1100.3L1446.4 1109.2L1446.8 1097.2L1447.2 1106.4L1447.6 1102.3L1448 1107.8L1448.4 1102L1448.8 1097.6L1449.2 1100.8L1449.6 1098L1450 1098.1L1450.4 1105.4L1450.8 1097.2L1451.2 1094.5L1451.6 1100.7L1452 1089.8L1452.4 1097.5L1452.8 1106.6L1453.2 1103.3L1453.6 1099.3L1454 1091.3L1454.4 1091.7L1454.8 1102.4L1455.2 1099.5L1455.6 1099.9L1456 1088L1456.4 1106.3L1456.8 1101.7L1457.2 1100.7L1457.6 1104.8L1458 1110.8L1458.4 1099.9L1458.8 1105.3L1459.2 1107.8L1459.6 1097.5L1460 1109.5L1460.4 1110.8L1460.8 1092.9L1461.2 1104.7L1461.6 1104.5L1462 1099.7L1462.4 1106.2L1462.8 1102.7L1463.2 1099.6L1463.6 1098.2L1464 1107.6L1464.4 1102.4L1464.8 1092L1465.2 1098.4L1465.6 1107L1466 1100.9L1466.4 1100.1L1466.8 1098.6L1467.2 1101.8L1467.6 1105.9L1468 1090.8L1468.4 1106.1L1468.8 1098.9L1469.2 1109.2L1469.6 1105.6L1470 1101.5L1470.4 1101.7L1470.8 1100L1471.2 1098.6L1471.6 1107.5L1472 1108.8L1472.4 1101.2L1472.8 1105.1L1473.2 1100.3L1473.6 1091.5L1474 1107L1474.4 1093.5L1474.8 1097L1475.2 1096.7L1475.6 1115L1476 1101.6L1476.4 1103.9L1476.8 1113.6L1477.2 1101.1L1477.6 1100.9L1478 1099.3L1478.4 1099L1478.8 1096.7L1479.2 1111.4L1479.6 1104.5L1480 1101.5L1480.4 1095.6L1480.8 1098.8L1481.2 1110.9L1481.6 1109.6L1482 1096.7L1482.4 1099.9L1482.8 1112.4L1483.2 1102.3L1483.6 1107.2L1484 1103L1484.4 1101.4L1484.8 1091.5L1485.2 1091.7L1485.6 1106.6L1486 1101.6L1486.4 1096.9L1486.8 1103.4L1487.2 1101.1L1487.6 1094.8L1488 1091.3L1488.4 1100.5L1488.8 1095.9L1489.2 1095.3L1489.6 1099.5L1490 1091.7L1490.4 1094.2L1490.8 1102.6L1491.2 1104.4L1491.6 1101.3L1492 1101.1L1492.4 1111.1L1492.8 1108.3L1493.2 1098.3L1493.6 1097.2L1494 1101.3L1494.4 1108.4L1494.8 1104.5L1495.2 1105.3L1495.6 1091.1L1496 1102.2L1496.4 1103.6L1496.8 1103.3L1497.2 1095.8L1497.6 1096.6L1498 1100.8L1498.4 1099.8L1498.8 1088L1499.2 1106.1L1499.6 1100.3L1500 1102.2L1500.4 1097.7L1500.8 1102.5L1501.2 1110.4L1501.6 1097.8L1502 1107.5L1502.4 1093.6L1502.8 1095.6L1503.2 1100.8L1503.6 1098.8L1504 1096.9L1504.4 1094.8L1504.8 1090.4L1505.2 1105.9L1505.6 1108.8L1506 1094.7L1506.4 1097.7L1506.8 1099.1L1507.2 1106.4L1507.6 1106L1508 1093.6L1508.4 1097.6L1508.8 1096.8L1509.2 1094.8L1509.6 1097.6L1510 1097.4L1510.4 1107.5L1510.8 1104.1L1511.2 1097.6L1511.6 1105.8L1512 1095.2L1512.4 1104.4L1512.8 1104.6L1513.2 1105.3L1513.6 1100.8L1514 1104.7L1514.4 1092.7L1514.8 1094L1515.2 1102.5L1515.6 1100.2L1516 1100.1L1516.4 1097.8L1516.8 1101.2L1517.2 1099.3L1517.6 1093.1L1518 1099.3L1518.4 1102.4L1518.8 1106L1519.2 1095.9L1519.6 1101.9L1520 1096.6"/></g>
<g clip-path="url(#cp5)" shape-rendering="crispEdges"><path class="c" stroke="#FF0000" stroke-width="10.5" d="M166 1349.1L167 1348L168 1348.6L169 1348.9L170 1348.1L171 1348.5L172 1348.3L173 1349.1L174 1348.3L175 1348.8L176 1348.2L177 1348.9L178 1348.1L179 1347.9L180 1348.3L181 1349.6L182 1348.2L183 1347.4L184 1347.6L185 1349.7L186 1348L187 1348L188 1348.2L189 1348.9L190 1348.3L191 1348.1L192 1347.8L193 1347.2L194 1347.5L195 1347.1L196 1346.4L197 1345.6L198 1347.7L199 1347.4L200 1347L201 1346.8L202 1346.4L203 1345.5L204 1345.2L205 1345.4L206 1345.2L207 1344.9L208 1344.4L209 1345.3L210 1345.1L211 1345.5L212 1345.3L213 1343.7L214 1344.2L215 1343.6L216 1343.7L217 1344.5L218 1344.1L219 1343.2L220 1343.3L221 1342.9L222 1342.3L223 1342.1L224 1341.7L225 1343L226 1341.4L227 1341.6L228 1341.7L229 1341.3L230 1342.7L231 1342.1L232 1340.5L233 1341.3L234 1342.5L235 1341.7L236 1342.2L237 1342.4L238 1342.5L239 1342.1L240 1342.6L241 1342.9L242 1342.5L243 1343.3L244 1343.4L245 1343.7L246 1344.1L247 1343.8L248 1343.4L249 1344.7L250 1344.6L251 1343.9L252 1344L253 1345.1L254 1345.3L255 1344.1L256 1345L257 1345L258 1345.3L259 1345.9L260 1346.7L261 1345.3L262 1346.8L263 1346.6L264 1347.4L265 1346.2L266 1346.4L267 1346.9L268 1346.6L269 1347.5L270 1346.8L271 1347.2L272 1346.9L273 1346.2L274 1347.2L275 1346.5L276 1346.8L277 1346.8L278 1347.2L279 1346.1L280 1347.7L281 1347.5L282 1347L283 1346.4L284 1346.4L285 1346.9L286 1346.6L287 1347.1L288 1347.3L289 1347.5L290 1347.2L291 1346.5L292 1348.2L293 1348.3L294 1346.7L295 1347L296 1348.6L297 1348.1L298 1347.4L299 1347.7L300 1346.5L301 1347.3L302 1348.1L303 1346.2L304 1347.7L305 1346.8L306 1348.5L307 1346.7L308 1346.7L309 1347.1L310 1347L311 1347.6L312 1348.2L313 1346.7L314 1347.3L315 1347.8L316 1347L317 1348L318 1347.9L319 1348L320 1347.7L321 1348.2L322 1348.6L323 1347.8L324 1348.6L325 1348.1L326 1347L327 1348.8L328 1348.3L329 1348.9L330 1347.9L331 1348.2L332 1347.9L333 1347.5L334 1348.5L335 1349.3L336 1348.5L337 1348.3L338 1348.1L339 1347.7L340 1348.7L341 1348.9L342 1348.4L343 1348.4L344 1348.3L345 1348.1L346 1349.6L347 1349.2L348 1348.8L349 1348.2L350 1348.6L351 1349.5L352 1349.5L353 1350.5L354 1349.5L355 1349.1L356 1349.1L357 1348L358 1349.6L359 1348.2L360 1349.2L361 1349L362 1349.6L363 1349.7L364 1349.8L365 1349.8L366 1349.5L367 1349.8L368 1349.7L369 1348.9L370 1349.8L371 1349.2L372 1349.7L373 1349.9L374 1349.2L375 1348.8L376 1350L377 1349.2L378 1349.3L379 1349.9L380 1349L381 1349.4L382 1349.6L383 1348.7L384 1348.8L385 1349.2L386 1349.8L387 1348.2L388 1349.6L389 1349.7L390 1348.9L391 1349.1L392 1348.2L393 1349.6L394 1348.8L395 1349.3L396 1348.4L397 1349.7L398 1348.7L399 1349L400 1349.5L401 1349.2L402 1348.5L403 1349L404 1349.3L405 1349L406 1349L407 1348.8L408 1348.8L409 1348.8L410 1348.4L411 1349.1L412 1349.2L413 1348.5L414 1348.5L415 1348.5L416 1348.4L417 1348.9L418 1349.1L419 1349L420 1349.2L421 1348.1L422 1349.1L423 1348.4L424 1348.6L425 1348.2L426 1348L427 1348.2L428 1347.8L429 1347.8L430 1347.4L431 1348.8L432 1349.1L433 1348.2L434 1347.3L435 1348.1L436 1348.9L437 1347.3L438 1348.8L439 1348.1L440 1346.4L441 1348L442 1347.7L443 1347.3L444 1346.5L445 1347L446 1348.2L447 1346.8L448 1346.1L449 1347.2L450 1346.8L451 1346.2L452 1346.8L453 1346L454 1346L455 1345.5L456 1346.6L457 1345.7L458 1345L459 1346.3L460 1345.4L461 1344.9L462 1345.2L463 1344L464 1344.1L465 1343.8L466 1344.2L467 1343.2L468 1343.3L469 1342.7L470 1342.3L471 1341.4L472 1341.6L473 1339.7L474 1339.9L475 1338.7L476 1339.5L477 1338.8L478 1336.9L479 1336.9L480 1335.2L481 1335.3L482 1333.3L483 1333.5L484 1331.5L485 1330L486 1327.3L487 1324.5L488 1322.9L489 1320.6L490 1317.6L491 1314.1L492 1310.3L493 1306L494 1302.8L495 1295.9L496 1289.7L497 1281.8L498 1276.5L499 1268.4L500 1260.5L501 1253.1L502 1246.9L503 1243.4L504 1239.9L505 1241.2L506 1243.4L507 1247.2L508 1252.9L509 1261.5L510 1268.5L511 1276.1L512 1283.8L513 1291.3L514 1295.1L515 1301.1L516 1306.2L517 1311.8L518 1314.6L519 1318.8L520 1322L521 1323.4L522 1325.9L523 1328.1L524 1330.1L525 1331.4L526 1333.1L527 1333L528 1334.9L529 1335.6L530 1337.8L531 1337.8L532 1338.4L533 1339.5L534 1340.8L535 1341.8L536 1340.8L537 1341.8L538 1343L539 1342.5L540 1344L541 1343.5L542 1344.8L543 1344.9L544 1344.7L545 1344.6L546 1344.4L547 1345.2L548 1346.7L549 1345L550 1346.1L551 1346L552 1346.6L553 1346.3L554 1346.7L555 1346.5L556 1347.6L557 1346.7L558 1346.8L559 1348.3L560 1347.3L561 1347.8L562 1347.1L563 1347.4L564 1348L565 1347.4L566 1347.6L567 1347.1L568 1347.1L569 1345.9L570 1345.2L571 1342.2L572 1341.9L573 1340.9L574 1341.2L575 1344.3L576 1345.4L577 1347.6L578 1348.6L579 1348.7L580 1348.6L581 1348.8L582 1348.8L583 1347.9L584 1347.6L585 1347.2L586 1346.7L587 1348.1L588 1348.6L589 1350.8L590 1350.1L591 1351.3L592 1351.2L593 1350.2L594 1351.2L595 1351.9L596 1351.8L597 1353.3L598 1352.3L599 1352.9L600 1352.8L601 1352.8L602 1353L603 1353.4L604 1353.4L605 1352.7L606 1353.3L607 1353.2L608 1353.6L609 1353.4L610 1354L611 1353L612 1353.3L613 1354.6L614 1354L615 1354.8L616 1354.5L617 1354L618 1354.9L619 1354.3L620 1354.2L621 1355.3L622 1354.1L623 1355.2L624 1354.8L625 1354L626 1354.8L627 1354.2L628 1354.6L629 1355.1L630 1355.8L631 1354.1L632 1355.7L633 1355.5L634 1355.7L635 1355.7L636 1356.4L637 1356.1L638 1355.7L639 1354.4L640 1355.5L641 1355.8L642 1355.9L643 1355.4L644 1356.6L645 1355.9L646 1355.4L647 1356.4L648 1355.3L649 1356.4L650 1356.4L651 1356.3L652 1356.8L653 1356.1L654 1356.1L655 1356.2L656 1356.7L657 1355.7L658 1356.5L659 1357.4L660 1357.7L661 1356.8L662 1357.4L663 1356.9L664 1356.8L665 1357.1L666 1356.9L667 1356.1L668 1356.7L669 1356.7L670 1356.9L671 1356.8L672 1357.2L673 1356.8L674 1357.2L675 1356.7L676 1356.8L677 1356.7L678 1356.4L679 1356.7L680 1357.6L681 1357.6L682 1356.8L683 1357.9L684 1357.4L685 1357.3L686 1356.6L687 1356.6L688 1356.9L689 1357.6L690 1357L691 1357.6L692 1357.2L693 1357.8L694 1358.1L695 1357.4L696 1356.7L697 1357.5L698 1357.2L699 1357.8L700 1357.7L701 1356.9L702 1357.4L703 1357.9L704 1358.2L705 1357.8L706 1357.6L707 1357.6L708 1358.7L709 1357.3L710 1358.2L711 1357.6L712 1358.1L713 1357.9L714 1358.4L715 1357.1L716 1357.6L717 1358.7L718 1358.1L719 1357.4L720 1358.3L721 1357.8L722 1358.8L723 1357.6L724 1358.4L725 1358.2L726 1357.7L727 1357.4L728 1358.7L729 1359L730 1358.2L731 1357L732 1358.5L733 1359.8L734 1357.4L735 1357.2L736 1358.4L737 1358.4L738 1358.2L739 1358.5L740 1359.2L741 1357.5L742 1359.4L743 1359.3L744 1359.7L745 1358.2L746 1358.6L747 1357.9L748 1358.4L749 1358.5L750 1357.5L751 1358L752 1358.8L753 1358.1L754 1358.8L755 1359.2L756 1358.6L757 1358L758 1358L759 1358.4L760 1358.8L761 1359.4L762 1358.7L763 1358.6L764 1358.6L765 1360L766 1359.4L767 1358.8L768 1357.1L769 1359.7L770 1359.2L771 1358.8L772 1358.1L773 1359.3L774 1360L775 1357.7L776 1359.3L777 1358.7L778 1359.2L779 1357.9L780 1359.1L781 1358.5L782 1358.4L783 1360L784 1358.3L785 1358.9L786 1360.1L787 1359.1L788 1358.5L789 1358L790 1357.5L791 1358.6L792 1357.9L793 1358.8L794 1359.1L795 1359.1L796 1357.9L797 1358.7L798 1358.7L799 1359.4L800 1358.6L801 1358.7L802 1358L803 1359.1L804 1358.9L805 1358.6L806 1358.8L807 1358.6L808 1359.6L809 1359.5L810 1358.6L811 1358.8L812 1358.8L813 1360.3L814 1359.3L815 1358.9L816 1358.9L817 1358.1L818 1358.9L819 1358.8L820 1358.6L821 1359L822 1359.2L823 1358.4L824 1359.1L825 1358.3L826 1359.9L827 1359.3L828 1357.7L829 1358.9L830 1358.7L831 1360.4L832 1359.1L833 1359.7L834 1359.3L835 1360.1L836 1359.3L837 1358.4L838 1359L839 1358.5L840 1358.6L841 1358.3L842 1358.4L843 1359.3L844 1358.5L845 1357.8L846 1357.4L847 1357.7L848 1357.6L849 1357.7L850 1357.5L851 1357.3L852 1358.4L853 1358.1L854 1359.3L855 1358.9L856 1360.2L857 1358.9L858 1358.4L859 1359.1L860 1359.2L861 1359.2L862 1358.2L863 1359.2L864 1359.4L865 1360.5L866 1359L867 1359L868 1359.9L869 1360.2L870 1360L871 1359.7L872 1359.9L873 1359.1L874 1358.7L875 1359.1L876 1360.9L877 1359.8L878 1358.7L879 1359.8L880 1359.1L881 1359.9L882 1359.9L883 1359.1L884 1358.6L885 1359.9L886 1359.6L887 1359L888 1358.2L889 1359.6L890 1359.1L891 1359.9L892 1359.4L893 1359.5L894 1359L895 1359.1L896 1360L897 1360.5L898 1360.2L899 1358.4L900 1359.2L901 1359.2L902 1359.2L903 1358.4L904 1359.2L905 1358.6L906 1360.3L907 1359.4L908 1360.6L909 1359.7L910 1359.4L911 1359.8L912 1359.6L913 1360.9L914 1360.2L915 1359L916 1359.9L917 1360.4L918 1359.7L919 1360.2L920 1359.6L921 1359.2L922 1359.4L923 1360L924 1360L925 1359.7L926 1358.6L927 1360.6L928 1359.5L929 1359.6L930 1359.3L931 1360.3L932 1359.7L933 1360.4L934 1359.9L935 1360L936 1359.7L937 1359.2L938 1360.7L939 1360L940 1360.7L941 1361.3L942 1359.4L943 1360.4L944 1359.9L945 1359.5L946 1359.6L947 1360.5L948 1361.1L949 1359.6L950 1360L951 1360L952 1359.5L953 1360.7L954 1360.3L955 1360L956 1359.8L957 1359.9L958 1360.3L959 1358.9L960 1360.8L961 1359.9L962 1360.2L963 1360.1L964 1359.5L965 1360.8L966 1359.9L967 1360.1L968 1360.3L969 1358.8L970 1361.3L971 1360.7L972 1358.9L973 1360.4L974 1359.6L975 1360.8L976 1359.4L977 1360.3L978 1359.9L979 1360.6L980 1360.4L981 1360.2L982 1360.5L983 1360.8L984 1360.6L985 1361.9L986 1359.8L987 1360L988 1361.2L989 1359.9L990 1360.7L991 1361.5L992 1359.6L993 1361.2L994 1361.9L995 1360.5L996 1359.4L997 1359.6L998 1360.2L999 1361.9L1000 1361L1001 1360.6L1002 1361.1L1003 1360.9L1004 1360.7L1005 1360L1006 1361.9L1007 1361.1L1008 1360.5L1009 1360.8L1010 1361L1011 1362.2L1012 1360.8L1013 1360.8L1014 1360.8L1015 1361.4L1016 1361.3L1017 1360.3L1018 1361.6L1019 1360.1L1020 1361.3L1021 1361.8L1022 1360.2L1023 1361.1L1024 1360.1L1025 1361.6L1026 1361.1L1027 1361.6L1028 1360.9L1029 1360.7L1030 1360.2L1031 1361.6L1032 1361L1033 1360.9L1034 1359.9L1035 1361.4L1036 1361.8L1037 1361.2L1038 1360.9L1039 1361.2L1040 1362.5L1041 1361.4L1042 1360.8L1043 1362.2L1044 1361.1L1045 1360.1L1046 1361.4L1047 1362.1L1048 1361L1049 1361.1L1050 1362.7L1051 1361L1052 1361.7L1053 1361.4L1054 1362.2L1055 1361.5L1056 1361.1L1057 1362.6L1058 1361.5L1059 1361.6L1060 1362L1061 1360.8L1062 1361.5L1063 1361.8L1064 1361.9L1065 1361.1L1066 1361.2L1067 1361.5L1068 1361.4L1069 1362.1L1070 1362.1L1071 1361.9L1072 1361.5L1073 1361.9L1074 1361.4L1075 1360.8L1076 1362.8L1077 1361.2L1078 1361.3L1079 1362L1080 1360.7L1081 1360.3L1082 1361L1083 1361.2L1084 1363.2L1085 1361.7L1086 1362.7L1087 1362.2L1088 1361.9L1089 1362.6L1090 1361.1L1091 1361.5L1092 1361.5L1093 1362.4L1094 1361.5L1095 1362.1L1096 1361.1L1097 1361.4L1098 1361.5L1099 1362.5L1100 1361.7L1101 1362.9L1102 1362.4L1103 1361.9L1104 1362.7L1105 1362.7L1106 1361.1L1107 1362.5L1108 1363.2L1109 1363.1L1110 1362L1111 1361.1L1112 1360.9L1113 1361.1L1114 1362.2L1115 1362.6L1116 1361.5L1117 1363.6L1118 1362.5L1119 1363.2L1120 1362.1L1121 1363.7L1122 1362.9L1123 1362.8L1124 1361.9L1125 1362L1126 1363.9L1127 1362L1128 1362.7L1129 1363.1L1130 1362.2L1131 1362.6L1132 1362.9L1133 1363.1L1134 1363.6L1135 1362.2L1136 1363L1137 1363.3L1138 1362.2L1139 1361.9L1140 1362.8L1141 1363.8L1142 1363L1143 1361.7L1144 1362.3L1145 1362.5L1146 1362.1L1147 1363.2L1148 1363.7L1149 1363.1L1150 1363.4L1151 1363.7L1152 1363.3L1153 1362.7L1154 1362.2L1155 1362.1L1156 1363.5L1157 1361.9L1158 1362.3L1159 1361.9L1160 1362.4L1161 1363L1162 1361.9L1163 1362.7L1164 1361.7L1165 1362.2L1166 1362.1L1167 1363.1L1168 1363.4L1169 1362.4L1170 1362.8L1171 1361.7L1172 1361.9L1173 1362.7L1174 1362.9L1175 1362.7L1176 1363.1L1177 1362.2L1178 1362.3L1179 1363L1180 1362.1L1181 1362.3L1182 1362.4L1183 1362.8L1184 1362.1L1185 1363.6L1186 1363.4L1187 1362.6L1188 1361.9L1189 1364.3L1190 1362.7L1191 1363.7L1192 1363L1193 1362.9L1194 1363.2L1195 1362.8L1196 1363.3L1197 1363.2L1198 1362.5L1199 1362.7L1200 1362.9L1201 1363.8L1202 1363.3L1203 1363.4L1204 1362.6L1205 1362.9L1206 1363.1L1207 1361.9L1208 1362.9L1209 1362.1L1210 1362.5L1211 1362.2L1212 1363.5L1213 1362.7L1214 1362.2L1215 1362.6L1216 1362.9L1217 1363L1218 1362.5L1219 1362.5L1220 1362.6L1221 1363.2L1222 1363.3L1223 1364.5L1224 1363L1225 1363.4L1226 1362.8L1227 1363.1L1228 1362.9L1229 1363.2L1230 1362.4L1231 1362.5L1232 1361.9L1233 1362L1234 1363L1235 1363.8L1236 1363L1237 1362.7L1238 1362.1L1239 1362.6L1240 1363L1241 1362.6L1242 1363.4L1243 1363L1244 1363.8L1245 1363.3L1246 1363.7L1247 1363L1248 1362.2L1249 1362.6L1250 1362.4L1251 1364.4L1252 1362.8L1253 1362.8L1254 1362.8L1255 1363.5L1256 1362.5L1257 1363.7L1258 1363.7L1259 1363.5L1260 1363L1261 1363.3L1262 1363.4L1263 1363L1264 1363.3L1265 1362.9L1266 1363.4L1267 1362.7L1268 1363.5L1269 1363.6L1270 1363.8L1271 1362.9L1272 1363.2L1273 1363.5L1274 1363.5L1275 1362.6L1276 1362L1277 1364L1278 1362.2L1279 1364L1280 1362.7L1281 1362.3L1282 1362.7L1283 1362.7L1284 1364.5L1285 1362.9L1286 1363.3L1287 1362.7L1288 1362.6L1289 1363.3L1290 1362.9L1291 1363.1L1292 1364.1L1293 1363.6L1294 1363.5L1295 1364.2L1296 1363.7L1297 1363.2L1298 1362.4L1299 1363.9L1300 1362.8L1301 1363.7L1302 1363.6L1303 1363.6L1304 1363.2L1305 1362.7L1306 1363.5L1307 1363.8L1308 1362.6L1309 1363L1310 1363.8L1311 1363.7L1312 1363.4L1313 1363.7L1314 1363L1315 1362.6L1316 1362.9L1317 1363.4L1318 1362.5L1319 1362.4L1320 1363.3L1321 1363.4L1322 1364.6L1323 1363L1324 1363.7L1325 1363L1326 1363.3L1327 1362.5L1328 1363.5L1329 1363.7L1330 1362.5L1331 1364.3L1332 1364L1333 1364.4L1334 1364L1335 1363.3L1336 1363.4L1337 1363.7L1338 1363.4L1339 1363.9L1340 1364.5L1341 1364.4L1342 1364L1343 1364.2L1344 1363.6L1345 1364.3L1346 1364.1L1347 1363.7L1348 1363.3L1349 1364.2L1350 1363.1L1351 1363.7L1352 1362.7L1353 1364L1354 1364.4L1355 1363.2L1356 1363.8L1357 1363.4L1358 1363L1359 1364L1360 1363.6L1361 1363.7L1362 1362.8L1363 1363.3L1364 1363.5L1365 1364.3L1366 1365L1367 1364L1368 1364.2L1369 1363.4L1370 1363.6L1371 1364.4L1372 1363.6L1373 1364.2L1374 1364.2L1375 1363L1376 1363.7L1377 1363.7L1378 1364.3L1379 1364.1L1380 1364L1381 1363.8L1382 1364.2L1383 1362.3L1384 1365L1385 1364.2L1386 1363.8L1387 1363L1388 1364.1L1389 1363.3L1390 1364.2L1391 1363.9L1392 1362.5L1393 1363.8L1394 1363.2L1395 1362.7L1396 1363.3L1397 1364.1L1398 1363.9L1399 1363.6L1400 1363.3L1401 1364.1L1402 1364L1403 1363.9L1404 1363L1405 1364.2L1406 1364.2L1407 1364.3L1408 1364.2L1409 1363.6L1410 1363.3L1411 1363.1L1412 1363.4L1413 1364.2L1414 1363.3L1415 1363.8L1416 1364.8L1417 1363L1418 1363.8L1419 1364.3L1420 1362.9L1421 1362.4L1422 1364.4L1423 1363.9L1424 1363.8L1425 1364.3L1426 1363.4L1427 1363.8L1428 1363.6L1429 1363.5L1430 1364.1L1431 1363.4L1432 1364L1433 1363.9L1434 1362.7L1435 1364L1436 1364L1437 1363.7L1438 1363L1439 1363.1L1440 1362.6L1441 1363L1442 1364.6L1443 1364.6L1444 1365.4L1445 1363.8L1446 1364.3L1447 1363.2L1448 1363.6L1449 1364.8L1450 1363.5L1451 1362.7L1452 1364.2L1453 1363.4L1454 1364.1L1455 1364.5L1456 1364.7L1457 1364.4L1458 1362.9L1459 1364.8L1460 1363.8L1461 1364.3L1462 1365L1463 1363.3L1464 1364.1L1465 1364.5L1466 1363.8L1467 1363.3L1468 1364.7L1469 1364.4L1470 1363.8L1471 1364.6L1472 1364.9L1473 1365.2L1474 1363.6L1475 1364.8L1476 1364.2L1477 1363.4L1478 1364.6L1479 1363.6L1480 1363.1L1481 1363.3L1482 1364.7L1483 1363.8L1484 1364.8L1485 1364.5L1486 1364.5L1487 1363.2L1488 1364.8L1489 1363.5L1490 1363.1L1491 1364.2L1492 1363.3L1493 1364.3L1494 1363.2L1495 1363.4L1496 1363.9L1497 1364.4L1498 1364.8L1499 1364.4L1500 1363.6L1501 1364.3L1502 1364.3L1503 1364L1504 1363.8L1505 1364.7L1506 1362.7L1507 1363L1508 1365.2L1509 1364.4L1510 1362.7L1511 1363.9L1512 1364L1513 1363.9L1514 1365.5L1515 1363.7L1516 1363.3L1517 1363.1L1518 1364.4L1519 1364L1520 1364.6"/></g>
<g clip-path="url(#cp6)" shape-rendering="crispEdges"><path class="c" stroke="#000000" stroke-width="9.8" d="M166 1544.6L166.4 1538.9L166.8 1545.7L167.2 1547.1L167.6 1546.6L168 1547.9L168.4 1541.8L168.8 1541.1L169.2 1542.3L169.6 1541L170 1548.6L170.4 1544.7L170.8 1536L171.2 1540.7L171.6 1542.6L172 1535.8L172.4 1544L172.8 1538.4L173.2 1536.7L173.6 1539.3L174 1536.7L174.4 1542.5L174.8 1542.1L175.2 1540L175.6 1539.1L176 1541.9L176.4 1537.3L176.8 1541.1L177.2 1539.2L177.6 1542.8L178 1544.5L178.4 1541L178.8 1541.5L179.2 1542.6L179.6 1544.1L180 1542.9L180.4 1542.1L180.8 1542.6L181.2 1537.2L181.6 1535L182 1537.2L182.4 1548.1L182.8 1540.8L183.2 1539.1L183.6 1543L184 1541.9L184.4 1542.8L184.8 1542.5L185.2 1538.4L185.6 1538.5L186 1544.2L186.4 1538.5L186.8 1542.1L187.2 1539.5L187.6 1542.1L188 1543.4L188.4 1539.9L188.8 1545.1L189.2 1540.7L189.6 1540.6L190 1541.8L190.4 1542.6L190.8 1539.9L191.2 1535.7L191.6 1541.6L192 1544.3L192.4 1545.4L192.8 1544.3L193.2 1551.5L193.6 1546.7L194 1543.4L194.4 1546.4L194.8 1547.7L195.2 1548.2L195.6 1548.4L196 1546.7L196.4 1543.9L196.8 1549.7L197.2 1548L197.6 1545.5L198 1543.3L198.4 1546.3L198.8 1544.3L199.2 1542.4L199.6 1547.9L200 1545.7L200.4 1552.1L200.8 1538.5L201.2 1548.8L201.6 1544.5L202 1543.5L202.4 1548.6L202.8 1554.6L203.2 1544.5L203.6 1550.9L204 1552.2L204.4 1550.6L204.8 1547.8L205.2 1548.8L205.6 1556.8L206 1549.3L206.4 1550.3L206.8 1550.5L207.2 1552.3L207.6 1554L208 1554.1L208.4 1548.7L208.8 1546.2L209.2 1550.3L209.6 1545L210 1545.7L210.4 1548L210.8 1546.3L211.2 1547.5L211.6 1551.7L212 1552.6L212.4 1551.9L212.8 1549.1L213.2 1555.2L213.6 1555L214 1545.5L214.4 1550.4L214.8 1553.5L215.2 1549.6L215.6 1553.3L216 1550L216.4 1556L216.8 1548.8L217.2 1547L217.6 1549.5L218 1547.2L218.4 1548.2L218.8 1547.5L219.2 1545.6L219.6 1551.8L220 1549.3L220.4 1549.4L220.8 1544.9L221.2 1553.8L221.6 1545.7L222 1550.8L222.4 1551.7L222.8 1547.3L223.2 1557.7L223.6 1551.4L224 1550.8L224.4 1553.3L224.8 1555L225.2 1553.8L225.6 1549.3L226 1552.6L226.4 1552.2L226.8 1554.6L227.2 1555.3L227.6 1552.3L228 1553.1L228.4 1554.6L228.8 1552L229.2 1553.1L229.6 1556.4L230 1552.9L230.4 1553.3L230.8 1552.8L231.2 1553.2L231.6 1554.6L232 1557L232.4 1550.8L232.8 1552.5L233.2 1554.4L233.6 1555.4L234 1554.4L234.4 1552.2L234.8 1555.9L235.2 1554.5L235.6 1555.6L236 1552L236.4 1554L236.8 1553.3L237.2 1553L237.6 1549.5L238 1549.7L238.4 1548.9L238.8 1557.6L239.2 1552L239.6 1560.7L240 1550L240.4 1555.2L240.8 1559L241.2 1551.6L241.6 1551.9L242 1556.3L242.4 1555.7L242.8 1554.1L243.2 1551.8L243.6 1553L244 1559.1L244.4 1557L244.8 1554.2L245.2 1551.4L245.6 1552.7L246 1558.9L246.4 1556.2L246.8 1547.9L247.2 1549.7L247.6 1553.5L248 1556.6L248.4 1546.8L248.8 1551.4L249.2 1555.3L249.6 1554.6L250 1546.9L250.4 1548.9L250.8 1551.9L251.2 1548.7L251.6 1551.3L252 1549.5L252.4 1552.6L252.8 1543.4L253.2 1548.7L253.6 1553.8L254 1546.2L254.4 1550.6L254.8 1547.2L255.2 1548.4L255.6 1553.4L256 1552.4L256.4 1553L256.8 1546.6L257.2 1550.9L257.6 1551.2L258 1552.6L258.4 1553.7L258.8 1543.5L259.2 1549.7L259.6 1551.5L260 1552L260.4 1549L260.8 1548.9L261.2 1550.9L261.6 1552L262 1556.1L262.4 1549.2L262.8 1551.8L263.2 1549.1L263.6 1556.7L264 1549.8L264.4 1552.7L264.8 1556.7L265.2 1549.3L265.6 1549L266 1554.4L266.4 1551L266.8 1557.4L267.2 1550.9L267.6 1550.8L268 1551.3L268.4 1554.2L268.8 1548L269.2 1553.8L269.6 1554.8L270 1548.4L270.4 1553L270.8 1552.7L271.2 1557.5L271.6 1553.7L272 1554.6L272.4 1553.8L272.8 1557.1L273.2 1556.2L273.6 1549.1L274 1555.5L274.4 1555.9L274.8 1553.3L275.2 1555.5L275.6 1555.6L276 1550.5L276.4 1553.4L276.8 1555.3L277.2 1553.5L277.6 1551.8L278 1551.2L278.4 1551.8L278.8 1549.4L279.2 1554.3L279.6 1555L280 1552.7L280.4 1558.6L280.8 1554.5L281.2 1552.6L281.6 1553.4L282 1554.2L282.4 1557.1L282.8 1553.7L283.2 1556.5L283.6 1555.3L284 1560L284.4 1556L284.8 1554.3L285.2 1547.9L285.6 1554.3L286 1557.6L286.4 1554.1L286.8 1554.4L287.2 1556L287.6 1555.7L288 1557.5L288.4 1554.2L288.8 1555.2L289.2 1554.4L289.6 1558.4L290 1560.2L290.4 1560.2L290.8 1554.7L291.2 1556.3L291.6 1557.4L292 1556.2L292.4 1554.2L292.8 1558L293.2 1557.5L293.6 1554.8L294 1558L294.4 1556L294.8 1553.3L295.2 1556.9L295.6 1561.7L296 1561.7L296.4 1561.1L296.8 1560L297.2 1561.5L297.6 1559.9L298 1561L298.4 1558.9L298.8 1564.5L299.2 1559.5L299.6 1565.1L300 1555.3L300.4 1559.3L300.8 1560.5L301.2 1562.4L301.6 1562.7L302 1559.4L302.4 1562.5L302.8 1563L303.2 1559.5L303.6 1560.9L304 1555L304.4 1557.7L304.8 1561L305.2 1559.2L305.6 1560.3L306 1556.5L306.4 1558.9L306.8 1556.2L307.2 1556.3L307.6 1557.8L308 1564.1L308.4 1559.2L308.8 1561.4L309.2 1556L309.6 1559L310 1563.3L310.4 1562L310.8 1562L311.2 1554.3L311.6 1567.6L312 1560.4L312.4 1555.3L312.8 1558.6L313.2 1556.3L313.6 1559.6L314 1555.2L314.4 1559.1L314.8 1559.4L315.2 1557.3L315.6 1561.2L316 1559.6L316.4 1557.5L316.8 1559.6L317.2 1559.9L317.6 1559.5L318 1560.9L318.4 1560.9L318.8 1564.9L319.2 1562.5L319.6 1566.2L320 1567.4L320.4 1564.4L320.8 1566.9L321.2 1563.8L321.6 1562.7L322 1566.8L322.4 1565.4L322.8 1563L323.2 1561.4L323.6 1563.6L324 1564.1L324.4 1562.4L324.8 1562.5L325.2 1562.7L325.6 1558L326 1567.1L326.4 1563.6L326.8 1556.5L327.2 1564.9L327.6 1563.4L328 1559.2L328.4 1558.6L328.8 1562.1L329.2 1559.4L329.6 1562.3L330 1564.6L330.4 1556.2L330.8 1560.4L331.2 1565.2L331.6 1566.9L332 1562.4L332.4 1559.3L332.8 1562.2L333.2 1558.5L333.6 1559.3L334 1565.1L334.4 1561.5L334.8 1562.4L335.2 1557.9L335.6 1560.2L336 1560.1L336.4 1559L336.8 1563.3L337.2 1562.3L337.6 1558.9L338 1563.9L338.4 1559.3L338.8 1557.3L339.2 1558.8L339.6 1561L340 1560.4L340.4 1558.4L340.8 1562.4L341.2 1561.4L341.6 1555.7L342 1556.9L342.4 1567L342.8 1564.8L343.2 1555.7L343.6 1566L344 1557.9L344.4 1558.6L344.8 1558.7L345.2 1560.2L345.6 1563.7L346 1564.4L346.4 1564.2L346.8 1561.2L347.2 1560.4L347.6 1558.6L348 1556.7L348.4 1564.1L348.8 1556.2L349.2 1552.4L349.6 1559.4L350 1552.9L350.4 1556.2L350.8 1555.3L351.2 1549.5L351.6 1552.2L352 1553.4L352.4 1547.3L352.8 1551.3L353.2 1548.8L353.6 1548.5L354 1551.2L354.4 1548.4L354.8 1544.6L355.2 1545.3L355.6 1550.2L356 1547.2L356.4 1548.4L356.8 1547.9L357.2 1550.4L357.6 1548.7L358 1547.3L358.4 1550.8L358.8 1551.3L359.2 1557.2L359.6 1546.2L360 1552.2L360.4 1547.2L360.8 1548.6L361.2 1550.3L361.6 1548.1L362 1549.8L362.4 1546.7L362.8 1544.3L363.2 1543.7L363.6 1535.1L364 1539.5L364.4 1541.7L364.8 1541.6L365.2 1539.4L365.6 1538.4L366 1536L366.4 1543.4L366.8 1531.1L367.2 1539L367.6 1535.7L368 1542.6L368.4 1545.4L368.8 1543L369.2 1541.8L369.6 1543.2L370 1546.5L370.4 1544.2L370.8 1554.8L371.2 1551.2L371.6 1556.9L372 1552.5L372.4 1556.9L372.8 1556.4L373.2 1557.9L373.6 1556.5L374 1564.4L374.4 1559.4L374.8 1561L375.2 1562.3L375.6 1560.1L376 1559.1L376.4 1556.5L376.8 1562.2L377.2 1558.7L377.6 1560.8L378 1562.8L378.4 1563.5L378.8 1561L379.2 1560.7L379.6 1561.7L380 1560.6L380.4 1562.4L380.8 1555.5L381.2 1560L381.6 1556.4L382 1561L382.4 1556.2L382.8 1555.3L383.2 1560.2L383.6 1561.1L384 1560.4L384.4 1556.1L384.8 1559.9L385.2 1563.1L385.6 1560.3L386 1559.3L386.4 1560.3L386.8 1561.6L387.2 1564.2L387.6 1563.6L388 1559L388.4 1554.6L388.8 1562.4L389.2 1555.8L389.6 1558.1L390 1555.1L390.4 1562.6L390.8 1555.6L391.2 1556.9L391.6 1561.2L392 1560.5L392.4 1554L392.8 1553.9L393.2 1560.2L393.6 1561.1L394 1558.5L394.4 1557.4L394.8 1553.2L395.2 1561.2L395.6 1551.8L396 1557.7L396.4 1551.7L396.8 1550.6L397.2 1550.6L397.6 1547.9L398 1548.2L398.4 1548.7L398.8 1545.4L399.2 1542.8L399.6 1538.5L400 1537.9L400.4 1540.4L400.8 1527.9L401.2 1533.3L401.6 1529.5L402 1531.9L402.4 1521.7L402.8 1530.6L403.2 1531.7L403.6 1528.3L404 1535.6L404.4 1537.1L404.8 1541.5L405.2 1544.9L405.6 1543.2L406 1546.3L406.4 1550.5L406.8 1558.9L407.2 1555.9L407.6 1551.6L408 1559.3L408.4 1555.6L408.8 1555.6L409.2 1557.1L409.6 1558L410 1559.4L410.4 1553.8L410.8 1559.9L411.2 1562.1L411.6 1557.5L412 1562.2L412.4 1560L412.8 1557.1L413.2 1563.8L413.6 1557.3L414 1558.4L414.4 1560.4L414.8 1559.8L415.2 1560.6L415.6 1563.9L416 1559.4L416.4 1555.9L416.8 1559.2L417.2 1559.1L417.6 1557.9L418 1558.9L418.4 1560.6L418.8 1565.8L419.2 1557L419.6 1559.6L420 1565.4L420.4 1569L420.8 1567.5L421.2 1567.7L421.6 1568.1L422 1567.3L422.4 1564L422.8 1565L423.2 1562L423.6 1562.2L424 1563.9L424.4 1563.1L424.8 1563.2L425.2 1560.5L425.6 1568L426 1562L426.4 1568.1L426.8 1561.7L427.2 1568.1L427.6 1564.6L428 1555.8L428.4 1561.3L428.8 1559.8L429.2 1565.4L429.6 1561.7L430 1561.6L430.4 1561.8L430.8 1559.9L431.2 1562.6L431.6 1558.2L432 1559.2L432.4 1564.4L432.8 1558.4L433.2 1554.7L433.6 1561.2L434 1560.6L434.4 1556.1L434.8 1560.2L435.2 1561.1L435.6 1555.4L436 1562.4L436.4 1555.2L436.8 1560.9L437.2 1561.1L437.6 1563L438 1561.9L438.4 1563.6L438.8 1561.3L439.2 1562.3L439.6 1562.3L440 1562.8L440.4 1565.3L440.8 1563.2L441.2 1561.8L441.6 1560.8L442 1556L442.4 1561.3L442.8 1564.7L443.2 1555.7L443.6 1564.3L444 1561.4L444.4 1560.6L444.8 1563.3L445.2 1569.4L445.6 1566.7L446 1560.7L446.4 1561.4L446.8 1554.4L447.2 1562.7L447.6 1566.1L448 1556.8L448.4 1564.4L448.8 1565.1L449.2 1565.8L449.6 1557.1L450 1567.9L450.4 1564L450.8 1564.3L451.2 1562.4L451.6 1562.7L452 1566.9L452.4 1562.7L452.8 1558.9L453.2 1563.4L453.6 1559.1L454 1564.6L454.4 1566.1L454.8 1559.8L455.2 1562.8L455.6 1565.2L456 1566L456.4 1565.2L456.8 1559.7L457.2 1558.7L457.6 1563.5L458 1565.6L458.4 1559.5L458.8 1561.6L459.2 1561L459.6 1564L460 1562.5L460.4 1564.6L460.8 1564.9L461.2 1566.4L461.6 1564.1L462 1561.7L462.4 1564.2L462.8 1561.9L463.2 1562.3L463.6 1563.2L464 1557.3L464.4 1565L464.8 1563.8L465.2 1555.9L465.6 1561.4L466 1557.8L466.4 1556.8L466.8 1556.4L467.2 1553.4L467.6 1560.3L468 1561.4L468.4 1557.3L468.8 1555.1L469.2 1554.6L469.6 1556.8L470 1558.4L470.4 1554.8L470.8 1559.5L471.2 1554.7L471.6 1558L472 1554.7L472.4 1551.6L472.8 1556.3L473.2 1563.3L473.6 1561L474 1562.2L474.4 1559.9L474.8 1560.4L475.2 1555.1L475.6 1561.8L476 1555L476.4 1560.3L476.8 1562.6L477.2 1559.7L477.6 1553.6L478 1558.4L478.4 1554.2L478.8 1561L479.2 1558.8L479.6 1556.9L480 1556.9L480.4 1556.4L480.8 1557.8L481.2 1557.5L481.6 1553.7L482 1551.1L482.4 1562.4L482.8 1561.6L483.2 1560.2L483.6 1559.6L484 1550.9L484.4 1554.9L484.8 1560.3L485.2 1555.7L485.6 1557.1L486 1561.8L486.4 1557.5L486.8 1555.2L487.2 1555.4L487.6 1552.5L488 1551.7L488.4 1551.4L488.8 1549.1L489.2 1549.2L489.6 1552L490 1547.2L490.4 1549.4L490.8 1550.2L491.2 1546L491.6 1534.8L492 1538.7L492.4 1539.8L492.8 1539.7L493.2 1531.5L493.6 1539.4L494 1528L494.4 1532L494.8 1527.5L495.2 1527.2L495.6 1524.3L496 1522.8L496.4 1523.4L496.8 1527.7L497.2 1525.3L497.6 1528.6L498 1527.5L498.4 1535L498.8 1531.6L499.2 1540.5L499.6 1537.5L500 1532.1L500.4 1538.9L500.8 1540.8L501.2 1541.8L501.6 1540.1L502 1543.7L502.4 1539.9L502.8 1540.9L503.2 1536.4L503.6 1535.4L504 1534.1L504.4 1532.8L504.8 1531.5L505.2 1530.1L505.6 1525.5L506 1528.9L506.4 1529.3L506.8 1527.1L507.2 1523L507.6 1516.9L508 1525.1L508.4 1526.1L508.8 1527.8L509.2 1526.4L509.6 1530.3L510 1535.4L510.4 1531.6L510.8 1534.3L511.2 1537.8L511.6 1540.5L512 1543L512.4 1545.7L512.8 1544.1L513.2 1544.9L513.6 1548L514 1548L514.4 1547.3L514.8 1550.9L515.2 1546.6L515.6 1551.3L516 1552.7L516.4 1550.8L516.8 1552.8L517.2 1553L517.6 1558.3L518 1554.6L518.4 1548.2L518.8 1552.7L519.2 1553.3L519.6 1556.9L520 1552.6L520.4 1550.3L520.8 1556.3L521.2 1551.6L521.6 1553.1L522 1554.3L522.4 1557.9L522.8 1554.6L523.2 1553.4L523.6 1557.2L524 1554L524.4 1554.5L524.8 1550.2L525.2 1549.2L525.6 1552.6L526 1557.3L526.4 1557.6L526.8 1552.3L527.2 1549.6L527.6 1555.4L528 1554.7L528.4 1550.6L528.8 1553.3L529.2 1552.7L529.6 1555.7L530 1552.7L530.4 1554.4L530.8 1549.8L531.2 1552.5L531.6 1546.7L532 1547.4L532.4 1551L532.8 1551.3L533.2 1544.3L533.6 1539.9L534 1543.7L534.4 1534.5L534.8 1530.8L535.2 1528.2L535.6 1527.7L536 1514.7L536.4 1508.6L536.8 1497.9L537.2 1484.6L537.6 1477.2L538 1463.6L538.4 1452.5L538.8 1442L539.2 1443.4L539.6 1438.8L540 1443.9L540.4 1450.9L540.8 1461.2L541.2 1471.1L541.6 1487.2L542 1498.1L542.4 1504.6L542.8 1516.5L543.2 1514.9L543.6 1530.8L544 1531.4L544.4 1533.7L544.8 1536.5L545.2 1536.8L545.6 1541.1L546 1543.6L546.4 1541.5L546.8 1545.6L547.2 1545.4L547.6 1542.9L548 1545.7L548.4 1547.8L548.8 1548.5L549.2 1543.1L549.6 1549.2L550 1545.7L550.4 1544.8L550.8 1543.8L551.2 1549.5L551.6 1544.2L552 1544.5L552.4 1551.8L552.8 1545.5L553.2 1547.8L553.6 1549.1L554 1546.5L554.4 1549.4L554.8 1547L555.2 1550.1L555.6 1548.6L556 1549.1L556.4 1547.5L556.8 1546.7L557.2 1548.9L557.6 1548.6L558 1548.8L558.4 1549.3L558.8 1546.5L559.2 1547.8L559.6 1549.2L560 1550.5L560.4 1548.8L560.8 1549.8L561.2 1550L561.6 1550.7L562 1548.7L562.4 1550.1L562.8 1548.8L563.2 1540.2L563.6 1543.4L564 1545.4L564.4 1548.7L564.8 1543L565.2 1538.8L565.6 1541.3L566 1540.4L566.4 1536.5L566.8 1538.6L567.2 1534.9L567.6 1535.2L568 1531.8L568.4 1531.7L568.8 1535.5L569.2 1531L569.6 1524.2L570 1520.7L570.4 1527L570.8 1520.3L571.2 1520.2L571.6 1515.2L572 1517.8L572.4 1514.3L572.8 1508.8L573.2 1509.8L573.6 1505.3L574 1504.1L574.4 1502.2L574.8 1500.8L575.2 1498.3L575.6 1501.6L576 1491.7L576.4 1490.2L576.8 1483.3L577.2 1485.1L577.6 1485.3L578 1479.3L578.4 1480.3L578.8 1480L579.2 1476.4L579.6 1473.7L580 1472L580.4 1472.9L580.8 1468.5L581.2 1468.7L581.6 1465.2L582 1462.3L582.4 1457.2L582.8 1454.2L583.2 1452.6L583.6 1455.7L584 1447.1L584.4 1444.5L584.8 1443.1L585.2 1436.1L585.6 1428.9L586 1431L586.4 1430.2L586.8 1421.8L587.2 1417.5L587.6 1421.8L588 1417.2L588.4 1427.8L588.8 1430.3L589.2 1439.6L589.6 1451.8L590 1455.6L590.4 1464.1L590.8 1472.2L591.2 1481.3L591.6 1480.4L592 1488.6L592.4 1491.6L592.8 1492.2L593.2 1497.9L593.6 1497.9L594 1501.5L594.4 1504.7L594.8 1510.1L595.2 1506.9L595.6 1512.3L596 1513.4L596.4 1512.4L596.8 1511.3L597.2 1510.4L597.6 1515.3L598 1516.9L598.4 1515.1L598.8 1511.9L599.2 1517.3L599.6 1518.2L600 1516.7L600.4 1516.1L600.8 1517.8L601.2 1515.4L601.6 1513.6L602 1514.5L602.4 1512.4L602.8 1509.5L603.2 1508.4L603.6 1499.8L604 1494.2L604.4 1492.2L604.8 1495L605.2 1480L605.6 1481.9L606 1478.7L606.4 1469.5L606.8 1476.6L607.2 1477.2L607.6 1483.1L608 1483L608.4 1494.2L608.8 1497.7L609.2 1505.5L609.6 1514.1L610 1515.1L610.4 1519.3L610.8 1528.2L611.2 1520.5L611.6 1530.7L612 1526.8L612.4 1535.9L612.8 1528.9L613.2 1528.1L613.6 1538.4L614 1534.6L614.4 1538.8L614.8 1537.8L615.2 1537.5L615.6 1540.8L616 1541.2L616.4 1537.8L616.8 1544L617.2 1544.2L617.6 1545.4L618 1543.5L618.4 1547L618.8 1546.5L619.2 1547.1L619.6 1546.3L620 1546L620.4 1543L620.8 1548.6L621.2 1544.1L621.6 1541.7L622 1538.6L622.4 1542.3L622.8 1545.6L623.2 1544.1L623.6 1539.3L624 1543.2L624.4 1547.8L624.8 1547.5L625.2 1543.5L625.6 1544.5L626 1549.8L626.4 1549.9L626.8 1544.5L627.2 1539.7L627.6 1545.3L628 1550.4L628.4 1546.9L628.8 1550.9L629.2 1549.4L629.6 1549.3L630 1548.3L630.4 1550.2L630.8 1550.1L631.2 1549.1L631.6 1547.8L632 1547.2L632.4 1554L632.8 1548.9L633.2 1549.1L633.6 1556.3L634 1554.9L634.4 1546.4L634.8 1548.6L635.2 1549L635.6 1552.2L636 1557.6L636.4 1557L636.8 1556.4L637.2 1556.6L637.6 1557L638 1558.7L638.4 1553.2L638.8 1559.8L639.2 1559L639.6 1556.8L640 1551.1L640.4 1557.6L640.8 1560.5L641.2 1557.4L641.6 1558.6L642 1563.6L642.4 1557.9L642.8 1554.1L643.2 1558.9L643.6 1552.7L644 1554.2L644.4 1551.1L644.8 1553.5L645.2 1552.3L645.6 1554.5L646 1551L646.4 1545.2L646.8 1545.2L647.2 1555.7L647.6 1551.8L648 1551L648.4 1550.6L648.8 1542.5L649.2 1547.8L649.6 1546.9L650 1544.2L650.4 1549.5L650.8 1547.6L651.2 1552.2L651.6 1548.8L652 1547.8L652.4 1550.9L652.8 1547.3L653.2 1559.7L653.6 1549.5L654 1551.5L654.4 1552.2L654.8 1560.5L655.2 1555L655.6 1555.7L656 1553.9L656.4 1559L656.8 1555.1L657.2 1556.7L657.6 1560.8L658 1558.9L658.4 1562.9L658.8 1559.2L659.2 1560.2L659.6 1560.3L660 1558.5L660.4 1558.9L660.8 1554.8L661.2 1560.1L661.6 1559.8L662 1564.2L662.4 1559.4L662.8 1556.1L663.2 1557L663.6 1561.2L664 1557.2L664.4 1558.9L664.8 1554.9L665.2 1557.6L665.6 1557.5L666 1556.2L666.4 1559.3L666.8 1559.9L667.2 1562.9L667.6 1557.9L668 1559.9L668.4 1562.2L668.8 1561.9L669.2 1559.7L669.6 1562.8L670 1562.8L670.4 1563.5L670.8 1563L671.2 1563.1L671.6 1564.2L672 1566.3L672.4 1564.4L672.8 1566.9L673.2 1563L673.6 1567.6L674 1558.9L674.4 1562.3L674.8 1563.9L675.2 1557.7L675.6 1555.7L676 1565L676.4 1565.1L676.8 1566.3L677.2 1568L677.6 1564.3L678 1560.2L678.4 1561.5L678.8 1564.2L679.2 1560L679.6 1560.6L680 1560.8L680.4 1562.6L680.8 1560L681.2 1561.7L681.6 1566.7L682 1566.9L682.4 1564.5L682.8 1566.2L683.2 1566.4L683.6 1569L684 1566.2L684.4 1560.5L684.8 1566.7L685.2 1562.5L685.6 1563L686 1559.9L686.4 1559.3L686.8 1564.3L687.2 1560.2L687.6 1566.3L688 1566.9L688.4 1559.8L688.8 1562.3L689.2 1562.3L689.6 1556.1L690 1562.6L690.4 1564.7L690.8 1563.6L691.2 1560.3L691.6 1558.8L692 1558.7L692.4 1560.2L692.8 1561.4L693.2 1557.7L693.6 1559.8L694 1558.9L694.4 1555.8L694.8 1559.4L695.2 1562.7L695.6 1559.4L696 1558.9L696.4 1556.6L696.8 1557.7L697.2 1555L697.6 1559.3L698 1557.9L698.4 1561.3L698.8 1547.2L699.2 1550.1L699.6 1550.2L700 1550.4L700.4 1554.6L700.8 1554.1L701.2 1551.8L701.6 1550.2L702 1550L702.4 1549.8L702.8 1547.8L703.2 1552.1L703.6 1555.6L704 1552.5L704.4 1554L704.8 1549.4L705.2 1546.2L705.6 1549.4L706 1550L706.4 1549.1L706.8 1553.7L707.2 1552.9L707.6 1552.4L708 1556.8L708.4 1553.6L708.8 1558.4L709.2 1558.8L709.6 1560.4L710 1561.6L710.4 1564.4L710.8 1559.5L711.2 1561.3L711.6 1560.4L712 1562.2L712.4 1562.7L712.8 1565.8L713.2 1565.6L713.6 1558.4L714 1556.1L714.4 1559.7L714.8 1552.6L715.2 1555.2L715.6 1561.4L716 1557.3L716.4 1552.8L716.8 1554.4L717.2 1552.8L717.6 1555.3L718 1549.1L718.4 1547.5L718.8 1552.4L719.2 1546.9L719.6 1548.4L720 1555.7L720.4 1549.5L720.8 1549.1L721.2 1549.2L721.6 1551.4L722 1550.7L722.4 1551.7L722.8 1556.4L723.2 1554.2L723.6 1552.4L724 1554.8L724.4 1559L724.8 1561.7L725.2 1557L725.6 1561.4L726 1561.7L726.4 1562.9L726.8 1560.1L727.2 1561.8L727.6 1563.4L728 1558.5L728.4 1563.3L728.8 1565.9L729.2 1561.4L729.6 1568.6L730 1561.1L730.4 1568.6L730.8 1563.6L731.2 1559.8L731.6 1561.6L732 1562.1L732.4 1567.2L732.8 1563.5L733.2 1567.6L733.6 1563.1L734 1567L734.4 1566.4L734.8 1571.1L735.2 1566.6L735.6 1569.9L736 1568.9L736.4 1569.8L736.8 1566.5L737.2 1564.1L737.6 1564.4L738 1565.1L738.4 1569.6L738.8 1564.4L739.2 1562.8L739.6 1565.6L740 1566.1L740.4 1563.9L740.8 1570.7L741.2 1562.6L741.6 1563.3L742 1560.4L742.4 1569L742.8 1572.5L743.2 1562.6L743.6 1564.3L744 1568.7L744.4 1566.5L744.8 1562.6L745.2 1563L745.6 1557.5L746 1572L746.4 1566.2L746.8 1566.5L747.2 1566.3L747.6 1570.2L748 1562.5L748.4 1565.9L748.8 1564.8L749.2 1563.4L749.6 1570.3L750 1563.5L750.4 1567.8L750.8 1569.8L751.2 1568.1L751.6 1567.3L752 1564.2L752.4 1568.7L752.8 1566.6L753.2 1567.1L753.6 1566.2L754 1565L754.4 1569.6L754.8 1567.9L755.2 1571.3L755.6 1569.6L756 1568L756.4 1570.3L756.8 1565.7L757.2 1571.3L757.6 1568.2L758 1567L758.4 1568.1L758.8 1571.3L759.2 1565.9L759.6 1572.7L760 1565.2L760.4 1564.7L760.8 1567.1L761.2 1563.9L761.6 1567L762 1568L762.4 1568.1L762.8 1563L763.2 1571.8L763.6 1568.8L764 1568.8L764.4 1567.2L764.8 1571.5L765.2 1567.6L765.6 1567L766 1564L766.4 1563.7L766.8 1567.3L767.2 1564.9L767.6 1571L768 1567.7L768.4 1564.5L768.8 1564.5L769.2 1567.9L769.6 1568.4L770 1566.6L770.4 1568L770.8 1563.7L771.2 1566.2L771.6 1562.5L772 1570.1L772.4 1565.7L772.8 1571.5L773.2 1565.4L773.6 1564L774 1567.6L774.4 1565.6L774.8 1569.9L775.2 1570.4L775.6 1566.3L776 1571.2L776.4 1572.1L776.8 1565.5L777.2 1565.8L777.6 1564L778 1563.6L778.4 1565.1L778.8 1568.6L779.2 1567.8L779.6 1571.1L780 1567.6L780.4 1569.8L780.8 1567.1L781.2 1569.2L781.6 1566L782 1564.8L782.4 1560.6L782.8 1565.7L783.2 1562.9L783.6 1572.2L784 1568.8L784.4 1564.8L784.8 1570.3L785.2 1574L785.6 1566L786 1565.3L786.4 1570L786.8 1572.7L787.2 1569.9L787.6 1568.6L788 1567.1L788.4 1569.7L788.8 1569.2L789.2 1568.1L789.6 1566.9L790 1572.3L790.4 1567.7L790.8 1569.8L791.2 1573L791.6 1568L792 1572.4L792.4 1573.4L792.8 1570.3L793.2 1570.6L793.6 1566.5L794 1569.1L794.4 1564.2L794.8 1567.4L795.2 1568.3L795.6 1566.7L796 1572.2L796.4 1571.3L796.8 1568.9L797.2 1572.6L797.6 1564.3L798 1565.9L798.4 1568.9L798.8 1567.7L799.2 1563L799.6 1570.1L800 1565.8L800.4 1566.4L800.8 1568L801.2 1572.7L801.6 1567.6L802 1565.6L802.4 1566.8L802.8 1571.6L803.2 1568.1L803.6 1571L804 1564.3L804.4 1564.9L804.8 1567.3L805.2 1564.3L805.6 1562.3L806 1570.7L806.4 1571.1L806.8 1568.8L807.2 1567.3L807.6 1570.6L808 1571.7L808.4 1570L808.8 1571.7L809.2 1565.8L809.6 1568.5L810 1565L810.4 1561.3L810.8 1565.9L811.2 1568.5L811.6 1569.7L812 1568.2L812.4 1568L812.8 1565L813.2 1561L813.6 1565.4L814 1570.7L814.4 1569.6L814.8 1562.9L815.2 1569.6L815.6 1565L816 1569.4L816.4 1566.1L816.8 1570.9L817.2 1569.1L817.6 1568.3L818 1569.4L818.4 1565L818.8 1567.7L819.2 1568.2L819.6 1565.3L820 1568.5L820.4 1567.3L820.8 1567.7L821.2 1567.2L821.6 1569.1L822 1569L822.4 1565.2L822.8 1569.1L823.2 1562.9L823.6 1562.5L824 1566.2L824.4 1562.7L824.8 1563.8L825.2 1563.1L825.6 1568.2L826 1562.3L826.4 1561.5L826.8 1560.7L827.2 1568.1L827.6 1565.1L828 1565L828.4 1568.3L828.8 1564.6L829.2 1560.1L829.6 1565.1L830 1564.7L830.4 1572L830.8 1566.2L831.2 1564.3L831.6 1564.2L832 1564.5L832.4 1560.3L832.8 1564.5L833.2 1564L833.6 1560.4L834 1564.9L834.4 1564.6L834.8 1560.8L835.2 1564.4L835.6 1564.4L836 1560.6L836.4 1563L836.8 1554.5L837.2 1565.5L837.6 1561L838 1563L838.4 1562.4L838.8 1551.1L839.2 1559.3L839.6 1557.2L840 1554.5L840.4 1556.7L840.8 1556.1L841.2 1553L841.6 1559.3L842 1556L842.4 1561.3L842.8 1557.1L843.2 1552.5L843.6 1565.3L844 1557.4L844.4 1557.2L844.8 1561.1L845.2 1556.5L845.6 1569.6L846 1567L846.4 1562.4L846.8 1570.1L847.2 1560.5L847.6 1565.3L848 1564.9L848.4 1566.1L848.8 1564.8L849.2 1569.3L849.6 1564.9L850 1569.6L850.4 1568.8L850.8 1564.3L851.2 1562.6L851.6 1567.5L852 1558L852.4 1564.4L852.8 1562.3L853.2 1568.3L853.6 1563.6L854 1562.8L854.4 1559.4L854.8 1559.3L855.2 1567L855.6 1562.1L856 1563.8L856.4 1562.7L856.8 1564.9L857.2 1561.1L857.6 1560.9L858 1565.3L858.4 1558.7L858.8 1565.2L859.2 1566.6L859.6 1565.2L860 1563.7L860.4 1565.8L860.8 1566L861.2 1567.3L861.6 1566L862 1567.7L862.4 1562.7L862.8 1563L863.2 1561.7L863.6 1568.7L864 1567.5L864.4 1561.4L864.8 1566.9L865.2 1564L865.6 1564.8L866 1569.8L866.4 1568.5L866.8 1565.9L867.2 1562.8L867.6 1566L868 1569.3L868.4 1563.8L868.8 1571.8L869.2 1561L869.6 1569.3L870 1562.3L870.4 1562.9L870.8 1560.1L871.2 1566.7L871.6 1565.4L872 1558.9L872.4 1561.1L872.8 1561L873.2 1561L873.6 1562L874 1563.2L874.4 1558.8L874.8 1555.6L875.2 1561.4L875.6 1560.5L876 1556.9L876.4 1561.5L876.8 1559.2L877.2 1557.8L877.6 1560.2L878 1560.4L878.4 1556.6L878.8 1554.3L879.2 1557.6L879.6 1557.7L880 1555.7L880.4 1554L880.8 1553L881.2 1555.9L881.6 1558.6L882 1554.7L882.4 1559.1L882.8 1558.2L883.2 1554L883.6 1555.9L884 1557L884.4 1556.3L884.8 1556.9L885.2 1555.8L885.6 1561.1L886 1555.4L886.4 1552.3L886.8 1549.4L887.2 1552.3L887.6 1548.7L888 1551.8L888.4 1552.9L888.8 1549.2L889.2 1548.4L889.6 1541L890 1542.6L890.4 1534.3L890.8 1537.6L891.2 1532.4L891.6 1535.6L892 1527.6L892.4 1521.6L892.8 1518.2L893.2 1514.6L893.6 1509L894 1507.2L894.4 1495.5L894.8 1490.7L895.2 1479.6L895.6 1473.1L896 1466.4L896.4 1454.7L896.8 1451.7L897.2 1441.4L897.6 1433.3L898 1424.3L898.4 1420L898.8 1415.1L899.2 1411.2L899.6 1409.8L900 1410.3L900.4 1416.6L900.8 1422.1L901.2 1424.4L901.6 1439.1L902 1449.7L902.4 1457.2L902.8 1462.6L903.2 1468.5L903.6 1478.4L904 1483.2L904.4 1498.6L904.8 1496.5L905.2 1506.7L905.6 1511.6L906 1518.2L906.4 1521.4L906.8 1521.1L907.2 1528.7L907.6 1526.1L908 1530.8L908.4 1540.5L908.8 1540.5L909.2 1541L909.6 1541.4L910 1541.7L910.4 1545.8L910.8 1548.6L911.2 1545.9L911.6 1548.5L912 1553.4L912.4 1550.6L912.8 1552L913.2 1554.5L913.6 1550.1L914 1550.5L914.4 1559.7L914.8 1548.3L915.2 1557.3L915.6 1553.9L916 1554.6L916.4 1557.7L916.8 1555.6L917.2 1553.3L917.6 1555.9L918 1555.1L918.4 1558.4L918.8 1559.2L919.2 1555.1L919.6 1552.5L920 1553.7L920.4 1561.3L920.8 1555.6L921.2 1555.1L921.6 1554.5L922 1556.9L922.4 1559.1L922.8 1555.1L923.2 1556.7L923.6 1551.6L924 1554.7L924.4 1551.2L924.8 1553.9L925.2 1556L925.6 1557.3L926 1552.6L926.4 1553.2L926.8 1554L927.2 1550.4L927.6 1554.1L928 1554.4L928.4 1552.2L928.8 1553.5L929.2 1555.4L929.6 1546.7L930 1546.7L930.4 1551.3L930.8 1544.5L931.2 1545.5L931.6 1551.7L932 1553.9L932.4 1547.3L932.8 1544.3L933.2 1548.3L933.6 1546.5L934 1551.7L934.4 1552.9L934.8 1555.3L935.2 1552.4L935.6 1556.9L936 1556L936.4 1554.7L936.8 1554.7L937.2 1554.1L937.6 1552L938 1554.6L938.4 1559.7L938.8 1555.6L939.2 1559.6L939.6 1559.2L940 1561.5L940.4 1559.1L940.8 1559.7L941.2 1552.3L941.6 1559.8L942 1557.2L942.4 1558.5L942.8 1557.8L943.2 1559.4L943.6 1558.9L944 1558.3L944.4 1559.9L944.8 1561.4L945.2 1559.7L945.6 1562.2L946 1559.2L946.4 1558.3L946.8 1557.7L947.2 1560L947.6 1560.3L948 1560.7L948.4 1554L948.8 1561.8L949.2 1559.3L949.6 1566.5L950 1561.1L950.4 1566.4L950.8 1564L951.2 1564.2L951.6 1565.7L952 1561.9L952.4 1558.9L952.8 1560.7L953.2 1565.1L953.6 1557.6L954 1559.7L954.4 1561.5L954.8 1557.3L955.2 1559.3L955.6 1562L956 1559.6L956.4 1565.5L956.8 1558.3L957.2 1558L957.6 1560.3L958 1555.1L958.4 1565.6L958.8 1557.2L959.2 1558L959.6 1560.2L960 1556.2L960.4 1562L960.8 1561.5L961.2 1561.8L961.6 1554.8L962 1563.2L962.4 1558.6L962.8 1559.1L963.2 1558.3L963.6 1563L964 1554.1L964.4 1563.8L964.8 1559.9L965.2 1555.7L965.6 1563.7L966 1556.8L966.4 1560.6L966.8 1558.6L967.2 1562.1L967.6 1554.7L968 1559.5L968.4 1562.5L968.8 1557.6L969.2 1554.5L969.6 1560L970 1558L970.4 1564.5L970.8 1559L971.2 1561.1L971.6 1557.5L972 1557.3L972.4 1554.2L972.8 1558.3L973.2 1559.6L973.6 1561.6L974 1556.4L974.4 1560.1L974.8 1561.7L975.2 1555L975.6 1556.2L976 1556.3L976.4 1557.5L976.8 1555.2L977.2 1556.6L977.6 1558.6L978 1553.9L978.4 1555.9L978.8 1553L979.2 1555L979.6 1553.6L980 1553.5L980.4 1561.3L980.8 1559.8L981.2 1559.2L981.6 1559.1L982 1559.4L982.4 1553.3L982.8 1552.1L983.2 1549.6L983.6 1551.2L984 1547.9L984.4 1544.5L984.8 1553.1L985.2 1548.2L985.6 1543.3L986 1543.3L986.4 1542.6L986.8 1537.3L987.2 1538.9L987.6 1537.5L988 1536.6L988.4 1536.1L988.8 1538.2L989.2 1535.9L989.6 1534.3L990 1533.1L990.4 1532.6L990.8 1538.3L991.2 1535.2L991.6 1533.1L992 1530.1L992.4 1530.8L992.8 1526.6L993.2 1532.8L993.6 1524.3L994 1537.3L994.4 1534.7L994.8 1532.4L995.2 1539.9L995.6 1536.6L996 1535.9L996.4 1539.8L996.8 1537.2L997.2 1539.5L997.6 1542.9L998 1544L998.4 1537.8L998.8 1542.1L999.2 1544.1L999.6 1546.1L1000 1544.9L1000.4 1542.5L1000.8 1539.6L1001.2 1533.1L1001.6 1542.9L1002 1541L1002.4 1540.3L1002.8 1544L1003.2 1538.7L1003.6 1536L1004 1542L1004.4 1535.6L1004.8 1540.3L1005.2 1535.3L1005.6 1539.2L1006 1537.8L1006.4 1537.8L1006.8 1537.4L1007.2 1536.1L1007.6 1542.9L1008 1541.7L1008.4 1546.6L1008.8 1550.8L1009.2 1545.8L1009.6 1540.7L1010 1548.2L1010.4 1552.6L1010.8 1554.1L1011.2 1553.9L1011.6 1553.1L1012 1551.4L1012.4 1553.7L1012.8 1554.9L1013.2 1556.9L1013.6 1557.9L1014 1552.3L1014.4 1552.6L1014.8 1549.9L1015.2 1556L1015.6 1553.6L1016 1553.1L1016.4 1555.9L1016.8 1555.2L1017.2 1554.6L1017.6 1551.4L1018 1542.7L1018.4 1548L1018.8 1545.7L1019.2 1545.4L1019.6 1550.7L1020 1545.4L1020.4 1549.3L1020.8 1551.2L1021.2 1550.2L1021.6 1543.8L1022 1542.7L1022.4 1541.7L1022.8 1543.9L1023.2 1541L1023.6 1540.5L1024 1540.2L1024.4 1537.5L1024.8 1542.7L1025.2 1537.2L1025.6 1540.8L1026 1540L1026.4 1540.7L1026.8 1542.9L1027.2 1541.3L1027.6 1545.1L1028 1541.9L1028.4 1544L1028.8 1548.4L1029.2 1544L1029.6 1541.4L1030 1542.6L1030.4 1549.4L1030.8 1549.2L1031.2 1553.5L1031.6 1554.2L1032 1545.4L1032.4 1552.8L1032.8 1553L1033.2 1557.7L1033.6 1555.7L1034 1555.6L1034.4 1557.3L1034.8 1557.3L1035.2 1563.5L1035.6 1559.1L1036 1558.5L1036.4 1557.8L1036.8 1555.6L1037.2 1555.2L1037.6 1555.9L1038 1558.2L1038.4 1558.1L1038.8 1558.2L1039.2 1559.9L1039.6 1552.3L1040 1557.2L1040.4 1559.9L1040.8 1554.7L1041.2 1562L1041.6 1559.2L1042 1556.3L1042.4 1562L1042.8 1561.4L1043.2 1558.3L1043.6 1564.3L1044 1561.1L1044.4 1557.7L1044.8 1563.6L1045.2 1561.1L1045.6 1562.2L1046 1562L1046.4 1564.6L1046.8 1563.7L1047.2 1559.4L1047.6 1565.4L1048 1562.4L1048.4 1558.1L1048.8 1566.1L1049.2 1565L1049.6 1564.5L1050 1562.1L1050.4 1558.4L1050.8 1560L1051.2 1565.5L1051.6 1562.6L1052 1565.2L1052.4 1565.6L1052.8 1561.3L1053.2 1563.2L1053.6 1558.3L1054 1563.3L1054.4 1558.4L1054.8 1562.3L1055.2 1560.7L1055.6 1555.5L1056 1563.6L1056.4 1560L1056.8 1562.6L1057.2 1563.2L1057.6 1561.7L1058 1562.2L1058.4 1560.2L1058.8 1564.6L1059.2 1564.6L1059.6 1560.5L1060 1560.8L1060.4 1558.2L1060.8 1561.3L1061.2 1558.3L1061.6 1557.3L1062 1559.8L1062.4 1556.8L1062.8 1560.3L1063.2 1560.3L1063.6 1567.8L1064 1559.1L1064.4 1559.4L1064.8 1558.3L1065.2 1561.3L1065.6 1557.4L1066 1559.8L1066.4 1562.3L1066.8 1563.9L1067.2 1559.3L1067.6 1561.2L1068 1555.3L1068.4 1559.7L1068.8 1562.8L1069.2 1561L1069.6 1566.5L1070 1564.1L1070.4 1560.7L1070.8 1561.1L1071.2 1561L1071.6 1560.1L1072 1565.8L1072.4 1560.3L1072.8 1566.7L1073.2 1559.1L1073.6 1564L1074 1557.2L1074.4 1557.7L1074.8 1560.5L1075.2 1557.1L1075.6 1560.4L1076 1555.4L1076.4 1564.6L1076.8 1561L1077.2 1568L1077.6 1560.3L1078 1561.7L1078.4 1560.5L1078.8 1561.5L1079.2 1560.9L1079.6 1559.6L1080 1564.9L1080.4 1562L1080.8 1561.1L1081.2 1565.1L1081.6 1565L1082 1563.5L1082.4 1562L1082.8 1559.9L1083.2 1558.2L1083.6 1561.1L1084 1557.5L1084.4 1561L1084.8 1561.7L1085.2 1557.3L1085.6 1564.5L1086 1561.6L1086.4 1560.5L1086.8 1561.5L1087.2 1552L1087.6 1559.4L1088 1559.8L1088.4 1561L1088.8 1558L1089.2 1558.3L1089.6 1561.8L1090 1556.2L1090.4 1561.6L1090.8 1557.9L1091.2 1561.4L1091.6 1559.4L1092 1556.5L1092.4 1556.5L1092.8 1556.9L1093.2 1555L1093.6 1556.9L1094 1556.5L1094.4 1555.9L1094.8 1557.7L1095.2 1556.2L1095.6 1556L1096 1555L1096.4 1554.1L1096.8 1551.8L1097.2 1550.4L1097.6 1557.2L1098 1558.3L1098.4 1556.1L1098.8 1554.9L1099.2 1550.2L1099.6 1552.4L1100 1549.5L1100.4 1549.9L1100.8 1546.3L1101.2 1549.6L1101.6 1545.9L1102 1547.4L1102.4 1547.3L1102.8 1539.1L1103.2 1540.4L1103.6 1540.7L1104 1545.6L1104.4 1538.7L1104.8 1535.4L1105.2 1534.1L1105.6 1542.5L1106 1541.1L1106.4 1539.3L1106.8 1540.7L1107.2 1542L1107.6 1542.6L1108 1534.7L1108.4 1541L1108.8 1541.7L1109.2 1541.7L1109.6 1537.6L1110 1544.5L1110.4 1543.9L1110.8 1539.8L1111.2 1544.2L1111.6 1541.9L1112 1539.5L1112.4 1544.5L1112.8 1537.6L1113.2 1541.3L1113.6 1540.8L1114 1536.9L1114.4 1539.9L1114.8 1542.3L1115.2 1536.9L1115.6 1535.7L1116 1530.8L1116.4 1530.4L1116.8 1529.5L1117.2 1524.4L1117.6 1527.5L1118 1524.4L1118.4 1523.2L1118.8 1516.2L1119.2 1520.7L1119.6 1517.5L1120 1520.5L1120.4 1520.1L1120.8 1523.8L1121.2 1525.6L1121.6 1531.2L1122 1527L1122.4 1536.1L1122.8 1535.5L1123.2 1536.9L1123.6 1540.7L1124 1537.7L1124.4 1548L1124.8 1544L1125.2 1546.7L1125.6 1546.3L1126 1552.6L1126.4 1549.3L1126.8 1552.3L1127.2 1551.3L1127.6 1558.4L1128 1558.9L1128.4 1558.7L1128.8 1557.2L1129.2 1557.6L1129.6 1560.7L1130 1558.4L1130.4 1560.6L1130.8 1557.9L1131.2 1556L1131.6 1559.3L1132 1565.3L1132.4 1561.9L1132.8 1556.4L1133.2 1560.2L1133.6 1558.4L1134 1558.9L1134.4 1558.4L1134.8 1558.2L1135.2 1557.2L1135.6 1557.2L1136 1559.3L1136.4 1561.3L1136.8 1558.2L1137.2 1566.5L1137.6 1561.5L1138 1561.5L1138.4 1564.9L1138.8 1566.1L1139.2 1562.7L1139.6 1562.3L1140 1569.6L1140.4 1564.8L1140.8 1561.2L1141.2 1566.2L1141.6 1561.8L1142 1565.8L1142.4 1564.7L1142.8 1564.5L1143.2 1560.3L1143.6 1556.4L1144 1563.9L1144.4 1562.9L1144.8 1559.1L1145.2 1558L1145.6 1564.7L1146 1556L1146.4 1558.2L1146.8 1558.2L1147.2 1557.6L1147.6 1562.6L1148 1553.7L1148.4 1557.4L1148.8 1561.9L1149.2 1560.5L1149.6 1559.5L1150 1565.1L1150.4 1561.7L1150.8 1559L1151.2 1558.1L1151.6 1561.2L1152 1563L1152.4 1560.7L1152.8 1562.4L1153.2 1561.6L1153.6 1560.1L1154 1556.9L1154.4 1560.8L1154.8 1561L1155.2 1558.9L1155.6 1562.5L1156 1559.5L1156.4 1561.8L1156.8 1561.5L1157.2 1563.4L1157.6 1560.4L1158 1562.1L1158.4 1564.7L1158.8 1563.9L1159.2 1563.6L1159.6 1567.3L1160 1562.4L1160.4 1563L1160.8 1563.1L1161.2 1565.4L1161.6 1563.1L1162 1563.4L1162.4 1561.9L1162.8 1566.9L1163.2 1567.5L1163.6 1563.8L1164 1568.6L1164.4 1566.1L1164.8 1567L1165.2 1564.9L1165.6 1568.9L1166 1569.6L1166.4 1566.4L1166.8 1572L1167.2 1567.5L1167.6 1571.8L1168 1566.8L1168.4 1566L1168.8 1571.1L1169.2 1568.9L1169.6 1571.4L1170 1568.2L1170.4 1570.7L1170.8 1570.3L1171.2 1569L1171.6 1567.6L1172 1566.5L1172.4 1568.1L1172.8 1570.9L1173.2 1568.2L1173.6 1569.2L1174 1568.8L1174.4 1568.2L1174.8 1564L1175.2 1569.7L1175.6 1569L1176 1566.6L1176.4 1567.4L1176.8 1564.4L1177.2 1569.9L1177.6 1569.5L1178 1566.2L1178.4 1569.2L1178.8 1573.2L1179.2 1571.1L1179.6 1572.3L1180 1565.1L1180.4 1567.1L1180.8 1570.8L1181.2 1567.5L1181.6 1567.6L1182 1575.2L1182.4 1567.9L1182.8 1568.2L1183.2 1570.9L1183.6 1567.5L1184 1569.8L1184.4 1567.9L1184.8 1564.7L1185.2 1571L1185.6 1566.8L1186 1565.4L1186.4 1569.3L1186.8 1571L1187.2 1572.4L1187.6 1576L1188 1571L1188.4 1566.5L1188.8 1574.2L1189.2 1572.3L1189.6 1568.8L1190 1563.5L1190.4 1571.3L1190.8 1566.7L1191.2 1570.4L1191.6 1570.2L1192 1568.5L1192.4 1570L1192.8 1569.8L1193.2 1568.2L1193.6 1570.5L1194 1569.7L1194.4 1568.1L1194.8 1569.4L1195.2 1573.8L1195.6 1573.6L1196 1574.5L1196.4 1575.7L1196.8 1569.9L1197.2 1570.5L1197.6 1569.5L1198 1572.3L1198.4 1569.2L1198.8 1570.6L1199.2 1573.4L1199.6 1574.4L1200 1578.8L1200.4 1572.5L1200.8 1571.7L1201.2 1571.4L1201.6 1575.6L1202 1575.6L1202.4 1569.1L1202.8 1571.1L1203.2 1569.9L1203.6 1573.2L1204 1572.4L1204.4 1567.7L1204.8 1570.7L1205.2 1575.9L1205.6 1570.5L1206 1572.4L1206.4 1570.4L1206.8 1574.2L1207.2 1570.1L1207.6 1574.2L1208 1570.4L1208.4 1572.1L1208.8 1574.8L1209.2 1571.3L1209.6 1567.7L1210 1569.1L1210.4 1564.4L1210.8 1570L1211.2 1572.2L1211.6 1574.2L1212 1562.6L1212.4 1570.6L1212.8 1567.8L1213.2 1568.6L1213.6 1569.8L1214 1570.9L1214.4 1568.7L1214.8 1569.7L1215.2 1568.7L1215.6 1573.2L1216 1568.9L1216.4 1569.3L1216.8 1572.6L1217.2 1567.2L1217.6 1566.1L1218 1571.8L1218.4 1568.4L1218.8 1570.7L1219.2 1568.9L1219.6 1571.8L1220 1569.4L1220.4 1570.3L1220.8 1575.1L1221.2 1572.3L1221.6 1570.8L1222 1573.4L1222.4 1571L1222.8 1571L1223.2 1571.1L1223.6 1565.8L1224 1567.5L1224.4 1574.6L1224.8 1568.6L1225.2 1569.6L1225.6 1568.9L1226 1567.9L1226.4 1565.4L1226.8 1567.8L1227.2 1572.6L1227.6 1570.8L1228 1575.8L1228.4 1564.1L1228.8 1575.2L1229.2 1570.8L1229.6 1564.4L1230 1569.2L1230.4 1572.8L1230.8 1571.8L1231.2 1572.5L1231.6 1573.8L1232 1569.6L1232.4 1574L1232.8 1571.4L1233.2 1570L1233.6 1572L1234 1575.6L1234.4 1574.7L1234.8 1574.9L1235.2 1573.3L1235.6 1571.2L1236 1566.8L1236.4 1573.2L1236.8 1576.4L1237.2 1568.6L1237.6 1572.8L1238 1576.3L1238.4 1573.9L1238.8 1575.3L1239.2 1578.8L1239.6 1575.8L1240 1575.3L1240.4 1570L1240.8 1578.9L1241.2 1573.8L1241.6 1570.6L1242 1574.8L1242.4 1574.9L1242.8 1568.2L1243.2 1571.4L1243.6 1568.1L1244 1564.8L1244.4 1566.3L1244.8 1564.3L1245.2 1567.6L1245.6 1570.2L1246 1565.2L1246.4 1573.5L1246.8 1571.9L1247.2 1566.7L1247.6 1565.4L1248 1568.7L1248.4 1566.5L1248.8 1567.9L1249.2 1574.7L1249.6 1579.4L1250 1570.9L1250.4 1572.5L1250.8 1576.3L1251.2 1571.3L1251.6 1573.9L1252 1575.3L1252.4 1571.5L1252.8 1574.2L1253.2 1574.1L1253.6 1578L1254 1571.6L1254.4 1571.7L1254.8 1574.1L1255.2 1566.1L1255.6 1566.4L1256 1570.3L1256.4 1572.9L1256.8 1569.6L1257.2 1572.7L1257.6 1574.2L1258 1570.5L1258.4 1565.7L1258.8 1571.9L1259.2 1569.1L1259.6 1568.5L1260 1566.3L1260.4 1568.8L1260.8 1562.7L1261.2 1571.7L1261.6 1566.3L1262 1568.1L1262.4 1570.3L1262.8 1569.8L1263.2 1571.8L1263.6 1570.1L1264 1568.7L1264.4 1575.4L1264.8 1569.8L1265.2 1573.1L1265.6 1571L1266 1569.2L1266.4 1571.6L1266.8 1567.9L1267.2 1571.8L1267.6 1571.5L1268 1571.4L1268.4 1568.7L1268.8 1574.8L1269.2 1571.5L1269.6 1573L1270 1570.7L1270.4 1569.8L1270.8 1570.8L1271.2 1564.4L1271.6 1570.4L1272 1570.7L1272.4 1570.4L1272.8 1575.3L1273.2 1568L1273.6 1572.5L1274 1570.4L1274.4 1571.9L1274.8 1573L1275.2 1570.1L1275.6 1568.1L1276 1568.3L1276.4 1568.5L1276.8 1570.7L1277.2 1571.5L1277.6 1566.9L1278 1571.2L1278.4 1568L1278.8 1567L1279.2 1569.3L1279.6 1562.8L1280 1567.7L1280.4 1568.4L1280.8 1565.4L1281.2 1574L1281.6 1571.3L1282 1569.6L1282.4 1567.6L1282.8 1571.3L1283.2 1569.2L1283.6 1571.2L1284 1567.8L1284.4 1566.9L1284.8 1569.8L1285.2 1569.9L1285.6 1569.6L1286 1570.6L1286.4 1566.6L1286.8 1568.3L1287.2 1568.7L1287.6 1569.8L1288 1571.2L1288.4 1567.9L1288.8 1573L1289.2 1571.9L1289.6 1570.3L1290 1569.8L1290.4 1573.3L1290.8 1571.7L1291.2 1570.1L1291.6 1573.5L1292 1572.3L1292.4 1571.2L1292.8 1572.4L1293.2 1572.1L1293.6 1570.1L1294 1569.2L1294.4 1576.2L1294.8 1573.3L1295.2 1570.9L1295.6 1573.6L1296 1571.7L1296.4 1572.4L1296.8 1567L1297.2 1574.2L1297.6 1578.7L1298 1574.7L1298.4 1566.9L1298.8 1574L1299.2 1573.6L1299.6 1573L1300 1573.3L1300.4 1572.4L1300.8 1568.9L1301.2 1570L1301.6 1571.2L1302 1569.8L1302.4 1567L1302.8 1568.6L1303.2 1569L1303.6 1575L1304 1565.2L1304.4 1568.9L1304.8 1567.3L1305.2 1570.1L1305.6 1567.5L1306 1575.7L1306.4 1572.6L1306.8 1569.3L1307.2 1572L1307.6 1574.8L1308 1571.3L1308.4 1570.8L1308.8 1570.2L1309.2 1571.6L1309.6 1570L1310 1568L1310.4 1569.7L1310.8 1570.5L1311.2 1571.5L1311.6 1570.1L1312 1572.5L1312.4 1572.7L1312.8 1570.3L1313.2 1567.6L1313.6 1570.2L1314 1568.9L1314.4 1575.7L1314.8 1570.4L1315.2 1569.2L1315.6 1579.8L1316 1573.1L1316.4 1571.9L1316.8 1570.8L1317.2 1571.2L1317.6 1575.6L1318 1573.7L1318.4 1574.6L1318.8 1568.6L1319.2 1573.9L1319.6 1573L1320 1567.1L1320.4 1570.2L1320.8 1569.7L1321.2 1565.4L1321.6 1568.1L1322 1570.5L1322.4 1573.9L1322.8 1573.6L1323.2 1562.5L1323.6 1567.2L1324 1573.7L1324.4 1569.1L1324.8 1571.2L1325.2 1564.5L1325.6 1571L1326 1569.9L1326.4 1570.3L1326.8 1570.2L1327.2 1570.2L1327.6 1572L1328 1576.4L1328.4 1571.7L1328.8 1569.5L1329.2 1567.9L1329.6 1568.9L1330 1568L1330.4 1569.3L1330.8 1571.8L1331.2 1570.9L1331.6 1567.7L1332 1573.9L1332.4 1570.5L1332.8 1572.9L1333.2 1568.3L1333.6 1572L1334 1569.6L1334.4 1567.2L1334.8 1573.1L1335.2 1568L1335.6 1575.6L1336 1571.3L1336.4 1572.3L1336.8 1572.3L1337.2 1573.2L1337.6 1567.5L1338 1570.6L1338.4 1568.1L1338.8 1569.3L1339.2 1573.7L1339.6 1568.1L1340 1569.7L1340.4 1571.9L1340.8 1568.4L1341.2 1564.5L1341.6 1568.2L1342 1570.5L1342.4 1570.7L1342.8 1567.1L1343.2 1575L1343.6 1571.5L1344 1569.7L1344.4 1571.2L1344.8 1568.9L1345.2 1575.4L1345.6 1574.6L1346 1574.4L1346.4 1577L1346.8 1571.5L1347.2 1574L1347.6 1572.5L1348 1577L1348.4 1574.9L1348.8 1575.4L1349.2 1576.9L1349.6 1574.6L1350 1573.8L1350.4 1575.8L1350.8 1577.1L1351.2 1573.1L1351.6 1575L1352 1575.9L1352.4 1577L1352.8 1577.6L1353.2 1570.9L1353.6 1574.9L1354 1574.4L1354.4 1569.2L1354.8 1572.7L1355.2 1570.7L1355.6 1567.1L1356 1575.8L1356.4 1577.2L1356.8 1572.8L1357.2 1571.5L1357.6 1572L1358 1567.9L1358.4 1566.7L1358.8 1576.4L1359.2 1564.4L1359.6 1572.7L1360 1572.8L1360.4 1568.7L1360.8 1567.9L1361.2 1564.7L1361.6 1571.7L1362 1574L1362.4 1575.3L1362.8 1569.1L1363.2 1572L1363.6 1574.1L1364 1574.5L1364.4 1569L1364.8 1568.1L1365.2 1567.6L1365.6 1569.8L1366 1569.9L1366.4 1574.3L1366.8 1574.3L1367.2 1575L1367.6 1576.2L1368 1572.5L1368.4 1578.2L1368.8 1571.1L1369.2 1581.5L1369.6 1579.1L1370 1576.1L1370.4 1577.1L1370.8 1575.7L1371.2 1572.7L1371.6 1571.2L1372 1582.6L1372.4 1582.8L1372.8 1582.3L1373.2 1578.6L1373.6 1570.4L1374 1576.3L1374.4 1568.2L1374.8 1572.3L1375.2 1574L1375.6 1568.6L1376 1569.1L1376.4 1567.6L1376.8 1567.9L1377.2 1574.6L1377.6 1570L1378 1569.1L1378.4 1570.8L1378.8 1571.4L1379.2 1568.1L1379.6 1566.9L1380 1567.7L1380.4 1565.9L1380.8 1570L1381.2 1568.7L1381.6 1567L1382 1570.9L1382.4 1569.8L1382.8 1571.5L1383.2 1569.2L1383.6 1567.6L1384 1561.9L1384.4 1572.3L1384.8 1572.5L1385.2 1565.2L1385.6 1573.1L1386 1569.5L1386.4 1568.8L1386.8 1568.5L1387.2 1563.7L1387.6 1573.1L1388 1565L1388.4 1567.2L1388.8 1567.2L1389.2 1569.8L1389.6 1567.7L1390 1572L1390.4 1568.1L1390.8 1563.7L1391.2 1566.1L1391.6 1573.5L1392 1565.3L1392.4 1567L1392.8 1563.6L1393.2 1564.8L1393.6 1565.2L1394 1567.9L1394.4 1568.3L1394.8 1570.2L1395.2 1567.3L1395.6 1567.7L1396 1565L1396.4 1563.1L1396.8 1569.6L1397.2 1569.1L1397.6 1572.5L1398 1571.4L1398.4 1570.9L1398.8 1566.8L1399.2 1569.6L1399.6 1564.6L1400 1564.9L1400.4 1564.4L1400.8 1570.4L1401.2 1567.2L1401.6 1564.8L1402 1571.4L1402.4 1564.5L1402.8 1562.2L1403.2 1564.3L1403.6 1566.3L1404 1568.6L1404.4 1561.9L1404.8 1567.8L1405.2 1563.3L1405.6 1569L1406 1565.5L1406.4 1563.7L1406.8 1562.9L1407.2 1563.2L1407.6 1563.3L1408 1568.4L1408.4 1566.5L1408.8 1564.7L1409.2 1567.4L1409.6 1565.5L1410 1565L1410.4 1564.2L1410.8 1568.4L1411.2 1566.5L1411.6 1570.5L1412 1568L1412.4 1561.2L1412.8 1566.5L1413.2 1568.7L1413.6 1573L1414 1567.6L1414.4 1569.1L1414.8 1575.8L1415.2 1566.8L1415.6 1568L1416 1565.1L1416.4 1571.6L1416.8 1567.4L1417.2 1572L1417.6 1566.2L1418 1565.6L1418.4 1576.1L1418.8 1572.9L1419.2 1573.7L1419.6 1567.6L1420 1569.7L1420.4 1570.3L1420.8 1568.6L1421.2 1573L1421.6 1570.5L1422 1571.5L1422.4 1571.8L1422.8 1572L1423.2 1572L1423.6 1570.1L1424 1574L1424.4 1570.2L1424.8 1575.3L1425.2 1577.7L1425.6 1573.1L1426 1576.9L1426.4 1571.5L1426.8 1572L1427.2 1567.5L1427.6 1575.1L1428 1570L1428.4 1571.3L1428.8 1569.9L1429.2 1575.4L1429.6 1575.1L1430 1572.5L1430.4 1574.7L1430.8 1576.4L1431.2 1573L1431.6 1577.3L1432 1571.2L1432.4 1570.4L1432.8 1571.9L1433.2 1570.1L1433.6 1577.9L1434 1575.8L1434.4 1576.2L1434.8 1576.7L1435.2 1581L1435.6 1572.9L1436 1576.9L1436.4 1573.4L1436.8 1576.3L1437.2 1580.8L1437.6 1578L1438 1573.3L1438.4 1577.2L1438.8 1572.5L1439.2 1576.5L1439.6 1574.1L1440 1576.6L1440.4 1575.7L1440.8 1577.3L1441.2 1572.8L1441.6 1578.5L1442 1576.9L1442.4 1574.3L1442.8 1574.9L1443.2 1573.1L1443.6 1577.9L1444 1569.5L1444.4 1579.8L1444.8 1579.9L1445.2 1575L1445.6 1574L1446 1571.1L1446.4 1576.1L1446.8 1573.6L1447.2 1571L1447.6 1569.8L1448 1574.6L1448.4 1572.8L1448.8 1571.5L1449.2 1574.6L1449.6 1573L1450 1578.3L1450.4 1577.5L1450.8 1575.3L1451.2 1576.6L1451.6 1575.1L1452 1578.2L1452.4 1579.3L1452.8 1578.6L1453.2 1574.5L1453.6 1575.2L1454 1573.1L1454.4 1571.7L1454.8 1576.8L1455.2 1571.8L1455.6 1576.5L1456 1571.4L1456.4 1576.4L1456.8 1572.6L1457.2 1569.6L1457.6 1574.5L1458 1569.8L1458.4 1578.5L1458.8 1572.1L1459.2 1570.3L1459.6 1569.9L1460 1569.1L1460.4 1573.9L1460.8 1567.8L1461.2 1567.7L1461.6 1569.7L1462 1571.3L1462.4 1568.3L1462.8 1569L1463.2 1566.4L1463.6 1569.2L1464 1572.2L1464.4 1570.6L1464.8 1572.8L1465.2 1569.7L1465.6 1572.4L1466 1571.7L1466.4 1568.3L1466.8 1572.1L1467.2 1571L1467.6 1566.2L1468 1571.5L1468.4 1566.5L1468.8 1569.7L1469.2 1566.8L1469.6 1568.7L1470 1569.7L1470.4 1574.8L1470.8 1565.3L1471.2 1570.4L1471.6 1577.6L1472 1570.2L1472.4 1576.2L1472.8 1566.9L1473.2 1566.6L1473.6 1567.1L1474 1568.6L1474.4 1566.8L1474.8 1572.5L1475.2 1569.4L1475.6 1563.9L1476 1572.5L1476.4 1568L1476.8 1568.8L1477.2 1562.9L1477.6 1568.6L1478 1569.8L1478.4 1565.7L1478.8 1573.3L1479.2 1572.1L1479.6 1566.4L1480 1569.3L1480.4 1571.6L1480.8 1569.1L1481.2 1573.6L1481.6 1575.1L1482 1574.4L1482.4 1572.1L1482.8 1572.1L1483.2 1563.8L1483.6 1571.6L1484 1569.1L1484.4 1570.3L1484.8 1570.8L1485.2 1566.6L1485.6 1567.1L1486 1570.7L1486.4 1572L1486.8 1561.6L1487.2 1570L1487.6 1570.3L1488 1564.9L1488.4 1565.4L1488.8 1570.7L1489.2 1569.1L1489.6 1560.9L1490 1572.9L1490.4 1566.5L1490.8 1567.5L1491.2 1567.2L1491.6 1565.4L1492 1572.7L1492.4 1566.1L1492.8 1563L1493.2 1572.6L1493.6 1565.3L1494 1574.5L1494.4 1569.9L1494.8 1569.5L1495.2 1569.1L1495.6 1575.4L1496 1563.4L1496.4 1564.6L1496.8 1571.1L1497.2 1570.4L1497.6 1570.1L1498 1564.8L1498.4 1568.7L1498.8 1571.8L1499.2 1567.6L1499.6 1576.1L1500 1570.6L1500.4 1569L1500.8 1569.4L1501.2 1568.5L1501.6 1570.1L1502 1566.8L1502.4 1568L1502.8 1575.4L1503.2 1571.4L1503.6 1568.8L1504 1574.6L1504.4 1566.2L1504.8 1569.9L1505.2 1570.2L1505.6 1564.7L1506 1570.9L1506.4 1569.1L1506.8 1568.9L1507.2 1562.7L1507.6 1572.3L1508 1566L1508.4 1568.9L1508.8 1574.8L1509.2 1571.4L1509.6 1569.9L1510 1565.6L1510.4 1569.9L1510.8 1574.7L1511.2 1568.3L1511.6 1570.4L1512 1569.6L1512.4 1566.4L1512.8 1572.7L1513.2 1572.3L1513.6 1571.5L1514 1573.8L1514.4 1574.8L1514.8 1571.9L1515.2 1574.2L1515.6 1566.5L1516 1572.5L1516.4 1577.5L1516.8 1570.4L1517.2 1569.1L1517.6 1571.3L1518 1571.1L1518.4 1569L1518.8 1565.7L1519.2 1569.7L1519.6 1563L1520 1568.8"/></g>
<g>
<rect x="298.4" y="1162.6" width="177.4" height="10" fill="#fff"/>
<rect x="323.8" y="1170.6" width="146.8" height="118.4" fill="none" stroke="#a8a8a8" stroke-width="1"/>
<path d="M353.5 1289v-1.5M397.5 1289v-1.5M441.5 1289v-1.5" stroke="#a8a8a8" stroke-width="1" fill="none"/>
<path d="M324.2 1240.6L324.7 1238.6L325.2 1245.5L325.7 1238.9L326.2 1239.8L326.7 1243.7L327.2 1237.2L327.7 1238.1L328.2 1240.1L328.7 1238.8L329.2 1236.6L329.7 1239.2L330.2 1238.8L330.7 1241.4L331.2 1235.5L331.7 1238L332.2 1242.9L332.7 1244.7L333.2 1236L333.7 1241.6L334.2 1237.3L334.7 1237.6L335.2 1237.6L335.7 1238.7L336.2 1242.3L336.7 1241.5L337.2 1239.8L337.7 1238.6L338.2 1239.5L338.7 1239.2L339.2 1241.5L339.7 1237.7L340.2 1239.3L340.7 1239L341.2 1239L341.7 1239.8L342.2 1239.6L342.7 1242.5L343.2 1238.7L343.7 1242.9L344.2 1237.9L344.7 1237.4L345.2 1238.7L345.7 1239.2L346.2 1238.8L346.7 1241.2L347.2 1240.6L347.7 1238.6L348.2 1236.2L348.7 1236.5L349.2 1240.2L349.7 1236.8L350.2 1232.6L350.7 1233.9L351.2 1233.9L351.7 1238L352.2 1234.4L352.7 1240.2L353.2 1235.6L353.7 1233.8L354.2 1232L354.7 1235.2L355.2 1231.6L355.7 1229.6L356.2 1232.7L356.7 1230.8L357.2 1233.3L357.7 1229.4L358.2 1223L358.7 1230.4L359.2 1222.7L359.7 1230.9L360.2 1230.9L360.7 1224.3L361.2 1221.7L361.7 1220.4L362.2 1225.6L362.7 1222.2L363.2 1220.5L363.7 1220.9L364.2 1226.3L364.7 1221.3L365.2 1221.8L365.7 1221.3L366.2 1221.5L366.7 1221.2L367.2 1216.2L367.7 1217.2L368.2 1215.6L368.7 1215.5L369.2 1220.2L369.7 1215.8L370.2 1216.9L370.7 1215.2L371.2 1215.4L371.7 1219L372.2 1215.8L372.7 1215.7L373.2 1218.2L373.7 1218.3L374.2 1219.1L374.7 1217.5L375.2 1212.5L375.7 1218.8L376.2 1218.6L376.7 1220L377.2 1215.4L377.7 1223.7L378.2 1214.8L378.7 1220.1L379.2 1218.7L379.7 1217.6L380.2 1221.4L380.7 1218.9L381.2 1214L381.7 1217.4L382.2 1222L382.7 1227L383.2 1217.8L383.7 1222L384.2 1226.2L384.7 1224.5L385.2 1222.4L385.7 1220.1L386.2 1219.6L386.7 1222.7L387.2 1224.1L387.7 1219.7L388.2 1221.6L388.7 1227.2L389.2 1225.8L389.7 1225.3L390.2 1226.6L390.7 1226L391.2 1231L391.7 1233.2L392.2 1234.7L392.7 1231.4L393.2 1231.7L393.7 1233.7L394.2 1234.5L394.7 1233.8L395.2 1233.2L395.7 1228.3L396.2 1225.9L396.7 1232.4L397.2 1230L397.7 1230.3L398.2 1228.3L398.7 1227.5L399.2 1234.9L399.7 1232.8L400.2 1229.2L400.7 1233.3L401.2 1233.5L401.7 1234.4L402.2 1239.2L402.7 1233.6L403.2 1230.7L403.7 1234.4L404.2 1233L404.7 1236.4L405.2 1235.8L405.7 1236.5L406.2 1234.4L406.7 1237.3L407.2 1235.1L407.7 1238.1L408.2 1236.2L408.7 1234.2L409.2 1238.6L409.7 1235.6L410.2 1241.3L410.7 1238.8L411.2 1238.9L411.7 1238L412.2 1237.7L412.7 1231.9L413.2 1241.1L413.7 1235.9L414.2 1240.6L414.7 1236.5L415.2 1237.8L415.7 1237.7L416.2 1235.6L416.7 1238L417.2 1239.7L417.7 1237.5L418.2 1235.3L418.7 1237.2L419.2 1239.4L419.7 1241.8L420.2 1241.1L420.7 1239.8L421.2 1236.5L421.7 1241.6L422.2 1239.3L422.7 1238.8L423.2 1241.8L423.7 1241.2L424.2 1240.9L424.7 1236.7L425.2 1238.2L425.7 1235.5L426.2 1240.5L426.7 1240.2L427.2 1242.6L427.7 1240.8L428.2 1239.4L428.7 1245.9L429.2 1237.8L429.7 1237.1L430.2 1239L430.7 1242L431.2 1239.8L431.7 1239.6L432.2 1237.9L432.7 1244.7L433.2 1239.2L433.7 1238.1L434.2 1240.6L434.7 1238.9L435.2 1240.4L435.7 1244.5L436.2 1239.9L436.7 1241L437.2 1240.2L437.7 1240.7L438.2 1243.4L438.7 1242.7L439.2 1240.5L439.7 1239.1L440.2 1241.4L440.7 1244L441.2 1242L441.7 1242L442.2 1237.9L442.7 1245.4L443.2 1239.2L443.7 1240L444.2 1242.5L444.7 1243.8L445.2 1244L445.7 1242L446.2 1243.3L446.7 1242.7L447.2 1239.7L447.7 1243.8L448.2 1242.8L448.7 1245.8L449.2 1244.4L449.7 1247.4L450.2 1246.8L450.7 1247.4L451.2 1248.3L451.7 1247L452.2 1244.8L452.7 1248.8L453.2 1243L453.7 1245.3L454.2 1247.7L454.7 1244.8L455.2 1247.4L455.7 1243.5L456.2 1244.3L456.7 1247.2L457.2 1247.7L457.7 1249L458.2 1245.8L458.7 1246.9L459.2 1247.9L459.7 1247.6L460.2 1243.1L460.7 1245.2L461.2 1250.6L461.7 1243.7L462.2 1248.8L462.7 1246.1L463.2 1250L463.7 1245.5L464.2 1247.7L464.7 1242.4L465.2 1247.7L465.7 1250.6L466.2 1244L466.7 1251.1L467.2 1246.2L467.7 1247.9L468.2 1242.2L468.7 1251L469.2 1246L469.7 1246.9L470.2 1245.0" stroke="#ff2020" stroke-width="1.5" fill="none" stroke-linejoin="round"/>
<path d="M415.4 1179.6H445.5" stroke="#ff2020" stroke-width="1.8" fill="none"/>
<text x="448.6" y="1184.5" font-size="14" style="font-weight:normal">CN</text>
<text x="353.9" y="1303.9" font-size="12.8" text-anchor="middle">12</text>
<text x="397.7" y="1303.9" font-size="12.8" text-anchor="middle">15</text>
<text x="441.6" y="1303.9" font-size="12.8" text-anchor="middle">18</text>
<text x="386.7" y="1314.1" font-size="10" text-anchor="middle" style="font-family:'Liberation Serif',serif">2θ</text>
<text transform="translate(318.1,1274.3) rotate(-90)" font-size="13.3">Intensity (a.u)</text>
<polygon points="229,1330.5 264.3,1302.1 269.3,1308 300.5,1294.1 303.1,1298.8 272.1,1313.4 274.9,1322.6" fill="#000" shape-rendering="crispEdges"/>
</g>
<text x="1499.8" y="83.2" font-size="56.5" text-anchor="end">50CN/NCS</text>
<text x="1502.8" y="307.5" font-size="56.5" text-anchor="end">40CN/NCS</text>
<text x="1490.0" y="531.3" font-size="56.5" text-anchor="end">30CN/NCS</text>
<text x="1497.1" y="772.0" font-size="56.5" text-anchor="end">20CN/NCS</text>
<text x="1499.8" y="999.2" font-size="56.5" text-anchor="end">10CN/NCS</text>
<text x="1508.5" y="1233.2" font-size="56.5" text-anchor="end">CN</text>
<text x="1499.6" y="1477.0" font-size="56.5" text-anchor="end">NCS</text>
<text x="1500.8" y="1685.1" font-size="50.5" text-anchor="end">NiCo<tspan font-size="31" dy="13.5">2</tspan><tspan dy="-13.5">S</tspan><tspan font-size="31" dy="13.5">4</tspan><tspan dy="-13.5">: pdf # 20-0782</tspan></text>
<text x="1484.6" y="1896.0" font-size="47.5" text-anchor="end">Co<tspan font-size="29" dy="12">9</tspan><tspan dy="-12">S</tspan><tspan font-size="29" dy="12">8</tspan><tspan dy="-12">: pdf # 73-1442</tspan></text>
<text x="358.7" y="2174.4" font-size="83.5" text-anchor="middle" textLength="90.8" lengthAdjust="spacingAndGlyphs">20</text>
<text x="552.3" y="2174.4" font-size="83.5" text-anchor="middle" textLength="90.8" lengthAdjust="spacingAndGlyphs">30</text>
<text x="744.5" y="2174.4" font-size="83.5" text-anchor="middle" textLength="90.8" lengthAdjust="spacingAndGlyphs">40</text>
<text x="939.0" y="2174.4" font-size="83.5" text-anchor="middle" textLength="90.8" lengthAdjust="spacingAndGlyphs">50</text>
<text x="1131.8" y="2174.4" font-size="83.5" text-anchor="middle" textLength="90.8" lengthAdjust="spacingAndGlyphs">60</text>
<text x="1325.0" y="2174.4" font-size="83.5" text-anchor="middle" textLength="90.8" lengthAdjust="spacingAndGlyphs">70</text>
<text y="2286.7" font-size="88.3"><tspan x="580.2">2</tspan><tspan x="629.5" y="2286.5" font-size="85.2" stroke="#000" stroke-width="1.2" textLength="48.16" lengthAdjust="spacingAndGlyphs" style="font-family:'Liberation Serif',serif;font-weight:normal">θ</tspan><tspan x="673.15" y="2286.7" xml:space="preserve"> (degree)</tspan></text>
<text transform="translate(94.8,1396.5) rotate(-90)" font-size="89">Intensity (a.u)</text>
</svg>
</body></html>
